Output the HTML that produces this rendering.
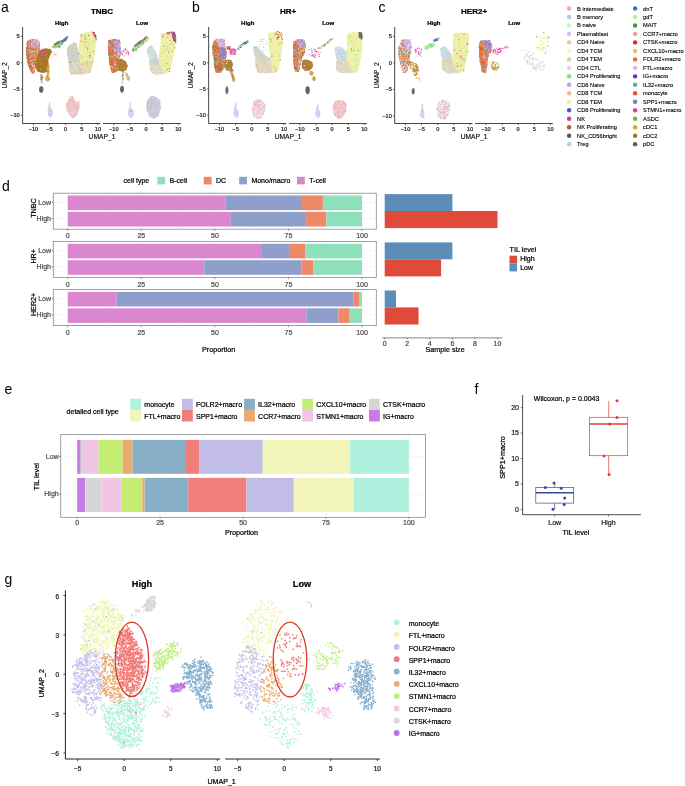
<!DOCTYPE html><html><head><meta charset="utf-8"><style>html,body{margin:0;padding:0;background:#fff;overflow:hidden;}svg{display:block;will-change:transform;}text{font-family:"Liberation Sans", sans-serif;}</style></head><body><svg width="685" height="786" viewBox="0 0 685 786">
<defs><filter id="bl" x="-5%" y="-5%" width="110%" height="110%"><feGaussianBlur stdDeviation="0.45"/></filter></defs><rect width="685" height="786" fill="#fff"/>
<text x="1.10" y="12.20" font-size="14" text-anchor="start" fill="#000">a</text><text x="102.00" y="13.60" font-size="8" text-anchor="middle" font-weight="bold" fill="#000" stroke="#000" stroke-width="0.22">TNBC</text><text x="61.70" y="25.20" font-size="6" text-anchor="middle" font-weight="bold" fill="#000" stroke="#000" stroke-width="0.22">High</text><text x="142.10" y="25.20" font-size="6" text-anchor="middle" font-weight="bold" fill="#000" stroke="#000" stroke-width="0.22">Low</text><line x1="22.60" y1="27.00" x2="22.60" y2="123.50" stroke="#333" stroke-width="0.9"/><line x1="22.60" y1="123.50" x2="100.40" y2="123.50" stroke="#333" stroke-width="0.9"/><line x1="33.40" y1="123.50" x2="33.40" y2="125.20" stroke="#333" stroke-width="0.7"/><text x="33.40" y="131.20" font-size="5.6" text-anchor="middle" fill="#1a1a1a" stroke="#1a1a1a" stroke-width="0.22">−10</text><line x1="49.53" y1="123.50" x2="49.53" y2="125.20" stroke="#333" stroke-width="0.7"/><text x="49.53" y="131.20" font-size="5.6" text-anchor="middle" fill="#1a1a1a" stroke="#1a1a1a" stroke-width="0.22">−5</text><line x1="65.65" y1="123.50" x2="65.65" y2="125.20" stroke="#333" stroke-width="0.7"/><text x="65.65" y="131.20" font-size="5.6" text-anchor="middle" fill="#1a1a1a" stroke="#1a1a1a" stroke-width="0.22">0</text><line x1="81.78" y1="123.50" x2="81.78" y2="125.20" stroke="#333" stroke-width="0.7"/><text x="81.78" y="131.20" font-size="5.6" text-anchor="middle" fill="#1a1a1a" stroke="#1a1a1a" stroke-width="0.22">5</text><line x1="97.90" y1="123.50" x2="97.90" y2="125.20" stroke="#333" stroke-width="0.7"/><text x="97.90" y="131.20" font-size="5.6" text-anchor="middle" fill="#1a1a1a" stroke="#1a1a1a" stroke-width="0.22">10</text><line x1="20.90" y1="36.45" x2="22.60" y2="36.45" stroke="#333" stroke-width="0.7"/><text x="19.70" y="38.45" font-size="5.6" text-anchor="end" fill="#1a1a1a" stroke="#1a1a1a" stroke-width="0.22">5</text><line x1="20.90" y1="62.70" x2="22.60" y2="62.70" stroke="#333" stroke-width="0.7"/><text x="19.70" y="64.70" font-size="5.6" text-anchor="end" fill="#1a1a1a" stroke="#1a1a1a" stroke-width="0.22">0</text><line x1="20.90" y1="88.95" x2="22.60" y2="88.95" stroke="#333" stroke-width="0.7"/><text x="19.70" y="90.95" font-size="5.6" text-anchor="end" fill="#1a1a1a" stroke="#1a1a1a" stroke-width="0.22">−5</text><line x1="20.90" y1="115.20" x2="22.60" y2="115.20" stroke="#333" stroke-width="0.7"/><text x="19.70" y="117.20" font-size="5.6" text-anchor="end" fill="#1a1a1a" stroke="#1a1a1a" stroke-width="0.22">−10</text><line x1="103.00" y1="123.50" x2="180.80" y2="123.50" stroke="#333" stroke-width="0.9"/><line x1="113.80" y1="123.50" x2="113.80" y2="125.20" stroke="#333" stroke-width="0.7"/><text x="113.80" y="131.20" font-size="5.6" text-anchor="middle" fill="#1a1a1a" stroke="#1a1a1a" stroke-width="0.22">−10</text><line x1="129.93" y1="123.50" x2="129.93" y2="125.20" stroke="#333" stroke-width="0.7"/><text x="129.93" y="131.20" font-size="5.6" text-anchor="middle" fill="#1a1a1a" stroke="#1a1a1a" stroke-width="0.22">−5</text><line x1="146.05" y1="123.50" x2="146.05" y2="125.20" stroke="#333" stroke-width="0.7"/><text x="146.05" y="131.20" font-size="5.6" text-anchor="middle" fill="#1a1a1a" stroke="#1a1a1a" stroke-width="0.22">0</text><line x1="162.18" y1="123.50" x2="162.18" y2="125.20" stroke="#333" stroke-width="0.7"/><text x="162.18" y="131.20" font-size="5.6" text-anchor="middle" fill="#1a1a1a" stroke="#1a1a1a" stroke-width="0.22">5</text><line x1="178.30" y1="123.50" x2="178.30" y2="125.20" stroke="#333" stroke-width="0.7"/><text x="178.30" y="131.20" font-size="5.6" text-anchor="middle" fill="#1a1a1a" stroke="#1a1a1a" stroke-width="0.22">10</text><text x="102.00" y="139.00" font-size="6.7" text-anchor="middle" fill="#000" stroke="#000" stroke-width="0.12">UMAP_1</text><text x="6.60" y="75.40" font-size="6.6" text-anchor="middle" fill="#000" stroke="#000" stroke-width="0.1" transform="rotate(-90 6.600000000000001 75.4)">UMAP_2</text><polygon points="26.4,48.4 27.2,41.4 31.7,39.0 37.5,39.6 39.6,41.9 40.1,48.4 41.0,51.3 36.4,60.0 35.2,68.2 34.6,73.1 32.3,73.5 29.3,68.2 27.0,60.0 25.8,54.2" fill="#C88060" fill-opacity="0.55" filter="url(#bl)"/><g><path d="M31.7 38.9h0.9v0.9h-0.9zM28.2 59.5h0.9v0.9h-0.9zM27.1 56.3h0.9v0.9h-0.9zM31.6 56.6h0.9v0.9h-0.9zM38.5 50.7h0.9v0.9h-0.9zM26.0 49.4h0.9v0.9h-0.9zM35.2 63.7h0.9v0.9h-0.9zM31.3 43.3h0.9v0.9h-0.9zM35.1 44.4h0.9v0.9h-0.9zM35.4 57.8h0.9v0.9h-0.9zM30.2 50.3h0.9v0.9h-0.9zM29.4 55.4h0.9v0.9h-0.9zM30.2 59.0h0.9v0.9h-0.9zM29.1 60.8h0.9v0.9h-0.9zM29.3 54.8h0.9v0.9h-0.9zM29.5 43.3h0.9v0.9h-0.9zM34.2 70.7h0.9v0.9h-0.9zM35.3 40.4h0.9v0.9h-0.9zM31.7 71.4h0.9v0.9h-0.9zM31.6 48.1h0.9v0.9h-0.9zM29.4 47.8h0.9v0.9h-0.9zM30.8 68.9h0.9v0.9h-0.9zM30.8 57.9h0.9v0.9h-0.9zM32.9 42.6h0.9v0.9h-0.9zM28.4 55.0h0.9v0.9h-0.9zM39.1 47.8h0.9v0.9h-0.9zM26.5 48.0h0.9v0.9h-0.9zM35.2 52.3h0.9v0.9h-0.9zM29.7 66.5h0.9v0.9h-0.9zM35.4 46.4h0.9v0.9h-0.9zM35.8 49.6h0.9v0.9h-0.9zM31.4 65.0h0.9v0.9h-0.9zM33.4 45.2h0.9v0.9h-0.9z" fill="#7F78CF"/><path d="M29.9 51.3h0.9v0.9h-0.9zM34.0 44.1h0.9v0.9h-0.9zM31.9 57.9h0.9v0.9h-0.9zM31.6 55.9h0.9v0.9h-0.9zM36.3 45.1h0.9v0.9h-0.9zM37.1 44.7h0.9v0.9h-0.9zM38.0 43.7h0.9v0.9h-0.9zM33.5 44.0h0.9v0.9h-0.9zM36.9 55.1h0.9v0.9h-0.9zM31.7 71.4h0.9v0.9h-0.9zM33.8 41.3h0.9v0.9h-0.9zM28.3 60.0h0.9v0.9h-0.9zM29.4 39.6h0.9v0.9h-0.9zM28.2 52.2h0.9v0.9h-0.9zM38.2 41.2h0.9v0.9h-0.9zM37.3 39.9h0.9v0.9h-0.9zM28.9 53.2h0.9v0.9h-0.9zM30.5 49.6h0.9v0.9h-0.9zM26.9 43.7h0.9v0.9h-0.9zM29.7 68.1h0.9v0.9h-0.9zM27.3 58.1h0.9v0.9h-0.9zM30.0 46.0h0.9v0.9h-0.9zM32.9 40.6h0.9v0.9h-0.9zM28.7 64.3h0.9v0.9h-0.9zM33.9 42.8h0.9v0.9h-0.9zM31.8 42.4h0.9v0.9h-0.9zM30.0 58.1h0.9v0.9h-0.9zM33.2 63.4h0.9v0.9h-0.9zM25.8 52.3h0.9v0.9h-0.9zM33.9 47.2h0.9v0.9h-0.9zM30.0 48.4h0.9v0.9h-0.9zM38.0 47.7h0.9v0.9h-0.9zM31.6 52.1h0.9v0.9h-0.9zM30.2 39.9h0.9v0.9h-0.9zM34.5 54.3h0.9v0.9h-0.9zM27.4 54.1h0.9v0.9h-0.9zM38.7 49.6h0.9v0.9h-0.9zM30.1 49.4h0.9v0.9h-0.9zM35.6 55.8h0.9v0.9h-0.9zM37.6 43.4h0.9v0.9h-0.9zM31.1 58.5h0.9v0.9h-0.9zM33.2 55.5h0.9v0.9h-0.9zM30.7 70.7h0.9v0.9h-0.9zM28.6 45.3h0.9v0.9h-0.9zM33.7 57.8h0.9v0.9h-0.9zM31.0 52.4h0.9v0.9h-0.9zM36.3 54.0h0.9v0.9h-0.9zM35.0 53.3h0.9v0.9h-0.9zM32.2 55.3h0.9v0.9h-0.9zM32.6 58.8h0.9v0.9h-0.9zM37.9 42.1h0.9v0.9h-0.9zM29.3 67.2h0.9v0.9h-0.9zM26.9 53.9h0.9v0.9h-0.9zM31.2 43.9h0.9v0.9h-0.9zM39.6 52.0h0.9v0.9h-0.9zM34.6 41.2h0.9v0.9h-0.9zM26.9 52.4h0.9v0.9h-0.9zM33.8 60.9h0.9v0.9h-0.9zM28.2 52.6h0.9v0.9h-0.9zM34.3 53.1h0.9v0.9h-0.9zM39.1 51.2h0.9v0.9h-0.9zM33.2 53.5h0.9v0.9h-0.9zM34.0 39.5h0.9v0.9h-0.9zM33.7 47.7h0.9v0.9h-0.9zM26.7 47.8h0.9v0.9h-0.9zM33.4 62.4h0.9v0.9h-0.9zM29.0 50.7h0.9v0.9h-0.9zM35.5 61.5h0.9v0.9h-0.9zM34.2 60.2h0.9v0.9h-0.9zM28.8 58.7h0.9v0.9h-0.9zM30.2 41.9h0.9v0.9h-0.9zM30.4 61.1h0.9v0.9h-0.9zM36.4 54.0h0.9v0.9h-0.9zM33.2 58.0h0.9v0.9h-0.9zM33.6 60.7h0.9v0.9h-0.9zM30.5 48.0h0.9v0.9h-0.9zM30.1 47.4h0.9v0.9h-0.9zM29.2 68.2h0.9v0.9h-0.9zM27.4 44.9h0.9v0.9h-0.9zM27.8 40.5h0.9v0.9h-0.9zM35.6 41.0h0.9v0.9h-0.9zM32.3 49.1h0.9v0.9h-0.9zM31.0 67.3h0.9v0.9h-0.9zM26.4 58.0h0.9v0.9h-0.9zM31.4 48.3h0.9v0.9h-0.9zM30.6 40.9h0.9v0.9h-0.9zM28.3 57.0h0.9v0.9h-0.9zM34.6 63.8h0.9v0.9h-0.9zM38.5 41.6h0.9v0.9h-0.9zM29.7 40.4h0.9v0.9h-0.9zM35.3 41.1h0.9v0.9h-0.9zM31.8 53.9h0.9v0.9h-0.9zM38.3 47.3h0.9v0.9h-0.9zM35.1 47.6h0.9v0.9h-0.9zM29.3 65.7h0.9v0.9h-0.9zM33.5 49.6h0.9v0.9h-0.9zM30.4 59.0h0.9v0.9h-0.9zM36.8 51.0h0.9v0.9h-0.9zM36.1 56.4h0.9v0.9h-0.9zM32.7 44.1h0.9v0.9h-0.9zM36.5 48.8h0.9v0.9h-0.9zM34.4 49.7h0.9v0.9h-0.9zM29.8 43.1h0.9v0.9h-0.9zM31.5 51.9h0.9v0.9h-0.9zM28.5 56.2h0.9v0.9h-0.9zM29.2 47.6h0.9v0.9h-0.9zM32.9 71.5h0.9v0.9h-0.9zM32.1 39.0h0.9v0.9h-0.9zM35.3 47.6h0.9v0.9h-0.9zM32.9 39.1h0.9v0.9h-0.9zM28.2 63.2h0.9v0.9h-0.9zM27.6 52.1h0.9v0.9h-0.9zM35.0 55.6h0.9v0.9h-0.9zM30.9 41.4h0.9v0.9h-0.9zM38.4 50.7h0.9v0.9h-0.9zM33.9 52.8h0.9v0.9h-0.9zM30.0 45.8h0.9v0.9h-0.9zM31.8 43.7h0.9v0.9h-0.9zM28.9 65.1h0.9v0.9h-0.9zM29.9 50.9h0.9v0.9h-0.9zM39.2 45.2h0.9v0.9h-0.9zM37.6 51.5h0.9v0.9h-0.9zM31.9 56.0h0.9v0.9h-0.9zM33.9 63.8h0.9v0.9h-0.9zM30.1 51.8h0.9v0.9h-0.9zM28.2 48.2h0.9v0.9h-0.9zM31.3 56.3h0.9v0.9h-0.9zM34.2 54.1h0.9v0.9h-0.9zM32.2 45.6h0.9v0.9h-0.9zM38.6 52.8h0.9v0.9h-0.9zM29.5 53.8h0.9v0.9h-0.9zM33.3 45.7h0.9v0.9h-0.9zM29.4 41.6h0.9v0.9h-0.9zM30.4 46.5h0.9v0.9h-0.9zM26.5 50.7h0.9v0.9h-0.9zM35.0 42.8h0.9v0.9h-0.9zM33.2 39.9h0.9v0.9h-0.9zM28.5 42.4h0.9v0.9h-0.9zM37.7 53.2h0.9v0.9h-0.9zM30.1 57.6h0.9v0.9h-0.9zM29.9 67.5h0.9v0.9h-0.9zM29.5 63.2h0.9v0.9h-0.9zM29.0 42.9h0.9v0.9h-0.9zM30.2 39.9h0.9v0.9h-0.9zM34.2 63.1h0.9v0.9h-0.9zM30.4 45.2h0.9v0.9h-0.9zM35.6 57.7h0.9v0.9h-0.9zM32.8 50.4h0.9v0.9h-0.9zM29.7 41.9h0.9v0.9h-0.9zM31.9 71.3h0.9v0.9h-0.9zM33.6 53.7h0.9v0.9h-0.9zM35.9 49.0h0.9v0.9h-0.9zM26.1 54.2h0.9v0.9h-0.9zM36.6 49.4h0.9v0.9h-0.9zM38.2 45.6h0.9v0.9h-0.9zM33.4 52.1h0.9v0.9h-0.9zM27.4 51.4h0.9v0.9h-0.9zM35.9 41.1h0.9v0.9h-0.9zM28.0 58.2h0.9v0.9h-0.9zM26.5 48.4h0.9v0.9h-0.9zM26.9 53.7h0.9v0.9h-0.9zM26.3 55.4h0.9v0.9h-0.9zM26.5 54.6h0.9v0.9h-0.9zM32.2 40.6h0.9v0.9h-0.9zM34.1 70.3h0.9v0.9h-0.9zM32.6 60.2h0.9v0.9h-0.9zM32.9 44.3h0.9v0.9h-0.9zM36.6 48.7h0.9v0.9h-0.9zM30.9 71.4h0.9v0.9h-0.9zM33.0 48.9h0.9v0.9h-0.9zM27.4 43.7h0.9v0.9h-0.9zM28.2 65.3h0.9v0.9h-0.9zM35.6 60.6h0.9v0.9h-0.9zM32.4 47.3h0.9v0.9h-0.9zM30.4 69.9h0.9v0.9h-0.9zM31.4 65.5h0.9v0.9h-0.9z" fill="#DB5A1C"/><path d="M33.8 50.8h0.9v0.9h-0.9zM34.0 50.9h0.9v0.9h-0.9zM34.3 46.9h0.9v0.9h-0.9zM36.8 46.5h0.9v0.9h-0.9zM37.4 46.6h0.9v0.9h-0.9zM37.3 50.5h0.9v0.9h-0.9zM30.3 53.5h0.9v0.9h-0.9zM39.3 52.8h0.9v0.9h-0.9zM26.6 50.9h0.9v0.9h-0.9zM39.3 53.0h0.9v0.9h-0.9zM27.3 53.7h0.9v0.9h-0.9zM38.6 48.7h0.9v0.9h-0.9zM26.1 49.9h0.9v0.9h-0.9zM26.6 48.0h0.9v0.9h-0.9zM38.7 53.8h0.9v0.9h-0.9zM38.2 47.4h0.9v0.9h-0.9zM31.4 52.0h0.9v0.9h-0.9zM36.4 58.5h0.9v0.9h-0.9zM32.2 43.1h0.9v0.9h-0.9zM34.7 51.2h0.9v0.9h-0.9zM32.3 65.4h0.9v0.9h-0.9z" fill="#ffffff"/><path d="M31.7 69.1h0.9v0.9h-0.9zM28.6 66.2h0.9v0.9h-0.9zM34.9 49.8h0.9v0.9h-0.9zM27.8 48.5h0.9v0.9h-0.9zM30.4 48.6h0.9v0.9h-0.9zM30.9 56.4h0.9v0.9h-0.9zM33.4 57.5h0.9v0.9h-0.9zM27.7 56.9h0.9v0.9h-0.9zM35.4 57.9h0.9v0.9h-0.9zM31.2 58.2h0.9v0.9h-0.9zM35.9 45.5h0.9v0.9h-0.9zM37.4 47.2h0.9v0.9h-0.9zM30.3 43.0h0.9v0.9h-0.9zM33.0 57.1h0.9v0.9h-0.9zM31.2 49.3h0.9v0.9h-0.9zM31.0 62.4h0.9v0.9h-0.9zM27.3 40.8h0.9v0.9h-0.9zM34.3 61.1h0.9v0.9h-0.9zM27.2 53.7h0.9v0.9h-0.9zM28.2 61.4h0.9v0.9h-0.9zM28.5 43.1h0.9v0.9h-0.9zM34.6 46.3h0.9v0.9h-0.9zM32.5 61.3h0.9v0.9h-0.9zM37.0 54.5h0.9v0.9h-0.9zM32.8 63.8h0.9v0.9h-0.9zM27.1 60.7h0.9v0.9h-0.9zM29.0 40.7h0.9v0.9h-0.9zM30.3 67.2h0.9v0.9h-0.9zM38.7 42.3h0.9v0.9h-0.9zM31.0 53.6h0.9v0.9h-0.9zM34.6 57.3h0.9v0.9h-0.9zM26.8 60.4h0.9v0.9h-0.9zM27.6 56.2h0.9v0.9h-0.9zM36.8 45.1h0.9v0.9h-0.9zM34.3 59.7h0.9v0.9h-0.9zM32.7 41.4h0.9v0.9h-0.9zM31.0 65.7h0.9v0.9h-0.9zM27.0 53.5h0.9v0.9h-0.9zM29.0 54.1h0.9v0.9h-0.9zM28.1 54.3h0.9v0.9h-0.9zM36.2 43.7h0.9v0.9h-0.9zM29.7 54.3h0.9v0.9h-0.9zM30.9 40.7h0.9v0.9h-0.9zM32.5 52.4h0.9v0.9h-0.9zM35.8 49.2h0.9v0.9h-0.9zM38.9 48.9h0.9v0.9h-0.9zM30.4 49.0h0.9v0.9h-0.9zM29.1 67.8h0.9v0.9h-0.9zM28.9 52.0h0.9v0.9h-0.9zM27.2 48.2h0.9v0.9h-0.9zM36.7 44.2h0.9v0.9h-0.9z" fill="#B95A2A"/><path d="M36.5 46.6h0.9v0.9h-0.9zM28.2 58.9h0.9v0.9h-0.9zM26.8 56.0h0.9v0.9h-0.9zM25.8 50.0h0.9v0.9h-0.9zM28.1 62.0h0.9v0.9h-0.9zM30.3 40.9h0.9v0.9h-0.9zM37.5 47.5h0.9v0.9h-0.9zM34.9 40.9h0.9v0.9h-0.9zM35.8 52.4h0.9v0.9h-0.9zM29.4 64.0h0.9v0.9h-0.9zM37.2 44.2h0.9v0.9h-0.9zM35.4 39.1h0.9v0.9h-0.9zM31.3 62.1h0.9v0.9h-0.9zM39.3 44.0h0.9v0.9h-0.9zM28.8 56.1h0.9v0.9h-0.9zM26.4 44.2h0.9v0.9h-0.9zM29.2 62.8h0.9v0.9h-0.9zM29.3 43.1h0.9v0.9h-0.9zM34.3 47.6h0.9v0.9h-0.9zM33.3 68.0h0.9v0.9h-0.9zM27.5 62.2h0.9v0.9h-0.9zM32.6 66.9h0.9v0.9h-0.9zM31.3 48.0h0.9v0.9h-0.9zM31.6 67.3h0.9v0.9h-0.9zM30.7 62.1h0.9v0.9h-0.9zM32.4 43.2h0.9v0.9h-0.9zM31.2 53.3h0.9v0.9h-0.9zM30.5 65.5h0.9v0.9h-0.9zM34.5 61.1h0.9v0.9h-0.9zM29.5 62.3h0.9v0.9h-0.9zM31.2 69.8h0.9v0.9h-0.9zM32.1 60.4h0.9v0.9h-0.9zM32.4 67.8h0.9v0.9h-0.9zM31.6 53.6h0.9v0.9h-0.9zM28.0 48.0h0.9v0.9h-0.9zM38.0 43.7h0.9v0.9h-0.9zM28.2 62.2h0.9v0.9h-0.9zM33.9 46.1h0.9v0.9h-0.9zM31.7 57.5h0.9v0.9h-0.9zM33.9 70.5h0.9v0.9h-0.9zM28.6 65.1h0.9v0.9h-0.9zM38.1 46.1h0.9v0.9h-0.9zM32.9 40.9h0.9v0.9h-0.9zM35.8 57.6h0.9v0.9h-0.9zM29.4 54.1h0.9v0.9h-0.9zM32.7 39.1h0.9v0.9h-0.9zM33.4 72.5h0.9v0.9h-0.9zM31.4 54.5h0.9v0.9h-0.9zM27.4 49.5h0.9v0.9h-0.9zM34.0 41.5h0.9v0.9h-0.9zM37.8 45.1h0.9v0.9h-0.9zM38.5 48.6h0.9v0.9h-0.9zM33.6 48.1h0.9v0.9h-0.9zM33.7 66.9h0.9v0.9h-0.9zM34.7 48.4h0.9v0.9h-0.9zM27.0 52.3h0.9v0.9h-0.9zM35.7 54.2h0.9v0.9h-0.9zM35.2 50.7h0.9v0.9h-0.9zM36.0 49.9h0.9v0.9h-0.9zM36.3 44.6h0.9v0.9h-0.9zM33.4 63.7h0.9v0.9h-0.9zM36.2 39.8h0.9v0.9h-0.9z" fill="#EB6E25"/><path d="M37.6 46.6h0.9v0.9h-0.9zM31.7 46.9h0.9v0.9h-0.9zM27.8 63.8h0.9v0.9h-0.9zM28.3 47.8h0.9v0.9h-0.9zM30.1 48.6h0.9v0.9h-0.9zM27.2 51.7h0.9v0.9h-0.9zM27.4 53.1h0.9v0.9h-0.9zM32.5 44.2h0.9v0.9h-0.9zM31.7 61.8h0.9v0.9h-0.9zM33.8 70.7h0.9v0.9h-0.9zM33.1 62.5h0.9v0.9h-0.9zM33.3 39.2h0.9v0.9h-0.9zM33.2 50.4h0.9v0.9h-0.9zM35.6 57.4h0.9v0.9h-0.9zM30.1 53.2h0.9v0.9h-0.9zM27.5 57.8h0.9v0.9h-0.9zM33.9 51.8h0.9v0.9h-0.9zM30.4 67.2h0.9v0.9h-0.9zM30.9 56.7h0.9v0.9h-0.9zM35.1 53.2h0.9v0.9h-0.9zM27.6 49.8h0.9v0.9h-0.9zM37.2 48.2h0.9v0.9h-0.9zM34.6 54.6h0.9v0.9h-0.9zM36.8 56.7h0.9v0.9h-0.9zM30.1 43.1h0.9v0.9h-0.9zM33.8 52.4h0.9v0.9h-0.9zM33.2 62.2h0.9v0.9h-0.9zM32.7 42.6h0.9v0.9h-0.9z" fill="#52B589"/><path d="M37.1 51.2h0.9v0.9h-0.9zM29.1 52.8h0.9v0.9h-0.9zM36.1 39.8h0.9v0.9h-0.9zM30.7 69.6h0.9v0.9h-0.9zM28.8 51.3h0.9v0.9h-0.9zM30.9 52.3h0.9v0.9h-0.9zM31.3 60.7h0.9v0.9h-0.9zM28.8 60.0h0.9v0.9h-0.9zM28.9 42.0h0.9v0.9h-0.9zM39.0 43.3h0.9v0.9h-0.9zM32.3 71.6h0.9v0.9h-0.9zM34.1 53.3h0.9v0.9h-0.9zM34.0 64.9h0.9v0.9h-0.9zM25.7 51.2h0.9v0.9h-0.9zM33.8 45.5h0.9v0.9h-0.9zM31.8 63.4h0.9v0.9h-0.9zM31.2 55.9h0.9v0.9h-0.9zM37.5 47.3h0.9v0.9h-0.9zM29.4 45.8h0.9v0.9h-0.9zM29.7 58.0h0.9v0.9h-0.9zM35.6 56.9h0.9v0.9h-0.9zM34.6 63.9h0.9v0.9h-0.9zM33.3 55.3h0.9v0.9h-0.9zM36.5 45.3h0.9v0.9h-0.9zM35.3 49.4h0.9v0.9h-0.9zM36.7 48.6h0.9v0.9h-0.9z" fill="#D2B4F0"/><path d="M26.8 44.6h0.9v0.9h-0.9zM27.8 62.0h0.9v0.9h-0.9zM33.8 59.3h0.9v0.9h-0.9zM37.5 52.8h0.9v0.9h-0.9zM28.2 63.1h0.9v0.9h-0.9zM30.8 46.3h0.9v0.9h-0.9zM33.7 65.9h0.9v0.9h-0.9zM28.5 42.8h0.9v0.9h-0.9zM37.3 55.8h0.9v0.9h-0.9zM30.1 51.1h0.9v0.9h-0.9zM29.6 42.0h0.9v0.9h-0.9zM33.3 47.3h0.9v0.9h-0.9zM30.3 49.3h0.9v0.9h-0.9zM37.0 47.6h0.9v0.9h-0.9zM32.0 65.5h0.9v0.9h-0.9z" fill="#EEB77A"/></g><polygon points="26.4,48.4 27.2,42.0 28.8,42.0 29.2,56.0 31.0,66.0 33.5,73.3 32.3,73.5 29.3,68.2 27.0,60.0 25.8,54.2" fill="#D87038" fill-opacity="0.35" filter="url(#bl)"/><g><path d="M30.2 63.5h0.9v0.9h-0.9zM29.6 62.0h0.9v0.9h-0.9zM27.1 55.1h0.9v0.9h-0.9zM29.2 68.3h0.9v0.9h-0.9zM27.7 56.6h0.9v0.9h-0.9zM28.2 43.4h0.9v0.9h-0.9zM27.8 44.5h0.9v0.9h-0.9zM27.2 57.8h0.9v0.9h-0.9zM27.9 60.7h0.9v0.9h-0.9zM26.5 54.3h0.9v0.9h-0.9zM28.8 63.2h0.9v0.9h-0.9zM27.5 53.7h0.9v0.9h-0.9zM28.4 59.0h0.9v0.9h-0.9zM32.3 72.8h0.9v0.9h-0.9zM27.4 60.4h0.9v0.9h-0.9zM31.8 71.8h0.9v0.9h-0.9z" fill="#EB6E25"/><path d="M28.7 59.6h0.9v0.9h-0.9zM26.9 50.3h0.9v0.9h-0.9zM28.6 59.8h0.9v0.9h-0.9zM29.7 63.7h0.9v0.9h-0.9zM28.0 59.2h0.9v0.9h-0.9zM27.0 43.6h0.9v0.9h-0.9zM27.2 57.5h0.9v0.9h-0.9zM28.9 59.9h0.9v0.9h-0.9zM28.5 50.8h0.9v0.9h-0.9zM30.4 69.4h0.9v0.9h-0.9zM28.0 51.5h0.9v0.9h-0.9zM27.1 55.1h0.9v0.9h-0.9zM28.5 58.1h0.9v0.9h-0.9zM27.6 63.3h0.9v0.9h-0.9zM28.9 64.9h0.9v0.9h-0.9zM30.2 66.4h0.9v0.9h-0.9zM28.8 63.1h0.9v0.9h-0.9zM26.1 47.0h0.9v0.9h-0.9zM27.7 41.7h0.9v0.9h-0.9zM28.1 45.5h0.9v0.9h-0.9zM31.2 68.9h0.9v0.9h-0.9zM29.3 64.8h0.9v0.9h-0.9zM26.0 48.0h0.9v0.9h-0.9zM27.3 62.0h0.9v0.9h-0.9zM26.8 42.9h0.9v0.9h-0.9zM26.7 42.6h0.9v0.9h-0.9zM30.2 65.8h0.9v0.9h-0.9zM27.0 45.8h0.9v0.9h-0.9zM27.0 47.2h0.9v0.9h-0.9zM27.8 41.8h0.9v0.9h-0.9zM26.9 52.0h0.9v0.9h-0.9zM28.5 61.0h0.9v0.9h-0.9zM30.4 69.4h0.9v0.9h-0.9zM27.4 43.7h0.9v0.9h-0.9zM27.8 53.6h0.9v0.9h-0.9z" fill="#DB5A1C"/><path d="M28.6 59.3h0.9v0.9h-0.9zM29.1 67.5h0.9v0.9h-0.9zM26.0 49.3h0.9v0.9h-0.9zM27.5 52.0h0.9v0.9h-0.9zM28.0 64.5h0.9v0.9h-0.9zM30.7 70.1h0.9v0.9h-0.9zM31.8 73.0h0.9v0.9h-0.9z" fill="#52B589"/><path d="M25.9 54.5h0.9v0.9h-0.9zM28.1 42.9h0.9v0.9h-0.9zM28.9 64.2h0.9v0.9h-0.9zM27.9 51.9h0.9v0.9h-0.9zM28.0 43.5h0.9v0.9h-0.9z" fill="#D2B4F0"/></g><polygon points="30.0,39.5 37.5,39.6 39.6,41.9 39.0,46.0 33.0,47.0 30.5,44.0" fill="#CDB0DA" fill-opacity="0.6" filter="url(#bl)"/><g><path d="M36.4 40.9h0.9v0.9h-0.9zM36.3 42.5h0.9v0.9h-0.9zM34.8 45.7h0.9v0.9h-0.9zM33.5 44.0h0.9v0.9h-0.9zM35.8 42.2h0.9v0.9h-0.9zM34.1 39.5h0.9v0.9h-0.9zM30.7 43.1h0.9v0.9h-0.9zM33.6 46.0h0.9v0.9h-0.9zM30.8 42.1h0.9v0.9h-0.9zM36.9 44.4h0.9v0.9h-0.9zM37.6 40.8h0.9v0.9h-0.9zM36.4 40.3h0.9v0.9h-0.9zM31.2 39.3h0.9v0.9h-0.9zM35.8 43.8h0.9v0.9h-0.9zM31.3 43.3h0.9v0.9h-0.9z" fill="#D2B4F0"/><path d="M38.1 41.6h0.9v0.9h-0.9zM33.7 41.6h0.9v0.9h-0.9zM34.4 39.6h0.9v0.9h-0.9zM31.2 43.4h0.9v0.9h-0.9zM37.4 43.8h0.9v0.9h-0.9z" fill="#ffffff"/><path d="M30.1 42.8h0.9v0.9h-0.9zM30.1 41.6h0.9v0.9h-0.9zM35.0 43.7h0.9v0.9h-0.9z" fill="#7F78CF"/></g><polygon points="38.7,51.3 43.4,48.4 50.9,48.9 51.8,52.4 49.8,56.0 48.3,60.0 48.6,65.9 48.0,71.7 43.4,73.1 37.5,71.7 35.0,67.0 36.1,60.0 38.1,55.4" fill="#A97828" fill-opacity="1.0" filter="url(#bl)"/><g><path d="M41.0 66.0h0.9v0.9h-0.9zM45.4 53.7h0.9v0.9h-0.9zM37.0 65.0h0.9v0.9h-0.9zM48.0 53.2h0.9v0.9h-0.9zM41.0 57.7h0.9v0.9h-0.9zM36.9 59.9h0.9v0.9h-0.9zM44.5 54.6h0.9v0.9h-0.9zM37.8 63.6h0.9v0.9h-0.9zM37.8 63.9h0.9v0.9h-0.9zM45.0 57.8h0.9v0.9h-0.9zM43.2 59.9h0.9v0.9h-0.9zM45.3 58.6h0.9v0.9h-0.9zM50.8 50.8h0.9v0.9h-0.9zM38.1 53.0h0.9v0.9h-0.9zM42.4 71.0h0.9v0.9h-0.9zM43.6 68.4h0.9v0.9h-0.9zM36.7 65.3h0.9v0.9h-0.9z" fill="#B95A2A"/><path d="M40.5 69.1h0.9v0.9h-0.9zM42.5 52.4h0.9v0.9h-0.9zM35.6 61.7h0.9v0.9h-0.9zM36.9 62.2h0.9v0.9h-0.9zM46.6 53.8h0.9v0.9h-0.9zM39.2 52.7h0.9v0.9h-0.9zM39.3 52.3h0.9v0.9h-0.9zM40.2 68.8h0.9v0.9h-0.9zM49.9 49.4h0.9v0.9h-0.9zM40.8 63.1h0.9v0.9h-0.9zM46.1 58.0h0.9v0.9h-0.9zM41.2 51.2h0.9v0.9h-0.9zM45.1 54.6h0.9v0.9h-0.9zM35.3 62.1h0.9v0.9h-0.9zM49.9 49.1h0.9v0.9h-0.9zM46.3 69.1h0.9v0.9h-0.9zM47.2 66.8h0.9v0.9h-0.9zM40.5 57.8h0.9v0.9h-0.9zM43.8 65.3h0.9v0.9h-0.9zM39.2 58.5h0.9v0.9h-0.9zM37.4 62.1h0.9v0.9h-0.9zM35.9 68.9h0.9v0.9h-0.9z" fill="#D9A42E"/><path d="M38.2 53.2h0.9v0.9h-0.9zM48.6 56.4h0.9v0.9h-0.9zM39.1 55.7h0.9v0.9h-0.9zM38.6 63.6h0.9v0.9h-0.9zM40.7 70.7h0.9v0.9h-0.9zM41.0 52.6h0.9v0.9h-0.9zM40.5 55.1h0.9v0.9h-0.9zM39.4 55.6h0.9v0.9h-0.9zM37.7 60.9h0.9v0.9h-0.9zM47.2 61.3h0.9v0.9h-0.9zM38.1 54.9h0.9v0.9h-0.9zM43.9 57.3h0.9v0.9h-0.9zM41.4 71.8h0.9v0.9h-0.9zM39.2 67.2h0.9v0.9h-0.9zM45.4 48.7h0.9v0.9h-0.9zM44.3 57.5h0.9v0.9h-0.9zM41.8 58.4h0.9v0.9h-0.9zM46.2 48.2h0.9v0.9h-0.9zM45.5 70.8h0.9v0.9h-0.9zM43.0 70.2h0.9v0.9h-0.9zM38.8 64.9h0.9v0.9h-0.9zM42.9 70.9h0.9v0.9h-0.9zM35.1 63.1h0.9v0.9h-0.9zM38.6 61.2h0.9v0.9h-0.9zM43.8 62.6h0.9v0.9h-0.9zM43.0 61.1h0.9v0.9h-0.9zM38.4 52.7h0.9v0.9h-0.9zM42.0 51.9h0.9v0.9h-0.9zM37.5 55.4h0.9v0.9h-0.9zM45.9 60.4h0.9v0.9h-0.9zM46.4 52.4h0.9v0.9h-0.9zM36.3 62.7h0.9v0.9h-0.9zM43.2 59.4h0.9v0.9h-0.9zM42.5 58.6h0.9v0.9h-0.9zM46.5 49.4h0.9v0.9h-0.9zM40.3 60.9h0.9v0.9h-0.9zM38.9 66.1h0.9v0.9h-0.9zM46.7 70.5h0.9v0.9h-0.9zM42.9 68.8h0.9v0.9h-0.9zM42.7 64.0h0.9v0.9h-0.9zM50.3 52.4h0.9v0.9h-0.9zM43.0 49.8h0.9v0.9h-0.9zM47.1 65.2h0.9v0.9h-0.9zM42.4 69.0h0.9v0.9h-0.9zM46.4 68.2h0.9v0.9h-0.9zM38.2 55.8h0.9v0.9h-0.9zM43.5 50.3h0.9v0.9h-0.9zM40.5 51.7h0.9v0.9h-0.9zM38.1 54.8h0.9v0.9h-0.9zM46.9 65.0h0.9v0.9h-0.9zM47.8 53.9h0.9v0.9h-0.9zM35.2 64.8h0.9v0.9h-0.9zM44.7 50.9h0.9v0.9h-0.9zM39.1 62.1h0.9v0.9h-0.9zM44.7 56.3h0.9v0.9h-0.9zM42.5 53.2h0.9v0.9h-0.9zM37.6 55.8h0.9v0.9h-0.9zM43.9 61.1h0.9v0.9h-0.9zM40.3 58.3h0.9v0.9h-0.9zM44.4 57.5h0.9v0.9h-0.9zM39.7 56.9h0.9v0.9h-0.9zM43.9 64.4h0.9v0.9h-0.9z" fill="#A67628"/></g><polygon points="46.3,68.2 48.5,62.0 49.5,66.0 49.2,75.2 47.0,75.2" fill="#C89A35" fill-opacity="0.8" filter="url(#bl)"/><g><path d="M47.2 67.5h0.9v0.9h-0.9zM48.1 64.8h0.9v0.9h-0.9zM48.5 71.3h0.9v0.9h-0.9zM48.6 70.8h0.9v0.9h-0.9zM47.3 69.6h0.9v0.9h-0.9zM48.6 71.2h0.9v0.9h-0.9zM46.3 67.8h0.9v0.9h-0.9zM48.4 73.0h0.9v0.9h-0.9zM47.2 69.6h0.9v0.9h-0.9zM48.2 71.3h0.9v0.9h-0.9zM48.9 71.4h0.9v0.9h-0.9z" fill="#D9A42E"/></g><polygon points="41.0,49.5 44.0,49.0 46.8,51.0 45.5,56.0 42.5,57.5 41.0,55.0" fill="#D36FA0" fill-opacity="0.55" filter="url(#bl)"/><g><path d="M45.1 51.8h0.9v0.9h-0.9zM45.1 50.9h0.9v0.9h-0.9zM43.1 53.8h0.9v0.9h-0.9zM42.8 56.2h0.9v0.9h-0.9zM41.4 51.8h0.9v0.9h-0.9zM45.7 52.7h0.9v0.9h-0.9zM42.5 56.1h0.9v0.9h-0.9zM41.5 50.4h0.9v0.9h-0.9zM43.3 54.3h0.9v0.9h-0.9zM44.1 53.5h0.9v0.9h-0.9zM43.3 50.3h0.9v0.9h-0.9zM44.5 53.9h0.9v0.9h-0.9zM42.2 50.6h0.9v0.9h-0.9z" fill="#E0338C"/><path d="M41.8 56.6h0.9v0.9h-0.9zM43.1 55.6h0.9v0.9h-0.9zM42.2 49.4h0.9v0.9h-0.9zM42.8 50.4h0.9v0.9h-0.9zM43.0 53.5h0.9v0.9h-0.9z" fill="#DE3FA0"/><path d="M44.5 52.8h0.9v0.9h-0.9zM41.0 51.2h0.9v0.9h-0.9zM41.2 53.9h0.9v0.9h-0.9z" fill="#D0302A"/></g><polygon points="39.9,74.0 42.8,74.0 43.0,79.0 42.5,83.4 40.8,83.4 40.2,79.0" fill="#A09070" fill-opacity="0.5" filter="url(#bl)"/><g><path d="M41.5 76.6h0.9v0.9h-0.9zM40.8 78.8h0.9v0.9h-0.9zM42.4 77.1h0.9v0.9h-0.9zM42.0 76.4h0.9v0.9h-0.9zM41.1 75.4h0.9v0.9h-0.9zM40.7 76.8h0.9v0.9h-0.9zM41.5 77.8h0.9v0.9h-0.9z" fill="#A67628"/><path d="M41.9 82.3h0.9v0.9h-0.9zM42.2 75.1h0.9v0.9h-0.9zM41.6 81.1h0.9v0.9h-0.9z" fill="#D2B4F0"/><path d="M40.6 77.4h0.9v0.9h-0.9zM41.1 78.1h0.9v0.9h-0.9zM42.3 76.9h0.9v0.9h-0.9zM40.0 78.9h0.9v0.9h-0.9z" fill="#6DB535"/></g><polygon points="49.8,78.4 49.6,79.6 49.1,80.7 48.4,81.4 47.5,81.6 46.6,81.4 45.9,80.7 45.4,79.6 45.2,78.4 45.4,77.2 45.9,76.1 46.6,75.4 47.5,75.2 48.4,75.4 49.1,76.1 49.6,77.2" fill="#D5A035" fill-opacity="0.85" filter="url(#bl)"/><g><path d="M46.4 76.5h0.9v0.9h-0.9zM46.1 77.9h0.9v0.9h-0.9zM48.7 78.5h0.9v0.9h-0.9zM47.5 78.2h0.9v0.9h-0.9zM48.1 76.4h0.9v0.9h-0.9zM48.6 79.3h0.9v0.9h-0.9zM46.3 78.1h0.9v0.9h-0.9z" fill="#D9A42E"/><path d="M49.0 79.2h0.9v0.9h-0.9zM46.7 75.3h0.9v0.9h-0.9z" fill="#A67628"/></g><polygon points="51.5,47.8 55.0,48.4 59.7,47.2 63.2,43.7 66.7,39.6 67.9,37.3 66.1,36.7 62.0,40.2 57.4,41.4 53.9,44.3" fill="#8EDB82" fill-opacity="0.9" filter="url(#bl)"/><g><path d="M60.4 42.6h0.9v0.9h-0.9zM58.3 46.7h0.9v0.9h-0.9zM67.3 36.8h0.9v0.9h-0.9zM57.7 41.0h0.9v0.9h-0.9zM63.2 38.7h0.9v0.9h-0.9z" fill="#B4F59A"/><path d="M64.8 39.2h0.9v0.9h-0.9zM58.7 46.6h0.9v0.9h-0.9zM54.2 45.2h0.9v0.9h-0.9zM62.6 42.0h0.9v0.9h-0.9zM56.3 42.4h0.9v0.9h-0.9zM61.8 43.3h0.9v0.9h-0.9zM53.9 47.5h0.9v0.9h-0.9z" fill="#ffffff"/><path d="M58.7 46.4h0.9v0.9h-0.9zM57.3 45.3h0.9v0.9h-0.9zM61.5 40.1h0.9v0.9h-0.9zM66.3 38.0h0.9v0.9h-0.9zM62.9 42.4h0.9v0.9h-0.9zM55.2 46.3h0.9v0.9h-0.9zM59.3 41.7h0.9v0.9h-0.9zM52.3 45.9h0.9v0.9h-0.9zM58.9 43.9h0.9v0.9h-0.9zM56.4 46.0h0.9v0.9h-0.9zM60.9 44.6h0.9v0.9h-0.9zM55.6 45.5h0.9v0.9h-0.9zM57.5 45.7h0.9v0.9h-0.9zM56.2 42.4h0.9v0.9h-0.9zM55.6 45.8h0.9v0.9h-0.9zM62.0 42.9h0.9v0.9h-0.9zM58.3 46.0h0.9v0.9h-0.9zM62.6 40.9h0.9v0.9h-0.9zM57.2 41.6h0.9v0.9h-0.9zM60.7 44.5h0.9v0.9h-0.9z" fill="#73E373"/><path d="M58.3 42.0h0.9v0.9h-0.9zM53.8 44.6h0.9v0.9h-0.9zM59.0 46.8h0.9v0.9h-0.9zM59.4 46.3h0.9v0.9h-0.9zM60.0 42.7h0.9v0.9h-0.9zM63.5 41.0h0.9v0.9h-0.9zM54.0 46.3h0.9v0.9h-0.9z" fill="#B95A2A"/><path d="M58.3 43.2h0.9v0.9h-0.9zM61.7 43.3h0.9v0.9h-0.9zM58.2 46.3h0.9v0.9h-0.9z" fill="#3E64B0"/></g><polygon points="53.9,44.3 57.4,41.4 60.0,40.7 59.0,43.0 55.0,45.5" fill="#9A6040" fill-opacity="0.8" filter="url(#bl)"/><g><path d="M57.2 43.3h0.9v0.9h-0.9zM54.3 43.6h0.9v0.9h-0.9z" fill="#3E64B0"/><path d="M58.6 41.1h0.9v0.9h-0.9zM56.2 43.6h0.9v0.9h-0.9zM54.8 43.0h0.9v0.9h-0.9zM55.1 44.2h0.9v0.9h-0.9z" fill="#B95A2A"/></g><polygon points="60.0,40.7 62.0,40.2 66.1,36.7 67.9,37.3 66.5,40.0 62.0,42.8" fill="#5272B0" fill-opacity="0.85" filter="url(#bl)"/><g><path d="M66.4 37.4h0.9v0.9h-0.9z" fill="#3B72B0"/><path d="M62.6 39.9h0.9v0.9h-0.9zM65.5 39.7h0.9v0.9h-0.9zM64.8 40.2h0.9v0.9h-0.9zM65.1 40.1h0.9v0.9h-0.9zM63.6 38.9h0.9v0.9h-0.9zM66.0 37.1h0.9v0.9h-0.9zM60.3 40.9h0.9v0.9h-0.9zM66.1 38.3h0.9v0.9h-0.9zM61.9 41.9h0.9v0.9h-0.9z" fill="#3E64B0"/><path d="M66.8 36.9h0.9v0.9h-0.9z" fill="#E0338C"/></g><polygon points="68.2,36.6 67.9,37.2 67.3,37.5 66.7,37.2 66.4,36.6 66.7,36.0 67.3,35.7 67.9,36.0" fill="#E05090" fill-opacity="0.8" filter="url(#bl)"/><g></g><g><path d="M53.7 53.9h0.9v0.9h-0.9zM54.2 55.0h0.9v0.9h-0.9zM52.1 56.7h0.9v0.9h-0.9zM52.5 54.3h0.9v0.9h-0.9zM51.3 56.9h0.9v0.9h-0.9zM53.0 52.1h0.9v0.9h-0.9zM56.4 56.5h0.9v0.9h-0.9zM56.2 54.2h0.9v0.9h-0.9zM55.3 52.2h0.9v0.9h-0.9z" fill="#D9CCB2"/><path d="M53.6 52.3h0.9v0.9h-0.9zM52.9 54.7h0.9v0.9h-0.9z" fill="#EEF8C8"/><path d="M55.3 54.1h0.9v0.9h-0.9z" fill="#A67628"/></g><polygon points="66.7,50.1 68.5,46.0 73.7,42.5 76.5,42.5 78.0,50.0 78.4,55.4 81.9,60.0 90.0,63.5 91.2,71.7 83.1,74.6 70.2,74.6 69.0,67.0 67.9,57.7" fill="#DDD3BE" fill-opacity="1.0" filter="url(#bl)"/><g><path d="M67.7 47.5h0.9v0.9h-0.9zM71.7 64.4h0.9v0.9h-0.9zM78.0 59.9h0.9v0.9h-0.9zM70.9 59.1h0.9v0.9h-0.9zM88.6 65.8h0.9v0.9h-0.9zM67.3 52.4h0.9v0.9h-0.9zM72.4 54.3h0.9v0.9h-0.9zM70.9 44.2h0.9v0.9h-0.9zM88.8 66.5h0.9v0.9h-0.9zM75.0 47.0h0.9v0.9h-0.9zM85.3 61.7h0.9v0.9h-0.9zM67.9 57.7h0.9v0.9h-0.9zM78.0 69.3h0.9v0.9h-0.9zM84.8 61.9h0.9v0.9h-0.9zM87.1 68.7h0.9v0.9h-0.9zM80.8 65.0h0.9v0.9h-0.9zM70.2 67.8h0.9v0.9h-0.9zM67.6 54.8h0.9v0.9h-0.9zM77.2 54.6h0.9v0.9h-0.9zM76.7 67.1h0.9v0.9h-0.9zM72.1 51.8h0.9v0.9h-0.9zM87.1 65.9h0.9v0.9h-0.9zM79.1 69.2h0.9v0.9h-0.9zM76.6 67.8h0.9v0.9h-0.9zM71.1 62.0h0.9v0.9h-0.9zM68.9 62.0h0.9v0.9h-0.9zM69.2 55.3h0.9v0.9h-0.9zM87.2 69.3h0.9v0.9h-0.9zM81.3 71.3h0.9v0.9h-0.9zM74.0 60.3h0.9v0.9h-0.9zM80.7 72.5h0.9v0.9h-0.9zM74.5 42.6h0.9v0.9h-0.9zM74.6 42.2h0.9v0.9h-0.9zM73.6 57.8h0.9v0.9h-0.9zM89.0 65.7h0.9v0.9h-0.9zM74.4 66.0h0.9v0.9h-0.9zM69.9 54.6h0.9v0.9h-0.9zM75.9 48.5h0.9v0.9h-0.9zM74.4 72.4h0.9v0.9h-0.9zM84.1 60.8h0.9v0.9h-0.9zM74.7 54.7h0.9v0.9h-0.9zM81.6 59.8h0.9v0.9h-0.9zM73.8 42.4h0.9v0.9h-0.9zM76.4 61.4h0.9v0.9h-0.9zM83.0 68.9h0.9v0.9h-0.9zM76.1 71.7h0.9v0.9h-0.9zM79.4 65.4h0.9v0.9h-0.9zM81.6 72.5h0.9v0.9h-0.9zM83.3 62.6h0.9v0.9h-0.9zM73.8 65.1h0.9v0.9h-0.9zM70.1 51.2h0.9v0.9h-0.9zM85.3 64.6h0.9v0.9h-0.9zM69.2 70.5h0.9v0.9h-0.9zM76.8 65.9h0.9v0.9h-0.9zM75.6 51.9h0.9v0.9h-0.9zM68.2 52.2h0.9v0.9h-0.9zM68.0 52.6h0.9v0.9h-0.9zM84.1 73.2h0.9v0.9h-0.9zM72.0 48.9h0.9v0.9h-0.9zM70.4 55.7h0.9v0.9h-0.9zM78.3 57.4h0.9v0.9h-0.9zM80.4 72.1h0.9v0.9h-0.9zM76.2 68.7h0.9v0.9h-0.9zM79.6 71.1h0.9v0.9h-0.9zM77.1 67.8h0.9v0.9h-0.9zM76.9 55.6h0.9v0.9h-0.9zM74.6 44.2h0.9v0.9h-0.9zM74.9 62.7h0.9v0.9h-0.9zM84.8 70.2h0.9v0.9h-0.9zM78.4 56.4h0.9v0.9h-0.9zM76.7 57.7h0.9v0.9h-0.9zM77.6 71.5h0.9v0.9h-0.9zM69.6 64.4h0.9v0.9h-0.9zM78.0 70.8h0.9v0.9h-0.9zM85.4 64.5h0.9v0.9h-0.9zM87.5 64.1h0.9v0.9h-0.9zM69.0 65.2h0.9v0.9h-0.9zM79.1 68.3h0.9v0.9h-0.9zM87.2 68.4h0.9v0.9h-0.9zM88.1 66.3h0.9v0.9h-0.9zM72.6 50.1h0.9v0.9h-0.9zM72.2 70.3h0.9v0.9h-0.9zM87.0 72.5h0.9v0.9h-0.9zM80.4 66.5h0.9v0.9h-0.9zM69.7 67.6h0.9v0.9h-0.9zM70.5 65.5h0.9v0.9h-0.9zM69.7 64.5h0.9v0.9h-0.9zM68.3 57.1h0.9v0.9h-0.9z" fill="#D9CCB2"/><path d="M70.3 61.8h0.9v0.9h-0.9zM68.0 53.5h0.9v0.9h-0.9zM85.8 62.9h0.9v0.9h-0.9zM74.0 60.8h0.9v0.9h-0.9z" fill="#3E64B0"/><path d="M85.3 68.0h0.9v0.9h-0.9zM71.5 70.6h0.9v0.9h-0.9zM86.9 63.5h0.9v0.9h-0.9zM76.3 68.8h0.9v0.9h-0.9zM76.2 66.8h0.9v0.9h-0.9zM73.8 57.0h0.9v0.9h-0.9zM89.8 70.6h0.9v0.9h-0.9zM78.9 70.0h0.9v0.9h-0.9zM75.0 50.0h0.9v0.9h-0.9zM80.3 60.4h0.9v0.9h-0.9zM75.2 66.0h0.9v0.9h-0.9zM73.8 60.0h0.9v0.9h-0.9zM78.5 62.6h0.9v0.9h-0.9zM82.1 73.9h0.9v0.9h-0.9zM87.1 70.2h0.9v0.9h-0.9zM74.6 45.4h0.9v0.9h-0.9zM79.9 66.7h0.9v0.9h-0.9zM74.3 64.8h0.9v0.9h-0.9zM76.5 49.5h0.9v0.9h-0.9zM73.5 61.3h0.9v0.9h-0.9zM87.2 64.1h0.9v0.9h-0.9zM74.9 52.0h0.9v0.9h-0.9zM80.2 70.7h0.9v0.9h-0.9zM71.9 53.3h0.9v0.9h-0.9zM71.2 44.9h0.9v0.9h-0.9zM83.1 71.0h0.9v0.9h-0.9zM72.6 50.0h0.9v0.9h-0.9zM74.5 65.9h0.9v0.9h-0.9zM89.7 70.1h0.9v0.9h-0.9zM72.9 66.7h0.9v0.9h-0.9zM72.4 50.0h0.9v0.9h-0.9zM71.7 62.7h0.9v0.9h-0.9z" fill="#EEF8C8"/><path d="M78.0 64.9h0.9v0.9h-0.9zM78.8 59.9h0.9v0.9h-0.9zM72.0 65.9h0.9v0.9h-0.9zM76.1 66.2h0.9v0.9h-0.9zM87.3 71.4h0.9v0.9h-0.9zM67.2 49.8h0.9v0.9h-0.9zM69.0 62.5h0.9v0.9h-0.9zM76.6 63.9h0.9v0.9h-0.9zM77.9 68.6h0.9v0.9h-0.9zM75.8 64.2h0.9v0.9h-0.9zM76.9 59.6h0.9v0.9h-0.9zM71.5 47.1h0.9v0.9h-0.9zM80.4 60.6h0.9v0.9h-0.9zM74.5 56.1h0.9v0.9h-0.9zM75.8 56.7h0.9v0.9h-0.9zM76.7 55.6h0.9v0.9h-0.9zM73.8 54.1h0.9v0.9h-0.9zM83.0 71.7h0.9v0.9h-0.9zM86.8 71.6h0.9v0.9h-0.9z" fill="#A8D4E4"/><path d="M79.7 70.0h0.9v0.9h-0.9zM77.5 49.9h0.9v0.9h-0.9zM76.0 49.3h0.9v0.9h-0.9zM83.7 62.6h0.9v0.9h-0.9zM74.1 58.2h0.9v0.9h-0.9zM75.5 48.4h0.9v0.9h-0.9zM70.8 44.2h0.9v0.9h-0.9zM68.2 61.9h0.9v0.9h-0.9zM72.5 47.2h0.9v0.9h-0.9zM88.8 70.1h0.9v0.9h-0.9zM80.3 68.8h0.9v0.9h-0.9zM69.8 69.9h0.9v0.9h-0.9zM71.6 52.8h0.9v0.9h-0.9zM74.0 58.2h0.9v0.9h-0.9zM78.1 66.2h0.9v0.9h-0.9zM70.2 49.6h0.9v0.9h-0.9zM80.6 70.2h0.9v0.9h-0.9zM76.7 53.4h0.9v0.9h-0.9zM75.1 59.3h0.9v0.9h-0.9z" fill="#F4A6A8"/></g><polygon points="66.9,50.0 68.5,46.0 73.0,43.5 76.5,46.0 78.0,54.0 79.0,62.0 72.0,62.0 68.0,57.0" fill="#C8D2CE" fill-opacity="0.6" filter="url(#bl)"/><g><path d="M70.3 55.6h0.9v0.9h-0.9zM70.4 48.9h0.9v0.9h-0.9zM71.5 54.3h0.9v0.9h-0.9zM73.1 44.0h0.9v0.9h-0.9zM70.0 59.2h0.9v0.9h-0.9zM73.5 45.7h0.9v0.9h-0.9zM68.2 55.6h0.9v0.9h-0.9zM72.0 56.8h0.9v0.9h-0.9zM71.3 59.7h0.9v0.9h-0.9zM73.4 50.2h0.9v0.9h-0.9zM66.9 50.9h0.9v0.9h-0.9zM76.8 55.1h0.9v0.9h-0.9zM71.0 57.5h0.9v0.9h-0.9zM77.2 53.8h0.9v0.9h-0.9zM70.6 48.1h0.9v0.9h-0.9zM66.9 50.2h0.9v0.9h-0.9zM77.2 56.3h0.9v0.9h-0.9zM72.8 61.0h0.9v0.9h-0.9zM68.5 45.8h0.9v0.9h-0.9zM70.9 60.6h0.9v0.9h-0.9zM74.0 49.1h0.9v0.9h-0.9zM77.5 54.5h0.9v0.9h-0.9zM68.5 54.2h0.9v0.9h-0.9zM73.4 47.7h0.9v0.9h-0.9zM74.9 51.4h0.9v0.9h-0.9zM73.4 45.6h0.9v0.9h-0.9zM69.0 56.1h0.9v0.9h-0.9zM69.0 47.0h0.9v0.9h-0.9zM73.1 51.9h0.9v0.9h-0.9zM70.9 46.6h0.9v0.9h-0.9zM67.2 53.1h0.9v0.9h-0.9zM71.3 49.1h0.9v0.9h-0.9zM77.2 57.0h0.9v0.9h-0.9zM71.1 50.9h0.9v0.9h-0.9zM67.5 52.1h0.9v0.9h-0.9zM68.6 46.7h0.9v0.9h-0.9zM74.4 48.7h0.9v0.9h-0.9zM70.5 57.3h0.9v0.9h-0.9zM71.8 55.8h0.9v0.9h-0.9zM73.1 55.5h0.9v0.9h-0.9zM75.0 55.6h0.9v0.9h-0.9z" fill="#A8D4E4"/><path d="M67.4 53.0h0.9v0.9h-0.9zM69.1 46.7h0.9v0.9h-0.9zM69.2 49.5h0.9v0.9h-0.9zM71.2 45.8h0.9v0.9h-0.9zM71.3 52.5h0.9v0.9h-0.9zM73.5 52.9h0.9v0.9h-0.9zM67.9 48.4h0.9v0.9h-0.9zM68.8 52.1h0.9v0.9h-0.9zM72.3 54.5h0.9v0.9h-0.9zM67.5 55.1h0.9v0.9h-0.9zM74.4 46.6h0.9v0.9h-0.9zM70.8 52.8h0.9v0.9h-0.9zM74.2 49.0h0.9v0.9h-0.9zM75.5 49.2h0.9v0.9h-0.9zM73.0 57.1h0.9v0.9h-0.9zM76.0 46.5h0.9v0.9h-0.9zM73.7 54.5h0.9v0.9h-0.9zM70.0 50.6h0.9v0.9h-0.9zM75.3 52.8h0.9v0.9h-0.9zM72.7 43.3h0.9v0.9h-0.9zM69.1 47.7h0.9v0.9h-0.9zM71.1 59.0h0.9v0.9h-0.9zM69.5 49.5h0.9v0.9h-0.9zM70.1 46.6h0.9v0.9h-0.9z" fill="#D9CCB2"/></g><polygon points="79.6,37.8 80.7,34.3 90.0,31.4 94.7,32.6 96.5,39.0 94.7,54.2 92.4,65.9 90.0,72.9 83.6,74.6 80.7,63.5 78.4,54.2 79.0,44.9" fill="#EDF0A8" fill-opacity="1.0" filter="url(#bl)"/><g><path d="M82.0 37.7h0.9v0.9h-0.9zM90.5 41.6h0.9v0.9h-0.9zM92.9 58.9h0.9v0.9h-0.9zM81.1 49.3h0.9v0.9h-0.9zM90.0 63.3h0.9v0.9h-0.9zM82.3 69.2h0.9v0.9h-0.9zM82.6 47.2h0.9v0.9h-0.9zM84.7 34.3h0.9v0.9h-0.9zM85.4 57.7h0.9v0.9h-0.9zM88.7 37.1h0.9v0.9h-0.9zM90.5 62.8h0.9v0.9h-0.9zM86.5 56.0h0.9v0.9h-0.9zM87.9 50.5h0.9v0.9h-0.9zM84.2 54.5h0.9v0.9h-0.9zM88.3 32.7h0.9v0.9h-0.9zM78.5 51.8h0.9v0.9h-0.9zM89.6 70.7h0.9v0.9h-0.9zM88.6 36.4h0.9v0.9h-0.9zM92.5 37.3h0.9v0.9h-0.9zM80.3 44.5h0.9v0.9h-0.9zM81.6 33.7h0.9v0.9h-0.9zM86.4 55.6h0.9v0.9h-0.9zM80.4 45.0h0.9v0.9h-0.9zM83.3 59.8h0.9v0.9h-0.9zM79.6 39.8h0.9v0.9h-0.9zM86.4 62.4h0.9v0.9h-0.9zM94.7 40.0h0.9v0.9h-0.9zM84.6 32.8h0.9v0.9h-0.9zM91.0 62.4h0.9v0.9h-0.9zM90.5 57.2h0.9v0.9h-0.9zM88.2 52.8h0.9v0.9h-0.9zM87.8 36.5h0.9v0.9h-0.9zM83.3 72.5h0.9v0.9h-0.9zM91.9 52.7h0.9v0.9h-0.9zM78.2 49.8h0.9v0.9h-0.9zM88.9 45.0h0.9v0.9h-0.9zM94.2 38.3h0.9v0.9h-0.9zM79.6 49.7h0.9v0.9h-0.9zM91.0 61.1h0.9v0.9h-0.9zM91.6 52.4h0.9v0.9h-0.9zM87.1 34.7h0.9v0.9h-0.9zM81.8 42.0h0.9v0.9h-0.9zM93.9 36.3h0.9v0.9h-0.9zM80.4 37.3h0.9v0.9h-0.9zM92.5 42.8h0.9v0.9h-0.9zM90.1 59.4h0.9v0.9h-0.9zM86.9 70.5h0.9v0.9h-0.9zM94.4 49.3h0.9v0.9h-0.9zM85.3 57.6h0.9v0.9h-0.9zM88.7 33.4h0.9v0.9h-0.9zM90.4 47.9h0.9v0.9h-0.9zM80.7 39.4h0.9v0.9h-0.9zM85.4 72.2h0.9v0.9h-0.9zM83.5 45.5h0.9v0.9h-0.9zM91.5 33.8h0.9v0.9h-0.9zM82.5 43.3h0.9v0.9h-0.9zM85.3 33.6h0.9v0.9h-0.9zM79.6 43.8h0.9v0.9h-0.9zM80.6 44.7h0.9v0.9h-0.9zM88.1 71.5h0.9v0.9h-0.9zM84.3 60.8h0.9v0.9h-0.9zM83.7 54.7h0.9v0.9h-0.9zM84.2 73.4h0.9v0.9h-0.9zM81.7 58.0h0.9v0.9h-0.9zM87.1 60.9h0.9v0.9h-0.9zM84.2 52.5h0.9v0.9h-0.9zM93.1 36.7h0.9v0.9h-0.9zM83.6 57.4h0.9v0.9h-0.9zM87.2 50.5h0.9v0.9h-0.9zM87.2 50.2h0.9v0.9h-0.9zM81.0 54.3h0.9v0.9h-0.9zM87.3 62.8h0.9v0.9h-0.9zM82.8 64.9h0.9v0.9h-0.9zM84.4 69.9h0.9v0.9h-0.9zM87.2 55.6h0.9v0.9h-0.9zM79.7 54.9h0.9v0.9h-0.9zM84.5 67.0h0.9v0.9h-0.9zM95.4 38.4h0.9v0.9h-0.9zM86.5 40.8h0.9v0.9h-0.9zM81.3 65.8h0.9v0.9h-0.9zM88.8 68.0h0.9v0.9h-0.9zM80.1 49.7h0.9v0.9h-0.9zM89.5 56.0h0.9v0.9h-0.9zM88.9 46.0h0.9v0.9h-0.9zM87.9 68.6h0.9v0.9h-0.9zM85.0 39.2h0.9v0.9h-0.9zM91.8 60.2h0.9v0.9h-0.9zM92.1 57.9h0.9v0.9h-0.9zM85.5 43.7h0.9v0.9h-0.9zM82.1 39.1h0.9v0.9h-0.9zM89.8 43.7h0.9v0.9h-0.9zM89.5 62.1h0.9v0.9h-0.9zM95.5 37.5h0.9v0.9h-0.9zM92.2 48.8h0.9v0.9h-0.9zM83.9 63.8h0.9v0.9h-0.9zM92.2 44.7h0.9v0.9h-0.9zM91.6 65.3h0.9v0.9h-0.9zM84.6 60.3h0.9v0.9h-0.9zM91.7 45.6h0.9v0.9h-0.9zM84.2 70.3h0.9v0.9h-0.9zM83.7 35.8h0.9v0.9h-0.9zM89.6 65.3h0.9v0.9h-0.9zM87.2 48.5h0.9v0.9h-0.9zM87.0 56.7h0.9v0.9h-0.9zM94.3 32.2h0.9v0.9h-0.9zM89.4 40.8h0.9v0.9h-0.9zM82.3 65.6h0.9v0.9h-0.9zM92.8 38.5h0.9v0.9h-0.9zM94.1 35.9h0.9v0.9h-0.9zM85.6 71.4h0.9v0.9h-0.9zM89.7 38.0h0.9v0.9h-0.9zM79.8 38.3h0.9v0.9h-0.9zM86.4 41.9h0.9v0.9h-0.9zM89.2 54.5h0.9v0.9h-0.9zM89.6 60.1h0.9v0.9h-0.9zM85.9 41.9h0.9v0.9h-0.9zM83.3 68.3h0.9v0.9h-0.9zM87.8 46.3h0.9v0.9h-0.9zM87.7 41.5h0.9v0.9h-0.9zM87.7 34.6h0.9v0.9h-0.9zM79.3 57.7h0.9v0.9h-0.9zM85.4 43.9h0.9v0.9h-0.9zM90.4 59.5h0.9v0.9h-0.9zM81.4 52.5h0.9v0.9h-0.9zM82.1 63.5h0.9v0.9h-0.9zM84.5 64.9h0.9v0.9h-0.9zM95.9 39.0h0.9v0.9h-0.9zM80.0 54.8h0.9v0.9h-0.9zM91.2 64.1h0.9v0.9h-0.9zM84.5 66.0h0.9v0.9h-0.9zM93.8 49.1h0.9v0.9h-0.9zM88.4 66.7h0.9v0.9h-0.9zM78.3 47.9h0.9v0.9h-0.9zM82.6 70.0h0.9v0.9h-0.9zM83.3 66.0h0.9v0.9h-0.9z" fill="#EAF58A"/><path d="M81.5 58.9h0.9v0.9h-0.9zM82.8 56.2h0.9v0.9h-0.9zM93.6 39.5h0.9v0.9h-0.9zM91.1 42.2h0.9v0.9h-0.9zM85.1 54.3h0.9v0.9h-0.9zM89.9 49.4h0.9v0.9h-0.9zM87.3 42.1h0.9v0.9h-0.9zM86.5 38.8h0.9v0.9h-0.9zM83.3 40.9h0.9v0.9h-0.9zM85.4 61.1h0.9v0.9h-0.9zM80.6 36.3h0.9v0.9h-0.9zM84.6 44.0h0.9v0.9h-0.9zM89.8 55.6h0.9v0.9h-0.9zM81.0 40.6h0.9v0.9h-0.9zM89.7 39.1h0.9v0.9h-0.9zM93.7 54.1h0.9v0.9h-0.9zM80.8 38.5h0.9v0.9h-0.9zM89.4 68.5h0.9v0.9h-0.9zM88.9 33.9h0.9v0.9h-0.9zM85.5 53.2h0.9v0.9h-0.9zM86.8 56.4h0.9v0.9h-0.9zM82.6 62.4h0.9v0.9h-0.9zM85.5 38.6h0.9v0.9h-0.9zM88.3 66.5h0.9v0.9h-0.9zM81.5 34.0h0.9v0.9h-0.9zM84.4 38.8h0.9v0.9h-0.9zM85.2 64.5h0.9v0.9h-0.9zM92.7 58.8h0.9v0.9h-0.9zM91.7 49.1h0.9v0.9h-0.9zM93.5 39.6h0.9v0.9h-0.9zM81.3 36.0h0.9v0.9h-0.9zM82.2 42.4h0.9v0.9h-0.9zM90.5 40.6h0.9v0.9h-0.9zM84.5 36.7h0.9v0.9h-0.9zM92.3 61.3h0.9v0.9h-0.9z" fill="#D9CCB2"/><path d="M78.3 51.8h0.9v0.9h-0.9zM84.9 33.4h0.9v0.9h-0.9zM92.9 40.8h0.9v0.9h-0.9zM89.2 69.6h0.9v0.9h-0.9zM89.5 54.5h0.9v0.9h-0.9zM91.1 65.1h0.9v0.9h-0.9zM80.5 40.6h0.9v0.9h-0.9zM92.2 34.3h0.9v0.9h-0.9zM87.7 43.5h0.9v0.9h-0.9zM86.7 51.8h0.9v0.9h-0.9zM79.6 46.8h0.9v0.9h-0.9zM85.9 62.3h0.9v0.9h-0.9zM88.6 65.7h0.9v0.9h-0.9zM79.7 55.6h0.9v0.9h-0.9zM84.7 71.9h0.9v0.9h-0.9z" fill="#F4A6A8"/><path d="M81.1 34.2h0.9v0.9h-0.9zM93.1 50.9h0.9v0.9h-0.9zM84.6 38.5h0.9v0.9h-0.9zM87.3 47.8h0.9v0.9h-0.9z" fill="#E0338C"/><path d="M84.7 41.6h0.9v0.9h-0.9zM91.7 61.6h0.9v0.9h-0.9zM80.9 35.4h0.9v0.9h-0.9zM78.3 53.5h0.9v0.9h-0.9zM89.0 54.8h0.9v0.9h-0.9zM84.2 68.4h0.9v0.9h-0.9zM84.6 35.8h0.9v0.9h-0.9zM88.0 35.1h0.9v0.9h-0.9zM85.4 46.4h0.9v0.9h-0.9zM89.3 56.5h0.9v0.9h-0.9z" fill="#3E64B0"/><path d="M81.4 57.1h0.9v0.9h-0.9zM89.4 52.2h0.9v0.9h-0.9zM87.0 49.3h0.9v0.9h-0.9zM80.9 41.2h0.9v0.9h-0.9z" fill="#6DB535"/></g><polygon points="80.0,64.0 86.0,60.0 92.0,62.0 91.0,72.0 84.0,74.0" fill="#E8D4C0" fill-opacity="0.5" filter="url(#bl)"/><g><path d="M81.7 63.8h0.9v0.9h-0.9zM88.4 71.6h0.9v0.9h-0.9zM84.3 71.9h0.9v0.9h-0.9zM86.4 66.3h0.9v0.9h-0.9zM83.0 63.8h0.9v0.9h-0.9zM86.4 62.3h0.9v0.9h-0.9zM86.0 64.9h0.9v0.9h-0.9zM86.6 66.5h0.9v0.9h-0.9zM87.3 60.7h0.9v0.9h-0.9zM85.5 70.1h0.9v0.9h-0.9zM88.1 72.2h0.9v0.9h-0.9zM87.4 63.9h0.9v0.9h-0.9zM88.7 69.5h0.9v0.9h-0.9zM87.2 65.1h0.9v0.9h-0.9z" fill="#F4A6A8"/><path d="M89.8 71.5h0.9v0.9h-0.9zM86.4 63.1h0.9v0.9h-0.9zM82.5 65.6h0.9v0.9h-0.9zM83.5 62.2h0.9v0.9h-0.9zM82.8 71.2h0.9v0.9h-0.9zM84.7 67.8h0.9v0.9h-0.9zM89.8 63.2h0.9v0.9h-0.9zM85.0 64.1h0.9v0.9h-0.9zM87.2 62.6h0.9v0.9h-0.9zM85.9 65.2h0.9v0.9h-0.9zM89.6 70.4h0.9v0.9h-0.9zM89.6 65.3h0.9v0.9h-0.9zM82.8 64.7h0.9v0.9h-0.9zM90.6 63.1h0.9v0.9h-0.9zM87.7 61.9h0.9v0.9h-0.9zM83.8 62.5h0.9v0.9h-0.9zM89.8 68.9h0.9v0.9h-0.9zM83.8 72.1h0.9v0.9h-0.9zM84.6 60.3h0.9v0.9h-0.9zM86.3 61.8h0.9v0.9h-0.9z" fill="#D9CCB2"/></g><polygon points="92.0,31.5 94.7,32.6 96.7,37.0 96.2,40.0 94.0,36.0" fill="#7A4A70" fill-opacity="0.6" filter="url(#bl)"/><g><path d="M94.5 35.5h0.9v0.9h-0.9zM95.8 39.3h0.9v0.9h-0.9zM95.1 36.7h0.9v0.9h-0.9zM95.4 35.1h0.9v0.9h-0.9zM93.5 34.7h0.9v0.9h-0.9z" fill="#55555A"/><path d="M92.2 31.8h0.9v0.9h-0.9zM94.2 36.1h0.9v0.9h-0.9zM93.7 32.9h0.9v0.9h-0.9zM94.2 36.0h0.9v0.9h-0.9zM93.8 32.0h0.9v0.9h-0.9zM92.8 32.1h0.9v0.9h-0.9z" fill="#E0338C"/></g><polygon points="43.4,89.5 43.2,90.8 42.8,91.9 42.0,92.6 41.2,92.9 40.4,92.6 39.6,91.9 39.2,90.8 39.0,89.5 39.2,88.2 39.6,87.1 40.4,86.4 41.2,86.1 42.0,86.4 42.8,87.1 43.2,88.2" fill="#5E5E60" fill-opacity="0.95" filter="url(#bl)"/><g><path d="M41.5 91.0h0.9v0.9h-0.9zM42.2 87.0h0.9v0.9h-0.9zM41.5 90.7h0.9v0.9h-0.9zM40.9 89.4h0.9v0.9h-0.9zM41.0 91.5h0.9v0.9h-0.9zM39.7 89.2h0.9v0.9h-0.9z" fill="#55555A"/></g><polygon points="49.0,101.9 50.3,102.0 50.3,107.5 52.6,110.0 52.6,115.5 50.5,117.5 48.0,115.5 47.6,110.0 48.6,106.5" fill="#D8C4EE" fill-opacity="0.9" filter="url(#bl)"/><g><path d="M50.2 109.3h0.9v0.9h-0.9zM50.3 112.1h0.9v0.9h-0.9zM51.4 112.8h0.9v0.9h-0.9zM49.0 105.6h0.9v0.9h-0.9zM48.4 105.9h0.9v0.9h-0.9zM50.4 116.5h0.9v0.9h-0.9zM49.4 110.4h0.9v0.9h-0.9zM51.5 109.4h0.9v0.9h-0.9zM50.3 108.8h0.9v0.9h-0.9zM49.5 116.1h0.9v0.9h-0.9zM48.8 113.6h0.9v0.9h-0.9zM49.1 102.4h0.9v0.9h-0.9zM51.5 112.6h0.9v0.9h-0.9zM48.8 106.9h0.9v0.9h-0.9zM49.8 109.5h0.9v0.9h-0.9zM49.7 115.4h0.9v0.9h-0.9zM50.8 115.9h0.9v0.9h-0.9zM50.7 114.5h0.9v0.9h-0.9z" fill="#D6BDF2"/><path d="M48.1 108.1h0.9v0.9h-0.9z" fill="#EAF58A"/></g><polygon points="71.2,95.3 73.0,97.0 75.5,101.5 79.6,101.2 79.5,108.0 77.0,115.0 73.0,118.7 70.0,116.0 66.0,110.0 65.7,104.0 69.0,99.0" fill="#F4C6C6" fill-opacity="0.9" filter="url(#bl)"/><g><path d="M73.8 101.0h0.9v0.9h-0.9zM70.3 96.3h0.9v0.9h-0.9zM70.4 114.6h0.9v0.9h-0.9zM77.1 110.1h0.9v0.9h-0.9zM69.6 108.0h0.9v0.9h-0.9zM70.2 104.2h0.9v0.9h-0.9zM73.3 99.1h0.9v0.9h-0.9zM68.7 108.9h0.9v0.9h-0.9zM75.3 107.1h0.9v0.9h-0.9zM72.8 107.7h0.9v0.9h-0.9zM69.7 100.4h0.9v0.9h-0.9zM74.3 116.1h0.9v0.9h-0.9zM74.1 107.4h0.9v0.9h-0.9zM68.7 108.7h0.9v0.9h-0.9zM72.1 116.7h0.9v0.9h-0.9zM75.8 107.8h0.9v0.9h-0.9zM68.1 105.2h0.9v0.9h-0.9zM69.4 113.7h0.9v0.9h-0.9z" fill="#AFCDE6"/><path d="M76.6 106.0h0.9v0.9h-0.9zM78.6 102.3h0.9v0.9h-0.9zM77.4 106.9h0.9v0.9h-0.9zM74.9 112.6h0.9v0.9h-0.9zM74.7 109.4h0.9v0.9h-0.9zM72.0 96.1h0.9v0.9h-0.9zM72.9 103.1h0.9v0.9h-0.9zM74.8 105.6h0.9v0.9h-0.9zM70.1 112.5h0.9v0.9h-0.9zM68.4 99.3h0.9v0.9h-0.9zM74.0 109.3h0.9v0.9h-0.9zM73.8 106.0h0.9v0.9h-0.9zM69.9 109.3h0.9v0.9h-0.9zM73.0 115.1h0.9v0.9h-0.9zM72.7 104.5h0.9v0.9h-0.9zM71.3 111.2h0.9v0.9h-0.9zM68.8 102.7h0.9v0.9h-0.9zM70.7 113.7h0.9v0.9h-0.9zM70.1 99.4h0.9v0.9h-0.9zM68.3 99.9h0.9v0.9h-0.9zM73.6 103.5h0.9v0.9h-0.9zM71.1 106.3h0.9v0.9h-0.9zM69.5 110.8h0.9v0.9h-0.9zM72.1 100.8h0.9v0.9h-0.9zM71.2 99.9h0.9v0.9h-0.9zM72.4 97.4h0.9v0.9h-0.9zM69.6 107.4h0.9v0.9h-0.9zM71.9 111.4h0.9v0.9h-0.9zM78.1 101.9h0.9v0.9h-0.9zM73.1 101.1h0.9v0.9h-0.9zM77.1 111.8h0.9v0.9h-0.9zM77.5 108.5h0.9v0.9h-0.9zM76.7 109.5h0.9v0.9h-0.9zM77.1 104.3h0.9v0.9h-0.9zM76.7 105.1h0.9v0.9h-0.9zM74.7 114.7h0.9v0.9h-0.9zM77.7 108.8h0.9v0.9h-0.9zM73.5 100.6h0.9v0.9h-0.9zM73.6 108.9h0.9v0.9h-0.9zM67.3 103.0h0.9v0.9h-0.9zM68.3 99.7h0.9v0.9h-0.9zM70.4 100.7h0.9v0.9h-0.9zM77.3 108.9h0.9v0.9h-0.9zM76.8 109.4h0.9v0.9h-0.9zM73.8 104.0h0.9v0.9h-0.9zM67.8 102.7h0.9v0.9h-0.9zM77.6 108.5h0.9v0.9h-0.9zM75.5 115.3h0.9v0.9h-0.9zM77.0 104.7h0.9v0.9h-0.9zM76.6 114.2h0.9v0.9h-0.9zM68.9 108.4h0.9v0.9h-0.9zM67.7 104.3h0.9v0.9h-0.9zM68.5 104.5h0.9v0.9h-0.9zM67.3 105.6h0.9v0.9h-0.9zM73.2 97.9h0.9v0.9h-0.9zM68.6 107.7h0.9v0.9h-0.9zM71.8 115.7h0.9v0.9h-0.9zM68.8 99.6h0.9v0.9h-0.9zM76.9 106.4h0.9v0.9h-0.9zM73.5 116.7h0.9v0.9h-0.9zM68.0 102.7h0.9v0.9h-0.9z" fill="#F4A6A8"/><path d="M68.7 111.8h0.9v0.9h-0.9zM69.3 113.6h0.9v0.9h-0.9zM69.7 97.3h0.9v0.9h-0.9z" fill="#C9F5C2"/></g><polygon points="108.2,48.4 108.2,40.2 114.0,39.0 119.9,40.2 121.0,54.2 118.7,60.0 117.5,71.7 111.7,72.9 109.3,63.5" fill="#C88060" fill-opacity="0.55" filter="url(#bl)"/><g><path d="M109.2 49.9h0.9v0.9h-0.9zM109.0 49.8h0.9v0.9h-0.9zM120.4 53.8h0.9v0.9h-0.9zM108.8 53.4h0.9v0.9h-0.9zM110.1 59.4h0.9v0.9h-0.9zM115.5 66.3h0.9v0.9h-0.9zM113.4 42.8h0.9v0.9h-0.9zM117.4 60.0h0.9v0.9h-0.9zM112.0 52.1h0.9v0.9h-0.9zM119.2 45.0h0.9v0.9h-0.9zM115.8 61.3h0.9v0.9h-0.9zM112.9 59.1h0.9v0.9h-0.9zM112.9 60.2h0.9v0.9h-0.9zM117.2 41.0h0.9v0.9h-0.9zM119.4 41.1h0.9v0.9h-0.9zM112.5 68.8h0.9v0.9h-0.9zM115.3 44.3h0.9v0.9h-0.9zM110.3 49.0h0.9v0.9h-0.9zM113.0 53.3h0.9v0.9h-0.9zM115.5 52.9h0.9v0.9h-0.9zM109.1 41.5h0.9v0.9h-0.9zM113.5 49.3h0.9v0.9h-0.9zM111.7 51.8h0.9v0.9h-0.9zM115.7 62.6h0.9v0.9h-0.9zM115.1 48.6h0.9v0.9h-0.9zM112.8 52.0h0.9v0.9h-0.9zM118.2 51.5h0.9v0.9h-0.9zM117.0 49.2h0.9v0.9h-0.9zM108.9 50.6h0.9v0.9h-0.9zM115.9 59.1h0.9v0.9h-0.9zM119.8 49.7h0.9v0.9h-0.9zM114.4 44.1h0.9v0.9h-0.9zM114.4 58.6h0.9v0.9h-0.9zM115.4 62.2h0.9v0.9h-0.9zM114.1 63.0h0.9v0.9h-0.9zM118.4 44.1h0.9v0.9h-0.9zM116.7 48.9h0.9v0.9h-0.9zM113.0 71.8h0.9v0.9h-0.9zM112.2 39.9h0.9v0.9h-0.9z" fill="#D2B4F0"/><path d="M114.2 56.9h0.9v0.9h-0.9zM114.0 59.2h0.9v0.9h-0.9zM108.6 50.9h0.9v0.9h-0.9zM113.3 49.2h0.9v0.9h-0.9zM113.0 69.6h0.9v0.9h-0.9zM109.9 58.1h0.9v0.9h-0.9zM111.2 58.2h0.9v0.9h-0.9zM116.4 48.0h0.9v0.9h-0.9zM118.1 47.4h0.9v0.9h-0.9zM112.3 50.5h0.9v0.9h-0.9zM109.7 64.1h0.9v0.9h-0.9zM111.5 62.8h0.9v0.9h-0.9zM116.1 53.7h0.9v0.9h-0.9zM113.5 61.4h0.9v0.9h-0.9zM116.6 43.1h0.9v0.9h-0.9zM116.1 70.0h0.9v0.9h-0.9zM109.2 60.8h0.9v0.9h-0.9zM118.9 55.5h0.9v0.9h-0.9zM113.4 63.6h0.9v0.9h-0.9zM116.8 53.6h0.9v0.9h-0.9zM110.7 58.9h0.9v0.9h-0.9zM116.4 52.1h0.9v0.9h-0.9zM109.3 50.3h0.9v0.9h-0.9zM110.4 63.1h0.9v0.9h-0.9zM109.4 61.3h0.9v0.9h-0.9zM115.9 39.1h0.9v0.9h-0.9zM112.3 57.6h0.9v0.9h-0.9zM113.9 56.4h0.9v0.9h-0.9zM111.0 54.7h0.9v0.9h-0.9zM115.0 67.3h0.9v0.9h-0.9zM117.2 40.1h0.9v0.9h-0.9zM116.9 55.6h0.9v0.9h-0.9zM113.5 59.3h0.9v0.9h-0.9zM115.5 58.5h0.9v0.9h-0.9zM109.0 48.1h0.9v0.9h-0.9zM114.3 48.6h0.9v0.9h-0.9zM119.8 55.4h0.9v0.9h-0.9zM118.3 58.8h0.9v0.9h-0.9zM111.5 47.4h0.9v0.9h-0.9zM118.8 39.6h0.9v0.9h-0.9zM110.6 54.2h0.9v0.9h-0.9zM109.5 60.0h0.9v0.9h-0.9zM114.5 43.5h0.9v0.9h-0.9zM111.6 44.4h0.9v0.9h-0.9zM116.7 66.2h0.9v0.9h-0.9zM111.5 43.0h0.9v0.9h-0.9zM113.2 68.2h0.9v0.9h-0.9zM113.3 38.7h0.9v0.9h-0.9zM111.0 66.9h0.9v0.9h-0.9zM116.4 42.8h0.9v0.9h-0.9zM109.9 58.0h0.9v0.9h-0.9zM112.2 40.5h0.9v0.9h-0.9zM110.7 61.0h0.9v0.9h-0.9zM110.5 58.2h0.9v0.9h-0.9zM114.0 56.2h0.9v0.9h-0.9zM108.7 53.5h0.9v0.9h-0.9zM111.6 51.1h0.9v0.9h-0.9zM115.3 53.4h0.9v0.9h-0.9zM108.1 50.3h0.9v0.9h-0.9zM119.3 44.1h0.9v0.9h-0.9zM111.9 41.9h0.9v0.9h-0.9zM109.6 56.4h0.9v0.9h-0.9zM116.2 41.8h0.9v0.9h-0.9zM110.9 59.5h0.9v0.9h-0.9zM107.8 43.5h0.9v0.9h-0.9zM119.6 41.9h0.9v0.9h-0.9zM114.0 53.6h0.9v0.9h-0.9zM117.8 55.8h0.9v0.9h-0.9zM116.2 68.8h0.9v0.9h-0.9z" fill="#EB6E25"/><path d="M115.9 57.6h0.9v0.9h-0.9zM119.1 49.3h0.9v0.9h-0.9zM113.6 57.4h0.9v0.9h-0.9zM112.7 71.3h0.9v0.9h-0.9zM108.2 40.6h0.9v0.9h-0.9zM110.0 54.6h0.9v0.9h-0.9zM119.1 41.1h0.9v0.9h-0.9zM113.9 40.0h0.9v0.9h-0.9zM109.9 64.3h0.9v0.9h-0.9zM111.1 68.3h0.9v0.9h-0.9zM112.6 60.6h0.9v0.9h-0.9zM114.0 53.7h0.9v0.9h-0.9zM108.0 49.9h0.9v0.9h-0.9zM113.3 70.7h0.9v0.9h-0.9zM110.0 63.6h0.9v0.9h-0.9zM115.8 63.8h0.9v0.9h-0.9zM110.8 64.2h0.9v0.9h-0.9zM110.0 60.8h0.9v0.9h-0.9zM115.9 44.8h0.9v0.9h-0.9zM116.8 62.1h0.9v0.9h-0.9zM114.3 71.6h0.9v0.9h-0.9zM115.3 52.9h0.9v0.9h-0.9zM113.9 56.8h0.9v0.9h-0.9zM119.4 50.1h0.9v0.9h-0.9zM113.0 66.0h0.9v0.9h-0.9zM110.9 40.6h0.9v0.9h-0.9zM113.6 49.9h0.9v0.9h-0.9zM111.5 49.4h0.9v0.9h-0.9zM116.0 67.2h0.9v0.9h-0.9zM111.9 43.6h0.9v0.9h-0.9zM111.6 61.1h0.9v0.9h-0.9zM114.4 41.7h0.9v0.9h-0.9zM115.5 67.4h0.9v0.9h-0.9zM115.4 62.5h0.9v0.9h-0.9zM112.0 58.2h0.9v0.9h-0.9zM111.3 40.2h0.9v0.9h-0.9zM110.5 56.6h0.9v0.9h-0.9zM116.6 60.1h0.9v0.9h-0.9zM108.8 61.3h0.9v0.9h-0.9zM108.7 40.7h0.9v0.9h-0.9zM111.9 49.4h0.9v0.9h-0.9zM109.6 59.8h0.9v0.9h-0.9zM110.3 48.2h0.9v0.9h-0.9zM113.4 66.0h0.9v0.9h-0.9zM116.3 39.8h0.9v0.9h-0.9zM112.7 47.9h0.9v0.9h-0.9zM119.3 51.2h0.9v0.9h-0.9zM115.4 61.4h0.9v0.9h-0.9zM111.2 43.7h0.9v0.9h-0.9zM112.5 59.2h0.9v0.9h-0.9zM114.1 50.1h0.9v0.9h-0.9zM113.9 43.6h0.9v0.9h-0.9zM110.8 70.7h0.9v0.9h-0.9zM111.5 39.4h0.9v0.9h-0.9zM113.3 41.0h0.9v0.9h-0.9zM112.4 59.3h0.9v0.9h-0.9zM109.7 48.8h0.9v0.9h-0.9zM109.9 53.3h0.9v0.9h-0.9zM109.9 62.7h0.9v0.9h-0.9zM117.1 50.7h0.9v0.9h-0.9zM112.2 45.6h0.9v0.9h-0.9zM117.2 65.3h0.9v0.9h-0.9zM117.1 42.6h0.9v0.9h-0.9zM114.7 57.8h0.9v0.9h-0.9zM118.3 45.1h0.9v0.9h-0.9zM114.1 53.2h0.9v0.9h-0.9zM108.8 53.1h0.9v0.9h-0.9zM114.9 66.8h0.9v0.9h-0.9zM117.2 69.6h0.9v0.9h-0.9zM111.4 65.5h0.9v0.9h-0.9zM115.8 58.1h0.9v0.9h-0.9zM114.2 60.0h0.9v0.9h-0.9zM111.8 51.7h0.9v0.9h-0.9zM116.5 53.5h0.9v0.9h-0.9zM116.1 49.5h0.9v0.9h-0.9zM108.5 54.3h0.9v0.9h-0.9zM108.5 40.7h0.9v0.9h-0.9zM115.6 42.6h0.9v0.9h-0.9zM111.7 68.7h0.9v0.9h-0.9zM110.9 43.7h0.9v0.9h-0.9zM114.4 43.1h0.9v0.9h-0.9zM112.7 41.1h0.9v0.9h-0.9zM117.3 41.5h0.9v0.9h-0.9zM109.2 53.2h0.9v0.9h-0.9zM115.5 51.8h0.9v0.9h-0.9zM113.1 61.4h0.9v0.9h-0.9zM116.9 63.1h0.9v0.9h-0.9zM117.3 41.0h0.9v0.9h-0.9zM112.6 45.0h0.9v0.9h-0.9zM117.0 41.3h0.9v0.9h-0.9zM109.0 61.4h0.9v0.9h-0.9zM111.8 45.0h0.9v0.9h-0.9zM108.6 57.5h0.9v0.9h-0.9zM113.9 46.3h0.9v0.9h-0.9zM108.8 40.1h0.9v0.9h-0.9zM118.7 40.6h0.9v0.9h-0.9zM109.7 62.0h0.9v0.9h-0.9zM113.8 65.7h0.9v0.9h-0.9zM113.4 70.5h0.9v0.9h-0.9zM109.8 56.6h0.9v0.9h-0.9zM114.1 57.5h0.9v0.9h-0.9zM114.6 56.7h0.9v0.9h-0.9zM111.8 52.8h0.9v0.9h-0.9zM119.1 51.1h0.9v0.9h-0.9zM111.6 43.3h0.9v0.9h-0.9zM111.5 41.9h0.9v0.9h-0.9zM113.2 47.0h0.9v0.9h-0.9zM116.0 60.0h0.9v0.9h-0.9zM110.0 40.7h0.9v0.9h-0.9zM113.8 39.2h0.9v0.9h-0.9zM111.1 60.0h0.9v0.9h-0.9zM115.3 46.5h0.9v0.9h-0.9zM115.5 43.8h0.9v0.9h-0.9zM111.3 66.1h0.9v0.9h-0.9zM116.6 40.8h0.9v0.9h-0.9zM116.2 64.5h0.9v0.9h-0.9zM111.2 44.8h0.9v0.9h-0.9zM114.2 56.1h0.9v0.9h-0.9zM109.3 48.8h0.9v0.9h-0.9zM113.7 43.9h0.9v0.9h-0.9zM112.4 66.5h0.9v0.9h-0.9zM111.7 46.0h0.9v0.9h-0.9zM111.5 44.5h0.9v0.9h-0.9zM112.1 63.4h0.9v0.9h-0.9zM115.6 62.4h0.9v0.9h-0.9zM112.1 64.4h0.9v0.9h-0.9zM116.9 44.8h0.9v0.9h-0.9zM109.6 52.8h0.9v0.9h-0.9zM109.5 41.9h0.9v0.9h-0.9zM111.9 68.8h0.9v0.9h-0.9zM119.4 50.6h0.9v0.9h-0.9zM114.4 52.6h0.9v0.9h-0.9zM118.6 44.6h0.9v0.9h-0.9zM113.2 54.3h0.9v0.9h-0.9zM114.6 56.5h0.9v0.9h-0.9zM117.0 54.8h0.9v0.9h-0.9zM108.9 54.8h0.9v0.9h-0.9zM110.8 60.0h0.9v0.9h-0.9zM117.4 62.7h0.9v0.9h-0.9zM118.5 57.2h0.9v0.9h-0.9zM112.9 69.1h0.9v0.9h-0.9zM111.4 67.2h0.9v0.9h-0.9zM111.5 42.7h0.9v0.9h-0.9zM112.4 51.3h0.9v0.9h-0.9zM114.0 62.1h0.9v0.9h-0.9zM109.9 64.2h0.9v0.9h-0.9zM118.9 40.5h0.9v0.9h-0.9zM117.5 43.3h0.9v0.9h-0.9zM118.7 55.5h0.9v0.9h-0.9zM109.0 57.0h0.9v0.9h-0.9zM119.7 43.6h0.9v0.9h-0.9zM109.9 58.0h0.9v0.9h-0.9zM116.7 59.0h0.9v0.9h-0.9zM114.6 55.8h0.9v0.9h-0.9zM112.9 43.9h0.9v0.9h-0.9zM118.4 40.4h0.9v0.9h-0.9zM112.6 52.2h0.9v0.9h-0.9z" fill="#DB5A1C"/><path d="M118.0 56.3h0.9v0.9h-0.9zM112.9 39.1h0.9v0.9h-0.9zM108.9 55.8h0.9v0.9h-0.9zM108.6 44.0h0.9v0.9h-0.9zM115.7 59.1h0.9v0.9h-0.9zM110.6 57.8h0.9v0.9h-0.9zM113.0 45.3h0.9v0.9h-0.9zM108.5 54.1h0.9v0.9h-0.9zM111.6 58.2h0.9v0.9h-0.9zM119.0 40.9h0.9v0.9h-0.9zM115.0 61.1h0.9v0.9h-0.9zM108.8 51.5h0.9v0.9h-0.9zM116.5 53.7h0.9v0.9h-0.9zM111.4 65.7h0.9v0.9h-0.9zM119.3 46.0h0.9v0.9h-0.9zM112.9 52.2h0.9v0.9h-0.9zM111.3 59.4h0.9v0.9h-0.9zM117.0 42.2h0.9v0.9h-0.9zM118.7 40.4h0.9v0.9h-0.9zM115.8 52.0h0.9v0.9h-0.9zM116.9 65.6h0.9v0.9h-0.9zM116.2 39.9h0.9v0.9h-0.9zM113.7 71.7h0.9v0.9h-0.9zM120.1 51.1h0.9v0.9h-0.9zM115.7 51.8h0.9v0.9h-0.9zM112.0 64.9h0.9v0.9h-0.9zM118.4 57.6h0.9v0.9h-0.9z" fill="#52B589"/><path d="M116.2 66.1h0.9v0.9h-0.9zM115.9 60.2h0.9v0.9h-0.9zM110.9 64.0h0.9v0.9h-0.9zM110.3 43.4h0.9v0.9h-0.9zM108.1 47.7h0.9v0.9h-0.9zM113.9 47.5h0.9v0.9h-0.9zM114.3 45.3h0.9v0.9h-0.9zM111.1 66.4h0.9v0.9h-0.9zM111.5 58.5h0.9v0.9h-0.9zM108.7 54.6h0.9v0.9h-0.9zM117.3 61.6h0.9v0.9h-0.9zM114.5 58.2h0.9v0.9h-0.9zM110.3 53.1h0.9v0.9h-0.9zM114.7 52.5h0.9v0.9h-0.9zM109.3 61.0h0.9v0.9h-0.9zM109.4 57.0h0.9v0.9h-0.9zM118.5 45.8h0.9v0.9h-0.9zM113.1 41.6h0.9v0.9h-0.9zM114.3 44.5h0.9v0.9h-0.9zM114.0 68.8h0.9v0.9h-0.9zM109.4 46.9h0.9v0.9h-0.9zM111.9 49.8h0.9v0.9h-0.9zM108.6 52.4h0.9v0.9h-0.9zM115.0 70.0h0.9v0.9h-0.9zM112.3 54.6h0.9v0.9h-0.9zM120.1 53.0h0.9v0.9h-0.9zM111.4 40.3h0.9v0.9h-0.9zM117.8 50.0h0.9v0.9h-0.9zM114.4 39.3h0.9v0.9h-0.9zM114.4 50.7h0.9v0.9h-0.9zM109.9 44.8h0.9v0.9h-0.9zM113.7 71.5h0.9v0.9h-0.9zM116.5 68.9h0.9v0.9h-0.9zM118.7 40.2h0.9v0.9h-0.9zM108.9 54.7h0.9v0.9h-0.9zM117.3 59.9h0.9v0.9h-0.9zM115.4 51.4h0.9v0.9h-0.9zM117.3 59.3h0.9v0.9h-0.9zM115.5 59.8h0.9v0.9h-0.9zM110.7 40.5h0.9v0.9h-0.9zM112.3 45.1h0.9v0.9h-0.9zM113.2 39.7h0.9v0.9h-0.9zM112.7 70.9h0.9v0.9h-0.9zM115.3 49.0h0.9v0.9h-0.9zM110.9 62.9h0.9v0.9h-0.9zM111.0 50.0h0.9v0.9h-0.9zM110.5 40.3h0.9v0.9h-0.9z" fill="#B95A2A"/><path d="M113.6 41.9h0.9v0.9h-0.9zM113.1 62.5h0.9v0.9h-0.9zM108.2 49.5h0.9v0.9h-0.9zM108.1 43.1h0.9v0.9h-0.9zM113.9 55.0h0.9v0.9h-0.9zM108.8 40.4h0.9v0.9h-0.9zM110.1 42.2h0.9v0.9h-0.9zM111.4 50.5h0.9v0.9h-0.9zM116.2 63.4h0.9v0.9h-0.9zM113.1 48.9h0.9v0.9h-0.9zM117.8 41.2h0.9v0.9h-0.9zM117.4 44.8h0.9v0.9h-0.9zM113.3 46.8h0.9v0.9h-0.9zM112.1 45.1h0.9v0.9h-0.9zM117.6 51.7h0.9v0.9h-0.9zM111.5 60.3h0.9v0.9h-0.9zM117.3 44.1h0.9v0.9h-0.9zM120.3 52.5h0.9v0.9h-0.9zM117.0 58.4h0.9v0.9h-0.9zM112.1 47.7h0.9v0.9h-0.9zM112.9 65.1h0.9v0.9h-0.9zM110.9 40.2h0.9v0.9h-0.9zM108.9 43.0h0.9v0.9h-0.9zM110.5 50.0h0.9v0.9h-0.9zM112.0 43.8h0.9v0.9h-0.9zM115.9 64.9h0.9v0.9h-0.9zM110.3 45.7h0.9v0.9h-0.9zM111.8 39.8h0.9v0.9h-0.9zM113.2 59.8h0.9v0.9h-0.9zM113.1 41.8h0.9v0.9h-0.9zM117.6 56.4h0.9v0.9h-0.9zM112.2 58.1h0.9v0.9h-0.9zM117.5 64.7h0.9v0.9h-0.9z" fill="#7F78CF"/><path d="M111.4 58.0h0.9v0.9h-0.9zM116.3 56.0h0.9v0.9h-0.9zM110.7 55.4h0.9v0.9h-0.9zM112.0 57.2h0.9v0.9h-0.9zM116.7 42.9h0.9v0.9h-0.9zM119.5 44.6h0.9v0.9h-0.9zM119.4 42.1h0.9v0.9h-0.9zM114.7 54.0h0.9v0.9h-0.9zM119.3 52.7h0.9v0.9h-0.9zM114.1 46.4h0.9v0.9h-0.9zM111.2 43.9h0.9v0.9h-0.9zM110.4 49.9h0.9v0.9h-0.9zM115.7 43.2h0.9v0.9h-0.9zM117.8 40.7h0.9v0.9h-0.9zM113.9 61.6h0.9v0.9h-0.9zM117.4 45.9h0.9v0.9h-0.9zM112.1 41.1h0.9v0.9h-0.9zM117.8 56.3h0.9v0.9h-0.9zM113.4 55.3h0.9v0.9h-0.9z" fill="#EEB77A"/><path d="M119.7 50.9h0.9v0.9h-0.9zM108.3 44.4h0.9v0.9h-0.9zM110.1 40.8h0.9v0.9h-0.9zM117.9 54.6h0.9v0.9h-0.9zM111.8 68.3h0.9v0.9h-0.9zM112.8 60.9h0.9v0.9h-0.9zM114.2 54.7h0.9v0.9h-0.9zM114.7 40.5h0.9v0.9h-0.9zM108.2 45.3h0.9v0.9h-0.9zM117.6 43.2h0.9v0.9h-0.9zM109.2 44.2h0.9v0.9h-0.9zM117.2 52.8h0.9v0.9h-0.9zM108.1 42.5h0.9v0.9h-0.9zM114.0 45.0h0.9v0.9h-0.9zM111.0 40.0h0.9v0.9h-0.9zM109.9 55.8h0.9v0.9h-0.9z" fill="#ffffff"/></g><polygon points="108.2,48.4 108.2,41.0 112.0,40.0 113.0,50.0 114.0,62.0 117.0,72.0 111.7,72.9 109.3,63.5" fill="#D87038" fill-opacity="0.35" filter="url(#bl)"/><g><path d="M113.1 64.5h0.9v0.9h-0.9zM110.9 52.7h0.9v0.9h-0.9zM109.0 57.8h0.9v0.9h-0.9zM111.1 44.8h0.9v0.9h-0.9zM110.4 55.1h0.9v0.9h-0.9zM111.4 60.0h0.9v0.9h-0.9zM110.6 68.4h0.9v0.9h-0.9zM114.0 71.0h0.9v0.9h-0.9zM113.5 70.4h0.9v0.9h-0.9zM110.8 52.7h0.9v0.9h-0.9zM110.2 62.5h0.9v0.9h-0.9zM110.6 62.7h0.9v0.9h-0.9zM111.9 62.0h0.9v0.9h-0.9zM110.3 46.8h0.9v0.9h-0.9zM113.9 70.8h0.9v0.9h-0.9zM108.2 52.5h0.9v0.9h-0.9zM111.7 41.7h0.9v0.9h-0.9zM109.4 52.1h0.9v0.9h-0.9zM107.9 41.2h0.9v0.9h-0.9zM111.5 68.7h0.9v0.9h-0.9zM112.0 46.0h0.9v0.9h-0.9zM111.9 51.5h0.9v0.9h-0.9zM108.3 47.2h0.9v0.9h-0.9zM111.8 67.7h0.9v0.9h-0.9zM108.4 51.7h0.9v0.9h-0.9zM109.3 41.1h0.9v0.9h-0.9zM112.6 61.1h0.9v0.9h-0.9zM111.8 52.0h0.9v0.9h-0.9zM112.8 64.4h0.9v0.9h-0.9zM112.0 59.2h0.9v0.9h-0.9zM109.2 50.3h0.9v0.9h-0.9zM110.1 41.2h0.9v0.9h-0.9zM108.1 42.7h0.9v0.9h-0.9zM111.1 67.3h0.9v0.9h-0.9zM112.3 50.4h0.9v0.9h-0.9zM109.9 52.9h0.9v0.9h-0.9zM109.3 43.6h0.9v0.9h-0.9zM110.5 58.1h0.9v0.9h-0.9zM110.8 53.8h0.9v0.9h-0.9z" fill="#DB5A1C"/><path d="M111.5 54.1h0.9v0.9h-0.9zM111.3 54.9h0.9v0.9h-0.9zM115.7 70.3h0.9v0.9h-0.9zM114.6 70.7h0.9v0.9h-0.9zM111.3 44.5h0.9v0.9h-0.9zM113.1 58.4h0.9v0.9h-0.9zM107.8 46.8h0.9v0.9h-0.9zM113.3 70.3h0.9v0.9h-0.9zM109.5 49.5h0.9v0.9h-0.9zM112.1 72.0h0.9v0.9h-0.9zM109.6 48.3h0.9v0.9h-0.9zM110.6 44.4h0.9v0.9h-0.9zM111.4 56.2h0.9v0.9h-0.9zM109.0 56.8h0.9v0.9h-0.9zM111.9 64.0h0.9v0.9h-0.9zM112.4 54.5h0.9v0.9h-0.9zM108.2 41.2h0.9v0.9h-0.9zM108.5 51.8h0.9v0.9h-0.9zM110.9 58.3h0.9v0.9h-0.9zM113.1 70.0h0.9v0.9h-0.9zM110.3 63.9h0.9v0.9h-0.9zM114.2 69.5h0.9v0.9h-0.9zM114.3 67.3h0.9v0.9h-0.9zM110.8 45.4h0.9v0.9h-0.9zM111.4 68.7h0.9v0.9h-0.9zM114.8 66.3h0.9v0.9h-0.9zM113.3 65.2h0.9v0.9h-0.9zM111.9 45.4h0.9v0.9h-0.9zM112.2 64.9h0.9v0.9h-0.9zM109.7 49.1h0.9v0.9h-0.9zM108.4 52.8h0.9v0.9h-0.9zM111.9 65.1h0.9v0.9h-0.9zM108.1 45.0h0.9v0.9h-0.9zM112.8 59.1h0.9v0.9h-0.9zM109.9 44.9h0.9v0.9h-0.9zM114.5 69.6h0.9v0.9h-0.9zM111.4 45.7h0.9v0.9h-0.9zM108.3 51.7h0.9v0.9h-0.9zM110.4 54.6h0.9v0.9h-0.9zM109.6 64.3h0.9v0.9h-0.9zM108.9 58.8h0.9v0.9h-0.9zM107.8 45.3h0.9v0.9h-0.9zM113.6 62.0h0.9v0.9h-0.9zM109.0 51.3h0.9v0.9h-0.9zM115.6 70.5h0.9v0.9h-0.9zM115.5 68.2h0.9v0.9h-0.9zM113.6 66.2h0.9v0.9h-0.9zM111.8 50.5h0.9v0.9h-0.9zM112.3 71.5h0.9v0.9h-0.9zM111.5 62.7h0.9v0.9h-0.9zM108.0 45.5h0.9v0.9h-0.9zM110.4 61.9h0.9v0.9h-0.9zM110.3 40.0h0.9v0.9h-0.9zM111.6 43.5h0.9v0.9h-0.9zM110.3 45.1h0.9v0.9h-0.9zM112.6 65.4h0.9v0.9h-0.9z" fill="#EB6E25"/><path d="M112.5 63.2h0.9v0.9h-0.9zM111.6 67.0h0.9v0.9h-0.9zM110.8 63.4h0.9v0.9h-0.9zM111.5 61.3h0.9v0.9h-0.9zM115.8 70.1h0.9v0.9h-0.9zM111.8 55.2h0.9v0.9h-0.9zM111.8 57.1h0.9v0.9h-0.9zM111.4 67.0h0.9v0.9h-0.9zM110.2 54.6h0.9v0.9h-0.9zM109.9 41.3h0.9v0.9h-0.9zM111.5 60.8h0.9v0.9h-0.9zM113.1 71.6h0.9v0.9h-0.9zM109.7 65.2h0.9v0.9h-0.9zM111.1 50.9h0.9v0.9h-0.9zM110.8 40.5h0.9v0.9h-0.9zM109.0 40.4h0.9v0.9h-0.9zM113.0 54.7h0.9v0.9h-0.9zM112.6 59.3h0.9v0.9h-0.9zM112.7 59.2h0.9v0.9h-0.9z" fill="#52B589"/><path d="M111.9 66.3h0.9v0.9h-0.9zM112.7 67.0h0.9v0.9h-0.9zM113.7 63.9h0.9v0.9h-0.9zM110.8 54.4h0.9v0.9h-0.9zM109.4 45.1h0.9v0.9h-0.9zM110.2 44.1h0.9v0.9h-0.9zM111.1 66.1h0.9v0.9h-0.9zM109.7 56.6h0.9v0.9h-0.9z" fill="#D2B4F0"/></g><polygon points="113.0,40.0 119.9,40.2 121.0,50.0 118.0,55.0 114.0,52.0" fill="#B8A0E0" fill-opacity="0.7" filter="url(#bl)"/><g><path d="M118.6 46.3h0.9v0.9h-0.9zM114.8 44.4h0.9v0.9h-0.9zM119.4 44.7h0.9v0.9h-0.9zM116.9 44.8h0.9v0.9h-0.9zM117.5 49.1h0.9v0.9h-0.9zM113.7 47.6h0.9v0.9h-0.9zM118.2 53.0h0.9v0.9h-0.9zM116.7 49.3h0.9v0.9h-0.9zM117.3 44.5h0.9v0.9h-0.9zM115.2 47.4h0.9v0.9h-0.9zM118.9 51.7h0.9v0.9h-0.9zM118.3 51.3h0.9v0.9h-0.9zM115.8 47.0h0.9v0.9h-0.9zM116.8 45.2h0.9v0.9h-0.9zM114.2 46.3h0.9v0.9h-0.9zM119.3 49.9h0.9v0.9h-0.9zM115.8 40.0h0.9v0.9h-0.9zM117.0 49.0h0.9v0.9h-0.9zM113.6 43.6h0.9v0.9h-0.9zM115.6 49.5h0.9v0.9h-0.9z" fill="#D2B4F0"/><path d="M113.9 44.9h0.9v0.9h-0.9zM116.3 47.9h0.9v0.9h-0.9zM114.9 40.1h0.9v0.9h-0.9zM114.0 46.5h0.9v0.9h-0.9zM119.3 50.7h0.9v0.9h-0.9zM115.6 46.5h0.9v0.9h-0.9zM113.3 45.5h0.9v0.9h-0.9zM116.6 49.2h0.9v0.9h-0.9zM114.8 40.6h0.9v0.9h-0.9zM114.9 47.3h0.9v0.9h-0.9zM115.5 52.9h0.9v0.9h-0.9zM115.3 40.7h0.9v0.9h-0.9zM119.6 50.4h0.9v0.9h-0.9zM114.7 42.7h0.9v0.9h-0.9zM116.9 49.1h0.9v0.9h-0.9zM114.6 43.9h0.9v0.9h-0.9zM116.9 51.5h0.9v0.9h-0.9zM119.6 47.8h0.9v0.9h-0.9zM118.7 40.6h0.9v0.9h-0.9zM115.7 43.9h0.9v0.9h-0.9z" fill="#7F78CF"/><path d="M119.7 44.6h0.9v0.9h-0.9zM115.1 41.8h0.9v0.9h-0.9zM114.0 49.5h0.9v0.9h-0.9zM117.4 49.8h0.9v0.9h-0.9zM117.7 52.9h0.9v0.9h-0.9z" fill="#ffffff"/></g><polygon points="117.5,60.0 121.0,58.5 125.7,61.2 128.0,65.9 126.0,70.0 123.4,71.7 117.5,70.5" fill="#A77A30" fill-opacity="0.95" filter="url(#bl)"/><g><path d="M123.7 65.1h0.9v0.9h-0.9zM122.3 62.1h0.9v0.9h-0.9zM125.7 66.7h0.9v0.9h-0.9zM117.9 68.6h0.9v0.9h-0.9zM120.0 65.0h0.9v0.9h-0.9zM125.2 61.9h0.9v0.9h-0.9zM120.4 68.9h0.9v0.9h-0.9zM118.6 64.7h0.9v0.9h-0.9zM125.6 69.3h0.9v0.9h-0.9zM120.3 59.4h0.9v0.9h-0.9zM121.0 64.1h0.9v0.9h-0.9zM123.6 64.6h0.9v0.9h-0.9zM121.6 63.4h0.9v0.9h-0.9zM119.4 63.6h0.9v0.9h-0.9zM118.2 68.0h0.9v0.9h-0.9zM119.5 69.1h0.9v0.9h-0.9zM119.7 61.9h0.9v0.9h-0.9zM117.1 61.9h0.9v0.9h-0.9zM124.0 63.9h0.9v0.9h-0.9zM120.7 69.2h0.9v0.9h-0.9zM119.6 70.3h0.9v0.9h-0.9zM122.3 70.4h0.9v0.9h-0.9zM119.9 68.7h0.9v0.9h-0.9zM122.5 62.2h0.9v0.9h-0.9zM125.1 62.0h0.9v0.9h-0.9zM122.9 64.3h0.9v0.9h-0.9z" fill="#A67628"/><path d="M124.0 68.6h0.9v0.9h-0.9zM123.4 67.8h0.9v0.9h-0.9zM122.5 61.8h0.9v0.9h-0.9zM117.8 61.9h0.9v0.9h-0.9zM124.1 68.3h0.9v0.9h-0.9z" fill="#D9A42E"/></g><g><path d="M126.3 52.9h0.9v0.9h-0.9zM120.6 51.4h0.9v0.9h-0.9zM121.7 53.7h0.9v0.9h-0.9zM126.3 52.1h0.9v0.9h-0.9zM123.8 55.5h0.9v0.9h-0.9zM125.1 48.5h0.9v0.9h-0.9zM125.2 53.4h0.9v0.9h-0.9zM127.8 54.4h0.9v0.9h-0.9z" fill="#DE3FA0"/><path d="M122.7 53.6h0.9v0.9h-0.9zM123.3 49.6h0.9v0.9h-0.9zM127.6 49.4h0.9v0.9h-0.9zM127.2 50.9h0.9v0.9h-0.9zM127.1 49.0h0.9v0.9h-0.9z" fill="#D9CCB2"/><path d="M122.6 52.2h0.9v0.9h-0.9zM127.9 52.9h0.9v0.9h-0.9zM123.9 50.8h0.9v0.9h-0.9zM122.0 54.0h0.9v0.9h-0.9zM124.5 48.5h0.9v0.9h-0.9zM125.0 48.8h0.9v0.9h-0.9zM128.2 53.7h0.9v0.9h-0.9zM125.4 49.8h0.9v0.9h-0.9zM122.7 50.6h0.9v0.9h-0.9zM129.4 51.4h0.9v0.9h-0.9zM122.1 50.4h0.9v0.9h-0.9zM121.5 52.7h0.9v0.9h-0.9zM127.3 51.0h0.9v0.9h-0.9zM128.0 51.9h0.9v0.9h-0.9z" fill="#E0338C"/></g><polygon points="122.0,71.0 124.0,71.5 123.5,78.0 122.8,84.0 121.5,84.0 122.0,78.0" fill="#B0A080" fill-opacity="0.5" filter="url(#bl)"/><g><path d="M122.8 74.8h0.9v0.9h-0.9zM121.6 75.3h0.9v0.9h-0.9zM122.3 78.5h0.9v0.9h-0.9zM123.1 72.2h0.9v0.9h-0.9zM121.7 76.0h0.9v0.9h-0.9zM122.3 71.1h0.9v0.9h-0.9zM122.4 74.0h0.9v0.9h-0.9z" fill="#A67628"/><path d="M122.9 78.0h0.9v0.9h-0.9z" fill="#6DB535"/></g><polygon points="125.0,72.0 127.0,73.0 129.5,77.0 130.0,80.0 127.5,80.5 126.0,76.0" fill="#C09640" fill-opacity="0.6" filter="url(#bl)"/><g><path d="M126.5 77.7h0.9v0.9h-0.9zM126.9 78.6h0.9v0.9h-0.9zM126.9 74.8h0.9v0.9h-0.9zM126.8 73.3h0.9v0.9h-0.9zM125.5 74.4h0.9v0.9h-0.9zM127.9 79.5h0.9v0.9h-0.9zM128.1 79.4h0.9v0.9h-0.9zM129.0 77.4h0.9v0.9h-0.9z" fill="#D9A42E"/></g><polygon points="132.0,49.0 134.0,45.5 140.0,41.0 146.5,36.3 148.5,37.5 147.5,41.0 141.0,46.0 136.0,50.5 133.0,52.0" fill="#98D088" fill-opacity="0.75" filter="url(#bl)"/><g><path d="M138.2 45.0h0.9v0.9h-0.9zM146.5 38.5h0.9v0.9h-0.9zM144.4 42.4h0.9v0.9h-0.9zM134.6 49.8h0.9v0.9h-0.9zM147.6 37.2h0.9v0.9h-0.9zM133.1 48.8h0.9v0.9h-0.9zM141.0 41.3h0.9v0.9h-0.9zM145.8 36.5h0.9v0.9h-0.9zM143.8 41.6h0.9v0.9h-0.9zM136.9 43.2h0.9v0.9h-0.9zM136.5 47.4h0.9v0.9h-0.9zM141.7 40.0h0.9v0.9h-0.9zM137.2 48.4h0.9v0.9h-0.9z" fill="#ffffff"/><path d="M135.0 48.0h0.9v0.9h-0.9zM134.5 47.9h0.9v0.9h-0.9zM141.2 41.5h0.9v0.9h-0.9zM146.2 36.2h0.9v0.9h-0.9zM136.6 44.3h0.9v0.9h-0.9zM136.9 45.6h0.9v0.9h-0.9zM133.3 48.4h0.9v0.9h-0.9zM140.8 45.0h0.9v0.9h-0.9zM147.2 38.2h0.9v0.9h-0.9zM136.4 43.9h0.9v0.9h-0.9zM144.7 39.3h0.9v0.9h-0.9zM133.0 49.0h0.9v0.9h-0.9zM138.3 43.1h0.9v0.9h-0.9zM135.9 48.5h0.9v0.9h-0.9zM133.6 50.0h0.9v0.9h-0.9zM137.5 42.2h0.9v0.9h-0.9zM138.4 46.4h0.9v0.9h-0.9zM139.7 44.4h0.9v0.9h-0.9zM137.8 42.8h0.9v0.9h-0.9zM144.5 42.4h0.9v0.9h-0.9zM132.6 50.8h0.9v0.9h-0.9z" fill="#73E373"/><path d="M133.3 50.1h0.9v0.9h-0.9zM143.9 37.8h0.9v0.9h-0.9zM133.4 48.4h0.9v0.9h-0.9zM144.5 38.9h0.9v0.9h-0.9zM147.8 37.6h0.9v0.9h-0.9zM134.7 44.5h0.9v0.9h-0.9zM137.4 44.6h0.9v0.9h-0.9zM143.1 42.6h0.9v0.9h-0.9zM138.3 46.8h0.9v0.9h-0.9zM136.2 48.8h0.9v0.9h-0.9zM140.8 40.3h0.9v0.9h-0.9z" fill="#B95A2A"/><path d="M142.5 43.4h0.9v0.9h-0.9zM132.4 50.4h0.9v0.9h-0.9zM142.5 41.2h0.9v0.9h-0.9zM135.5 49.8h0.9v0.9h-0.9zM132.0 49.1h0.9v0.9h-0.9zM138.4 41.7h0.9v0.9h-0.9zM146.2 36.0h0.9v0.9h-0.9zM135.4 45.4h0.9v0.9h-0.9z" fill="#3E64B0"/></g><polygon points="134.0,45.5 140.0,41.0 146.5,36.3 147.0,38.0 141.0,43.0 135.0,47.0" fill="#8A6A50" fill-opacity="0.6" filter="url(#bl)"/><g><path d="M145.3 36.7h0.9v0.9h-0.9zM134.6 45.0h0.9v0.9h-0.9zM142.8 40.5h0.9v0.9h-0.9zM139.4 41.2h0.9v0.9h-0.9zM144.2 37.6h0.9v0.9h-0.9zM138.7 42.2h0.9v0.9h-0.9zM140.3 40.3h0.9v0.9h-0.9zM144.0 38.5h0.9v0.9h-0.9zM135.9 43.4h0.9v0.9h-0.9z" fill="#B95A2A"/><path d="M138.7 43.5h0.9v0.9h-0.9zM140.1 41.9h0.9v0.9h-0.9zM139.5 40.9h0.9v0.9h-0.9zM136.7 44.6h0.9v0.9h-0.9zM137.2 42.7h0.9v0.9h-0.9zM137.6 42.4h0.9v0.9h-0.9zM140.2 42.5h0.9v0.9h-0.9zM137.7 43.2h0.9v0.9h-0.9z" fill="#3E64B0"/></g><polygon points="149.0,60.0 150.2,71.7 155.0,74.5 164.2,74.0 170.0,69.4 168.0,60.0 158.4,60.0" fill="#E0D8C4" fill-opacity="0.9" filter="url(#bl)"/><g><path d="M166.8 67.6h0.9v0.9h-0.9zM158.8 68.5h0.9v0.9h-0.9zM163.4 68.2h0.9v0.9h-0.9zM165.0 59.6h0.9v0.9h-0.9zM159.7 66.2h0.9v0.9h-0.9zM152.3 70.8h0.9v0.9h-0.9zM160.8 66.5h0.9v0.9h-0.9zM153.0 72.8h0.9v0.9h-0.9zM164.4 69.9h0.9v0.9h-0.9zM158.8 63.4h0.9v0.9h-0.9zM164.1 65.2h0.9v0.9h-0.9zM152.2 60.0h0.9v0.9h-0.9zM154.4 63.7h0.9v0.9h-0.9zM154.6 70.7h0.9v0.9h-0.9zM153.7 64.9h0.9v0.9h-0.9zM161.2 69.2h0.9v0.9h-0.9zM151.0 68.4h0.9v0.9h-0.9zM166.6 64.1h0.9v0.9h-0.9zM155.9 64.6h0.9v0.9h-0.9zM156.9 72.3h0.9v0.9h-0.9zM158.1 67.8h0.9v0.9h-0.9zM156.2 69.1h0.9v0.9h-0.9zM165.9 62.8h0.9v0.9h-0.9zM152.2 71.7h0.9v0.9h-0.9zM162.2 72.6h0.9v0.9h-0.9zM150.2 62.8h0.9v0.9h-0.9zM156.0 68.1h0.9v0.9h-0.9zM153.9 63.7h0.9v0.9h-0.9zM163.1 69.4h0.9v0.9h-0.9zM165.6 68.9h0.9v0.9h-0.9zM149.0 60.6h0.9v0.9h-0.9zM150.6 68.9h0.9v0.9h-0.9zM154.3 64.9h0.9v0.9h-0.9zM164.4 61.0h0.9v0.9h-0.9zM153.0 67.6h0.9v0.9h-0.9zM158.1 68.9h0.9v0.9h-0.9zM148.8 60.5h0.9v0.9h-0.9zM149.1 62.3h0.9v0.9h-0.9zM152.0 61.4h0.9v0.9h-0.9zM166.9 66.7h0.9v0.9h-0.9zM152.3 67.7h0.9v0.9h-0.9zM160.2 61.0h0.9v0.9h-0.9zM149.5 64.0h0.9v0.9h-0.9zM149.5 66.8h0.9v0.9h-0.9zM162.1 70.6h0.9v0.9h-0.9z" fill="#D9CCB2"/><path d="M164.8 66.5h0.9v0.9h-0.9zM162.4 66.0h0.9v0.9h-0.9zM149.8 59.8h0.9v0.9h-0.9zM161.8 70.1h0.9v0.9h-0.9zM151.1 62.7h0.9v0.9h-0.9zM165.0 67.5h0.9v0.9h-0.9zM155.0 72.9h0.9v0.9h-0.9zM160.9 67.2h0.9v0.9h-0.9zM157.8 66.8h0.9v0.9h-0.9zM151.5 71.0h0.9v0.9h-0.9zM157.6 68.0h0.9v0.9h-0.9zM167.1 67.3h0.9v0.9h-0.9zM156.0 69.9h0.9v0.9h-0.9zM149.7 60.8h0.9v0.9h-0.9zM149.2 65.2h0.9v0.9h-0.9zM164.5 68.4h0.9v0.9h-0.9zM167.0 68.0h0.9v0.9h-0.9zM160.7 71.7h0.9v0.9h-0.9zM156.7 61.6h0.9v0.9h-0.9zM167.3 60.6h0.9v0.9h-0.9zM161.7 64.6h0.9v0.9h-0.9z" fill="#EEF8C8"/><path d="M161.4 72.4h0.9v0.9h-0.9zM155.1 63.8h0.9v0.9h-0.9zM150.3 68.8h0.9v0.9h-0.9zM151.1 59.8h0.9v0.9h-0.9zM156.0 73.7h0.9v0.9h-0.9zM159.1 66.7h0.9v0.9h-0.9zM151.7 72.3h0.9v0.9h-0.9zM160.6 72.7h0.9v0.9h-0.9zM160.8 64.1h0.9v0.9h-0.9zM163.2 62.8h0.9v0.9h-0.9zM156.5 73.8h0.9v0.9h-0.9z" fill="#F4A6A8"/></g><polygon points="146.7,48.4 151.4,44.9 156.0,51.9 158.4,60.0 160.0,65.0 151.4,64.0 147.9,55.4" fill="#C4D4D4" fill-opacity="0.7" filter="url(#bl)"/><g><path d="M151.6 47.1h0.9v0.9h-0.9zM147.6 52.6h0.9v0.9h-0.9zM155.9 57.4h0.9v0.9h-0.9zM154.6 63.0h0.9v0.9h-0.9zM157.4 61.3h0.9v0.9h-0.9zM153.1 49.6h0.9v0.9h-0.9zM157.5 59.1h0.9v0.9h-0.9zM152.2 55.7h0.9v0.9h-0.9zM158.3 62.2h0.9v0.9h-0.9zM155.5 54.6h0.9v0.9h-0.9zM155.5 61.4h0.9v0.9h-0.9zM155.2 55.8h0.9v0.9h-0.9zM149.2 47.4h0.9v0.9h-0.9zM158.7 63.4h0.9v0.9h-0.9zM150.3 51.3h0.9v0.9h-0.9zM155.7 57.4h0.9v0.9h-0.9zM151.7 58.4h0.9v0.9h-0.9zM154.1 50.6h0.9v0.9h-0.9zM149.1 51.7h0.9v0.9h-0.9zM158.3 63.8h0.9v0.9h-0.9zM155.9 62.6h0.9v0.9h-0.9zM151.6 47.1h0.9v0.9h-0.9zM153.1 58.6h0.9v0.9h-0.9zM151.2 54.3h0.9v0.9h-0.9zM150.3 48.7h0.9v0.9h-0.9zM153.0 61.5h0.9v0.9h-0.9zM155.9 59.6h0.9v0.9h-0.9zM149.2 50.6h0.9v0.9h-0.9zM150.2 59.9h0.9v0.9h-0.9zM150.3 45.9h0.9v0.9h-0.9zM154.8 58.3h0.9v0.9h-0.9zM148.0 52.5h0.9v0.9h-0.9zM154.5 58.2h0.9v0.9h-0.9zM154.6 52.9h0.9v0.9h-0.9zM149.6 47.3h0.9v0.9h-0.9zM157.5 61.0h0.9v0.9h-0.9z" fill="#A8D4E4"/><path d="M151.4 50.1h0.9v0.9h-0.9zM149.3 49.8h0.9v0.9h-0.9zM156.1 57.8h0.9v0.9h-0.9zM153.4 59.2h0.9v0.9h-0.9zM155.1 58.6h0.9v0.9h-0.9zM147.1 51.0h0.9v0.9h-0.9zM154.6 54.0h0.9v0.9h-0.9zM154.7 53.2h0.9v0.9h-0.9zM153.2 62.9h0.9v0.9h-0.9zM155.2 61.0h0.9v0.9h-0.9zM154.5 60.2h0.9v0.9h-0.9zM149.2 45.8h0.9v0.9h-0.9zM152.5 53.9h0.9v0.9h-0.9zM147.8 55.6h0.9v0.9h-0.9zM155.3 59.8h0.9v0.9h-0.9zM155.6 55.0h0.9v0.9h-0.9zM148.4 49.7h0.9v0.9h-0.9zM154.2 55.3h0.9v0.9h-0.9zM150.6 50.9h0.9v0.9h-0.9zM147.2 51.8h0.9v0.9h-0.9zM147.1 50.9h0.9v0.9h-0.9zM155.2 61.6h0.9v0.9h-0.9zM148.1 49.9h0.9v0.9h-0.9z" fill="#D9CCB2"/></g><polygon points="160.7,33.8 167.0,32.0 174.7,31.4 176.5,39.0 174.5,50.0 172.4,60.0 170.0,71.7 163.0,74.0 160.0,66.0 158.4,58.0 160.7,43.7" fill="#EDF0A8" fill-opacity="0.95" filter="url(#bl)"/><g><path d="M163.0 36.0h0.9v0.9h-0.9zM161.2 52.8h0.9v0.9h-0.9zM166.5 46.5h0.9v0.9h-0.9zM161.4 69.6h0.9v0.9h-0.9zM171.5 43.3h0.9v0.9h-0.9zM166.9 55.8h0.9v0.9h-0.9z" fill="#73E373"/><path d="M164.7 46.1h0.9v0.9h-0.9zM172.2 35.6h0.9v0.9h-0.9zM168.5 45.8h0.9v0.9h-0.9zM164.9 59.4h0.9v0.9h-0.9zM163.5 69.2h0.9v0.9h-0.9zM161.7 40.5h0.9v0.9h-0.9zM159.7 62.0h0.9v0.9h-0.9zM167.2 45.9h0.9v0.9h-0.9zM165.7 35.0h0.9v0.9h-0.9zM166.8 62.4h0.9v0.9h-0.9zM169.6 64.6h0.9v0.9h-0.9zM174.9 36.9h0.9v0.9h-0.9zM174.1 49.3h0.9v0.9h-0.9zM161.7 54.4h0.9v0.9h-0.9zM161.8 59.2h0.9v0.9h-0.9zM162.9 47.7h0.9v0.9h-0.9zM163.9 43.0h0.9v0.9h-0.9zM173.8 35.0h0.9v0.9h-0.9zM169.7 48.0h0.9v0.9h-0.9zM161.6 48.0h0.9v0.9h-0.9zM170.1 47.9h0.9v0.9h-0.9zM163.0 50.0h0.9v0.9h-0.9zM162.9 60.5h0.9v0.9h-0.9zM173.3 42.7h0.9v0.9h-0.9zM170.7 34.3h0.9v0.9h-0.9zM163.3 35.6h0.9v0.9h-0.9zM173.6 47.7h0.9v0.9h-0.9zM160.8 65.1h0.9v0.9h-0.9zM163.0 51.3h0.9v0.9h-0.9zM165.3 55.9h0.9v0.9h-0.9zM159.2 61.6h0.9v0.9h-0.9zM174.8 34.9h0.9v0.9h-0.9zM167.9 62.4h0.9v0.9h-0.9zM166.5 70.6h0.9v0.9h-0.9zM160.1 48.9h0.9v0.9h-0.9zM169.8 31.5h0.9v0.9h-0.9zM164.4 38.6h0.9v0.9h-0.9zM170.3 35.3h0.9v0.9h-0.9zM166.7 33.2h0.9v0.9h-0.9zM169.1 64.3h0.9v0.9h-0.9zM163.1 60.3h0.9v0.9h-0.9zM164.3 43.4h0.9v0.9h-0.9zM172.6 33.4h0.9v0.9h-0.9zM166.9 46.2h0.9v0.9h-0.9zM166.6 43.4h0.9v0.9h-0.9zM166.6 47.8h0.9v0.9h-0.9zM166.0 52.2h0.9v0.9h-0.9zM171.5 52.9h0.9v0.9h-0.9zM163.7 64.7h0.9v0.9h-0.9zM166.9 46.3h0.9v0.9h-0.9zM171.0 55.1h0.9v0.9h-0.9zM174.1 40.2h0.9v0.9h-0.9zM162.5 71.1h0.9v0.9h-0.9zM165.7 58.3h0.9v0.9h-0.9zM174.4 47.1h0.9v0.9h-0.9zM162.2 58.7h0.9v0.9h-0.9zM160.3 50.5h0.9v0.9h-0.9zM164.6 68.5h0.9v0.9h-0.9zM164.2 71.7h0.9v0.9h-0.9zM173.0 46.6h0.9v0.9h-0.9zM161.2 39.4h0.9v0.9h-0.9zM171.0 54.8h0.9v0.9h-0.9zM160.3 63.4h0.9v0.9h-0.9zM169.4 67.3h0.9v0.9h-0.9zM171.6 34.8h0.9v0.9h-0.9zM168.8 50.1h0.9v0.9h-0.9zM167.2 66.3h0.9v0.9h-0.9zM169.6 60.5h0.9v0.9h-0.9zM169.6 39.8h0.9v0.9h-0.9zM159.8 48.3h0.9v0.9h-0.9zM162.4 44.2h0.9v0.9h-0.9zM173.1 33.5h0.9v0.9h-0.9zM160.9 49.3h0.9v0.9h-0.9zM167.8 42.7h0.9v0.9h-0.9zM170.4 35.5h0.9v0.9h-0.9zM164.3 58.5h0.9v0.9h-0.9zM163.9 64.9h0.9v0.9h-0.9zM168.5 33.8h0.9v0.9h-0.9zM169.9 66.2h0.9v0.9h-0.9zM164.9 43.4h0.9v0.9h-0.9zM164.0 41.0h0.9v0.9h-0.9zM168.5 52.9h0.9v0.9h-0.9zM159.7 49.0h0.9v0.9h-0.9zM169.3 35.3h0.9v0.9h-0.9zM171.7 39.7h0.9v0.9h-0.9zM166.2 47.5h0.9v0.9h-0.9zM175.1 39.0h0.9v0.9h-0.9zM170.2 37.0h0.9v0.9h-0.9zM166.9 49.8h0.9v0.9h-0.9zM165.0 59.5h0.9v0.9h-0.9zM162.7 37.1h0.9v0.9h-0.9zM162.2 52.1h0.9v0.9h-0.9zM169.4 55.4h0.9v0.9h-0.9zM164.7 49.2h0.9v0.9h-0.9zM167.7 55.9h0.9v0.9h-0.9zM172.6 48.5h0.9v0.9h-0.9zM168.7 52.9h0.9v0.9h-0.9zM161.4 65.4h0.9v0.9h-0.9zM161.3 47.1h0.9v0.9h-0.9zM166.9 44.7h0.9v0.9h-0.9zM161.4 51.8h0.9v0.9h-0.9zM172.8 37.4h0.9v0.9h-0.9zM167.9 62.4h0.9v0.9h-0.9zM165.4 59.0h0.9v0.9h-0.9zM163.5 32.9h0.9v0.9h-0.9zM159.4 51.1h0.9v0.9h-0.9zM160.1 47.1h0.9v0.9h-0.9zM174.2 41.7h0.9v0.9h-0.9zM163.8 67.9h0.9v0.9h-0.9zM168.9 32.5h0.9v0.9h-0.9zM163.9 63.1h0.9v0.9h-0.9zM159.4 64.0h0.9v0.9h-0.9zM159.0 61.7h0.9v0.9h-0.9zM161.5 61.3h0.9v0.9h-0.9zM160.8 39.0h0.9v0.9h-0.9zM161.8 69.4h0.9v0.9h-0.9zM167.3 33.0h0.9v0.9h-0.9zM159.5 59.3h0.9v0.9h-0.9zM164.3 33.8h0.9v0.9h-0.9zM173.1 51.2h0.9v0.9h-0.9zM173.6 51.6h0.9v0.9h-0.9zM173.1 47.6h0.9v0.9h-0.9zM167.3 35.8h0.9v0.9h-0.9zM165.1 44.6h0.9v0.9h-0.9zM174.4 44.0h0.9v0.9h-0.9zM169.5 66.5h0.9v0.9h-0.9zM168.7 62.2h0.9v0.9h-0.9zM163.2 49.7h0.9v0.9h-0.9zM164.3 61.9h0.9v0.9h-0.9zM161.3 61.4h0.9v0.9h-0.9zM161.8 50.9h0.9v0.9h-0.9zM167.1 59.3h0.9v0.9h-0.9zM161.1 35.6h0.9v0.9h-0.9zM168.1 59.1h0.9v0.9h-0.9zM160.9 52.4h0.9v0.9h-0.9zM160.6 58.9h0.9v0.9h-0.9zM166.3 69.6h0.9v0.9h-0.9zM171.7 35.9h0.9v0.9h-0.9zM167.5 71.5h0.9v0.9h-0.9zM169.5 66.6h0.9v0.9h-0.9zM168.8 37.8h0.9v0.9h-0.9zM168.6 52.5h0.9v0.9h-0.9zM169.3 52.2h0.9v0.9h-0.9zM162.4 60.2h0.9v0.9h-0.9zM168.9 65.5h0.9v0.9h-0.9zM168.0 71.5h0.9v0.9h-0.9zM171.1 55.4h0.9v0.9h-0.9z" fill="#EAF58A"/><path d="M167.1 36.7h0.9v0.9h-0.9zM167.2 69.0h0.9v0.9h-0.9zM163.0 34.7h0.9v0.9h-0.9zM171.9 51.2h0.9v0.9h-0.9zM166.4 62.8h0.9v0.9h-0.9zM169.1 71.1h0.9v0.9h-0.9zM166.1 49.1h0.9v0.9h-0.9zM166.3 33.2h0.9v0.9h-0.9zM168.9 68.4h0.9v0.9h-0.9zM174.3 47.6h0.9v0.9h-0.9zM162.0 36.3h0.9v0.9h-0.9zM168.1 51.7h0.9v0.9h-0.9zM163.5 50.7h0.9v0.9h-0.9zM169.6 40.2h0.9v0.9h-0.9zM163.5 45.8h0.9v0.9h-0.9z" fill="#E0338C"/><path d="M164.7 54.6h0.9v0.9h-0.9zM166.4 49.3h0.9v0.9h-0.9zM168.4 48.5h0.9v0.9h-0.9zM171.9 56.5h0.9v0.9h-0.9zM160.8 33.3h0.9v0.9h-0.9zM173.8 36.9h0.9v0.9h-0.9zM167.7 45.7h0.9v0.9h-0.9zM160.2 52.1h0.9v0.9h-0.9zM171.1 41.3h0.9v0.9h-0.9zM164.0 64.6h0.9v0.9h-0.9zM168.4 50.3h0.9v0.9h-0.9zM159.9 56.3h0.9v0.9h-0.9zM163.1 51.1h0.9v0.9h-0.9zM165.7 70.6h0.9v0.9h-0.9zM166.8 32.7h0.9v0.9h-0.9zM170.9 61.7h0.9v0.9h-0.9zM173.8 43.5h0.9v0.9h-0.9zM165.4 56.7h0.9v0.9h-0.9zM170.2 43.6h0.9v0.9h-0.9zM170.8 49.2h0.9v0.9h-0.9zM166.3 32.0h0.9v0.9h-0.9zM168.0 59.6h0.9v0.9h-0.9zM166.4 42.3h0.9v0.9h-0.9zM170.2 42.7h0.9v0.9h-0.9z" fill="#D9CCB2"/></g><polygon points="171.0,31.8 174.7,31.4 176.3,36.0 175.9,42.5 173.0,40.0" fill="#7A5070" fill-opacity="0.7" filter="url(#bl)"/><g><path d="M173.6 35.1h0.9v0.9h-0.9zM174.9 38.5h0.9v0.9h-0.9zM174.6 39.9h0.9v0.9h-0.9zM173.8 40.0h0.9v0.9h-0.9zM172.9 33.7h0.9v0.9h-0.9zM173.2 32.4h0.9v0.9h-0.9zM174.6 35.6h0.9v0.9h-0.9zM173.9 36.0h0.9v0.9h-0.9zM172.0 34.7h0.9v0.9h-0.9zM170.8 32.2h0.9v0.9h-0.9zM174.0 33.5h0.9v0.9h-0.9zM172.3 35.9h0.9v0.9h-0.9z" fill="#E0338C"/><path d="M175.4 41.5h0.9v0.9h-0.9zM173.1 33.3h0.9v0.9h-0.9zM174.0 33.0h0.9v0.9h-0.9zM174.3 36.2h0.9v0.9h-0.9zM173.8 32.9h0.9v0.9h-0.9zM173.4 32.9h0.9v0.9h-0.9zM174.8 41.4h0.9v0.9h-0.9zM172.5 36.7h0.9v0.9h-0.9zM172.8 34.2h0.9v0.9h-0.9zM173.5 32.4h0.9v0.9h-0.9zM173.0 38.1h0.9v0.9h-0.9zM174.3 35.4h0.9v0.9h-0.9zM175.3 40.9h0.9v0.9h-0.9zM173.5 40.1h0.9v0.9h-0.9zM173.9 39.5h0.9v0.9h-0.9zM175.1 39.4h0.9v0.9h-0.9zM173.7 39.9h0.9v0.9h-0.9z" fill="#55555A"/></g><polygon points="167.0,32.0 171.0,31.8 170.0,35.0 167.0,34.5" fill="#D84090" fill-opacity="0.5" filter="url(#bl)"/><g><path d="M166.8 32.6h0.9v0.9h-0.9zM168.3 32.5h0.9v0.9h-0.9zM169.6 31.9h0.9v0.9h-0.9zM168.2 32.2h0.9v0.9h-0.9zM170.0 31.8h0.9v0.9h-0.9z" fill="#E0338C"/></g><polygon points="124.0,89.3 123.8,90.6 123.4,91.8 122.8,92.5 122.0,92.8 121.2,92.5 120.6,91.8 120.2,90.6 120.0,89.3 120.2,88.0 120.6,86.8 121.2,86.1 122.0,85.8 122.8,86.1 123.4,86.8 123.8,88.0" fill="#5A5A5E" fill-opacity="0.95" filter="url(#bl)"/><g></g><polygon points="130.0,102.5 131.0,102.5 131.0,108.0 133.7,111.0 133.2,116.5 130.5,117.8 127.8,115.0 128.2,110.0 129.5,107.0" fill="#D8C4EE" fill-opacity="0.8" filter="url(#bl)"/><g><path d="M130.4 109.5h0.9v0.9h-0.9zM131.2 109.8h0.9v0.9h-0.9zM131.7 115.8h0.9v0.9h-0.9zM128.5 109.0h0.9v0.9h-0.9zM129.7 103.5h0.9v0.9h-0.9zM130.9 116.9h0.9v0.9h-0.9zM129.6 115.9h0.9v0.9h-0.9zM129.8 108.9h0.9v0.9h-0.9zM131.8 116.0h0.9v0.9h-0.9zM130.3 111.4h0.9v0.9h-0.9zM132.9 113.5h0.9v0.9h-0.9zM128.3 109.4h0.9v0.9h-0.9zM131.7 115.0h0.9v0.9h-0.9z" fill="#D6BDF2"/><path d="M130.2 111.0h0.9v0.9h-0.9zM132.5 109.9h0.9v0.9h-0.9z" fill="#6DB535"/></g><polygon points="152.0,95.5 156.0,97.0 160.0,100.0 160.7,108.0 158.5,116.0 153.5,119.3 149.5,116.0 146.4,110.0 146.5,103.0 149.0,98.0" fill="#CBC8D8" fill-opacity="0.9" filter="url(#bl)"/><g><path d="M156.0 108.8h0.9v0.9h-0.9zM153.7 100.2h0.9v0.9h-0.9zM157.4 112.7h0.9v0.9h-0.9zM151.6 101.1h0.9v0.9h-0.9zM150.3 113.9h0.9v0.9h-0.9zM159.8 108.4h0.9v0.9h-0.9zM153.5 99.2h0.9v0.9h-0.9zM153.3 96.2h0.9v0.9h-0.9zM148.5 100.4h0.9v0.9h-0.9zM154.9 105.5h0.9v0.9h-0.9zM159.2 107.2h0.9v0.9h-0.9zM150.8 102.6h0.9v0.9h-0.9zM148.1 98.8h0.9v0.9h-0.9zM151.1 106.7h0.9v0.9h-0.9zM155.2 110.2h0.9v0.9h-0.9zM149.7 106.2h0.9v0.9h-0.9zM147.2 101.8h0.9v0.9h-0.9zM150.9 98.3h0.9v0.9h-0.9zM156.3 102.4h0.9v0.9h-0.9zM157.3 103.7h0.9v0.9h-0.9zM146.5 104.6h0.9v0.9h-0.9zM148.8 110.7h0.9v0.9h-0.9zM152.4 115.1h0.9v0.9h-0.9zM155.8 113.5h0.9v0.9h-0.9zM158.2 111.9h0.9v0.9h-0.9zM152.7 114.4h0.9v0.9h-0.9zM155.4 114.5h0.9v0.9h-0.9zM147.0 103.3h0.9v0.9h-0.9zM152.2 100.2h0.9v0.9h-0.9zM146.7 108.7h0.9v0.9h-0.9zM157.0 113.8h0.9v0.9h-0.9zM150.8 105.6h0.9v0.9h-0.9zM154.8 98.3h0.9v0.9h-0.9zM157.5 115.5h0.9v0.9h-0.9zM151.5 108.4h0.9v0.9h-0.9zM146.9 104.0h0.9v0.9h-0.9zM157.1 106.7h0.9v0.9h-0.9zM159.1 100.3h0.9v0.9h-0.9zM148.6 100.0h0.9v0.9h-0.9zM155.3 96.9h0.9v0.9h-0.9zM159.7 101.6h0.9v0.9h-0.9zM148.8 114.1h0.9v0.9h-0.9zM157.9 115.0h0.9v0.9h-0.9zM157.2 99.7h0.9v0.9h-0.9zM154.9 103.8h0.9v0.9h-0.9zM157.4 112.2h0.9v0.9h-0.9zM153.0 104.2h0.9v0.9h-0.9zM159.1 103.1h0.9v0.9h-0.9zM153.1 104.5h0.9v0.9h-0.9zM147.9 100.3h0.9v0.9h-0.9zM147.9 106.0h0.9v0.9h-0.9zM157.0 110.6h0.9v0.9h-0.9zM150.3 108.2h0.9v0.9h-0.9zM146.2 106.4h0.9v0.9h-0.9zM153.9 112.2h0.9v0.9h-0.9zM146.6 101.4h0.9v0.9h-0.9zM149.9 106.8h0.9v0.9h-0.9zM158.9 104.8h0.9v0.9h-0.9z" fill="#F4A6A8"/><path d="M156.4 109.0h0.9v0.9h-0.9zM154.1 110.3h0.9v0.9h-0.9zM155.3 115.4h0.9v0.9h-0.9zM148.1 102.5h0.9v0.9h-0.9zM149.2 115.6h0.9v0.9h-0.9zM153.9 114.5h0.9v0.9h-0.9zM154.2 102.6h0.9v0.9h-0.9zM152.6 107.3h0.9v0.9h-0.9zM153.8 105.8h0.9v0.9h-0.9zM147.3 101.5h0.9v0.9h-0.9zM155.5 106.5h0.9v0.9h-0.9zM152.4 113.3h0.9v0.9h-0.9zM154.3 112.0h0.9v0.9h-0.9zM154.5 106.6h0.9v0.9h-0.9zM153.0 104.0h0.9v0.9h-0.9zM148.7 99.2h0.9v0.9h-0.9zM153.5 100.8h0.9v0.9h-0.9zM153.7 112.6h0.9v0.9h-0.9zM156.7 112.6h0.9v0.9h-0.9zM147.7 108.2h0.9v0.9h-0.9zM151.1 103.3h0.9v0.9h-0.9zM150.2 102.4h0.9v0.9h-0.9zM148.6 110.1h0.9v0.9h-0.9zM146.7 106.8h0.9v0.9h-0.9zM149.7 110.3h0.9v0.9h-0.9zM155.6 97.8h0.9v0.9h-0.9zM156.6 112.5h0.9v0.9h-0.9zM155.1 103.8h0.9v0.9h-0.9zM151.8 98.5h0.9v0.9h-0.9zM150.5 103.5h0.9v0.9h-0.9zM159.9 107.7h0.9v0.9h-0.9zM154.6 114.5h0.9v0.9h-0.9zM146.1 103.9h0.9v0.9h-0.9zM158.0 103.8h0.9v0.9h-0.9zM159.8 105.5h0.9v0.9h-0.9zM157.7 103.9h0.9v0.9h-0.9zM151.3 99.6h0.9v0.9h-0.9zM152.1 102.9h0.9v0.9h-0.9zM151.9 111.4h0.9v0.9h-0.9zM150.9 98.8h0.9v0.9h-0.9zM153.8 103.5h0.9v0.9h-0.9zM149.3 103.7h0.9v0.9h-0.9zM150.7 98.2h0.9v0.9h-0.9zM153.3 101.5h0.9v0.9h-0.9zM154.5 116.1h0.9v0.9h-0.9zM148.6 110.6h0.9v0.9h-0.9zM156.5 112.6h0.9v0.9h-0.9zM152.5 111.5h0.9v0.9h-0.9zM155.3 103.1h0.9v0.9h-0.9zM149.6 115.7h0.9v0.9h-0.9zM147.9 99.8h0.9v0.9h-0.9zM154.9 108.1h0.9v0.9h-0.9zM153.1 99.9h0.9v0.9h-0.9zM150.4 105.3h0.9v0.9h-0.9zM148.8 112.8h0.9v0.9h-0.9zM149.3 99.6h0.9v0.9h-0.9zM150.7 95.8h0.9v0.9h-0.9zM157.2 100.2h0.9v0.9h-0.9zM150.4 103.7h0.9v0.9h-0.9zM159.7 108.0h0.9v0.9h-0.9zM150.4 96.6h0.9v0.9h-0.9zM149.3 101.7h0.9v0.9h-0.9zM151.4 104.0h0.9v0.9h-0.9zM152.4 113.1h0.9v0.9h-0.9zM156.5 112.7h0.9v0.9h-0.9zM155.8 113.0h0.9v0.9h-0.9zM155.1 97.8h0.9v0.9h-0.9z" fill="#AFCDE6"/></g><text x="191.90" y="12.20" font-size="14" text-anchor="start" fill="#000">b</text><text x="288.05" y="13.60" font-size="8" text-anchor="middle" font-weight="bold" fill="#000" stroke="#000" stroke-width="0.22">HR+</text><text x="247.75" y="25.20" font-size="6" text-anchor="middle" font-weight="bold" fill="#000" stroke="#000" stroke-width="0.22">High</text><text x="328.15" y="25.20" font-size="6" text-anchor="middle" font-weight="bold" fill="#000" stroke="#000" stroke-width="0.22">Low</text><line x1="208.65" y1="27.00" x2="208.65" y2="123.50" stroke="#333" stroke-width="0.9"/><line x1="208.65" y1="123.50" x2="286.45" y2="123.50" stroke="#333" stroke-width="0.9"/><line x1="219.45" y1="123.50" x2="219.45" y2="125.20" stroke="#333" stroke-width="0.7"/><text x="219.45" y="131.20" font-size="5.6" text-anchor="middle" fill="#1a1a1a" stroke="#1a1a1a" stroke-width="0.22">−10</text><line x1="235.57" y1="123.50" x2="235.57" y2="125.20" stroke="#333" stroke-width="0.7"/><text x="235.57" y="131.20" font-size="5.6" text-anchor="middle" fill="#1a1a1a" stroke="#1a1a1a" stroke-width="0.22">−5</text><line x1="251.70" y1="123.50" x2="251.70" y2="125.20" stroke="#333" stroke-width="0.7"/><text x="251.70" y="131.20" font-size="5.6" text-anchor="middle" fill="#1a1a1a" stroke="#1a1a1a" stroke-width="0.22">0</text><line x1="267.82" y1="123.50" x2="267.82" y2="125.20" stroke="#333" stroke-width="0.7"/><text x="267.82" y="131.20" font-size="5.6" text-anchor="middle" fill="#1a1a1a" stroke="#1a1a1a" stroke-width="0.22">5</text><line x1="283.95" y1="123.50" x2="283.95" y2="125.20" stroke="#333" stroke-width="0.7"/><text x="283.95" y="131.20" font-size="5.6" text-anchor="middle" fill="#1a1a1a" stroke="#1a1a1a" stroke-width="0.22">10</text><line x1="206.95" y1="36.45" x2="208.65" y2="36.45" stroke="#333" stroke-width="0.7"/><text x="205.75" y="38.45" font-size="5.6" text-anchor="end" fill="#1a1a1a" stroke="#1a1a1a" stroke-width="0.22">5</text><line x1="206.95" y1="62.70" x2="208.65" y2="62.70" stroke="#333" stroke-width="0.7"/><text x="205.75" y="64.70" font-size="5.6" text-anchor="end" fill="#1a1a1a" stroke="#1a1a1a" stroke-width="0.22">0</text><line x1="206.95" y1="88.95" x2="208.65" y2="88.95" stroke="#333" stroke-width="0.7"/><text x="205.75" y="90.95" font-size="5.6" text-anchor="end" fill="#1a1a1a" stroke="#1a1a1a" stroke-width="0.22">−5</text><line x1="206.95" y1="115.20" x2="208.65" y2="115.20" stroke="#333" stroke-width="0.7"/><text x="205.75" y="117.20" font-size="5.6" text-anchor="end" fill="#1a1a1a" stroke="#1a1a1a" stroke-width="0.22">−10</text><line x1="289.05" y1="123.50" x2="366.85" y2="123.50" stroke="#333" stroke-width="0.9"/><line x1="299.85" y1="123.50" x2="299.85" y2="125.20" stroke="#333" stroke-width="0.7"/><text x="299.85" y="131.20" font-size="5.6" text-anchor="middle" fill="#1a1a1a" stroke="#1a1a1a" stroke-width="0.22">−10</text><line x1="315.98" y1="123.50" x2="315.98" y2="125.20" stroke="#333" stroke-width="0.7"/><text x="315.98" y="131.20" font-size="5.6" text-anchor="middle" fill="#1a1a1a" stroke="#1a1a1a" stroke-width="0.22">−5</text><line x1="332.10" y1="123.50" x2="332.10" y2="125.20" stroke="#333" stroke-width="0.7"/><text x="332.10" y="131.20" font-size="5.6" text-anchor="middle" fill="#1a1a1a" stroke="#1a1a1a" stroke-width="0.22">0</text><line x1="348.23" y1="123.50" x2="348.23" y2="125.20" stroke="#333" stroke-width="0.7"/><text x="348.23" y="131.20" font-size="5.6" text-anchor="middle" fill="#1a1a1a" stroke="#1a1a1a" stroke-width="0.22">5</text><line x1="364.35" y1="123.50" x2="364.35" y2="125.20" stroke="#333" stroke-width="0.7"/><text x="364.35" y="131.20" font-size="5.6" text-anchor="middle" fill="#1a1a1a" stroke="#1a1a1a" stroke-width="0.22">10</text><text x="288.05" y="139.00" font-size="6.7" text-anchor="middle" fill="#000" stroke="#000" stroke-width="0.12">UMAP_1</text><text x="192.65" y="75.40" font-size="6.6" text-anchor="middle" fill="#000" stroke="#000" stroke-width="0.1" transform="rotate(-90 192.65 75.4)">UMAP_2</text><polygon points="212.6,46.0 213.5,41.0 216.0,39.0 222.0,38.8 224.5,40.0 225.5,47.0 226.5,52.0 226.0,58.8 223.2,62.0 223.5,69.0 221.0,72.7 216.0,72.5 214.0,66.0 213.5,58.0 212.5,52.0" fill="#C88060" fill-opacity="0.55" filter="url(#bl)"/><g><path d="M218.9 40.9h0.9v0.9h-0.9zM220.8 56.4h0.9v0.9h-0.9zM222.5 64.2h0.9v0.9h-0.9zM220.7 50.0h0.9v0.9h-0.9zM220.7 49.3h0.9v0.9h-0.9zM222.0 44.4h0.9v0.9h-0.9zM224.7 51.1h0.9v0.9h-0.9zM221.5 59.2h0.9v0.9h-0.9zM214.5 42.3h0.9v0.9h-0.9zM219.9 61.1h0.9v0.9h-0.9zM218.8 47.5h0.9v0.9h-0.9zM214.0 55.2h0.9v0.9h-0.9zM216.9 52.3h0.9v0.9h-0.9zM220.2 62.9h0.9v0.9h-0.9zM220.4 68.0h0.9v0.9h-0.9zM213.8 46.8h0.9v0.9h-0.9zM222.7 55.7h0.9v0.9h-0.9zM216.3 57.5h0.9v0.9h-0.9zM223.6 56.9h0.9v0.9h-0.9zM220.0 46.6h0.9v0.9h-0.9zM213.6 56.8h0.9v0.9h-0.9zM215.3 40.5h0.9v0.9h-0.9zM216.5 70.5h0.9v0.9h-0.9zM213.8 46.2h0.9v0.9h-0.9zM224.2 55.1h0.9v0.9h-0.9zM213.6 54.4h0.9v0.9h-0.9zM219.7 42.5h0.9v0.9h-0.9zM215.4 70.5h0.9v0.9h-0.9zM219.0 54.4h0.9v0.9h-0.9z" fill="#52B589"/><path d="M222.5 68.8h0.9v0.9h-0.9zM217.6 55.8h0.9v0.9h-0.9zM214.5 66.6h0.9v0.9h-0.9zM221.3 41.0h0.9v0.9h-0.9zM216.4 56.8h0.9v0.9h-0.9zM217.3 59.2h0.9v0.9h-0.9zM212.8 51.3h0.9v0.9h-0.9zM214.2 51.6h0.9v0.9h-0.9zM219.6 41.1h0.9v0.9h-0.9zM216.0 61.2h0.9v0.9h-0.9zM222.7 55.8h0.9v0.9h-0.9zM222.1 39.7h0.9v0.9h-0.9zM219.4 71.1h0.9v0.9h-0.9zM214.1 59.2h0.9v0.9h-0.9zM225.7 55.0h0.9v0.9h-0.9zM225.6 53.9h0.9v0.9h-0.9zM221.8 49.0h0.9v0.9h-0.9zM218.2 44.8h0.9v0.9h-0.9zM216.5 64.0h0.9v0.9h-0.9zM214.8 66.8h0.9v0.9h-0.9zM221.0 44.7h0.9v0.9h-0.9zM218.3 60.9h0.9v0.9h-0.9zM220.2 56.6h0.9v0.9h-0.9zM220.5 71.1h0.9v0.9h-0.9zM215.2 58.2h0.9v0.9h-0.9zM219.4 59.8h0.9v0.9h-0.9zM216.1 56.6h0.9v0.9h-0.9zM222.7 62.9h0.9v0.9h-0.9zM221.4 65.7h0.9v0.9h-0.9zM217.6 47.1h0.9v0.9h-0.9z" fill="#EEB77A"/><path d="M213.7 49.0h0.9v0.9h-0.9zM216.0 47.1h0.9v0.9h-0.9zM216.7 42.1h0.9v0.9h-0.9zM220.9 44.9h0.9v0.9h-0.9zM215.4 58.9h0.9v0.9h-0.9zM213.7 63.3h0.9v0.9h-0.9zM213.9 49.1h0.9v0.9h-0.9zM217.3 50.8h0.9v0.9h-0.9zM213.3 48.5h0.9v0.9h-0.9zM220.0 40.8h0.9v0.9h-0.9zM212.4 45.5h0.9v0.9h-0.9zM213.8 44.3h0.9v0.9h-0.9zM212.8 52.3h0.9v0.9h-0.9zM220.8 55.1h0.9v0.9h-0.9zM216.1 39.2h0.9v0.9h-0.9zM217.7 49.5h0.9v0.9h-0.9zM219.5 64.3h0.9v0.9h-0.9zM221.7 51.0h0.9v0.9h-0.9zM222.0 67.7h0.9v0.9h-0.9zM217.1 54.0h0.9v0.9h-0.9zM218.9 51.7h0.9v0.9h-0.9zM218.4 60.2h0.9v0.9h-0.9zM220.6 43.8h0.9v0.9h-0.9zM222.4 55.1h0.9v0.9h-0.9zM219.3 56.1h0.9v0.9h-0.9zM214.7 50.1h0.9v0.9h-0.9zM215.3 60.6h0.9v0.9h-0.9zM218.5 51.0h0.9v0.9h-0.9zM215.2 51.8h0.9v0.9h-0.9zM215.9 58.5h0.9v0.9h-0.9zM215.9 52.1h0.9v0.9h-0.9zM224.4 54.0h0.9v0.9h-0.9zM217.5 52.5h0.9v0.9h-0.9zM214.3 46.4h0.9v0.9h-0.9zM218.4 70.4h0.9v0.9h-0.9zM216.4 42.5h0.9v0.9h-0.9zM217.4 53.9h0.9v0.9h-0.9zM223.3 41.6h0.9v0.9h-0.9zM213.0 44.9h0.9v0.9h-0.9zM218.7 67.0h0.9v0.9h-0.9zM219.3 42.6h0.9v0.9h-0.9zM215.0 62.2h0.9v0.9h-0.9zM220.8 69.1h0.9v0.9h-0.9zM215.3 43.7h0.9v0.9h-0.9zM214.2 41.3h0.9v0.9h-0.9zM223.2 47.0h0.9v0.9h-0.9zM219.0 70.7h0.9v0.9h-0.9zM213.8 53.8h0.9v0.9h-0.9zM225.3 57.1h0.9v0.9h-0.9zM220.4 63.9h0.9v0.9h-0.9zM216.7 47.9h0.9v0.9h-0.9zM212.2 47.1h0.9v0.9h-0.9zM221.8 42.9h0.9v0.9h-0.9zM216.1 52.2h0.9v0.9h-0.9zM215.7 71.9h0.9v0.9h-0.9zM221.1 69.3h0.9v0.9h-0.9zM217.2 43.7h0.9v0.9h-0.9z" fill="#B95A2A"/><path d="M223.5 51.8h0.9v0.9h-0.9zM221.6 63.5h0.9v0.9h-0.9zM215.2 42.2h0.9v0.9h-0.9zM215.2 51.1h0.9v0.9h-0.9zM216.5 45.3h0.9v0.9h-0.9zM223.6 48.4h0.9v0.9h-0.9zM214.7 66.2h0.9v0.9h-0.9zM218.8 62.1h0.9v0.9h-0.9zM222.3 66.4h0.9v0.9h-0.9zM215.6 55.1h0.9v0.9h-0.9zM217.6 50.7h0.9v0.9h-0.9zM214.9 51.3h0.9v0.9h-0.9zM223.5 40.5h0.9v0.9h-0.9zM223.8 54.7h0.9v0.9h-0.9zM221.6 40.9h0.9v0.9h-0.9zM222.1 50.7h0.9v0.9h-0.9zM221.0 65.6h0.9v0.9h-0.9zM215.5 46.9h0.9v0.9h-0.9zM215.4 43.3h0.9v0.9h-0.9zM221.6 55.6h0.9v0.9h-0.9zM222.2 42.6h0.9v0.9h-0.9zM216.8 69.6h0.9v0.9h-0.9zM221.7 41.7h0.9v0.9h-0.9zM213.6 46.8h0.9v0.9h-0.9zM218.5 41.7h0.9v0.9h-0.9zM213.4 44.8h0.9v0.9h-0.9zM215.4 70.3h0.9v0.9h-0.9zM220.4 61.8h0.9v0.9h-0.9zM221.4 69.4h0.9v0.9h-0.9zM219.8 68.9h0.9v0.9h-0.9zM221.1 47.7h0.9v0.9h-0.9zM220.2 53.0h0.9v0.9h-0.9zM216.9 53.7h0.9v0.9h-0.9zM220.5 39.8h0.9v0.9h-0.9zM218.9 56.8h0.9v0.9h-0.9zM212.5 48.2h0.9v0.9h-0.9zM213.1 48.9h0.9v0.9h-0.9zM220.2 71.1h0.9v0.9h-0.9zM219.5 51.6h0.9v0.9h-0.9zM215.9 44.4h0.9v0.9h-0.9zM220.8 65.1h0.9v0.9h-0.9zM220.5 53.1h0.9v0.9h-0.9zM218.4 49.4h0.9v0.9h-0.9zM213.0 47.0h0.9v0.9h-0.9zM215.4 64.9h0.9v0.9h-0.9zM224.3 51.1h0.9v0.9h-0.9zM217.0 56.3h0.9v0.9h-0.9zM223.6 44.4h0.9v0.9h-0.9zM213.9 59.8h0.9v0.9h-0.9zM219.2 54.4h0.9v0.9h-0.9zM222.6 41.2h0.9v0.9h-0.9zM213.6 45.8h0.9v0.9h-0.9zM217.6 47.4h0.9v0.9h-0.9zM218.0 44.2h0.9v0.9h-0.9zM215.4 45.0h0.9v0.9h-0.9zM220.7 53.8h0.9v0.9h-0.9zM222.0 42.5h0.9v0.9h-0.9zM219.1 56.1h0.9v0.9h-0.9zM215.2 51.0h0.9v0.9h-0.9zM222.0 39.9h0.9v0.9h-0.9zM221.1 46.7h0.9v0.9h-0.9zM225.5 50.8h0.9v0.9h-0.9zM213.1 44.5h0.9v0.9h-0.9zM219.1 67.2h0.9v0.9h-0.9zM220.9 54.2h0.9v0.9h-0.9zM223.5 47.9h0.9v0.9h-0.9zM224.5 48.2h0.9v0.9h-0.9zM222.7 65.9h0.9v0.9h-0.9zM220.6 66.0h0.9v0.9h-0.9zM224.6 54.0h0.9v0.9h-0.9zM225.5 51.2h0.9v0.9h-0.9zM214.5 41.0h0.9v0.9h-0.9zM221.8 44.2h0.9v0.9h-0.9zM223.3 50.7h0.9v0.9h-0.9zM218.9 53.6h0.9v0.9h-0.9zM221.5 41.5h0.9v0.9h-0.9zM212.3 50.9h0.9v0.9h-0.9zM214.3 43.7h0.9v0.9h-0.9zM215.1 57.1h0.9v0.9h-0.9zM221.6 43.5h0.9v0.9h-0.9zM215.9 71.9h0.9v0.9h-0.9zM220.7 68.8h0.9v0.9h-0.9zM215.9 43.9h0.9v0.9h-0.9zM221.7 42.0h0.9v0.9h-0.9zM223.7 46.9h0.9v0.9h-0.9zM214.7 42.7h0.9v0.9h-0.9zM224.0 43.5h0.9v0.9h-0.9zM224.5 48.9h0.9v0.9h-0.9zM220.6 44.6h0.9v0.9h-0.9zM217.3 43.6h0.9v0.9h-0.9zM215.1 61.4h0.9v0.9h-0.9zM219.9 59.5h0.9v0.9h-0.9zM218.9 70.7h0.9v0.9h-0.9zM214.8 42.9h0.9v0.9h-0.9zM216.2 56.9h0.9v0.9h-0.9zM224.1 39.7h0.9v0.9h-0.9zM223.9 55.1h0.9v0.9h-0.9zM217.4 71.3h0.9v0.9h-0.9zM217.9 64.7h0.9v0.9h-0.9zM224.8 58.8h0.9v0.9h-0.9zM218.8 55.3h0.9v0.9h-0.9zM214.7 53.1h0.9v0.9h-0.9zM223.1 48.0h0.9v0.9h-0.9zM216.5 67.6h0.9v0.9h-0.9zM212.3 45.3h0.9v0.9h-0.9zM225.0 50.0h0.9v0.9h-0.9zM221.6 62.4h0.9v0.9h-0.9zM213.0 41.9h0.9v0.9h-0.9zM217.8 68.2h0.9v0.9h-0.9zM223.2 56.8h0.9v0.9h-0.9zM214.9 47.3h0.9v0.9h-0.9zM223.2 51.9h0.9v0.9h-0.9zM216.0 47.7h0.9v0.9h-0.9zM215.7 43.5h0.9v0.9h-0.9zM213.0 52.0h0.9v0.9h-0.9zM216.6 65.9h0.9v0.9h-0.9zM224.7 57.4h0.9v0.9h-0.9zM223.0 55.8h0.9v0.9h-0.9zM216.0 67.7h0.9v0.9h-0.9zM220.4 47.3h0.9v0.9h-0.9zM220.5 45.4h0.9v0.9h-0.9zM214.1 50.1h0.9v0.9h-0.9zM214.4 66.8h0.9v0.9h-0.9zM215.2 43.1h0.9v0.9h-0.9zM225.8 52.4h0.9v0.9h-0.9zM225.1 50.0h0.9v0.9h-0.9zM222.5 44.0h0.9v0.9h-0.9zM216.4 61.8h0.9v0.9h-0.9zM216.3 38.6h0.9v0.9h-0.9zM219.5 66.9h0.9v0.9h-0.9zM218.5 47.1h0.9v0.9h-0.9zM222.8 44.8h0.9v0.9h-0.9zM215.6 48.6h0.9v0.9h-0.9zM222.2 42.2h0.9v0.9h-0.9zM215.3 59.7h0.9v0.9h-0.9zM220.4 54.4h0.9v0.9h-0.9zM219.8 42.1h0.9v0.9h-0.9zM214.5 64.4h0.9v0.9h-0.9zM216.4 45.4h0.9v0.9h-0.9zM212.1 48.7h0.9v0.9h-0.9zM223.1 59.6h0.9v0.9h-0.9zM223.4 53.1h0.9v0.9h-0.9zM217.0 65.3h0.9v0.9h-0.9zM215.2 51.3h0.9v0.9h-0.9zM223.5 39.5h0.9v0.9h-0.9zM224.3 49.1h0.9v0.9h-0.9zM219.9 70.3h0.9v0.9h-0.9zM219.7 50.1h0.9v0.9h-0.9zM218.2 64.7h0.9v0.9h-0.9zM219.7 40.2h0.9v0.9h-0.9zM219.8 41.9h0.9v0.9h-0.9zM214.1 40.2h0.9v0.9h-0.9zM215.2 65.3h0.9v0.9h-0.9zM213.0 55.3h0.9v0.9h-0.9zM219.0 66.7h0.9v0.9h-0.9zM219.3 39.0h0.9v0.9h-0.9zM225.5 55.7h0.9v0.9h-0.9zM220.3 41.0h0.9v0.9h-0.9zM219.9 71.6h0.9v0.9h-0.9zM220.6 50.2h0.9v0.9h-0.9zM214.5 41.8h0.9v0.9h-0.9zM217.5 56.2h0.9v0.9h-0.9zM213.8 51.4h0.9v0.9h-0.9z" fill="#DB5A1C"/><path d="M217.0 49.1h0.9v0.9h-0.9zM220.9 43.2h0.9v0.9h-0.9zM225.1 51.4h0.9v0.9h-0.9zM218.9 47.8h0.9v0.9h-0.9zM215.4 66.8h0.9v0.9h-0.9zM221.9 66.6h0.9v0.9h-0.9zM220.1 70.3h0.9v0.9h-0.9zM214.3 56.7h0.9v0.9h-0.9zM219.6 51.2h0.9v0.9h-0.9zM218.7 41.8h0.9v0.9h-0.9zM213.4 47.4h0.9v0.9h-0.9zM217.3 65.2h0.9v0.9h-0.9zM222.5 44.2h0.9v0.9h-0.9zM222.8 65.1h0.9v0.9h-0.9zM218.5 67.2h0.9v0.9h-0.9zM215.7 45.5h0.9v0.9h-0.9zM222.9 48.5h0.9v0.9h-0.9zM215.6 64.4h0.9v0.9h-0.9zM216.4 52.9h0.9v0.9h-0.9zM219.9 60.2h0.9v0.9h-0.9zM220.6 39.1h0.9v0.9h-0.9zM212.6 43.7h0.9v0.9h-0.9zM223.7 48.9h0.9v0.9h-0.9zM215.0 58.2h0.9v0.9h-0.9zM217.5 58.7h0.9v0.9h-0.9zM216.6 54.7h0.9v0.9h-0.9zM219.8 54.5h0.9v0.9h-0.9zM215.2 50.4h0.9v0.9h-0.9zM224.2 46.5h0.9v0.9h-0.9zM214.4 42.0h0.9v0.9h-0.9zM216.1 67.5h0.9v0.9h-0.9z" fill="#7F78CF"/><path d="M214.4 58.3h0.9v0.9h-0.9zM224.2 47.1h0.9v0.9h-0.9zM216.8 52.8h0.9v0.9h-0.9zM221.9 64.8h0.9v0.9h-0.9zM218.2 58.9h0.9v0.9h-0.9zM220.4 71.1h0.9v0.9h-0.9zM224.3 46.7h0.9v0.9h-0.9zM213.6 55.7h0.9v0.9h-0.9zM217.2 38.8h0.9v0.9h-0.9zM216.1 65.1h0.9v0.9h-0.9zM222.0 56.3h0.9v0.9h-0.9zM218.6 55.8h0.9v0.9h-0.9zM224.5 43.3h0.9v0.9h-0.9zM215.5 54.1h0.9v0.9h-0.9zM212.9 50.9h0.9v0.9h-0.9zM218.8 58.8h0.9v0.9h-0.9zM221.0 39.2h0.9v0.9h-0.9zM215.1 53.4h0.9v0.9h-0.9zM218.7 45.3h0.9v0.9h-0.9zM215.2 39.8h0.9v0.9h-0.9zM217.4 70.2h0.9v0.9h-0.9zM217.1 54.7h0.9v0.9h-0.9zM213.9 52.2h0.9v0.9h-0.9zM221.6 61.4h0.9v0.9h-0.9zM217.9 60.0h0.9v0.9h-0.9z" fill="#ffffff"/><path d="M218.7 49.6h0.9v0.9h-0.9zM215.9 55.1h0.9v0.9h-0.9zM217.3 68.0h0.9v0.9h-0.9zM220.9 42.8h0.9v0.9h-0.9zM215.9 54.3h0.9v0.9h-0.9zM217.7 40.9h0.9v0.9h-0.9zM221.4 54.2h0.9v0.9h-0.9zM222.4 45.0h0.9v0.9h-0.9zM213.7 50.7h0.9v0.9h-0.9zM220.7 64.7h0.9v0.9h-0.9zM224.3 43.8h0.9v0.9h-0.9zM214.2 54.8h0.9v0.9h-0.9zM215.3 67.8h0.9v0.9h-0.9zM219.7 43.5h0.9v0.9h-0.9zM216.9 42.5h0.9v0.9h-0.9zM217.8 63.2h0.9v0.9h-0.9zM218.5 45.0h0.9v0.9h-0.9zM221.0 60.1h0.9v0.9h-0.9zM223.1 51.0h0.9v0.9h-0.9zM216.9 47.6h0.9v0.9h-0.9zM222.1 40.6h0.9v0.9h-0.9zM213.2 53.7h0.9v0.9h-0.9zM221.5 43.5h0.9v0.9h-0.9zM214.8 42.3h0.9v0.9h-0.9zM217.5 69.1h0.9v0.9h-0.9zM216.6 70.6h0.9v0.9h-0.9zM218.3 44.4h0.9v0.9h-0.9zM221.1 43.4h0.9v0.9h-0.9zM221.1 64.2h0.9v0.9h-0.9zM223.5 58.1h0.9v0.9h-0.9zM214.3 51.5h0.9v0.9h-0.9zM216.0 41.4h0.9v0.9h-0.9zM222.8 64.6h0.9v0.9h-0.9zM213.0 48.2h0.9v0.9h-0.9zM223.4 50.1h0.9v0.9h-0.9zM217.8 58.4h0.9v0.9h-0.9zM212.8 55.3h0.9v0.9h-0.9zM221.1 50.2h0.9v0.9h-0.9zM214.4 40.1h0.9v0.9h-0.9zM221.9 51.0h0.9v0.9h-0.9zM216.3 67.4h0.9v0.9h-0.9zM213.8 53.1h0.9v0.9h-0.9zM225.8 51.9h0.9v0.9h-0.9zM218.0 44.2h0.9v0.9h-0.9zM218.9 44.5h0.9v0.9h-0.9zM224.6 55.8h0.9v0.9h-0.9zM226.0 52.3h0.9v0.9h-0.9zM214.6 62.4h0.9v0.9h-0.9zM216.6 45.7h0.9v0.9h-0.9zM215.0 61.5h0.9v0.9h-0.9zM215.8 49.1h0.9v0.9h-0.9zM219.7 56.4h0.9v0.9h-0.9zM223.5 54.5h0.9v0.9h-0.9zM217.9 46.3h0.9v0.9h-0.9zM220.0 61.1h0.9v0.9h-0.9zM215.1 68.6h0.9v0.9h-0.9zM220.4 65.5h0.9v0.9h-0.9zM220.9 57.8h0.9v0.9h-0.9zM222.0 59.5h0.9v0.9h-0.9zM222.5 60.9h0.9v0.9h-0.9zM218.4 43.4h0.9v0.9h-0.9zM214.5 45.7h0.9v0.9h-0.9zM220.6 48.6h0.9v0.9h-0.9zM224.0 46.2h0.9v0.9h-0.9zM221.1 38.4h0.9v0.9h-0.9zM217.3 43.8h0.9v0.9h-0.9zM222.1 51.0h0.9v0.9h-0.9zM212.3 46.4h0.9v0.9h-0.9zM214.6 57.7h0.9v0.9h-0.9zM212.6 53.6h0.9v0.9h-0.9zM221.3 42.8h0.9v0.9h-0.9zM223.3 54.3h0.9v0.9h-0.9z" fill="#EB6E25"/><path d="M217.8 47.7h0.9v0.9h-0.9zM218.0 45.0h0.9v0.9h-0.9zM214.9 55.0h0.9v0.9h-0.9zM222.8 52.0h0.9v0.9h-0.9zM221.9 68.5h0.9v0.9h-0.9zM221.7 49.8h0.9v0.9h-0.9zM215.4 45.0h0.9v0.9h-0.9zM213.5 55.1h0.9v0.9h-0.9zM219.6 72.0h0.9v0.9h-0.9zM217.2 59.4h0.9v0.9h-0.9zM216.0 62.9h0.9v0.9h-0.9zM222.3 57.0h0.9v0.9h-0.9zM216.6 41.4h0.9v0.9h-0.9zM220.0 70.8h0.9v0.9h-0.9zM216.6 47.5h0.9v0.9h-0.9zM223.6 40.5h0.9v0.9h-0.9zM221.8 38.6h0.9v0.9h-0.9zM213.5 58.3h0.9v0.9h-0.9zM222.1 49.4h0.9v0.9h-0.9zM217.2 58.6h0.9v0.9h-0.9zM221.6 50.8h0.9v0.9h-0.9zM216.9 45.3h0.9v0.9h-0.9zM215.4 39.0h0.9v0.9h-0.9zM215.9 63.6h0.9v0.9h-0.9zM212.6 52.4h0.9v0.9h-0.9zM218.9 69.9h0.9v0.9h-0.9zM220.6 61.5h0.9v0.9h-0.9zM219.7 66.7h0.9v0.9h-0.9zM216.5 62.7h0.9v0.9h-0.9zM212.6 51.4h0.9v0.9h-0.9zM220.4 42.5h0.9v0.9h-0.9zM222.4 59.1h0.9v0.9h-0.9zM221.5 39.0h0.9v0.9h-0.9zM217.0 66.4h0.9v0.9h-0.9zM213.9 43.3h0.9v0.9h-0.9zM223.7 48.1h0.9v0.9h-0.9zM214.8 58.5h0.9v0.9h-0.9zM221.7 63.0h0.9v0.9h-0.9zM212.1 51.7h0.9v0.9h-0.9zM221.6 65.4h0.9v0.9h-0.9z" fill="#D2B4F0"/></g><polygon points="214.0,40.0 222.0,38.8 224.5,40.0 225.0,47.5 219.0,47.5 214.5,45.0" fill="#CFB4EC" fill-opacity="0.8" filter="url(#bl)"/><g><path d="M216.4 39.9h0.9v0.9h-0.9zM222.9 43.9h0.9v0.9h-0.9zM218.5 43.0h0.9v0.9h-0.9zM218.6 44.7h0.9v0.9h-0.9zM213.9 41.5h0.9v0.9h-0.9zM216.6 45.3h0.9v0.9h-0.9zM219.6 46.2h0.9v0.9h-0.9zM217.7 41.4h0.9v0.9h-0.9zM217.5 44.7h0.9v0.9h-0.9zM218.8 44.9h0.9v0.9h-0.9zM217.4 43.8h0.9v0.9h-0.9zM220.2 42.0h0.9v0.9h-0.9zM223.6 47.0h0.9v0.9h-0.9zM220.5 39.7h0.9v0.9h-0.9zM221.7 46.5h0.9v0.9h-0.9zM214.2 43.0h0.9v0.9h-0.9zM223.5 45.3h0.9v0.9h-0.9zM217.4 40.0h0.9v0.9h-0.9zM221.1 46.1h0.9v0.9h-0.9zM218.4 46.1h0.9v0.9h-0.9zM219.1 41.7h0.9v0.9h-0.9zM220.9 39.1h0.9v0.9h-0.9zM216.1 42.2h0.9v0.9h-0.9zM217.9 39.3h0.9v0.9h-0.9zM219.9 42.6h0.9v0.9h-0.9zM214.2 43.1h0.9v0.9h-0.9zM220.6 41.9h0.9v0.9h-0.9z" fill="#D2B4F0"/><path d="M219.8 45.8h0.9v0.9h-0.9zM218.3 42.7h0.9v0.9h-0.9zM218.5 47.0h0.9v0.9h-0.9zM220.5 43.3h0.9v0.9h-0.9z" fill="#ffffff"/></g><polygon points="212.6,46.0 213.5,41.0 216.0,41.0 219.9,47.0 219.9,58.1 214.0,58.1 212.5,52.0" fill="#D87840" fill-opacity="0.35" filter="url(#bl)"/><g><path d="M215.0 45.0h0.9v0.9h-0.9zM214.7 41.1h0.9v0.9h-0.9zM217.4 50.1h0.9v0.9h-0.9zM217.7 47.2h0.9v0.9h-0.9zM216.2 44.3h0.9v0.9h-0.9zM213.5 46.3h0.9v0.9h-0.9zM218.1 48.7h0.9v0.9h-0.9zM215.4 46.4h0.9v0.9h-0.9zM213.3 53.2h0.9v0.9h-0.9zM216.8 47.3h0.9v0.9h-0.9zM215.2 55.6h0.9v0.9h-0.9zM215.4 45.6h0.9v0.9h-0.9zM213.9 55.0h0.9v0.9h-0.9zM216.8 43.0h0.9v0.9h-0.9zM215.5 46.0h0.9v0.9h-0.9zM215.0 49.0h0.9v0.9h-0.9zM213.7 49.0h0.9v0.9h-0.9zM218.0 56.9h0.9v0.9h-0.9zM215.6 53.7h0.9v0.9h-0.9zM219.1 47.5h0.9v0.9h-0.9zM215.7 50.9h0.9v0.9h-0.9zM216.6 48.2h0.9v0.9h-0.9zM214.3 50.4h0.9v0.9h-0.9zM213.5 57.3h0.9v0.9h-0.9zM215.5 55.0h0.9v0.9h-0.9zM214.4 42.7h0.9v0.9h-0.9zM215.5 45.6h0.9v0.9h-0.9zM214.9 56.9h0.9v0.9h-0.9zM213.0 47.1h0.9v0.9h-0.9zM214.3 57.2h0.9v0.9h-0.9zM218.7 56.1h0.9v0.9h-0.9zM213.4 49.9h0.9v0.9h-0.9zM217.5 46.1h0.9v0.9h-0.9zM214.9 40.7h0.9v0.9h-0.9zM214.7 55.5h0.9v0.9h-0.9zM212.6 52.3h0.9v0.9h-0.9z" fill="#DB5A1C"/><path d="M213.9 54.2h0.9v0.9h-0.9zM216.9 49.1h0.9v0.9h-0.9zM212.7 48.8h0.9v0.9h-0.9zM216.7 55.4h0.9v0.9h-0.9zM214.5 56.7h0.9v0.9h-0.9zM216.9 54.8h0.9v0.9h-0.9zM215.5 54.5h0.9v0.9h-0.9zM216.0 49.0h0.9v0.9h-0.9zM213.4 54.3h0.9v0.9h-0.9zM218.6 50.7h0.9v0.9h-0.9zM213.3 52.9h0.9v0.9h-0.9zM214.6 45.8h0.9v0.9h-0.9zM214.4 56.8h0.9v0.9h-0.9zM219.4 48.4h0.9v0.9h-0.9zM218.0 56.0h0.9v0.9h-0.9zM218.9 55.1h0.9v0.9h-0.9zM213.8 42.8h0.9v0.9h-0.9zM216.2 48.5h0.9v0.9h-0.9zM214.4 54.6h0.9v0.9h-0.9zM215.9 42.5h0.9v0.9h-0.9zM213.6 57.2h0.9v0.9h-0.9zM215.6 52.2h0.9v0.9h-0.9zM215.8 44.6h0.9v0.9h-0.9zM215.3 41.2h0.9v0.9h-0.9zM212.6 49.1h0.9v0.9h-0.9zM215.6 44.0h0.9v0.9h-0.9zM218.4 48.3h0.9v0.9h-0.9zM217.3 51.9h0.9v0.9h-0.9zM216.2 49.0h0.9v0.9h-0.9zM214.2 47.2h0.9v0.9h-0.9zM213.8 54.5h0.9v0.9h-0.9zM218.5 48.0h0.9v0.9h-0.9zM214.5 42.2h0.9v0.9h-0.9zM219.1 55.3h0.9v0.9h-0.9zM219.4 55.2h0.9v0.9h-0.9zM216.5 42.9h0.9v0.9h-0.9zM214.0 47.7h0.9v0.9h-0.9zM217.7 49.3h0.9v0.9h-0.9zM214.6 45.7h0.9v0.9h-0.9z" fill="#EB6E25"/><path d="M216.8 54.7h0.9v0.9h-0.9zM218.1 51.6h0.9v0.9h-0.9zM218.4 52.5h0.9v0.9h-0.9zM214.7 53.7h0.9v0.9h-0.9zM214.0 43.7h0.9v0.9h-0.9zM214.1 57.5h0.9v0.9h-0.9zM217.1 45.8h0.9v0.9h-0.9zM212.5 47.9h0.9v0.9h-0.9zM219.4 51.5h0.9v0.9h-0.9zM215.2 47.3h0.9v0.9h-0.9z" fill="#52B589"/></g><polygon points="219.9,47.5 225.0,47.5 226.5,52.0 225.9,58.8 220.0,58.8" fill="#8E80D0" fill-opacity="0.75" filter="url(#bl)"/><g><path d="M223.8 49.0h0.9v0.9h-0.9zM224.5 50.9h0.9v0.9h-0.9zM225.4 54.1h0.9v0.9h-0.9zM223.7 49.7h0.9v0.9h-0.9zM220.3 51.4h0.9v0.9h-0.9zM220.7 52.9h0.9v0.9h-0.9zM224.1 50.5h0.9v0.9h-0.9zM225.7 52.7h0.9v0.9h-0.9zM220.9 51.0h0.9v0.9h-0.9zM223.1 58.3h0.9v0.9h-0.9zM220.8 54.4h0.9v0.9h-0.9zM225.9 51.6h0.9v0.9h-0.9zM223.7 55.2h0.9v0.9h-0.9zM220.1 50.4h0.9v0.9h-0.9zM223.5 56.8h0.9v0.9h-0.9zM221.8 49.1h0.9v0.9h-0.9zM221.8 55.8h0.9v0.9h-0.9zM221.9 52.9h0.9v0.9h-0.9zM219.7 53.0h0.9v0.9h-0.9zM222.2 48.1h0.9v0.9h-0.9zM221.8 53.3h0.9v0.9h-0.9z" fill="#7F78CF"/><path d="M220.5 50.2h0.9v0.9h-0.9zM225.7 53.2h0.9v0.9h-0.9zM224.9 50.3h0.9v0.9h-0.9zM224.6 53.0h0.9v0.9h-0.9zM223.9 55.9h0.9v0.9h-0.9zM219.8 52.5h0.9v0.9h-0.9zM224.9 55.7h0.9v0.9h-0.9zM220.9 50.5h0.9v0.9h-0.9z" fill="#D2B4F0"/><path d="M223.8 50.1h0.9v0.9h-0.9zM224.0 53.0h0.9v0.9h-0.9zM220.2 50.8h0.9v0.9h-0.9zM222.8 57.3h0.9v0.9h-0.9zM221.7 47.2h0.9v0.9h-0.9z" fill="#DB5A1C"/></g><polygon points="214.0,58.1 221.0,58.1 223.2,62.0 223.5,69.0 221.0,72.7 216.0,72.5 214.0,66.0" fill="#D06A38" fill-opacity="0.35" filter="url(#bl)"/><g><path d="M221.7 67.0h0.9v0.9h-0.9zM217.8 65.3h0.9v0.9h-0.9zM216.6 65.1h0.9v0.9h-0.9zM218.7 70.6h0.9v0.9h-0.9zM216.1 66.6h0.9v0.9h-0.9zM214.5 59.3h0.9v0.9h-0.9zM215.9 62.1h0.9v0.9h-0.9zM220.9 60.4h0.9v0.9h-0.9zM219.3 67.0h0.9v0.9h-0.9zM216.8 67.2h0.9v0.9h-0.9zM214.0 58.5h0.9v0.9h-0.9zM221.9 66.6h0.9v0.9h-0.9zM214.8 58.3h0.9v0.9h-0.9zM215.3 69.3h0.9v0.9h-0.9zM222.6 68.4h0.9v0.9h-0.9zM220.8 70.0h0.9v0.9h-0.9zM219.3 63.3h0.9v0.9h-0.9zM215.2 66.8h0.9v0.9h-0.9zM220.8 67.7h0.9v0.9h-0.9zM217.8 69.3h0.9v0.9h-0.9zM214.0 65.2h0.9v0.9h-0.9zM220.4 66.4h0.9v0.9h-0.9zM219.0 70.0h0.9v0.9h-0.9zM215.3 59.8h0.9v0.9h-0.9zM220.7 68.7h0.9v0.9h-0.9zM214.6 60.8h0.9v0.9h-0.9zM218.9 67.5h0.9v0.9h-0.9zM219.8 63.3h0.9v0.9h-0.9zM220.6 58.8h0.9v0.9h-0.9zM217.1 58.7h0.9v0.9h-0.9zM219.9 69.2h0.9v0.9h-0.9zM214.4 66.9h0.9v0.9h-0.9zM220.6 64.3h0.9v0.9h-0.9zM217.8 70.8h0.9v0.9h-0.9zM214.0 66.7h0.9v0.9h-0.9zM217.8 62.4h0.9v0.9h-0.9zM219.5 61.7h0.9v0.9h-0.9zM219.7 59.6h0.9v0.9h-0.9zM217.2 65.1h0.9v0.9h-0.9zM214.6 63.8h0.9v0.9h-0.9zM214.3 62.9h0.9v0.9h-0.9zM217.5 66.8h0.9v0.9h-0.9zM217.6 68.2h0.9v0.9h-0.9zM215.6 65.4h0.9v0.9h-0.9zM220.9 70.1h0.9v0.9h-0.9zM220.1 68.6h0.9v0.9h-0.9zM218.5 69.2h0.9v0.9h-0.9zM220.6 60.8h0.9v0.9h-0.9zM219.5 60.0h0.9v0.9h-0.9zM219.4 66.0h0.9v0.9h-0.9zM214.0 64.1h0.9v0.9h-0.9zM217.3 65.7h0.9v0.9h-0.9zM217.4 66.0h0.9v0.9h-0.9zM215.0 67.5h0.9v0.9h-0.9zM222.9 68.7h0.9v0.9h-0.9zM221.0 63.9h0.9v0.9h-0.9z" fill="#DB5A1C"/><path d="M218.9 68.3h0.9v0.9h-0.9zM218.8 63.5h0.9v0.9h-0.9zM217.0 65.5h0.9v0.9h-0.9zM222.5 66.5h0.9v0.9h-0.9zM218.5 67.5h0.9v0.9h-0.9zM214.4 66.4h0.9v0.9h-0.9zM218.4 65.8h0.9v0.9h-0.9zM221.7 65.5h0.9v0.9h-0.9zM218.7 67.7h0.9v0.9h-0.9zM217.8 65.7h0.9v0.9h-0.9zM215.8 69.8h0.9v0.9h-0.9zM218.2 71.6h0.9v0.9h-0.9zM217.9 58.7h0.9v0.9h-0.9zM217.1 59.8h0.9v0.9h-0.9zM222.5 61.5h0.9v0.9h-0.9zM216.9 65.7h0.9v0.9h-0.9zM218.5 69.0h0.9v0.9h-0.9zM214.8 58.4h0.9v0.9h-0.9zM220.4 63.7h0.9v0.9h-0.9zM217.6 60.0h0.9v0.9h-0.9zM221.4 65.7h0.9v0.9h-0.9zM222.3 67.0h0.9v0.9h-0.9z" fill="#B95A2A"/><path d="M220.3 61.0h0.9v0.9h-0.9zM218.3 58.4h0.9v0.9h-0.9zM213.9 59.8h0.9v0.9h-0.9zM214.4 65.6h0.9v0.9h-0.9zM217.3 67.5h0.9v0.9h-0.9zM214.4 60.1h0.9v0.9h-0.9zM221.5 60.3h0.9v0.9h-0.9zM218.9 57.8h0.9v0.9h-0.9zM220.4 71.8h0.9v0.9h-0.9zM215.7 62.0h0.9v0.9h-0.9zM214.8 62.2h0.9v0.9h-0.9zM219.4 70.5h0.9v0.9h-0.9zM217.4 67.7h0.9v0.9h-0.9zM213.8 64.5h0.9v0.9h-0.9zM219.1 64.6h0.9v0.9h-0.9zM216.6 68.0h0.9v0.9h-0.9zM214.6 66.7h0.9v0.9h-0.9zM219.8 65.6h0.9v0.9h-0.9z" fill="#52B589"/></g><polygon points="223.2,61.0 227.0,59.4 231.0,60.0 233.1,64.0 232.0,68.0 233.5,71.3 230.0,71.5 226.0,70.0 223.5,66.0" fill="#A87A35" fill-opacity="0.9" filter="url(#bl)"/><g><path d="M230.5 66.4h0.9v0.9h-0.9zM230.3 61.4h0.9v0.9h-0.9zM230.6 63.1h0.9v0.9h-0.9zM225.2 61.3h0.9v0.9h-0.9zM228.1 68.5h0.9v0.9h-0.9zM230.7 60.1h0.9v0.9h-0.9zM231.0 69.3h0.9v0.9h-0.9z" fill="#D9A42E"/><path d="M223.9 62.3h0.9v0.9h-0.9zM229.4 62.7h0.9v0.9h-0.9zM230.8 64.4h0.9v0.9h-0.9zM229.2 65.9h0.9v0.9h-0.9zM228.9 64.8h0.9v0.9h-0.9zM230.3 69.1h0.9v0.9h-0.9zM229.0 66.5h0.9v0.9h-0.9zM228.7 62.5h0.9v0.9h-0.9zM229.2 64.7h0.9v0.9h-0.9zM227.5 65.8h0.9v0.9h-0.9zM231.1 69.1h0.9v0.9h-0.9zM229.1 61.6h0.9v0.9h-0.9zM231.8 69.1h0.9v0.9h-0.9zM232.9 70.6h0.9v0.9h-0.9zM231.6 66.3h0.9v0.9h-0.9zM227.3 67.6h0.9v0.9h-0.9zM228.3 68.5h0.9v0.9h-0.9zM229.6 66.9h0.9v0.9h-0.9zM226.5 68.4h0.9v0.9h-0.9zM227.4 70.1h0.9v0.9h-0.9zM231.5 62.9h0.9v0.9h-0.9zM227.0 60.5h0.9v0.9h-0.9zM230.1 62.3h0.9v0.9h-0.9zM231.0 63.6h0.9v0.9h-0.9zM230.3 61.7h0.9v0.9h-0.9z" fill="#A67628"/><path d="M226.9 61.1h0.9v0.9h-0.9zM228.9 68.8h0.9v0.9h-0.9zM225.3 68.7h0.9v0.9h-0.9zM226.1 63.0h0.9v0.9h-0.9z" fill="#ffffff"/></g><polygon points="229.8,71.3 232.0,71.0 235.1,78.0 234.5,81.9 232.5,81.5 231.0,75.0" fill="#B88A35" fill-opacity="0.8" filter="url(#bl)"/><g><path d="M230.9 70.7h0.9v0.9h-0.9zM232.4 75.2h0.9v0.9h-0.9zM231.8 74.9h0.9v0.9h-0.9zM231.6 75.2h0.9v0.9h-0.9zM232.5 76.5h0.9v0.9h-0.9z" fill="#A67628"/><path d="M234.1 77.8h0.9v0.9h-0.9zM233.4 79.5h0.9v0.9h-0.9zM231.7 72.7h0.9v0.9h-0.9zM232.9 79.3h0.9v0.9h-0.9zM232.9 75.1h0.9v0.9h-0.9zM231.1 74.3h0.9v0.9h-0.9z" fill="#D9A42E"/></g><polygon points="226.5,46.5 230.5,46.2 230.5,49.5 226.5,49.5" fill="#D8302A" fill-opacity="0.7" filter="url(#bl)"/><g><path d="M227.2 48.3h0.9v0.9h-0.9zM229.3 46.1h0.9v0.9h-0.9zM229.9 48.5h0.9v0.9h-0.9zM228.7 48.3h0.9v0.9h-0.9zM229.4 48.4h0.9v0.9h-0.9zM227.4 46.4h0.9v0.9h-0.9z" fill="#D0302A"/></g><polygon points="229.2,48.5 234.0,48.2 236.4,50.0 235.5,54.8 230.0,54.5 229.2,51.0" fill="#D850A0" fill-opacity="0.6" filter="url(#bl)"/><g><path d="M235.6 49.9h0.9v0.9h-0.9zM229.8 52.2h0.9v0.9h-0.9zM233.8 48.9h0.9v0.9h-0.9zM230.4 53.2h0.9v0.9h-0.9zM230.6 51.3h0.9v0.9h-0.9zM230.4 52.2h0.9v0.9h-0.9zM234.6 50.5h0.9v0.9h-0.9zM230.9 54.1h0.9v0.9h-0.9zM234.5 50.2h0.9v0.9h-0.9zM234.9 54.0h0.9v0.9h-0.9zM231.5 50.1h0.9v0.9h-0.9zM233.3 53.7h0.9v0.9h-0.9zM232.6 48.8h0.9v0.9h-0.9z" fill="#E0338C"/><path d="M233.6 49.2h0.9v0.9h-0.9zM230.4 49.8h0.9v0.9h-0.9zM233.8 52.9h0.9v0.9h-0.9zM235.4 49.3h0.9v0.9h-0.9zM232.0 49.5h0.9v0.9h-0.9zM230.8 49.7h0.9v0.9h-0.9zM234.0 51.8h0.9v0.9h-0.9z" fill="#DE3FA0"/></g><polygon points="237.0,48.0 241.0,44.0 248.0,40.3 248.5,42.5 243.0,46.0 238.5,50.2" fill="#9AC8A0" fill-opacity="0.6" filter="url(#bl)"/><g><path d="M237.5 47.2h0.9v0.9h-0.9zM239.4 47.3h0.9v0.9h-0.9zM240.3 45.4h0.9v0.9h-0.9zM241.2 46.4h0.9v0.9h-0.9zM244.6 42.5h0.9v0.9h-0.9zM241.0 44.6h0.9v0.9h-0.9zM242.7 44.9h0.9v0.9h-0.9z" fill="#73E373"/><path d="M239.0 48.2h0.9v0.9h-0.9zM246.6 40.7h0.9v0.9h-0.9zM241.3 44.8h0.9v0.9h-0.9zM241.9 46.1h0.9v0.9h-0.9zM243.6 43.2h0.9v0.9h-0.9z" fill="#ffffff"/><path d="M237.4 48.3h0.9v0.9h-0.9zM240.7 46.8h0.9v0.9h-0.9zM241.0 44.1h0.9v0.9h-0.9zM246.3 43.1h0.9v0.9h-0.9zM238.5 48.8h0.9v0.9h-0.9zM239.6 45.3h0.9v0.9h-0.9z" fill="#3E64B0"/><path d="M242.1 43.3h0.9v0.9h-0.9zM240.1 47.1h0.9v0.9h-0.9z" fill="#B95A2A"/></g><polygon points="243.0,42.8 248.0,40.1 248.8,42.0 244.0,44.5" fill="#5070B8" fill-opacity="0.7" filter="url(#bl)"/><g><path d="M244.3 43.6h0.9v0.9h-0.9zM244.3 42.0h0.9v0.9h-0.9zM245.2 42.9h0.9v0.9h-0.9zM243.2 43.1h0.9v0.9h-0.9zM243.9 42.1h0.9v0.9h-0.9z" fill="#3E64B0"/></g><polygon points="253.6,45.9 257.0,46.5 262.0,52.0 266.0,56.0 270.8,58.0 277.0,60.0 278.0,66.0 277.5,72.0 270.0,73.3 258.0,73.0 255.6,68.0 255.0,58.0 253.2,50.0" fill="#DFD6C0" fill-opacity="0.95" filter="url(#bl)"/><g><path d="M272.4 69.9h0.9v0.9h-0.9zM270.0 57.8h0.9v0.9h-0.9zM259.9 62.4h0.9v0.9h-0.9zM268.0 58.9h0.9v0.9h-0.9zM261.1 57.0h0.9v0.9h-0.9zM264.7 64.8h0.9v0.9h-0.9zM267.6 58.3h0.9v0.9h-0.9zM272.9 69.6h0.9v0.9h-0.9z" fill="#A8D4E4"/><path d="M264.5 62.1h0.9v0.9h-0.9zM255.8 60.2h0.9v0.9h-0.9zM275.6 70.4h0.9v0.9h-0.9zM274.3 64.5h0.9v0.9h-0.9zM260.4 52.4h0.9v0.9h-0.9zM265.0 70.2h0.9v0.9h-0.9zM270.3 66.0h0.9v0.9h-0.9zM257.6 62.2h0.9v0.9h-0.9zM260.2 69.8h0.9v0.9h-0.9zM256.0 49.7h0.9v0.9h-0.9zM267.6 64.9h0.9v0.9h-0.9zM264.1 59.1h0.9v0.9h-0.9zM253.6 53.0h0.9v0.9h-0.9zM254.7 48.5h0.9v0.9h-0.9zM269.6 71.6h0.9v0.9h-0.9zM256.1 64.3h0.9v0.9h-0.9zM258.0 68.4h0.9v0.9h-0.9zM261.5 60.8h0.9v0.9h-0.9zM260.0 61.5h0.9v0.9h-0.9zM265.8 65.7h0.9v0.9h-0.9zM261.9 57.5h0.9v0.9h-0.9zM264.1 60.7h0.9v0.9h-0.9zM256.2 47.6h0.9v0.9h-0.9zM258.3 55.1h0.9v0.9h-0.9zM269.0 70.3h0.9v0.9h-0.9zM260.6 52.6h0.9v0.9h-0.9zM276.7 64.3h0.9v0.9h-0.9zM256.9 68.1h0.9v0.9h-0.9zM261.0 67.9h0.9v0.9h-0.9zM256.8 64.3h0.9v0.9h-0.9zM266.8 59.7h0.9v0.9h-0.9zM257.6 57.6h0.9v0.9h-0.9zM256.6 61.2h0.9v0.9h-0.9zM269.0 69.0h0.9v0.9h-0.9zM265.8 68.6h0.9v0.9h-0.9zM274.6 70.4h0.9v0.9h-0.9zM260.6 69.6h0.9v0.9h-0.9zM259.5 54.6h0.9v0.9h-0.9zM257.2 66.4h0.9v0.9h-0.9zM271.1 69.3h0.9v0.9h-0.9zM256.5 49.4h0.9v0.9h-0.9zM271.4 61.4h0.9v0.9h-0.9zM269.1 57.6h0.9v0.9h-0.9zM259.4 68.9h0.9v0.9h-0.9zM259.6 55.0h0.9v0.9h-0.9zM265.2 55.9h0.9v0.9h-0.9zM263.6 60.6h0.9v0.9h-0.9zM263.0 63.7h0.9v0.9h-0.9zM276.3 62.7h0.9v0.9h-0.9zM260.9 56.5h0.9v0.9h-0.9zM260.2 51.5h0.9v0.9h-0.9zM260.8 56.5h0.9v0.9h-0.9zM274.3 61.5h0.9v0.9h-0.9zM255.1 66.3h0.9v0.9h-0.9zM255.2 48.3h0.9v0.9h-0.9zM272.0 72.1h0.9v0.9h-0.9zM257.6 53.4h0.9v0.9h-0.9zM265.6 58.7h0.9v0.9h-0.9zM263.8 61.6h0.9v0.9h-0.9zM255.7 46.7h0.9v0.9h-0.9zM263.8 65.2h0.9v0.9h-0.9zM256.7 50.3h0.9v0.9h-0.9zM272.9 66.1h0.9v0.9h-0.9zM266.2 56.4h0.9v0.9h-0.9zM258.8 65.3h0.9v0.9h-0.9zM260.5 70.0h0.9v0.9h-0.9zM266.9 71.4h0.9v0.9h-0.9zM264.3 71.3h0.9v0.9h-0.9zM268.6 59.9h0.9v0.9h-0.9zM262.1 70.3h0.9v0.9h-0.9zM262.9 61.0h0.9v0.9h-0.9zM258.2 68.4h0.9v0.9h-0.9zM274.4 62.3h0.9v0.9h-0.9zM266.7 63.3h0.9v0.9h-0.9zM256.2 51.8h0.9v0.9h-0.9zM271.7 67.8h0.9v0.9h-0.9zM265.5 57.7h0.9v0.9h-0.9zM264.9 63.9h0.9v0.9h-0.9zM275.7 60.6h0.9v0.9h-0.9z" fill="#D9CCB2"/><path d="M273.7 64.3h0.9v0.9h-0.9zM257.2 52.3h0.9v0.9h-0.9zM259.4 69.2h0.9v0.9h-0.9zM269.5 60.9h0.9v0.9h-0.9zM260.8 65.6h0.9v0.9h-0.9zM257.1 50.5h0.9v0.9h-0.9zM264.7 65.7h0.9v0.9h-0.9zM255.5 67.6h0.9v0.9h-0.9zM262.1 60.3h0.9v0.9h-0.9zM262.2 64.7h0.9v0.9h-0.9zM259.1 49.6h0.9v0.9h-0.9zM272.2 67.5h0.9v0.9h-0.9zM262.1 53.7h0.9v0.9h-0.9zM256.0 48.2h0.9v0.9h-0.9zM255.1 57.0h0.9v0.9h-0.9zM259.4 63.6h0.9v0.9h-0.9zM258.2 50.6h0.9v0.9h-0.9zM258.2 61.4h0.9v0.9h-0.9zM263.9 68.9h0.9v0.9h-0.9zM268.8 71.8h0.9v0.9h-0.9zM258.1 67.2h0.9v0.9h-0.9zM257.8 55.6h0.9v0.9h-0.9zM259.6 71.3h0.9v0.9h-0.9zM258.1 53.0h0.9v0.9h-0.9zM259.3 65.6h0.9v0.9h-0.9zM263.1 72.3h0.9v0.9h-0.9z" fill="#EEF8C8"/><path d="M263.7 63.5h0.9v0.9h-0.9zM268.5 70.2h0.9v0.9h-0.9zM256.2 65.0h0.9v0.9h-0.9zM272.8 69.3h0.9v0.9h-0.9zM271.7 70.7h0.9v0.9h-0.9zM258.8 59.7h0.9v0.9h-0.9zM263.2 59.6h0.9v0.9h-0.9zM264.8 63.2h0.9v0.9h-0.9zM258.0 66.3h0.9v0.9h-0.9zM258.3 70.5h0.9v0.9h-0.9zM264.9 72.3h0.9v0.9h-0.9zM266.0 67.6h0.9v0.9h-0.9zM275.0 64.8h0.9v0.9h-0.9z" fill="#F4A6A8"/></g><polygon points="253.6,45.9 257.0,46.0 264.8,55.0 264.8,58.0 258.0,58.0 254.0,52.0" fill="#C8D6D8" fill-opacity="0.6" filter="url(#bl)"/><g><path d="M254.9 48.8h0.9v0.9h-0.9zM258.6 50.1h0.9v0.9h-0.9zM262.2 52.7h0.9v0.9h-0.9zM255.6 50.4h0.9v0.9h-0.9zM262.2 55.0h0.9v0.9h-0.9zM253.6 47.6h0.9v0.9h-0.9zM255.2 48.4h0.9v0.9h-0.9zM263.7 55.5h0.9v0.9h-0.9zM254.6 46.5h0.9v0.9h-0.9zM259.9 52.7h0.9v0.9h-0.9zM262.0 54.6h0.9v0.9h-0.9zM256.5 49.1h0.9v0.9h-0.9zM256.4 50.7h0.9v0.9h-0.9zM260.0 50.3h0.9v0.9h-0.9zM264.2 57.3h0.9v0.9h-0.9zM262.1 56.5h0.9v0.9h-0.9zM260.9 54.4h0.9v0.9h-0.9zM256.8 53.0h0.9v0.9h-0.9zM259.6 50.0h0.9v0.9h-0.9zM258.1 51.1h0.9v0.9h-0.9zM256.1 50.5h0.9v0.9h-0.9zM254.8 48.2h0.9v0.9h-0.9zM254.8 46.9h0.9v0.9h-0.9zM259.5 54.2h0.9v0.9h-0.9z" fill="#A8D4E4"/><path d="M257.9 49.2h0.9v0.9h-0.9zM259.8 53.7h0.9v0.9h-0.9zM256.3 49.7h0.9v0.9h-0.9zM255.3 48.8h0.9v0.9h-0.9zM259.4 55.7h0.9v0.9h-0.9zM262.0 52.4h0.9v0.9h-0.9zM253.7 46.7h0.9v0.9h-0.9zM261.9 53.8h0.9v0.9h-0.9zM256.8 46.4h0.9v0.9h-0.9z" fill="#D9CCB2"/></g><g><path d="M266.1 41.4h0.9v0.9h-0.9zM263.1 43.5h0.9v0.9h-0.9zM262.6 38.4h0.9v0.9h-0.9zM259.3 46.6h0.9v0.9h-0.9zM260.1 44.2h0.9v0.9h-0.9zM262.8 46.2h0.9v0.9h-0.9zM262.6 41.2h0.9v0.9h-0.9zM264.5 49.7h0.9v0.9h-0.9zM259.5 39.8h0.9v0.9h-0.9zM263.1 39.1h0.9v0.9h-0.9zM260.2 38.9h0.9v0.9h-0.9zM265.5 43.6h0.9v0.9h-0.9zM261.5 41.0h0.9v0.9h-0.9zM260.7 40.9h0.9v0.9h-0.9zM260.6 41.6h0.9v0.9h-0.9zM263.2 50.7h0.9v0.9h-0.9zM261.1 39.1h0.9v0.9h-0.9zM259.1 44.6h0.9v0.9h-0.9z" fill="#D9CCB2"/><path d="M263.0 46.8h0.9v0.9h-0.9zM263.5 50.7h0.9v0.9h-0.9zM257.7 40.7h0.9v0.9h-0.9zM266.0 42.8h0.9v0.9h-0.9zM263.6 38.8h0.9v0.9h-0.9zM265.9 49.4h0.9v0.9h-0.9z" fill="#A8D4E4"/></g><polygon points="268.1,33.0 274.0,32.0 280.0,31.5 282.7,33.0 283.0,40.0 281.5,55.0 279.5,65.0 278.0,71.0 272.0,72.0 271.0,60.0 268.8,48.0" fill="#EDF0A8" fill-opacity="0.95" filter="url(#bl)"/><g><path d="M277.9 68.4h0.9v0.9h-0.9zM271.3 53.3h0.9v0.9h-0.9zM280.0 34.9h0.9v0.9h-0.9zM269.0 44.5h0.9v0.9h-0.9zM274.0 56.0h0.9v0.9h-0.9zM277.5 61.6h0.9v0.9h-0.9zM274.5 60.6h0.9v0.9h-0.9zM272.1 47.6h0.9v0.9h-0.9zM278.6 62.5h0.9v0.9h-0.9zM276.5 52.6h0.9v0.9h-0.9zM277.2 38.3h0.9v0.9h-0.9zM274.5 56.2h0.9v0.9h-0.9zM274.6 40.8h0.9v0.9h-0.9zM275.4 48.0h0.9v0.9h-0.9zM271.9 35.4h0.9v0.9h-0.9zM270.3 57.4h0.9v0.9h-0.9zM281.8 33.1h0.9v0.9h-0.9zM272.8 44.0h0.9v0.9h-0.9zM275.4 69.5h0.9v0.9h-0.9zM273.2 62.1h0.9v0.9h-0.9zM281.2 52.1h0.9v0.9h-0.9zM279.1 61.5h0.9v0.9h-0.9zM271.1 60.7h0.9v0.9h-0.9zM275.7 61.0h0.9v0.9h-0.9zM276.6 44.8h0.9v0.9h-0.9zM276.7 43.2h0.9v0.9h-0.9zM276.0 57.8h0.9v0.9h-0.9zM276.2 51.3h0.9v0.9h-0.9zM277.0 49.3h0.9v0.9h-0.9zM273.8 44.9h0.9v0.9h-0.9zM273.3 48.0h0.9v0.9h-0.9zM270.5 35.9h0.9v0.9h-0.9zM274.5 46.2h0.9v0.9h-0.9zM281.2 51.6h0.9v0.9h-0.9zM280.3 46.1h0.9v0.9h-0.9zM279.1 37.4h0.9v0.9h-0.9zM275.9 67.6h0.9v0.9h-0.9zM278.6 40.5h0.9v0.9h-0.9zM270.7 46.1h0.9v0.9h-0.9zM271.5 63.5h0.9v0.9h-0.9zM278.5 42.5h0.9v0.9h-0.9zM280.0 39.4h0.9v0.9h-0.9zM276.5 64.7h0.9v0.9h-0.9zM273.6 55.5h0.9v0.9h-0.9zM273.5 44.5h0.9v0.9h-0.9zM278.3 53.5h0.9v0.9h-0.9zM268.5 44.3h0.9v0.9h-0.9zM275.6 54.0h0.9v0.9h-0.9zM273.1 39.8h0.9v0.9h-0.9zM268.6 37.3h0.9v0.9h-0.9zM276.4 42.9h0.9v0.9h-0.9zM278.7 57.5h0.9v0.9h-0.9zM275.5 52.3h0.9v0.9h-0.9zM277.1 41.0h0.9v0.9h-0.9zM280.1 51.7h0.9v0.9h-0.9zM269.4 51.3h0.9v0.9h-0.9zM271.1 48.7h0.9v0.9h-0.9zM274.9 35.7h0.9v0.9h-0.9zM277.0 53.2h0.9v0.9h-0.9zM268.2 38.2h0.9v0.9h-0.9zM276.2 64.8h0.9v0.9h-0.9zM275.4 32.5h0.9v0.9h-0.9zM270.5 38.6h0.9v0.9h-0.9zM280.9 46.1h0.9v0.9h-0.9zM278.7 44.7h0.9v0.9h-0.9zM269.3 35.4h0.9v0.9h-0.9zM274.9 48.5h0.9v0.9h-0.9zM274.3 46.1h0.9v0.9h-0.9zM277.8 63.1h0.9v0.9h-0.9zM271.3 66.5h0.9v0.9h-0.9zM278.3 53.3h0.9v0.9h-0.9zM277.0 35.0h0.9v0.9h-0.9zM270.7 32.3h0.9v0.9h-0.9zM270.7 41.7h0.9v0.9h-0.9zM275.6 32.2h0.9v0.9h-0.9zM271.9 62.4h0.9v0.9h-0.9zM276.3 59.8h0.9v0.9h-0.9zM277.6 67.1h0.9v0.9h-0.9zM277.9 60.8h0.9v0.9h-0.9zM273.2 42.3h0.9v0.9h-0.9zM273.9 44.4h0.9v0.9h-0.9zM281.4 40.1h0.9v0.9h-0.9zM272.4 43.0h0.9v0.9h-0.9zM270.8 45.3h0.9v0.9h-0.9zM281.0 34.7h0.9v0.9h-0.9zM274.2 38.9h0.9v0.9h-0.9zM272.5 64.3h0.9v0.9h-0.9zM275.3 50.6h0.9v0.9h-0.9zM282.1 36.8h0.9v0.9h-0.9zM270.2 47.3h0.9v0.9h-0.9zM278.2 55.3h0.9v0.9h-0.9zM272.4 65.6h0.9v0.9h-0.9zM279.5 32.6h0.9v0.9h-0.9zM271.6 33.6h0.9v0.9h-0.9zM279.0 49.6h0.9v0.9h-0.9zM278.6 62.8h0.9v0.9h-0.9zM274.9 41.8h0.9v0.9h-0.9zM278.7 45.1h0.9v0.9h-0.9zM269.2 49.1h0.9v0.9h-0.9zM268.8 44.1h0.9v0.9h-0.9zM279.4 33.6h0.9v0.9h-0.9zM278.7 33.4h0.9v0.9h-0.9zM279.9 51.9h0.9v0.9h-0.9zM280.4 43.3h0.9v0.9h-0.9zM276.5 53.0h0.9v0.9h-0.9zM275.1 54.7h0.9v0.9h-0.9zM280.5 31.7h0.9v0.9h-0.9zM270.8 53.8h0.9v0.9h-0.9zM276.4 41.9h0.9v0.9h-0.9z" fill="#EAF58A"/><path d="M273.6 35.9h0.9v0.9h-0.9zM272.8 65.1h0.9v0.9h-0.9zM273.4 37.7h0.9v0.9h-0.9zM279.7 48.9h0.9v0.9h-0.9zM267.9 33.5h0.9v0.9h-0.9zM278.3 55.7h0.9v0.9h-0.9zM268.9 37.8h0.9v0.9h-0.9zM279.2 55.5h0.9v0.9h-0.9zM269.3 45.5h0.9v0.9h-0.9zM276.7 37.3h0.9v0.9h-0.9zM270.8 38.6h0.9v0.9h-0.9zM272.2 55.2h0.9v0.9h-0.9zM276.3 68.8h0.9v0.9h-0.9zM271.3 67.1h0.9v0.9h-0.9zM277.6 40.9h0.9v0.9h-0.9zM276.9 51.7h0.9v0.9h-0.9zM280.1 35.0h0.9v0.9h-0.9zM276.8 42.9h0.9v0.9h-0.9z" fill="#D9CCB2"/><path d="M270.1 39.2h0.9v0.9h-0.9zM279.4 43.6h0.9v0.9h-0.9zM273.7 66.7h0.9v0.9h-0.9zM270.7 41.2h0.9v0.9h-0.9zM275.9 33.4h0.9v0.9h-0.9zM274.8 69.4h0.9v0.9h-0.9zM271.5 53.7h0.9v0.9h-0.9zM279.8 59.3h0.9v0.9h-0.9zM271.5 56.1h0.9v0.9h-0.9z" fill="#E0338C"/></g><g><path d="M278.6 35.8h0.9v0.9h-0.9zM277.1 30.9h0.9v0.9h-0.9zM277.6 34.4h0.9v0.9h-0.9zM275.3 33.9h0.9v0.9h-0.9zM275.8 31.8h0.9v0.9h-0.9zM281.5 37.2h0.9v0.9h-0.9zM278.4 37.1h0.9v0.9h-0.9zM277.3 34.0h0.9v0.9h-0.9zM280.9 32.3h0.9v0.9h-0.9zM277.9 31.6h0.9v0.9h-0.9zM277.8 37.1h0.9v0.9h-0.9zM277.0 37.0h0.9v0.9h-0.9zM281.6 42.4h0.9v0.9h-0.9zM281.9 39.0h0.9v0.9h-0.9zM277.8 35.1h0.9v0.9h-0.9zM281.1 36.6h0.9v0.9h-0.9zM276.0 37.6h0.9v0.9h-0.9zM276.9 30.9h0.9v0.9h-0.9zM275.8 34.1h0.9v0.9h-0.9zM277.0 38.9h0.9v0.9h-0.9zM278.9 32.0h0.9v0.9h-0.9zM278.7 33.4h0.9v0.9h-0.9zM281.0 35.8h0.9v0.9h-0.9zM277.5 37.8h0.9v0.9h-0.9zM280.0 34.0h0.9v0.9h-0.9zM274.6 33.3h0.9v0.9h-0.9zM278.2 36.9h0.9v0.9h-0.9z" fill="#E0338C"/><path d="M276.0 31.5h0.9v0.9h-0.9zM281.9 36.5h0.9v0.9h-0.9zM278.1 33.6h0.9v0.9h-0.9zM278.0 32.0h0.9v0.9h-0.9zM275.8 33.5h0.9v0.9h-0.9zM280.4 32.1h0.9v0.9h-0.9zM281.1 40.5h0.9v0.9h-0.9zM280.6 36.3h0.9v0.9h-0.9zM281.7 35.3h0.9v0.9h-0.9z" fill="#EAF58A"/></g><polygon points="228.5,90.2 228.4,91.7 228.0,93.0 227.5,93.9 226.9,94.2 226.3,93.9 225.8,93.0 225.4,91.7 225.3,90.2 225.4,88.7 225.8,87.4 226.3,86.5 226.9,86.2 227.5,86.5 228.0,87.4 228.4,88.7" fill="#606064" fill-opacity="0.9" filter="url(#bl)"/><g></g><polygon points="235.5,102.6 236.5,102.6 236.5,108.0 238.7,111.0 238.3,117.0 236.0,117.9 233.6,115.0 234.0,109.0" fill="#D8C4EE" fill-opacity="0.85" filter="url(#bl)"/><g><path d="M235.3 106.0h0.9v0.9h-0.9zM237.0 112.2h0.9v0.9h-0.9zM233.6 112.9h0.9v0.9h-0.9zM237.2 113.4h0.9v0.9h-0.9zM237.5 112.2h0.9v0.9h-0.9zM237.5 116.2h0.9v0.9h-0.9zM236.3 116.5h0.9v0.9h-0.9zM234.2 106.4h0.9v0.9h-0.9zM234.1 114.2h0.9v0.9h-0.9zM234.8 109.2h0.9v0.9h-0.9zM235.2 104.0h0.9v0.9h-0.9zM235.3 104.1h0.9v0.9h-0.9zM235.0 108.9h0.9v0.9h-0.9zM237.5 114.4h0.9v0.9h-0.9z" fill="#D6BDF2"/></g><polygon points="257.0,98.8 261.0,100.0 265.4,104.0 265.0,112.0 261.0,118.0 257.5,119.1 253.0,116.0 252.1,108.0 253.5,101.0" fill="#F2CCCE" fill-opacity="0.6" filter="url(#bl)"/><g><path d="M253.6 108.4h0.9v0.9h-0.9zM259.2 112.0h0.9v0.9h-0.9zM252.7 109.4h0.9v0.9h-0.9zM260.2 104.2h0.9v0.9h-0.9zM252.6 113.2h0.9v0.9h-0.9zM262.5 107.4h0.9v0.9h-0.9zM261.4 104.2h0.9v0.9h-0.9zM260.6 101.5h0.9v0.9h-0.9zM257.8 106.9h0.9v0.9h-0.9zM254.8 105.2h0.9v0.9h-0.9zM257.3 104.2h0.9v0.9h-0.9zM253.2 103.1h0.9v0.9h-0.9zM253.6 115.8h0.9v0.9h-0.9zM259.0 99.5h0.9v0.9h-0.9zM262.4 105.2h0.9v0.9h-0.9zM259.0 110.4h0.9v0.9h-0.9zM252.3 109.0h0.9v0.9h-0.9zM253.6 109.9h0.9v0.9h-0.9zM252.2 110.6h0.9v0.9h-0.9zM263.4 107.0h0.9v0.9h-0.9zM254.7 107.5h0.9v0.9h-0.9zM263.7 107.1h0.9v0.9h-0.9zM256.9 98.7h0.9v0.9h-0.9zM258.6 107.6h0.9v0.9h-0.9zM254.3 102.2h0.9v0.9h-0.9zM252.5 109.8h0.9v0.9h-0.9zM253.8 103.8h0.9v0.9h-0.9zM257.2 105.9h0.9v0.9h-0.9zM260.4 101.2h0.9v0.9h-0.9zM259.6 101.0h0.9v0.9h-0.9zM256.6 104.6h0.9v0.9h-0.9zM256.8 100.4h0.9v0.9h-0.9zM256.9 117.0h0.9v0.9h-0.9zM259.4 105.0h0.9v0.9h-0.9zM264.7 104.5h0.9v0.9h-0.9zM255.4 106.2h0.9v0.9h-0.9zM255.8 102.5h0.9v0.9h-0.9zM258.1 105.5h0.9v0.9h-0.9zM254.1 104.2h0.9v0.9h-0.9zM260.1 117.2h0.9v0.9h-0.9zM259.8 117.4h0.9v0.9h-0.9zM262.9 113.4h0.9v0.9h-0.9zM262.1 113.1h0.9v0.9h-0.9zM256.2 113.1h0.9v0.9h-0.9zM253.7 111.8h0.9v0.9h-0.9zM264.3 109.6h0.9v0.9h-0.9zM258.7 103.7h0.9v0.9h-0.9zM255.2 101.2h0.9v0.9h-0.9zM257.3 117.5h0.9v0.9h-0.9zM262.3 107.2h0.9v0.9h-0.9zM260.1 108.3h0.9v0.9h-0.9zM260.3 109.2h0.9v0.9h-0.9zM258.8 100.4h0.9v0.9h-0.9zM264.3 106.0h0.9v0.9h-0.9zM252.5 113.3h0.9v0.9h-0.9zM257.5 107.4h0.9v0.9h-0.9zM261.5 113.0h0.9v0.9h-0.9zM257.5 118.4h0.9v0.9h-0.9zM253.8 101.6h0.9v0.9h-0.9zM252.0 107.9h0.9v0.9h-0.9zM260.6 117.0h0.9v0.9h-0.9zM263.5 102.9h0.9v0.9h-0.9zM263.0 102.0h0.9v0.9h-0.9zM258.3 110.3h0.9v0.9h-0.9zM257.9 102.0h0.9v0.9h-0.9zM256.0 101.5h0.9v0.9h-0.9zM258.8 107.7h0.9v0.9h-0.9zM256.8 117.1h0.9v0.9h-0.9zM262.4 106.9h0.9v0.9h-0.9zM263.2 111.6h0.9v0.9h-0.9zM260.8 109.0h0.9v0.9h-0.9zM255.2 104.0h0.9v0.9h-0.9zM257.9 100.8h0.9v0.9h-0.9zM257.4 112.6h0.9v0.9h-0.9zM256.1 111.4h0.9v0.9h-0.9zM259.8 106.4h0.9v0.9h-0.9zM253.3 109.9h0.9v0.9h-0.9zM262.4 114.3h0.9v0.9h-0.9zM259.4 101.2h0.9v0.9h-0.9zM257.5 110.6h0.9v0.9h-0.9z" fill="#F4A6A8"/><path d="M264.8 104.0h0.9v0.9h-0.9zM259.9 109.6h0.9v0.9h-0.9zM259.8 115.4h0.9v0.9h-0.9zM264.1 110.6h0.9v0.9h-0.9zM254.5 102.3h0.9v0.9h-0.9zM254.5 112.9h0.9v0.9h-0.9zM257.0 105.6h0.9v0.9h-0.9zM253.3 113.5h0.9v0.9h-0.9zM255.9 103.2h0.9v0.9h-0.9zM256.1 106.7h0.9v0.9h-0.9zM254.1 105.3h0.9v0.9h-0.9zM258.4 101.7h0.9v0.9h-0.9zM263.2 110.5h0.9v0.9h-0.9zM255.5 116.9h0.9v0.9h-0.9zM252.5 106.8h0.9v0.9h-0.9zM256.1 104.3h0.9v0.9h-0.9zM257.8 112.2h0.9v0.9h-0.9zM263.1 105.7h0.9v0.9h-0.9zM257.8 114.3h0.9v0.9h-0.9zM259.8 108.2h0.9v0.9h-0.9zM260.2 100.9h0.9v0.9h-0.9zM262.8 102.1h0.9v0.9h-0.9z" fill="#AFCDE6"/></g><polygon points="293.3,46.0 294.0,41.0 297.0,39.6 304.0,39.8 306.0,46.0 305.0,52.0 302.0,58.0 300.0,66.0 299.0,72.1 295.0,71.0 293.5,62.0 293.2,54.0" fill="#C88060" fill-opacity="0.55" filter="url(#bl)"/><g><path d="M301.1 56.9h0.9v0.9h-0.9zM296.0 40.1h0.9v0.9h-0.9zM298.0 65.5h0.9v0.9h-0.9zM299.3 60.8h0.9v0.9h-0.9zM293.6 49.5h0.9v0.9h-0.9zM297.1 61.2h0.9v0.9h-0.9zM296.3 69.7h0.9v0.9h-0.9zM300.8 39.4h0.9v0.9h-0.9zM299.1 39.8h0.9v0.9h-0.9zM298.0 40.9h0.9v0.9h-0.9zM295.0 51.9h0.9v0.9h-0.9zM295.4 65.7h0.9v0.9h-0.9zM296.9 65.9h0.9v0.9h-0.9zM297.6 69.9h0.9v0.9h-0.9zM297.7 56.6h0.9v0.9h-0.9zM303.6 51.1h0.9v0.9h-0.9zM304.5 50.9h0.9v0.9h-0.9zM299.3 53.5h0.9v0.9h-0.9zM301.6 45.5h0.9v0.9h-0.9zM301.5 57.0h0.9v0.9h-0.9zM301.7 43.1h0.9v0.9h-0.9zM303.1 45.2h0.9v0.9h-0.9z" fill="#ffffff"/><path d="M298.6 41.6h0.9v0.9h-0.9zM301.0 45.9h0.9v0.9h-0.9zM295.5 42.8h0.9v0.9h-0.9zM300.7 41.1h0.9v0.9h-0.9zM295.8 58.6h0.9v0.9h-0.9zM298.3 43.5h0.9v0.9h-0.9zM301.8 39.4h0.9v0.9h-0.9zM296.9 46.0h0.9v0.9h-0.9zM304.8 43.3h0.9v0.9h-0.9zM300.5 54.7h0.9v0.9h-0.9zM298.4 41.6h0.9v0.9h-0.9zM297.1 64.5h0.9v0.9h-0.9zM301.2 40.3h0.9v0.9h-0.9zM294.3 45.3h0.9v0.9h-0.9zM302.6 54.3h0.9v0.9h-0.9zM296.1 52.9h0.9v0.9h-0.9zM299.6 54.0h0.9v0.9h-0.9zM297.2 70.4h0.9v0.9h-0.9zM297.1 70.7h0.9v0.9h-0.9zM304.0 49.1h0.9v0.9h-0.9zM296.1 50.7h0.9v0.9h-0.9zM298.0 50.5h0.9v0.9h-0.9zM295.5 66.5h0.9v0.9h-0.9zM304.0 51.8h0.9v0.9h-0.9zM302.4 42.8h0.9v0.9h-0.9zM296.4 39.8h0.9v0.9h-0.9zM294.6 67.0h0.9v0.9h-0.9zM296.9 44.1h0.9v0.9h-0.9zM294.8 44.6h0.9v0.9h-0.9zM296.5 45.4h0.9v0.9h-0.9zM300.8 42.4h0.9v0.9h-0.9zM296.7 53.6h0.9v0.9h-0.9zM297.1 49.6h0.9v0.9h-0.9zM294.9 47.8h0.9v0.9h-0.9zM298.7 67.9h0.9v0.9h-0.9zM298.0 46.3h0.9v0.9h-0.9zM299.6 43.2h0.9v0.9h-0.9zM304.7 44.4h0.9v0.9h-0.9zM297.2 45.9h0.9v0.9h-0.9zM294.6 56.7h0.9v0.9h-0.9zM297.2 61.9h0.9v0.9h-0.9zM296.5 62.2h0.9v0.9h-0.9zM299.4 50.3h0.9v0.9h-0.9zM298.2 46.0h0.9v0.9h-0.9zM297.7 51.3h0.9v0.9h-0.9zM294.2 48.2h0.9v0.9h-0.9zM298.3 44.5h0.9v0.9h-0.9zM293.1 54.0h0.9v0.9h-0.9zM301.6 55.9h0.9v0.9h-0.9zM297.0 51.2h0.9v0.9h-0.9zM295.4 64.9h0.9v0.9h-0.9zM299.5 39.5h0.9v0.9h-0.9zM298.5 53.2h0.9v0.9h-0.9zM301.5 41.0h0.9v0.9h-0.9zM299.3 47.7h0.9v0.9h-0.9zM300.4 40.0h0.9v0.9h-0.9zM297.8 71.0h0.9v0.9h-0.9zM294.8 46.9h0.9v0.9h-0.9zM293.3 48.5h0.9v0.9h-0.9zM300.8 47.9h0.9v0.9h-0.9zM298.6 54.5h0.9v0.9h-0.9zM297.1 52.8h0.9v0.9h-0.9zM295.3 64.9h0.9v0.9h-0.9zM296.3 42.6h0.9v0.9h-0.9z" fill="#EB6E25"/><path d="M302.0 55.1h0.9v0.9h-0.9zM305.3 46.2h0.9v0.9h-0.9zM301.2 43.0h0.9v0.9h-0.9zM305.1 45.3h0.9v0.9h-0.9zM293.1 44.8h0.9v0.9h-0.9zM301.7 44.0h0.9v0.9h-0.9zM297.2 51.3h0.9v0.9h-0.9zM298.0 44.2h0.9v0.9h-0.9zM296.3 54.0h0.9v0.9h-0.9zM301.8 43.1h0.9v0.9h-0.9zM294.7 52.6h0.9v0.9h-0.9zM301.3 57.5h0.9v0.9h-0.9zM298.0 64.8h0.9v0.9h-0.9zM293.5 57.4h0.9v0.9h-0.9zM294.0 59.7h0.9v0.9h-0.9zM294.1 67.3h0.9v0.9h-0.9zM296.7 61.4h0.9v0.9h-0.9zM300.7 60.1h0.9v0.9h-0.9zM294.5 60.0h0.9v0.9h-0.9zM296.3 48.6h0.9v0.9h-0.9zM297.7 71.0h0.9v0.9h-0.9zM297.8 55.6h0.9v0.9h-0.9zM304.0 52.4h0.9v0.9h-0.9zM295.0 63.9h0.9v0.9h-0.9zM302.2 47.5h0.9v0.9h-0.9zM296.6 45.7h0.9v0.9h-0.9zM302.7 51.9h0.9v0.9h-0.9zM300.3 41.8h0.9v0.9h-0.9zM303.6 52.3h0.9v0.9h-0.9zM300.8 58.0h0.9v0.9h-0.9zM295.6 70.0h0.9v0.9h-0.9zM294.7 51.2h0.9v0.9h-0.9zM300.7 42.1h0.9v0.9h-0.9zM302.6 42.2h0.9v0.9h-0.9zM296.0 49.3h0.9v0.9h-0.9zM295.5 41.4h0.9v0.9h-0.9zM302.7 51.7h0.9v0.9h-0.9zM296.2 63.0h0.9v0.9h-0.9zM297.1 60.5h0.9v0.9h-0.9zM299.5 64.3h0.9v0.9h-0.9zM295.6 55.5h0.9v0.9h-0.9zM299.4 57.6h0.9v0.9h-0.9zM296.7 59.4h0.9v0.9h-0.9zM297.3 56.8h0.9v0.9h-0.9zM297.2 60.9h0.9v0.9h-0.9zM295.2 63.5h0.9v0.9h-0.9z" fill="#B95A2A"/><path d="M297.1 43.8h0.9v0.9h-0.9zM297.1 44.6h0.9v0.9h-0.9zM295.7 59.2h0.9v0.9h-0.9zM302.3 53.5h0.9v0.9h-0.9zM302.4 52.6h0.9v0.9h-0.9zM299.3 67.0h0.9v0.9h-0.9zM294.4 68.5h0.9v0.9h-0.9zM302.6 54.7h0.9v0.9h-0.9zM296.8 63.7h0.9v0.9h-0.9zM298.6 53.8h0.9v0.9h-0.9zM298.1 65.2h0.9v0.9h-0.9zM298.9 39.6h0.9v0.9h-0.9zM295.0 46.4h0.9v0.9h-0.9zM302.4 52.8h0.9v0.9h-0.9zM294.1 64.4h0.9v0.9h-0.9zM298.1 55.9h0.9v0.9h-0.9zM293.8 59.4h0.9v0.9h-0.9zM299.8 50.1h0.9v0.9h-0.9zM295.1 41.8h0.9v0.9h-0.9zM298.0 57.9h0.9v0.9h-0.9zM293.2 46.2h0.9v0.9h-0.9zM294.9 47.8h0.9v0.9h-0.9zM293.4 63.5h0.9v0.9h-0.9zM296.1 46.3h0.9v0.9h-0.9zM295.6 62.2h0.9v0.9h-0.9zM295.1 63.4h0.9v0.9h-0.9zM300.4 56.9h0.9v0.9h-0.9zM294.4 56.1h0.9v0.9h-0.9zM301.2 48.7h0.9v0.9h-0.9zM297.4 54.9h0.9v0.9h-0.9zM294.1 49.5h0.9v0.9h-0.9zM301.3 56.0h0.9v0.9h-0.9zM300.3 57.4h0.9v0.9h-0.9zM296.8 57.0h0.9v0.9h-0.9zM293.5 47.9h0.9v0.9h-0.9zM300.7 53.0h0.9v0.9h-0.9zM301.9 51.8h0.9v0.9h-0.9zM299.4 57.2h0.9v0.9h-0.9zM298.7 41.3h0.9v0.9h-0.9zM297.5 58.8h0.9v0.9h-0.9zM294.7 67.5h0.9v0.9h-0.9zM298.9 68.6h0.9v0.9h-0.9zM299.8 54.1h0.9v0.9h-0.9zM294.0 48.6h0.9v0.9h-0.9zM301.2 40.5h0.9v0.9h-0.9zM295.2 59.6h0.9v0.9h-0.9zM298.6 41.5h0.9v0.9h-0.9zM302.4 54.6h0.9v0.9h-0.9zM297.5 47.6h0.9v0.9h-0.9zM304.8 44.6h0.9v0.9h-0.9zM304.0 51.0h0.9v0.9h-0.9zM297.8 47.3h0.9v0.9h-0.9zM296.8 69.4h0.9v0.9h-0.9zM293.8 56.9h0.9v0.9h-0.9zM296.8 40.6h0.9v0.9h-0.9zM304.2 44.3h0.9v0.9h-0.9zM300.9 55.4h0.9v0.9h-0.9zM294.2 46.6h0.9v0.9h-0.9zM297.2 54.5h0.9v0.9h-0.9zM303.3 42.8h0.9v0.9h-0.9zM303.0 45.5h0.9v0.9h-0.9zM298.9 41.9h0.9v0.9h-0.9zM296.1 56.9h0.9v0.9h-0.9zM300.0 41.6h0.9v0.9h-0.9zM294.9 45.1h0.9v0.9h-0.9zM293.4 43.6h0.9v0.9h-0.9zM297.6 47.7h0.9v0.9h-0.9zM293.8 55.3h0.9v0.9h-0.9zM297.0 48.8h0.9v0.9h-0.9zM294.3 58.3h0.9v0.9h-0.9zM301.8 45.0h0.9v0.9h-0.9zM297.3 70.6h0.9v0.9h-0.9zM297.3 62.9h0.9v0.9h-0.9zM300.0 48.2h0.9v0.9h-0.9zM297.3 63.5h0.9v0.9h-0.9zM301.7 53.0h0.9v0.9h-0.9zM300.7 46.2h0.9v0.9h-0.9zM303.9 43.7h0.9v0.9h-0.9zM300.0 63.6h0.9v0.9h-0.9zM296.9 50.0h0.9v0.9h-0.9zM294.7 56.4h0.9v0.9h-0.9zM296.8 46.3h0.9v0.9h-0.9zM300.8 40.2h0.9v0.9h-0.9zM300.7 39.5h0.9v0.9h-0.9zM295.5 52.2h0.9v0.9h-0.9zM297.4 60.4h0.9v0.9h-0.9zM303.9 42.0h0.9v0.9h-0.9zM301.9 52.1h0.9v0.9h-0.9zM295.1 41.2h0.9v0.9h-0.9zM303.6 47.4h0.9v0.9h-0.9zM293.8 41.2h0.9v0.9h-0.9zM299.9 41.6h0.9v0.9h-0.9zM299.2 49.2h0.9v0.9h-0.9zM301.5 45.2h0.9v0.9h-0.9zM302.1 48.3h0.9v0.9h-0.9zM297.4 45.4h0.9v0.9h-0.9zM302.4 43.0h0.9v0.9h-0.9zM297.2 52.1h0.9v0.9h-0.9zM296.0 47.1h0.9v0.9h-0.9zM300.7 60.3h0.9v0.9h-0.9zM297.4 43.9h0.9v0.9h-0.9zM295.9 61.0h0.9v0.9h-0.9zM293.4 46.5h0.9v0.9h-0.9zM302.0 48.5h0.9v0.9h-0.9zM294.9 46.8h0.9v0.9h-0.9zM297.1 67.5h0.9v0.9h-0.9zM303.6 50.0h0.9v0.9h-0.9zM301.2 48.4h0.9v0.9h-0.9zM295.7 41.2h0.9v0.9h-0.9zM303.1 47.3h0.9v0.9h-0.9zM303.6 41.6h0.9v0.9h-0.9zM296.5 43.1h0.9v0.9h-0.9zM295.7 66.9h0.9v0.9h-0.9zM295.7 47.2h0.9v0.9h-0.9zM299.1 56.7h0.9v0.9h-0.9zM293.5 43.5h0.9v0.9h-0.9zM294.0 52.4h0.9v0.9h-0.9zM297.9 45.5h0.9v0.9h-0.9zM294.2 66.7h0.9v0.9h-0.9zM300.5 56.4h0.9v0.9h-0.9zM293.0 47.0h0.9v0.9h-0.9zM301.3 49.1h0.9v0.9h-0.9zM297.0 63.2h0.9v0.9h-0.9zM298.2 55.2h0.9v0.9h-0.9z" fill="#DB5A1C"/><path d="M294.9 54.9h0.9v0.9h-0.9zM296.7 66.1h0.9v0.9h-0.9zM302.6 42.3h0.9v0.9h-0.9zM300.7 40.0h0.9v0.9h-0.9zM300.5 60.8h0.9v0.9h-0.9zM295.6 63.9h0.9v0.9h-0.9zM299.8 46.6h0.9v0.9h-0.9zM299.3 54.3h0.9v0.9h-0.9zM295.9 64.5h0.9v0.9h-0.9zM302.1 47.2h0.9v0.9h-0.9zM298.1 64.4h0.9v0.9h-0.9zM294.5 52.9h0.9v0.9h-0.9zM300.7 42.5h0.9v0.9h-0.9zM293.5 53.1h0.9v0.9h-0.9zM293.9 65.0h0.9v0.9h-0.9zM295.4 46.3h0.9v0.9h-0.9zM294.4 57.3h0.9v0.9h-0.9zM298.5 63.3h0.9v0.9h-0.9zM295.5 41.7h0.9v0.9h-0.9zM301.1 40.4h0.9v0.9h-0.9zM296.1 57.9h0.9v0.9h-0.9zM302.9 40.2h0.9v0.9h-0.9zM296.5 67.6h0.9v0.9h-0.9zM303.6 44.9h0.9v0.9h-0.9zM295.9 46.4h0.9v0.9h-0.9zM302.6 47.0h0.9v0.9h-0.9zM294.5 54.9h0.9v0.9h-0.9zM299.3 62.0h0.9v0.9h-0.9zM297.0 52.7h0.9v0.9h-0.9z" fill="#D2B4F0"/><path d="M296.9 50.7h0.9v0.9h-0.9zM298.7 44.8h0.9v0.9h-0.9zM296.8 62.4h0.9v0.9h-0.9zM293.8 57.0h0.9v0.9h-0.9zM302.2 43.5h0.9v0.9h-0.9zM294.4 49.2h0.9v0.9h-0.9zM302.9 44.6h0.9v0.9h-0.9zM299.6 57.8h0.9v0.9h-0.9zM293.0 48.4h0.9v0.9h-0.9zM299.1 43.2h0.9v0.9h-0.9zM298.7 50.1h0.9v0.9h-0.9zM299.7 63.3h0.9v0.9h-0.9zM294.4 68.1h0.9v0.9h-0.9zM298.8 41.8h0.9v0.9h-0.9zM293.6 45.8h0.9v0.9h-0.9zM299.1 59.8h0.9v0.9h-0.9zM300.0 40.8h0.9v0.9h-0.9zM293.7 64.3h0.9v0.9h-0.9zM294.9 68.7h0.9v0.9h-0.9z" fill="#7F78CF"/><path d="M302.1 46.8h0.9v0.9h-0.9zM295.6 66.5h0.9v0.9h-0.9zM297.2 44.4h0.9v0.9h-0.9zM295.8 53.2h0.9v0.9h-0.9zM299.7 53.8h0.9v0.9h-0.9zM298.1 46.8h0.9v0.9h-0.9zM302.9 53.3h0.9v0.9h-0.9zM302.0 48.7h0.9v0.9h-0.9zM299.3 64.4h0.9v0.9h-0.9zM300.7 52.2h0.9v0.9h-0.9zM296.0 62.4h0.9v0.9h-0.9zM298.8 46.6h0.9v0.9h-0.9zM295.9 64.8h0.9v0.9h-0.9zM297.6 55.7h0.9v0.9h-0.9zM294.9 67.9h0.9v0.9h-0.9zM295.2 59.0h0.9v0.9h-0.9zM301.8 41.4h0.9v0.9h-0.9zM295.7 49.9h0.9v0.9h-0.9zM303.6 40.6h0.9v0.9h-0.9zM293.2 56.2h0.9v0.9h-0.9zM303.6 50.9h0.9v0.9h-0.9zM294.9 43.7h0.9v0.9h-0.9zM296.0 52.3h0.9v0.9h-0.9zM299.6 45.2h0.9v0.9h-0.9zM300.5 56.6h0.9v0.9h-0.9zM303.4 44.9h0.9v0.9h-0.9zM297.7 63.1h0.9v0.9h-0.9zM297.2 56.1h0.9v0.9h-0.9z" fill="#52B589"/><path d="M294.9 63.7h0.9v0.9h-0.9zM296.5 59.4h0.9v0.9h-0.9zM295.9 53.3h0.9v0.9h-0.9zM295.9 55.0h0.9v0.9h-0.9zM297.6 63.7h0.9v0.9h-0.9zM294.5 65.6h0.9v0.9h-0.9zM303.9 50.6h0.9v0.9h-0.9zM297.6 67.8h0.9v0.9h-0.9zM303.8 48.9h0.9v0.9h-0.9zM296.3 44.1h0.9v0.9h-0.9zM295.1 53.6h0.9v0.9h-0.9zM302.3 49.1h0.9v0.9h-0.9zM294.5 49.7h0.9v0.9h-0.9zM298.2 42.3h0.9v0.9h-0.9zM302.8 50.0h0.9v0.9h-0.9zM292.9 48.6h0.9v0.9h-0.9z" fill="#EEB77A"/></g><polygon points="297.0,39.6 304.0,39.8 306.0,46.0 302.0,48.0 298.0,45.0" fill="#C8A8E0" fill-opacity="0.7" filter="url(#bl)"/><g><path d="M302.1 41.2h0.9v0.9h-0.9zM300.4 46.0h0.9v0.9h-0.9zM297.9 44.3h0.9v0.9h-0.9zM298.7 40.1h0.9v0.9h-0.9zM303.8 40.4h0.9v0.9h-0.9zM303.5 40.4h0.9v0.9h-0.9zM299.7 45.8h0.9v0.9h-0.9zM301.3 43.0h0.9v0.9h-0.9zM299.1 41.2h0.9v0.9h-0.9zM304.8 44.0h0.9v0.9h-0.9z" fill="#D2B4F0"/><path d="M300.8 41.0h0.9v0.9h-0.9zM301.3 39.6h0.9v0.9h-0.9zM301.3 46.5h0.9v0.9h-0.9zM302.1 39.6h0.9v0.9h-0.9zM298.4 40.9h0.9v0.9h-0.9zM303.7 42.8h0.9v0.9h-0.9zM299.7 42.2h0.9v0.9h-0.9zM303.1 46.1h0.9v0.9h-0.9zM303.6 43.7h0.9v0.9h-0.9zM297.6 39.5h0.9v0.9h-0.9zM297.8 39.9h0.9v0.9h-0.9z" fill="#7F78CF"/></g><polygon points="293.3,46.0 294.0,41.0 296.0,41.0 297.0,55.0 299.0,72.1 295.0,71.0 293.5,62.0" fill="#D87038" fill-opacity="0.35" filter="url(#bl)"/><g><path d="M294.8 44.2h0.9v0.9h-0.9zM294.1 44.5h0.9v0.9h-0.9zM295.8 53.7h0.9v0.9h-0.9zM295.9 58.7h0.9v0.9h-0.9zM295.1 44.0h0.9v0.9h-0.9zM295.5 69.5h0.9v0.9h-0.9zM293.5 56.5h0.9v0.9h-0.9zM296.3 64.9h0.9v0.9h-0.9zM296.2 68.2h0.9v0.9h-0.9zM295.3 55.1h0.9v0.9h-0.9zM293.8 55.7h0.9v0.9h-0.9zM294.2 55.0h0.9v0.9h-0.9zM298.0 69.2h0.9v0.9h-0.9zM293.3 50.8h0.9v0.9h-0.9zM295.1 66.1h0.9v0.9h-0.9zM294.5 66.1h0.9v0.9h-0.9zM295.5 53.8h0.9v0.9h-0.9zM295.6 56.4h0.9v0.9h-0.9zM293.5 42.5h0.9v0.9h-0.9zM296.8 61.5h0.9v0.9h-0.9zM293.5 57.2h0.9v0.9h-0.9zM295.6 68.0h0.9v0.9h-0.9zM295.8 67.0h0.9v0.9h-0.9zM294.3 65.6h0.9v0.9h-0.9zM294.5 45.4h0.9v0.9h-0.9zM294.2 52.1h0.9v0.9h-0.9zM293.7 44.2h0.9v0.9h-0.9z" fill="#DB5A1C"/><path d="M296.5 63.1h0.9v0.9h-0.9zM294.2 51.4h0.9v0.9h-0.9zM293.6 61.0h0.9v0.9h-0.9zM294.4 65.3h0.9v0.9h-0.9zM296.2 67.8h0.9v0.9h-0.9zM297.0 66.9h0.9v0.9h-0.9zM296.8 57.2h0.9v0.9h-0.9zM295.9 48.2h0.9v0.9h-0.9zM293.5 54.4h0.9v0.9h-0.9zM295.4 70.8h0.9v0.9h-0.9zM295.7 52.2h0.9v0.9h-0.9z" fill="#52B589"/><path d="M296.3 56.6h0.9v0.9h-0.9zM295.3 44.5h0.9v0.9h-0.9zM297.0 64.5h0.9v0.9h-0.9zM296.1 64.4h0.9v0.9h-0.9zM293.2 56.3h0.9v0.9h-0.9zM295.7 63.0h0.9v0.9h-0.9zM297.3 67.2h0.9v0.9h-0.9zM294.5 45.2h0.9v0.9h-0.9zM297.0 59.2h0.9v0.9h-0.9zM294.9 51.0h0.9v0.9h-0.9zM297.0 69.0h0.9v0.9h-0.9zM294.8 48.6h0.9v0.9h-0.9zM295.4 43.5h0.9v0.9h-0.9zM293.2 62.4h0.9v0.9h-0.9zM294.2 53.2h0.9v0.9h-0.9zM296.3 55.8h0.9v0.9h-0.9zM294.5 42.5h0.9v0.9h-0.9zM294.8 59.7h0.9v0.9h-0.9zM293.4 53.1h0.9v0.9h-0.9zM293.5 59.5h0.9v0.9h-0.9zM293.6 42.0h0.9v0.9h-0.9zM295.0 59.7h0.9v0.9h-0.9zM294.7 42.5h0.9v0.9h-0.9zM294.7 52.0h0.9v0.9h-0.9zM294.1 65.8h0.9v0.9h-0.9zM294.2 62.3h0.9v0.9h-0.9zM293.4 60.6h0.9v0.9h-0.9zM292.9 48.7h0.9v0.9h-0.9zM295.1 70.6h0.9v0.9h-0.9zM293.7 43.2h0.9v0.9h-0.9zM294.1 63.3h0.9v0.9h-0.9zM298.1 69.7h0.9v0.9h-0.9zM293.3 52.5h0.9v0.9h-0.9zM298.2 68.9h0.9v0.9h-0.9zM294.8 42.6h0.9v0.9h-0.9zM293.1 61.4h0.9v0.9h-0.9zM294.0 64.8h0.9v0.9h-0.9zM295.6 69.0h0.9v0.9h-0.9zM293.7 51.3h0.9v0.9h-0.9z" fill="#EB6E25"/><path d="M295.1 70.2h0.9v0.9h-0.9zM295.8 52.0h0.9v0.9h-0.9zM297.5 68.4h0.9v0.9h-0.9zM295.3 64.9h0.9v0.9h-0.9zM296.8 61.6h0.9v0.9h-0.9zM294.0 51.5h0.9v0.9h-0.9zM294.4 49.2h0.9v0.9h-0.9zM296.7 63.3h0.9v0.9h-0.9zM295.7 49.5h0.9v0.9h-0.9zM293.8 41.5h0.9v0.9h-0.9z" fill="#D2B4F0"/></g><polygon points="302.8,60.0 306.0,59.3 309.0,60.5 312.5,62.0 313.0,66.0 311.5,69.0 309.0,70.8 305.0,70.8 302.0,68.0 301.5,64.0" fill="#A8782C" fill-opacity="0.9" filter="url(#bl)"/><g><path d="M306.7 68.5h0.9v0.9h-0.9zM303.8 69.1h0.9v0.9h-0.9zM304.6 67.1h0.9v0.9h-0.9zM306.5 65.1h0.9v0.9h-0.9zM302.0 67.6h0.9v0.9h-0.9zM305.0 68.7h0.9v0.9h-0.9zM308.6 63.1h0.9v0.9h-0.9zM308.5 60.6h0.9v0.9h-0.9z" fill="#D9A42E"/><path d="M307.7 61.0h0.9v0.9h-0.9zM302.6 66.4h0.9v0.9h-0.9zM304.5 63.9h0.9v0.9h-0.9zM302.2 61.5h0.9v0.9h-0.9zM305.2 69.5h0.9v0.9h-0.9zM309.7 61.0h0.9v0.9h-0.9zM304.3 65.5h0.9v0.9h-0.9zM302.5 61.4h0.9v0.9h-0.9zM309.2 65.8h0.9v0.9h-0.9zM306.7 69.1h0.9v0.9h-0.9zM302.8 61.5h0.9v0.9h-0.9zM310.2 63.0h0.9v0.9h-0.9zM312.4 65.1h0.9v0.9h-0.9zM304.6 66.8h0.9v0.9h-0.9zM304.8 70.3h0.9v0.9h-0.9zM306.1 66.6h0.9v0.9h-0.9zM307.1 69.6h0.9v0.9h-0.9zM311.4 67.0h0.9v0.9h-0.9zM307.7 66.7h0.9v0.9h-0.9zM302.8 67.9h0.9v0.9h-0.9zM308.1 59.9h0.9v0.9h-0.9zM308.6 61.7h0.9v0.9h-0.9zM305.4 66.5h0.9v0.9h-0.9zM307.0 60.9h0.9v0.9h-0.9zM307.6 65.9h0.9v0.9h-0.9zM306.5 65.1h0.9v0.9h-0.9zM302.9 65.9h0.9v0.9h-0.9zM305.6 65.9h0.9v0.9h-0.9zM307.3 66.6h0.9v0.9h-0.9zM303.4 61.5h0.9v0.9h-0.9zM307.2 62.6h0.9v0.9h-0.9zM308.9 66.5h0.9v0.9h-0.9z" fill="#A67628"/><path d="M304.2 65.3h0.9v0.9h-0.9z" fill="#ffffff"/></g><polygon points="313.5,73.3 313.3,74.2 312.9,74.9 312.3,75.4 311.5,75.6 310.7,75.4 310.1,74.9 309.7,74.2 309.5,73.3 309.7,72.4 310.1,71.7 310.7,71.2 311.5,71.0 312.3,71.2 312.9,71.7 313.3,72.4" fill="#B08A45" fill-opacity="0.75" filter="url(#bl)"/><g><path d="M310.4 70.9h0.9v0.9h-0.9zM309.6 73.0h0.9v0.9h-0.9zM312.2 72.2h0.9v0.9h-0.9zM310.8 74.7h0.9v0.9h-0.9z" fill="#D9A42E"/><path d="M309.6 71.3h0.9v0.9h-0.9z" fill="#A67628"/></g><polygon points="315.8,78.8 315.7,79.7 315.3,80.4 314.7,80.9 314.0,81.1 313.3,80.9 312.7,80.4 312.3,79.7 312.2,78.8 312.3,77.9 312.7,77.2 313.3,76.7 314.0,76.5 314.7,76.7 315.3,77.2 315.7,77.9" fill="#C09040" fill-opacity="0.8" filter="url(#bl)"/><g><path d="M313.0 76.3h0.9v0.9h-0.9zM312.4 78.8h0.9v0.9h-0.9zM313.7 78.1h0.9v0.9h-0.9zM313.7 77.1h0.9v0.9h-0.9zM313.7 76.1h0.9v0.9h-0.9z" fill="#D9A42E"/></g><g><path d="M316.0 50.9h0.9v0.9h-0.9zM309.7 49.2h0.9v0.9h-0.9zM309.2 53.9h0.9v0.9h-0.9zM317.8 51.7h0.9v0.9h-0.9zM311.7 51.7h0.9v0.9h-0.9zM314.4 49.9h0.9v0.9h-0.9zM311.4 50.2h0.9v0.9h-0.9zM314.7 56.8h0.9v0.9h-0.9zM318.9 54.3h0.9v0.9h-0.9zM310.9 48.2h0.9v0.9h-0.9zM316.4 51.0h0.9v0.9h-0.9zM320.4 52.2h0.9v0.9h-0.9zM313.8 48.8h0.9v0.9h-0.9zM312.4 54.1h0.9v0.9h-0.9zM311.4 50.7h0.9v0.9h-0.9zM315.2 49.2h0.9v0.9h-0.9zM314.8 51.1h0.9v0.9h-0.9zM314.4 53.5h0.9v0.9h-0.9zM311.5 55.4h0.9v0.9h-0.9z" fill="#E0338C"/><path d="M313.6 54.5h0.9v0.9h-0.9zM312.5 51.8h0.9v0.9h-0.9zM310.5 54.6h0.9v0.9h-0.9zM310.9 48.2h0.9v0.9h-0.9zM314.7 54.8h0.9v0.9h-0.9zM311.4 53.0h0.9v0.9h-0.9zM312.7 47.7h0.9v0.9h-0.9zM314.5 55.1h0.9v0.9h-0.9zM312.0 51.2h0.9v0.9h-0.9zM316.7 54.5h0.9v0.9h-0.9z" fill="#D9CCB2"/><path d="M314.9 54.7h0.9v0.9h-0.9zM313.1 55.6h0.9v0.9h-0.9zM312.4 55.1h0.9v0.9h-0.9zM311.2 55.4h0.9v0.9h-0.9zM317.6 53.4h0.9v0.9h-0.9zM318.7 56.0h0.9v0.9h-0.9zM313.9 56.6h0.9v0.9h-0.9zM316.2 51.9h0.9v0.9h-0.9zM313.2 56.2h0.9v0.9h-0.9zM308.1 48.9h0.9v0.9h-0.9z" fill="#DE3FA0"/></g><polygon points="318.0,48.0 325.0,43.0 333.3,37.1 334.0,39.0 326.0,45.0 319.0,50.0" fill="#B8B898" fill-opacity="0.5" filter="url(#bl)"/><g><path d="M318.8 49.0h0.9v0.9h-0.9zM324.3 43.3h0.9v0.9h-0.9zM331.6 37.8h0.9v0.9h-0.9zM318.9 48.8h0.9v0.9h-0.9zM332.9 37.1h0.9v0.9h-0.9z" fill="#ffffff"/><path d="M324.7 44.5h0.9v0.9h-0.9zM330.8 39.1h0.9v0.9h-0.9zM327.6 41.4h0.9v0.9h-0.9zM327.3 42.3h0.9v0.9h-0.9zM322.7 44.9h0.9v0.9h-0.9zM324.9 44.0h0.9v0.9h-0.9zM324.2 43.7h0.9v0.9h-0.9zM318.4 47.3h0.9v0.9h-0.9zM323.8 45.6h0.9v0.9h-0.9zM329.1 39.6h0.9v0.9h-0.9zM327.4 42.6h0.9v0.9h-0.9zM318.4 48.2h0.9v0.9h-0.9z" fill="#B95A2A"/><path d="M327.4 41.5h0.9v0.9h-0.9zM319.9 47.9h0.9v0.9h-0.9zM331.7 38.9h0.9v0.9h-0.9zM322.3 46.2h0.9v0.9h-0.9zM330.4 39.0h0.9v0.9h-0.9zM330.2 38.6h0.9v0.9h-0.9z" fill="#73E373"/></g><polygon points="334.6,49.0 337.0,46.0 341.0,47.0 347.3,52.0 347.3,63.2 340.0,63.2 336.0,58.0" fill="#C0D6DC" fill-opacity="0.75" filter="url(#bl)"/><g><path d="M339.8 49.8h0.9v0.9h-0.9zM341.5 58.2h0.9v0.9h-0.9zM345.9 61.6h0.9v0.9h-0.9zM346.6 62.2h0.9v0.9h-0.9zM346.3 53.4h0.9v0.9h-0.9zM339.2 54.2h0.9v0.9h-0.9zM343.1 52.2h0.9v0.9h-0.9zM343.4 62.3h0.9v0.9h-0.9zM337.2 53.2h0.9v0.9h-0.9zM344.5 58.2h0.9v0.9h-0.9zM335.3 47.6h0.9v0.9h-0.9zM340.0 53.1h0.9v0.9h-0.9zM336.9 52.6h0.9v0.9h-0.9zM344.4 50.8h0.9v0.9h-0.9zM343.1 52.9h0.9v0.9h-0.9zM340.2 62.4h0.9v0.9h-0.9zM335.8 57.0h0.9v0.9h-0.9zM338.4 53.0h0.9v0.9h-0.9zM339.6 53.5h0.9v0.9h-0.9zM344.6 54.1h0.9v0.9h-0.9zM341.0 49.6h0.9v0.9h-0.9zM341.2 54.4h0.9v0.9h-0.9zM338.5 49.5h0.9v0.9h-0.9zM339.2 54.2h0.9v0.9h-0.9z" fill="#D9CCB2"/><path d="M337.7 51.2h0.9v0.9h-0.9zM335.6 54.8h0.9v0.9h-0.9zM342.7 49.3h0.9v0.9h-0.9zM340.7 61.8h0.9v0.9h-0.9zM336.4 53.4h0.9v0.9h-0.9zM337.9 58.5h0.9v0.9h-0.9zM344.1 60.2h0.9v0.9h-0.9zM336.9 59.2h0.9v0.9h-0.9zM338.4 54.5h0.9v0.9h-0.9zM343.1 49.8h0.9v0.9h-0.9zM343.1 52.1h0.9v0.9h-0.9zM337.6 49.5h0.9v0.9h-0.9zM338.3 52.4h0.9v0.9h-0.9zM340.3 52.8h0.9v0.9h-0.9zM341.4 47.4h0.9v0.9h-0.9zM342.4 60.1h0.9v0.9h-0.9zM341.7 56.6h0.9v0.9h-0.9zM337.0 54.7h0.9v0.9h-0.9zM337.3 59.4h0.9v0.9h-0.9zM344.1 58.7h0.9v0.9h-0.9zM340.1 52.6h0.9v0.9h-0.9zM341.2 60.6h0.9v0.9h-0.9zM339.7 56.5h0.9v0.9h-0.9zM342.6 55.8h0.9v0.9h-0.9zM340.7 54.5h0.9v0.9h-0.9zM343.9 58.5h0.9v0.9h-0.9zM342.6 52.0h0.9v0.9h-0.9zM344.5 51.5h0.9v0.9h-0.9zM338.2 50.3h0.9v0.9h-0.9zM341.3 58.5h0.9v0.9h-0.9zM334.4 49.3h0.9v0.9h-0.9zM344.5 52.9h0.9v0.9h-0.9zM340.8 55.3h0.9v0.9h-0.9zM343.2 57.5h0.9v0.9h-0.9z" fill="#A8D4E4"/></g><polygon points="335.9,60.6 347.0,60.6 357.5,60.6 357.5,71.0 352.0,73.3 340.0,73.0 336.0,70.0" fill="#DFD6C0" fill-opacity="0.95" filter="url(#bl)"/><g><path d="M350.6 63.9h0.9v0.9h-0.9zM341.1 60.2h0.9v0.9h-0.9zM354.8 69.7h0.9v0.9h-0.9zM340.7 61.0h0.9v0.9h-0.9zM355.8 67.5h0.9v0.9h-0.9zM341.6 71.9h0.9v0.9h-0.9zM345.9 67.6h0.9v0.9h-0.9zM336.7 65.5h0.9v0.9h-0.9zM346.6 64.6h0.9v0.9h-0.9zM336.1 67.6h0.9v0.9h-0.9zM341.0 63.1h0.9v0.9h-0.9zM353.7 61.3h0.9v0.9h-0.9zM345.5 63.0h0.9v0.9h-0.9zM346.0 62.4h0.9v0.9h-0.9zM349.9 70.7h0.9v0.9h-0.9zM355.5 66.3h0.9v0.9h-0.9zM348.7 68.6h0.9v0.9h-0.9zM339.7 70.0h0.9v0.9h-0.9zM343.6 71.9h0.9v0.9h-0.9zM341.6 62.3h0.9v0.9h-0.9zM345.0 63.6h0.9v0.9h-0.9zM354.0 69.9h0.9v0.9h-0.9zM350.8 64.1h0.9v0.9h-0.9zM344.6 60.8h0.9v0.9h-0.9zM342.9 67.3h0.9v0.9h-0.9zM336.8 68.5h0.9v0.9h-0.9zM355.3 69.4h0.9v0.9h-0.9zM352.7 67.6h0.9v0.9h-0.9zM345.4 64.7h0.9v0.9h-0.9zM349.6 68.0h0.9v0.9h-0.9zM351.9 71.0h0.9v0.9h-0.9zM337.6 63.4h0.9v0.9h-0.9zM338.3 68.9h0.9v0.9h-0.9zM353.0 64.7h0.9v0.9h-0.9zM348.2 62.4h0.9v0.9h-0.9zM346.1 60.3h0.9v0.9h-0.9zM356.3 64.6h0.9v0.9h-0.9zM339.5 63.0h0.9v0.9h-0.9zM348.9 62.5h0.9v0.9h-0.9zM343.5 64.3h0.9v0.9h-0.9zM350.5 64.8h0.9v0.9h-0.9zM353.6 64.7h0.9v0.9h-0.9zM355.0 65.0h0.9v0.9h-0.9zM346.6 68.7h0.9v0.9h-0.9zM339.8 62.4h0.9v0.9h-0.9zM336.5 62.2h0.9v0.9h-0.9zM348.1 66.4h0.9v0.9h-0.9zM344.2 65.1h0.9v0.9h-0.9zM353.4 66.7h0.9v0.9h-0.9zM351.7 66.7h0.9v0.9h-0.9zM348.2 67.1h0.9v0.9h-0.9zM344.3 60.9h0.9v0.9h-0.9zM352.1 63.4h0.9v0.9h-0.9zM354.7 69.8h0.9v0.9h-0.9zM348.5 62.7h0.9v0.9h-0.9zM347.9 71.2h0.9v0.9h-0.9zM344.1 62.0h0.9v0.9h-0.9zM337.5 61.6h0.9v0.9h-0.9zM340.3 68.4h0.9v0.9h-0.9zM351.2 67.5h0.9v0.9h-0.9z" fill="#D9CCB2"/><path d="M355.3 70.1h0.9v0.9h-0.9zM350.6 64.9h0.9v0.9h-0.9zM342.8 62.0h0.9v0.9h-0.9zM347.9 64.5h0.9v0.9h-0.9zM357.0 64.6h0.9v0.9h-0.9zM349.8 65.0h0.9v0.9h-0.9zM342.8 66.5h0.9v0.9h-0.9zM343.6 62.3h0.9v0.9h-0.9zM351.8 68.2h0.9v0.9h-0.9zM355.5 63.8h0.9v0.9h-0.9zM343.7 71.3h0.9v0.9h-0.9zM354.8 68.7h0.9v0.9h-0.9zM344.4 63.8h0.9v0.9h-0.9zM354.5 68.9h0.9v0.9h-0.9zM351.4 72.1h0.9v0.9h-0.9zM352.7 68.3h0.9v0.9h-0.9zM338.9 67.1h0.9v0.9h-0.9z" fill="#EEF8C8"/></g><polygon points="347.3,34.0 352.0,32.5 360.0,32.0 362.6,36.0 362.0,50.0 360.0,62.0 357.5,73.0 350.0,70.0 347.3,60.0 347.0,45.0" fill="#EDF0A8" fill-opacity="0.95" filter="url(#bl)"/><g><path d="M355.4 62.9h0.9v0.9h-0.9zM353.5 57.5h0.9v0.9h-0.9zM347.5 35.5h0.9v0.9h-0.9zM355.1 57.9h0.9v0.9h-0.9zM352.7 61.5h0.9v0.9h-0.9zM357.9 57.2h0.9v0.9h-0.9zM347.9 37.5h0.9v0.9h-0.9zM348.3 38.0h0.9v0.9h-0.9zM352.4 32.3h0.9v0.9h-0.9zM355.2 57.2h0.9v0.9h-0.9zM350.2 61.9h0.9v0.9h-0.9zM361.6 45.1h0.9v0.9h-0.9zM357.4 44.1h0.9v0.9h-0.9zM358.1 61.5h0.9v0.9h-0.9zM360.9 46.0h0.9v0.9h-0.9zM356.4 71.1h0.9v0.9h-0.9zM347.3 49.3h0.9v0.9h-0.9zM357.9 61.9h0.9v0.9h-0.9zM351.5 37.7h0.9v0.9h-0.9zM347.3 59.7h0.9v0.9h-0.9zM357.0 41.8h0.9v0.9h-0.9zM348.8 41.8h0.9v0.9h-0.9zM354.6 51.4h0.9v0.9h-0.9zM349.2 48.8h0.9v0.9h-0.9zM349.7 34.6h0.9v0.9h-0.9zM357.1 35.7h0.9v0.9h-0.9zM354.0 52.8h0.9v0.9h-0.9zM356.9 64.1h0.9v0.9h-0.9zM347.2 59.2h0.9v0.9h-0.9zM351.3 43.5h0.9v0.9h-0.9zM347.9 54.5h0.9v0.9h-0.9zM354.5 63.9h0.9v0.9h-0.9zM349.6 38.6h0.9v0.9h-0.9zM349.8 68.0h0.9v0.9h-0.9zM358.3 45.9h0.9v0.9h-0.9zM350.6 45.3h0.9v0.9h-0.9zM358.6 53.8h0.9v0.9h-0.9zM354.6 64.1h0.9v0.9h-0.9zM356.8 36.0h0.9v0.9h-0.9zM358.7 62.0h0.9v0.9h-0.9zM354.4 63.5h0.9v0.9h-0.9zM350.7 59.4h0.9v0.9h-0.9zM350.4 55.2h0.9v0.9h-0.9zM357.7 37.6h0.9v0.9h-0.9zM349.6 65.0h0.9v0.9h-0.9zM348.3 53.1h0.9v0.9h-0.9zM352.9 45.9h0.9v0.9h-0.9zM348.0 54.3h0.9v0.9h-0.9zM352.8 51.4h0.9v0.9h-0.9zM352.5 70.2h0.9v0.9h-0.9zM352.0 43.3h0.9v0.9h-0.9zM351.3 49.4h0.9v0.9h-0.9zM357.4 60.2h0.9v0.9h-0.9zM350.3 47.1h0.9v0.9h-0.9zM356.4 67.5h0.9v0.9h-0.9zM347.3 37.3h0.9v0.9h-0.9zM353.6 42.5h0.9v0.9h-0.9zM346.9 55.8h0.9v0.9h-0.9zM347.1 54.0h0.9v0.9h-0.9zM353.4 50.6h0.9v0.9h-0.9zM348.7 64.3h0.9v0.9h-0.9zM354.2 40.6h0.9v0.9h-0.9zM349.9 36.6h0.9v0.9h-0.9zM354.7 32.3h0.9v0.9h-0.9zM353.4 58.3h0.9v0.9h-0.9zM350.1 68.9h0.9v0.9h-0.9zM354.9 57.3h0.9v0.9h-0.9zM360.9 39.7h0.9v0.9h-0.9zM358.6 58.3h0.9v0.9h-0.9zM359.0 57.2h0.9v0.9h-0.9zM359.2 55.1h0.9v0.9h-0.9zM354.9 50.6h0.9v0.9h-0.9zM351.7 64.0h0.9v0.9h-0.9zM357.1 45.0h0.9v0.9h-0.9zM356.2 47.6h0.9v0.9h-0.9zM348.6 35.7h0.9v0.9h-0.9zM349.8 53.8h0.9v0.9h-0.9zM361.5 36.8h0.9v0.9h-0.9zM358.4 34.3h0.9v0.9h-0.9zM354.9 33.3h0.9v0.9h-0.9zM358.2 37.8h0.9v0.9h-0.9zM360.8 53.0h0.9v0.9h-0.9zM351.8 41.1h0.9v0.9h-0.9zM356.7 69.5h0.9v0.9h-0.9zM352.0 45.6h0.9v0.9h-0.9zM358.5 53.7h0.9v0.9h-0.9zM355.9 55.6h0.9v0.9h-0.9zM359.2 33.3h0.9v0.9h-0.9zM354.3 57.7h0.9v0.9h-0.9zM349.8 50.6h0.9v0.9h-0.9zM353.5 35.0h0.9v0.9h-0.9zM360.0 35.7h0.9v0.9h-0.9zM351.7 51.6h0.9v0.9h-0.9zM353.0 48.3h0.9v0.9h-0.9zM348.1 48.0h0.9v0.9h-0.9zM350.4 58.0h0.9v0.9h-0.9zM355.3 54.1h0.9v0.9h-0.9zM349.7 39.9h0.9v0.9h-0.9zM351.5 62.5h0.9v0.9h-0.9zM355.5 33.5h0.9v0.9h-0.9zM359.4 43.9h0.9v0.9h-0.9zM360.0 42.7h0.9v0.9h-0.9zM351.3 50.7h0.9v0.9h-0.9zM354.7 53.8h0.9v0.9h-0.9zM353.1 48.4h0.9v0.9h-0.9zM350.8 47.1h0.9v0.9h-0.9zM360.0 57.1h0.9v0.9h-0.9zM360.2 40.7h0.9v0.9h-0.9zM354.8 39.1h0.9v0.9h-0.9zM357.4 55.9h0.9v0.9h-0.9zM358.0 33.9h0.9v0.9h-0.9zM355.3 41.5h0.9v0.9h-0.9zM346.9 43.6h0.9v0.9h-0.9zM352.4 36.1h0.9v0.9h-0.9zM360.3 48.7h0.9v0.9h-0.9zM353.9 48.1h0.9v0.9h-0.9zM351.9 70.4h0.9v0.9h-0.9z" fill="#EAF58A"/><path d="M357.3 65.8h0.9v0.9h-0.9zM361.1 49.6h0.9v0.9h-0.9zM357.3 61.7h0.9v0.9h-0.9zM348.6 61.2h0.9v0.9h-0.9zM347.6 42.2h0.9v0.9h-0.9zM352.4 42.2h0.9v0.9h-0.9zM358.5 64.0h0.9v0.9h-0.9zM354.5 69.7h0.9v0.9h-0.9zM352.0 38.0h0.9v0.9h-0.9zM353.7 43.0h0.9v0.9h-0.9zM350.9 51.5h0.9v0.9h-0.9zM349.6 43.9h0.9v0.9h-0.9zM352.8 32.2h0.9v0.9h-0.9zM354.9 41.4h0.9v0.9h-0.9zM351.7 50.1h0.9v0.9h-0.9zM356.1 55.3h0.9v0.9h-0.9zM357.0 48.2h0.9v0.9h-0.9zM349.5 68.5h0.9v0.9h-0.9zM356.2 37.9h0.9v0.9h-0.9zM355.8 60.2h0.9v0.9h-0.9zM356.8 64.4h0.9v0.9h-0.9zM357.8 38.2h0.9v0.9h-0.9zM347.2 38.3h0.9v0.9h-0.9zM348.5 35.9h0.9v0.9h-0.9zM346.8 50.7h0.9v0.9h-0.9z" fill="#D9CCB2"/><path d="M353.7 50.1h0.9v0.9h-0.9zM349.7 36.7h0.9v0.9h-0.9zM358.1 50.3h0.9v0.9h-0.9zM351.0 48.6h0.9v0.9h-0.9zM361.7 37.6h0.9v0.9h-0.9z" fill="#3DA034"/><path d="M351.5 67.0h0.9v0.9h-0.9zM354.5 59.5h0.9v0.9h-0.9zM350.8 40.5h0.9v0.9h-0.9zM360.9 34.1h0.9v0.9h-0.9zM351.2 50.0h0.9v0.9h-0.9zM355.1 65.8h0.9v0.9h-0.9zM350.6 50.3h0.9v0.9h-0.9zM356.8 54.2h0.9v0.9h-0.9z" fill="#73E373"/></g><polygon points="358.5,32.0 362.0,32.5 362.8,37.0 361.5,40.0 359.0,37.0" fill="#555560" fill-opacity="0.75" filter="url(#bl)"/><g><path d="M360.8 37.6h0.9v0.9h-0.9zM360.7 33.9h0.9v0.9h-0.9zM361.1 32.9h0.9v0.9h-0.9zM360.7 35.8h0.9v0.9h-0.9zM358.5 33.2h0.9v0.9h-0.9zM358.5 35.5h0.9v0.9h-0.9zM359.4 32.0h0.9v0.9h-0.9zM359.9 35.2h0.9v0.9h-0.9zM358.9 35.0h0.9v0.9h-0.9zM361.0 32.4h0.9v0.9h-0.9zM361.4 34.7h0.9v0.9h-0.9zM359.3 37.0h0.9v0.9h-0.9zM360.9 37.3h0.9v0.9h-0.9z" fill="#55555A"/></g><polygon points="309.8,90.2 309.6,91.8 309.2,93.1 308.4,94.0 307.6,94.3 306.8,94.0 306.0,93.1 305.6,91.8 305.4,90.2 305.6,88.6 306.0,87.3 306.8,86.4 307.6,86.1 308.4,86.4 309.2,87.3 309.6,88.6" fill="#58585C" fill-opacity="0.95" filter="url(#bl)"/><g></g><polygon points="317.5,104.5 318.5,104.5 318.5,109.0 320.3,112.0 320.0,117.5 317.5,117.9 315.2,115.0 315.8,110.0" fill="#D8C4EE" fill-opacity="0.85" filter="url(#bl)"/><g><path d="M315.3 112.4h0.9v0.9h-0.9zM317.3 106.1h0.9v0.9h-0.9zM316.8 108.0h0.9v0.9h-0.9zM316.3 109.9h0.9v0.9h-0.9zM319.4 112.9h0.9v0.9h-0.9zM318.3 109.7h0.9v0.9h-0.9zM318.7 114.7h0.9v0.9h-0.9zM319.3 111.8h0.9v0.9h-0.9zM317.5 104.8h0.9v0.9h-0.9zM319.2 112.6h0.9v0.9h-0.9zM317.1 114.3h0.9v0.9h-0.9z" fill="#D6BDF2"/><path d="M318.3 115.2h0.9v0.9h-0.9z" fill="#EAF58A"/></g><polygon points="337.0,100.0 343.0,100.5 346.7,104.0 346.0,112.0 342.0,118.0 338.0,119.1 334.0,115.0 332.7,108.0 334.0,102.0" fill="#F2C2C4" fill-opacity="0.85" filter="url(#bl)"/><g><path d="M338.8 101.5h0.9v0.9h-0.9zM334.1 103.1h0.9v0.9h-0.9zM340.8 103.9h0.9v0.9h-0.9zM338.8 115.2h0.9v0.9h-0.9zM344.2 104.0h0.9v0.9h-0.9zM340.3 105.0h0.9v0.9h-0.9zM343.0 102.6h0.9v0.9h-0.9zM338.1 109.4h0.9v0.9h-0.9zM344.9 111.2h0.9v0.9h-0.9zM338.2 112.2h0.9v0.9h-0.9zM339.1 115.4h0.9v0.9h-0.9zM342.0 111.5h0.9v0.9h-0.9zM340.8 109.3h0.9v0.9h-0.9zM340.6 105.2h0.9v0.9h-0.9zM339.6 112.9h0.9v0.9h-0.9zM344.1 109.1h0.9v0.9h-0.9zM339.2 114.6h0.9v0.9h-0.9zM335.9 104.6h0.9v0.9h-0.9zM339.8 104.6h0.9v0.9h-0.9zM343.0 100.9h0.9v0.9h-0.9z" fill="#AFCDE6"/><path d="M341.0 108.4h0.9v0.9h-0.9zM341.5 113.0h0.9v0.9h-0.9zM341.1 104.5h0.9v0.9h-0.9zM337.7 114.9h0.9v0.9h-0.9zM344.0 102.0h0.9v0.9h-0.9zM338.1 101.4h0.9v0.9h-0.9zM334.3 106.5h0.9v0.9h-0.9zM337.3 109.9h0.9v0.9h-0.9zM336.7 104.3h0.9v0.9h-0.9zM341.8 103.9h0.9v0.9h-0.9zM334.4 105.9h0.9v0.9h-0.9zM334.2 115.2h0.9v0.9h-0.9zM338.7 107.5h0.9v0.9h-0.9zM345.3 105.9h0.9v0.9h-0.9zM337.3 101.4h0.9v0.9h-0.9zM342.4 100.4h0.9v0.9h-0.9zM338.4 115.3h0.9v0.9h-0.9zM345.1 110.6h0.9v0.9h-0.9zM341.4 115.7h0.9v0.9h-0.9zM343.3 110.4h0.9v0.9h-0.9zM338.3 110.8h0.9v0.9h-0.9zM334.8 106.3h0.9v0.9h-0.9zM336.5 115.9h0.9v0.9h-0.9zM343.2 101.4h0.9v0.9h-0.9zM333.1 104.1h0.9v0.9h-0.9zM342.6 115.2h0.9v0.9h-0.9zM343.1 102.8h0.9v0.9h-0.9zM334.4 106.2h0.9v0.9h-0.9zM339.2 107.9h0.9v0.9h-0.9zM334.4 101.8h0.9v0.9h-0.9zM342.7 107.4h0.9v0.9h-0.9zM342.3 106.7h0.9v0.9h-0.9zM345.0 104.8h0.9v0.9h-0.9zM339.0 116.1h0.9v0.9h-0.9zM338.7 113.6h0.9v0.9h-0.9zM338.0 112.6h0.9v0.9h-0.9zM342.8 103.1h0.9v0.9h-0.9zM338.6 100.6h0.9v0.9h-0.9zM337.6 117.1h0.9v0.9h-0.9zM343.2 112.7h0.9v0.9h-0.9zM333.6 104.3h0.9v0.9h-0.9zM334.8 113.7h0.9v0.9h-0.9zM336.3 105.1h0.9v0.9h-0.9zM334.2 108.5h0.9v0.9h-0.9zM341.3 107.4h0.9v0.9h-0.9zM342.2 104.3h0.9v0.9h-0.9zM335.2 114.6h0.9v0.9h-0.9zM337.2 111.8h0.9v0.9h-0.9zM335.5 107.0h0.9v0.9h-0.9zM333.6 111.9h0.9v0.9h-0.9zM333.9 105.9h0.9v0.9h-0.9zM338.7 118.3h0.9v0.9h-0.9zM338.0 110.4h0.9v0.9h-0.9zM335.3 101.0h0.9v0.9h-0.9zM338.3 117.5h0.9v0.9h-0.9zM332.7 105.9h0.9v0.9h-0.9zM344.0 111.0h0.9v0.9h-0.9zM343.6 112.7h0.9v0.9h-0.9zM344.8 103.1h0.9v0.9h-0.9zM341.9 111.3h0.9v0.9h-0.9zM339.6 117.2h0.9v0.9h-0.9z" fill="#F4A6A8"/></g><text x="378.40" y="12.20" font-size="14" text-anchor="start" fill="#000">c</text><text x="474.10" y="13.60" font-size="8" text-anchor="middle" font-weight="bold" fill="#000" stroke="#000" stroke-width="0.22">HER2+</text><text x="433.80" y="25.20" font-size="6" text-anchor="middle" font-weight="bold" fill="#000" stroke="#000" stroke-width="0.22">High</text><text x="514.20" y="25.20" font-size="6" text-anchor="middle" font-weight="bold" fill="#000" stroke="#000" stroke-width="0.22">Low</text><line x1="394.70" y1="27.00" x2="394.70" y2="123.50" stroke="#333" stroke-width="0.9"/><line x1="394.70" y1="123.50" x2="472.50" y2="123.50" stroke="#333" stroke-width="0.9"/><line x1="405.50" y1="123.50" x2="405.50" y2="125.20" stroke="#333" stroke-width="0.7"/><text x="405.50" y="131.20" font-size="5.6" text-anchor="middle" fill="#1a1a1a" stroke="#1a1a1a" stroke-width="0.22">−10</text><line x1="421.63" y1="123.50" x2="421.63" y2="125.20" stroke="#333" stroke-width="0.7"/><text x="421.63" y="131.20" font-size="5.6" text-anchor="middle" fill="#1a1a1a" stroke="#1a1a1a" stroke-width="0.22">−5</text><line x1="437.75" y1="123.50" x2="437.75" y2="125.20" stroke="#333" stroke-width="0.7"/><text x="437.75" y="131.20" font-size="5.6" text-anchor="middle" fill="#1a1a1a" stroke="#1a1a1a" stroke-width="0.22">0</text><line x1="453.88" y1="123.50" x2="453.88" y2="125.20" stroke="#333" stroke-width="0.7"/><text x="453.88" y="131.20" font-size="5.6" text-anchor="middle" fill="#1a1a1a" stroke="#1a1a1a" stroke-width="0.22">5</text><line x1="470.00" y1="123.50" x2="470.00" y2="125.20" stroke="#333" stroke-width="0.7"/><text x="470.00" y="131.20" font-size="5.6" text-anchor="middle" fill="#1a1a1a" stroke="#1a1a1a" stroke-width="0.22">10</text><line x1="393.00" y1="36.40" x2="394.70" y2="36.40" stroke="#333" stroke-width="0.7"/><text x="391.80" y="38.40" font-size="5.6" text-anchor="end" fill="#1a1a1a" stroke="#1a1a1a" stroke-width="0.22">5</text><line x1="393.00" y1="62.90" x2="394.70" y2="62.90" stroke="#333" stroke-width="0.7"/><text x="391.80" y="64.90" font-size="5.6" text-anchor="end" fill="#1a1a1a" stroke="#1a1a1a" stroke-width="0.22">0</text><line x1="393.00" y1="89.40" x2="394.70" y2="89.40" stroke="#333" stroke-width="0.7"/><text x="391.80" y="91.40" font-size="5.6" text-anchor="end" fill="#1a1a1a" stroke="#1a1a1a" stroke-width="0.22">−5</text><line x1="393.00" y1="115.90" x2="394.70" y2="115.90" stroke="#333" stroke-width="0.7"/><text x="391.80" y="117.90" font-size="5.6" text-anchor="end" fill="#1a1a1a" stroke="#1a1a1a" stroke-width="0.22">−10</text><line x1="475.10" y1="123.50" x2="552.90" y2="123.50" stroke="#333" stroke-width="0.9"/><line x1="485.90" y1="123.50" x2="485.90" y2="125.20" stroke="#333" stroke-width="0.7"/><text x="485.90" y="131.20" font-size="5.6" text-anchor="middle" fill="#1a1a1a" stroke="#1a1a1a" stroke-width="0.22">−10</text><line x1="502.02" y1="123.50" x2="502.02" y2="125.20" stroke="#333" stroke-width="0.7"/><text x="502.02" y="131.20" font-size="5.6" text-anchor="middle" fill="#1a1a1a" stroke="#1a1a1a" stroke-width="0.22">−5</text><line x1="518.15" y1="123.50" x2="518.15" y2="125.20" stroke="#333" stroke-width="0.7"/><text x="518.15" y="131.20" font-size="5.6" text-anchor="middle" fill="#1a1a1a" stroke="#1a1a1a" stroke-width="0.22">0</text><line x1="534.27" y1="123.50" x2="534.27" y2="125.20" stroke="#333" stroke-width="0.7"/><text x="534.27" y="131.20" font-size="5.6" text-anchor="middle" fill="#1a1a1a" stroke="#1a1a1a" stroke-width="0.22">5</text><line x1="550.40" y1="123.50" x2="550.40" y2="125.20" stroke="#333" stroke-width="0.7"/><text x="550.40" y="131.20" font-size="5.6" text-anchor="middle" fill="#1a1a1a" stroke="#1a1a1a" stroke-width="0.22">10</text><text x="474.10" y="139.00" font-size="6.7" text-anchor="middle" fill="#000" stroke="#000" stroke-width="0.12">UMAP_1</text><text x="378.70" y="75.40" font-size="6.6" text-anchor="middle" fill="#000" stroke="#000" stroke-width="0.1" transform="rotate(-90 378.70000000000005 75.4)">UMAP_2</text><polygon points="398.4,47.6 401.3,40.3 405.0,39.2 410.0,39.9 411.5,46.1 410.8,52.0 409.3,57.1 410.0,60.7 408.6,65.8 406.4,72.4 403.5,72.8 401.3,67.3 399.1,58.5 398.0,52.0" fill="#D8A088" fill-opacity="0.5" filter="url(#bl)"/><g><path d="M401.1 64.8h0.9v0.9h-0.9zM399.5 52.4h0.9v0.9h-0.9zM402.5 44.0h0.9v0.9h-0.9zM406.2 42.8h0.9v0.9h-0.9zM404.0 56.3h0.9v0.9h-0.9zM401.9 60.9h0.9v0.9h-0.9zM405.2 68.4h0.9v0.9h-0.9zM398.6 47.6h0.9v0.9h-0.9zM407.6 44.8h0.9v0.9h-0.9zM408.7 41.8h0.9v0.9h-0.9zM408.3 47.7h0.9v0.9h-0.9zM406.1 61.5h0.9v0.9h-0.9zM404.5 46.4h0.9v0.9h-0.9zM409.1 43.2h0.9v0.9h-0.9zM406.5 47.6h0.9v0.9h-0.9zM399.8 57.9h0.9v0.9h-0.9zM406.3 56.3h0.9v0.9h-0.9zM407.9 51.2h0.9v0.9h-0.9zM406.0 55.0h0.9v0.9h-0.9zM408.4 54.2h0.9v0.9h-0.9zM401.0 53.8h0.9v0.9h-0.9zM403.7 57.6h0.9v0.9h-0.9zM401.6 54.9h0.9v0.9h-0.9zM407.7 54.8h0.9v0.9h-0.9zM401.4 63.7h0.9v0.9h-0.9zM402.5 53.6h0.9v0.9h-0.9zM403.0 72.0h0.9v0.9h-0.9zM401.9 51.4h0.9v0.9h-0.9zM402.3 65.9h0.9v0.9h-0.9zM399.7 57.0h0.9v0.9h-0.9zM405.4 39.8h0.9v0.9h-0.9zM408.5 51.5h0.9v0.9h-0.9zM406.6 67.6h0.9v0.9h-0.9zM402.1 57.4h0.9v0.9h-0.9zM401.3 47.8h0.9v0.9h-0.9zM410.3 51.3h0.9v0.9h-0.9zM406.6 43.4h0.9v0.9h-0.9zM404.8 46.0h0.9v0.9h-0.9zM403.9 53.5h0.9v0.9h-0.9zM401.1 54.5h0.9v0.9h-0.9zM404.5 51.0h0.9v0.9h-0.9zM409.1 48.6h0.9v0.9h-0.9zM405.6 70.4h0.9v0.9h-0.9zM398.1 53.7h0.9v0.9h-0.9zM398.6 50.7h0.9v0.9h-0.9zM408.7 50.5h0.9v0.9h-0.9zM398.1 48.2h0.9v0.9h-0.9zM404.5 64.8h0.9v0.9h-0.9zM407.0 52.6h0.9v0.9h-0.9zM407.6 57.8h0.9v0.9h-0.9zM406.5 52.8h0.9v0.9h-0.9zM398.7 51.4h0.9v0.9h-0.9zM399.4 48.4h0.9v0.9h-0.9zM402.1 68.5h0.9v0.9h-0.9zM407.0 46.2h0.9v0.9h-0.9zM400.1 44.5h0.9v0.9h-0.9zM401.7 51.5h0.9v0.9h-0.9zM402.1 50.9h0.9v0.9h-0.9zM407.5 48.8h0.9v0.9h-0.9zM404.3 71.1h0.9v0.9h-0.9zM405.6 59.1h0.9v0.9h-0.9zM408.9 62.1h0.9v0.9h-0.9zM407.6 50.9h0.9v0.9h-0.9zM401.0 60.4h0.9v0.9h-0.9zM402.4 42.8h0.9v0.9h-0.9zM408.8 60.7h0.9v0.9h-0.9zM409.5 41.8h0.9v0.9h-0.9zM401.3 59.5h0.9v0.9h-0.9zM406.5 42.4h0.9v0.9h-0.9zM405.2 65.2h0.9v0.9h-0.9zM410.0 47.6h0.9v0.9h-0.9zM404.0 43.7h0.9v0.9h-0.9zM409.2 40.8h0.9v0.9h-0.9zM401.8 66.5h0.9v0.9h-0.9zM405.7 56.1h0.9v0.9h-0.9zM408.0 50.6h0.9v0.9h-0.9zM402.0 64.0h0.9v0.9h-0.9zM403.9 71.7h0.9v0.9h-0.9zM403.4 49.7h0.9v0.9h-0.9zM406.3 69.1h0.9v0.9h-0.9zM408.7 46.0h0.9v0.9h-0.9zM402.0 45.0h0.9v0.9h-0.9zM404.0 60.5h0.9v0.9h-0.9zM404.7 54.6h0.9v0.9h-0.9zM406.2 45.4h0.9v0.9h-0.9zM408.2 56.1h0.9v0.9h-0.9zM409.4 52.9h0.9v0.9h-0.9zM405.4 43.8h0.9v0.9h-0.9zM404.5 56.7h0.9v0.9h-0.9zM405.1 47.2h0.9v0.9h-0.9zM402.7 42.1h0.9v0.9h-0.9zM410.4 46.9h0.9v0.9h-0.9zM408.9 39.8h0.9v0.9h-0.9zM407.0 57.7h0.9v0.9h-0.9zM403.2 47.0h0.9v0.9h-0.9zM403.1 45.9h0.9v0.9h-0.9zM408.3 59.2h0.9v0.9h-0.9zM403.8 59.8h0.9v0.9h-0.9zM408.6 54.8h0.9v0.9h-0.9zM403.5 49.2h0.9v0.9h-0.9zM404.6 59.0h0.9v0.9h-0.9zM399.2 54.8h0.9v0.9h-0.9zM409.0 40.3h0.9v0.9h-0.9zM404.2 67.0h0.9v0.9h-0.9zM403.8 60.1h0.9v0.9h-0.9zM403.7 41.2h0.9v0.9h-0.9zM407.0 54.4h0.9v0.9h-0.9zM398.7 56.1h0.9v0.9h-0.9zM406.8 49.6h0.9v0.9h-0.9zM409.0 55.8h0.9v0.9h-0.9zM405.8 41.6h0.9v0.9h-0.9zM402.5 40.0h0.9v0.9h-0.9zM403.1 40.9h0.9v0.9h-0.9z" fill="#DB5A1C"/><path d="M401.1 41.3h0.9v0.9h-0.9zM401.6 49.2h0.9v0.9h-0.9zM406.9 52.1h0.9v0.9h-0.9zM407.2 51.7h0.9v0.9h-0.9zM404.2 71.5h0.9v0.9h-0.9zM399.1 51.3h0.9v0.9h-0.9zM403.8 69.3h0.9v0.9h-0.9zM399.6 52.1h0.9v0.9h-0.9zM408.1 48.2h0.9v0.9h-0.9zM400.0 44.8h0.9v0.9h-0.9zM406.8 68.4h0.9v0.9h-0.9zM400.2 62.6h0.9v0.9h-0.9zM401.3 65.7h0.9v0.9h-0.9zM405.3 39.6h0.9v0.9h-0.9zM399.6 56.6h0.9v0.9h-0.9zM399.5 48.8h0.9v0.9h-0.9zM403.6 41.3h0.9v0.9h-0.9zM404.1 62.7h0.9v0.9h-0.9zM401.8 60.0h0.9v0.9h-0.9zM402.4 46.6h0.9v0.9h-0.9zM408.6 53.9h0.9v0.9h-0.9zM404.0 62.9h0.9v0.9h-0.9zM401.8 63.8h0.9v0.9h-0.9zM400.0 42.7h0.9v0.9h-0.9zM402.0 51.3h0.9v0.9h-0.9zM405.9 57.5h0.9v0.9h-0.9zM402.7 46.7h0.9v0.9h-0.9zM399.0 48.6h0.9v0.9h-0.9zM404.4 59.4h0.9v0.9h-0.9zM405.6 68.4h0.9v0.9h-0.9zM403.2 66.1h0.9v0.9h-0.9zM401.7 55.9h0.9v0.9h-0.9zM406.1 65.9h0.9v0.9h-0.9zM403.9 41.1h0.9v0.9h-0.9zM404.8 56.2h0.9v0.9h-0.9zM402.1 49.2h0.9v0.9h-0.9zM405.7 48.1h0.9v0.9h-0.9zM408.8 53.1h0.9v0.9h-0.9zM406.2 52.9h0.9v0.9h-0.9zM401.1 63.8h0.9v0.9h-0.9zM400.5 56.9h0.9v0.9h-0.9zM407.7 59.7h0.9v0.9h-0.9zM402.4 67.5h0.9v0.9h-0.9zM404.1 55.0h0.9v0.9h-0.9zM402.3 39.7h0.9v0.9h-0.9zM403.5 47.0h0.9v0.9h-0.9zM406.6 68.1h0.9v0.9h-0.9zM407.6 46.3h0.9v0.9h-0.9zM402.0 64.9h0.9v0.9h-0.9zM407.1 53.5h0.9v0.9h-0.9zM404.5 42.7h0.9v0.9h-0.9zM398.5 52.1h0.9v0.9h-0.9zM407.2 47.7h0.9v0.9h-0.9zM406.3 48.1h0.9v0.9h-0.9zM403.0 66.9h0.9v0.9h-0.9zM407.4 49.2h0.9v0.9h-0.9zM404.9 58.7h0.9v0.9h-0.9zM402.3 67.1h0.9v0.9h-0.9zM401.6 64.2h0.9v0.9h-0.9zM404.8 46.5h0.9v0.9h-0.9zM408.3 50.8h0.9v0.9h-0.9zM399.5 58.0h0.9v0.9h-0.9z" fill="#ffffff"/><path d="M401.8 64.4h0.9v0.9h-0.9zM405.0 39.3h0.9v0.9h-0.9zM397.8 52.9h0.9v0.9h-0.9zM400.4 47.0h0.9v0.9h-0.9zM400.5 50.1h0.9v0.9h-0.9zM402.3 59.5h0.9v0.9h-0.9zM400.7 64.4h0.9v0.9h-0.9zM406.8 69.5h0.9v0.9h-0.9zM400.4 43.5h0.9v0.9h-0.9zM406.5 51.4h0.9v0.9h-0.9zM401.2 54.5h0.9v0.9h-0.9zM402.6 40.4h0.9v0.9h-0.9zM402.4 58.8h0.9v0.9h-0.9zM403.7 39.5h0.9v0.9h-0.9zM399.4 53.4h0.9v0.9h-0.9zM400.8 66.6h0.9v0.9h-0.9zM400.6 42.2h0.9v0.9h-0.9zM407.7 51.1h0.9v0.9h-0.9zM402.8 55.0h0.9v0.9h-0.9zM408.9 58.5h0.9v0.9h-0.9zM406.3 59.9h0.9v0.9h-0.9zM405.4 41.1h0.9v0.9h-0.9zM406.0 51.5h0.9v0.9h-0.9zM404.3 71.5h0.9v0.9h-0.9zM402.7 68.8h0.9v0.9h-0.9zM399.4 49.2h0.9v0.9h-0.9zM398.3 47.9h0.9v0.9h-0.9zM400.9 57.7h0.9v0.9h-0.9zM400.1 58.0h0.9v0.9h-0.9zM405.7 63.7h0.9v0.9h-0.9zM398.6 49.7h0.9v0.9h-0.9zM405.5 46.9h0.9v0.9h-0.9zM399.1 45.8h0.9v0.9h-0.9zM406.9 50.0h0.9v0.9h-0.9zM402.2 67.4h0.9v0.9h-0.9zM405.1 64.0h0.9v0.9h-0.9zM406.5 49.3h0.9v0.9h-0.9zM408.9 53.4h0.9v0.9h-0.9zM406.0 58.9h0.9v0.9h-0.9zM400.0 46.7h0.9v0.9h-0.9zM398.5 50.9h0.9v0.9h-0.9zM400.3 46.7h0.9v0.9h-0.9zM406.9 46.8h0.9v0.9h-0.9zM398.9 57.3h0.9v0.9h-0.9zM399.1 54.0h0.9v0.9h-0.9zM405.1 48.3h0.9v0.9h-0.9zM403.5 47.3h0.9v0.9h-0.9zM409.4 50.6h0.9v0.9h-0.9z" fill="#D2B4F0"/><path d="M409.6 39.7h0.9v0.9h-0.9zM403.8 62.8h0.9v0.9h-0.9zM402.6 51.2h0.9v0.9h-0.9zM402.4 51.8h0.9v0.9h-0.9zM400.2 49.1h0.9v0.9h-0.9zM399.4 58.3h0.9v0.9h-0.9zM404.0 53.5h0.9v0.9h-0.9zM404.5 46.7h0.9v0.9h-0.9zM409.9 52.5h0.9v0.9h-0.9zM401.8 44.0h0.9v0.9h-0.9zM403.0 61.4h0.9v0.9h-0.9zM400.0 62.3h0.9v0.9h-0.9zM400.0 43.2h0.9v0.9h-0.9zM398.6 50.4h0.9v0.9h-0.9zM406.2 70.6h0.9v0.9h-0.9zM409.7 53.7h0.9v0.9h-0.9zM406.5 47.1h0.9v0.9h-0.9zM406.1 46.0h0.9v0.9h-0.9zM406.7 60.6h0.9v0.9h-0.9zM403.1 65.1h0.9v0.9h-0.9zM402.2 60.8h0.9v0.9h-0.9zM401.6 53.2h0.9v0.9h-0.9zM407.0 68.5h0.9v0.9h-0.9zM407.2 63.0h0.9v0.9h-0.9zM409.8 49.2h0.9v0.9h-0.9zM408.0 42.6h0.9v0.9h-0.9zM401.0 50.5h0.9v0.9h-0.9zM407.5 48.1h0.9v0.9h-0.9zM399.6 51.4h0.9v0.9h-0.9zM409.5 46.5h0.9v0.9h-0.9zM402.6 61.0h0.9v0.9h-0.9zM405.7 66.6h0.9v0.9h-0.9zM401.8 48.2h0.9v0.9h-0.9zM403.0 44.9h0.9v0.9h-0.9zM400.5 48.8h0.9v0.9h-0.9zM399.6 49.1h0.9v0.9h-0.9zM407.5 41.7h0.9v0.9h-0.9zM401.8 66.2h0.9v0.9h-0.9zM401.2 47.4h0.9v0.9h-0.9zM403.2 58.0h0.9v0.9h-0.9zM404.3 61.4h0.9v0.9h-0.9zM403.2 56.3h0.9v0.9h-0.9zM401.3 52.2h0.9v0.9h-0.9zM402.5 61.9h0.9v0.9h-0.9zM405.5 64.8h0.9v0.9h-0.9zM405.3 56.6h0.9v0.9h-0.9zM404.5 45.7h0.9v0.9h-0.9z" fill="#7F78CF"/><path d="M406.3 51.2h0.9v0.9h-0.9zM409.0 57.5h0.9v0.9h-0.9zM409.7 48.8h0.9v0.9h-0.9zM401.5 57.5h0.9v0.9h-0.9zM409.4 41.7h0.9v0.9h-0.9zM399.1 52.1h0.9v0.9h-0.9zM408.6 43.4h0.9v0.9h-0.9zM403.3 63.6h0.9v0.9h-0.9zM399.4 59.3h0.9v0.9h-0.9zM403.2 46.2h0.9v0.9h-0.9zM402.1 56.1h0.9v0.9h-0.9zM406.7 62.0h0.9v0.9h-0.9zM400.6 43.1h0.9v0.9h-0.9zM407.6 53.4h0.9v0.9h-0.9zM401.5 45.1h0.9v0.9h-0.9zM402.7 48.0h0.9v0.9h-0.9zM403.0 55.7h0.9v0.9h-0.9zM405.6 50.8h0.9v0.9h-0.9zM404.4 50.5h0.9v0.9h-0.9zM404.8 48.3h0.9v0.9h-0.9zM400.8 47.6h0.9v0.9h-0.9zM403.7 55.6h0.9v0.9h-0.9zM407.6 44.7h0.9v0.9h-0.9zM406.6 42.6h0.9v0.9h-0.9zM404.5 48.2h0.9v0.9h-0.9zM407.9 64.2h0.9v0.9h-0.9zM398.8 57.1h0.9v0.9h-0.9zM410.2 45.4h0.9v0.9h-0.9zM402.8 63.7h0.9v0.9h-0.9zM404.2 45.0h0.9v0.9h-0.9zM405.1 42.4h0.9v0.9h-0.9zM402.0 50.1h0.9v0.9h-0.9zM399.1 53.4h0.9v0.9h-0.9zM408.7 42.8h0.9v0.9h-0.9zM406.7 43.9h0.9v0.9h-0.9zM406.8 49.9h0.9v0.9h-0.9zM404.4 67.5h0.9v0.9h-0.9zM398.0 51.2h0.9v0.9h-0.9zM408.4 52.5h0.9v0.9h-0.9zM401.4 48.3h0.9v0.9h-0.9zM403.2 53.1h0.9v0.9h-0.9zM402.3 39.7h0.9v0.9h-0.9zM409.0 53.3h0.9v0.9h-0.9zM399.9 62.5h0.9v0.9h-0.9zM406.0 48.5h0.9v0.9h-0.9zM401.3 54.4h0.9v0.9h-0.9zM399.9 56.6h0.9v0.9h-0.9zM403.3 68.2h0.9v0.9h-0.9zM407.8 44.9h0.9v0.9h-0.9zM407.8 51.2h0.9v0.9h-0.9zM407.1 62.0h0.9v0.9h-0.9zM409.5 39.7h0.9v0.9h-0.9zM406.6 70.0h0.9v0.9h-0.9zM404.3 59.5h0.9v0.9h-0.9zM400.1 63.6h0.9v0.9h-0.9zM405.0 67.2h0.9v0.9h-0.9zM402.5 58.5h0.9v0.9h-0.9zM408.0 56.9h0.9v0.9h-0.9zM400.9 57.9h0.9v0.9h-0.9zM408.9 42.1h0.9v0.9h-0.9zM407.1 42.0h0.9v0.9h-0.9zM406.1 59.2h0.9v0.9h-0.9zM409.4 45.3h0.9v0.9h-0.9zM398.6 50.1h0.9v0.9h-0.9zM401.6 61.2h0.9v0.9h-0.9zM405.6 44.8h0.9v0.9h-0.9zM402.4 46.4h0.9v0.9h-0.9zM405.3 46.4h0.9v0.9h-0.9zM398.7 52.9h0.9v0.9h-0.9zM407.7 57.3h0.9v0.9h-0.9zM407.6 60.1h0.9v0.9h-0.9zM403.6 61.5h0.9v0.9h-0.9zM404.0 55.8h0.9v0.9h-0.9zM406.2 50.4h0.9v0.9h-0.9zM405.4 42.1h0.9v0.9h-0.9zM402.4 69.8h0.9v0.9h-0.9zM408.5 53.0h0.9v0.9h-0.9zM410.4 46.9h0.9v0.9h-0.9zM409.1 39.9h0.9v0.9h-0.9zM404.1 49.2h0.9v0.9h-0.9zM404.9 71.3h0.9v0.9h-0.9zM409.3 51.0h0.9v0.9h-0.9zM408.2 64.6h0.9v0.9h-0.9zM403.6 40.3h0.9v0.9h-0.9zM410.4 50.8h0.9v0.9h-0.9zM408.5 63.9h0.9v0.9h-0.9zM401.6 50.8h0.9v0.9h-0.9zM406.4 45.1h0.9v0.9h-0.9zM402.5 54.3h0.9v0.9h-0.9zM400.4 61.7h0.9v0.9h-0.9zM402.1 39.6h0.9v0.9h-0.9zM402.5 40.0h0.9v0.9h-0.9zM404.6 48.8h0.9v0.9h-0.9zM402.0 66.5h0.9v0.9h-0.9zM404.8 72.0h0.9v0.9h-0.9zM405.7 56.5h0.9v0.9h-0.9zM405.7 52.9h0.9v0.9h-0.9zM400.4 48.1h0.9v0.9h-0.9zM401.8 65.3h0.9v0.9h-0.9zM398.8 47.0h0.9v0.9h-0.9zM400.4 56.0h0.9v0.9h-0.9zM402.5 69.5h0.9v0.9h-0.9zM403.5 55.1h0.9v0.9h-0.9zM402.8 42.8h0.9v0.9h-0.9zM405.9 42.6h0.9v0.9h-0.9zM403.5 68.9h0.9v0.9h-0.9zM410.7 47.2h0.9v0.9h-0.9zM401.6 62.9h0.9v0.9h-0.9zM404.4 58.0h0.9v0.9h-0.9z" fill="#EB6E25"/><path d="M401.8 42.2h0.9v0.9h-0.9zM404.8 61.3h0.9v0.9h-0.9zM400.5 53.0h0.9v0.9h-0.9zM400.9 48.1h0.9v0.9h-0.9zM406.4 67.3h0.9v0.9h-0.9zM408.0 52.6h0.9v0.9h-0.9zM398.7 48.1h0.9v0.9h-0.9zM405.0 44.2h0.9v0.9h-0.9zM400.6 52.8h0.9v0.9h-0.9zM408.8 40.0h0.9v0.9h-0.9zM407.1 68.1h0.9v0.9h-0.9zM405.3 66.5h0.9v0.9h-0.9zM410.7 47.2h0.9v0.9h-0.9zM399.8 61.5h0.9v0.9h-0.9zM398.4 46.4h0.9v0.9h-0.9zM401.5 61.4h0.9v0.9h-0.9zM406.0 51.8h0.9v0.9h-0.9zM406.6 63.1h0.9v0.9h-0.9zM402.9 64.0h0.9v0.9h-0.9zM398.5 53.8h0.9v0.9h-0.9zM402.2 42.4h0.9v0.9h-0.9zM406.2 50.1h0.9v0.9h-0.9zM404.2 53.9h0.9v0.9h-0.9zM400.2 50.0h0.9v0.9h-0.9zM408.3 53.1h0.9v0.9h-0.9zM403.2 61.4h0.9v0.9h-0.9zM409.0 61.5h0.9v0.9h-0.9zM401.2 47.2h0.9v0.9h-0.9zM400.8 40.3h0.9v0.9h-0.9zM409.4 47.5h0.9v0.9h-0.9zM402.8 52.9h0.9v0.9h-0.9zM403.9 61.0h0.9v0.9h-0.9zM406.8 49.1h0.9v0.9h-0.9zM407.3 58.9h0.9v0.9h-0.9zM409.8 43.2h0.9v0.9h-0.9zM404.0 40.8h0.9v0.9h-0.9zM406.3 50.9h0.9v0.9h-0.9zM404.2 63.4h0.9v0.9h-0.9zM406.6 48.9h0.9v0.9h-0.9zM406.4 43.9h0.9v0.9h-0.9zM406.1 54.6h0.9v0.9h-0.9zM404.5 49.2h0.9v0.9h-0.9zM407.8 65.5h0.9v0.9h-0.9zM406.1 45.5h0.9v0.9h-0.9zM409.1 45.5h0.9v0.9h-0.9zM407.0 58.4h0.9v0.9h-0.9zM405.7 57.8h0.9v0.9h-0.9zM405.9 45.0h0.9v0.9h-0.9zM402.5 40.9h0.9v0.9h-0.9zM408.8 45.6h0.9v0.9h-0.9zM409.8 52.0h0.9v0.9h-0.9zM407.8 62.8h0.9v0.9h-0.9z" fill="#52B589"/><path d="M401.8 49.6h0.9v0.9h-0.9zM406.1 53.6h0.9v0.9h-0.9zM402.0 57.1h0.9v0.9h-0.9zM406.2 44.7h0.9v0.9h-0.9zM402.8 59.1h0.9v0.9h-0.9zM406.6 51.1h0.9v0.9h-0.9zM406.2 64.2h0.9v0.9h-0.9zM403.2 59.2h0.9v0.9h-0.9zM399.0 57.5h0.9v0.9h-0.9zM399.6 57.8h0.9v0.9h-0.9zM401.6 47.3h0.9v0.9h-0.9zM398.6 51.1h0.9v0.9h-0.9zM405.2 70.9h0.9v0.9h-0.9zM408.6 61.5h0.9v0.9h-0.9zM403.9 56.6h0.9v0.9h-0.9zM402.6 50.9h0.9v0.9h-0.9zM406.6 46.5h0.9v0.9h-0.9zM403.9 51.1h0.9v0.9h-0.9zM407.4 45.8h0.9v0.9h-0.9zM408.2 50.7h0.9v0.9h-0.9z" fill="#EEB77A"/></g><polygon points="404.0,39.2 410.0,39.9 411.5,46.1 410.8,52.0 407.0,50.0 404.5,44.0" fill="#D0B8F0" fill-opacity="0.6" filter="url(#bl)"/><g><path d="M408.6 44.6h0.9v0.9h-0.9zM408.3 42.5h0.9v0.9h-0.9zM408.8 49.9h0.9v0.9h-0.9zM409.7 51.2h0.9v0.9h-0.9zM407.0 46.3h0.9v0.9h-0.9zM407.8 44.5h0.9v0.9h-0.9zM410.1 48.1h0.9v0.9h-0.9zM404.2 41.5h0.9v0.9h-0.9zM404.9 42.2h0.9v0.9h-0.9zM410.0 43.8h0.9v0.9h-0.9zM406.9 48.1h0.9v0.9h-0.9zM403.9 41.8h0.9v0.9h-0.9zM409.4 40.1h0.9v0.9h-0.9zM408.7 49.6h0.9v0.9h-0.9zM408.3 47.5h0.9v0.9h-0.9zM405.3 44.0h0.9v0.9h-0.9zM407.4 46.8h0.9v0.9h-0.9zM410.8 45.2h0.9v0.9h-0.9zM407.8 45.1h0.9v0.9h-0.9zM406.4 45.3h0.9v0.9h-0.9zM408.5 40.8h0.9v0.9h-0.9zM408.7 45.2h0.9v0.9h-0.9zM407.5 49.1h0.9v0.9h-0.9zM405.6 44.1h0.9v0.9h-0.9z" fill="#ffffff"/><path d="M405.7 39.8h0.9v0.9h-0.9zM409.1 49.4h0.9v0.9h-0.9zM408.4 47.1h0.9v0.9h-0.9zM405.8 44.6h0.9v0.9h-0.9zM408.1 40.8h0.9v0.9h-0.9zM407.7 47.4h0.9v0.9h-0.9zM410.4 46.5h0.9v0.9h-0.9zM405.8 45.6h0.9v0.9h-0.9zM409.8 46.3h0.9v0.9h-0.9zM404.1 40.3h0.9v0.9h-0.9z" fill="#7F78CF"/><path d="M404.8 40.3h0.9v0.9h-0.9zM406.0 45.0h0.9v0.9h-0.9zM408.5 39.6h0.9v0.9h-0.9zM410.7 44.5h0.9v0.9h-0.9zM408.6 49.1h0.9v0.9h-0.9zM408.7 46.1h0.9v0.9h-0.9zM406.5 39.6h0.9v0.9h-0.9zM407.2 48.1h0.9v0.9h-0.9zM407.0 39.8h0.9v0.9h-0.9zM410.1 48.0h0.9v0.9h-0.9zM409.7 49.5h0.9v0.9h-0.9zM407.8 47.5h0.9v0.9h-0.9zM407.9 47.9h0.9v0.9h-0.9zM407.0 42.3h0.9v0.9h-0.9zM409.3 49.8h0.9v0.9h-0.9zM405.3 43.5h0.9v0.9h-0.9zM408.5 50.3h0.9v0.9h-0.9zM406.2 47.2h0.9v0.9h-0.9zM408.2 49.2h0.9v0.9h-0.9zM406.3 45.1h0.9v0.9h-0.9zM405.2 45.5h0.9v0.9h-0.9zM409.3 44.8h0.9v0.9h-0.9zM409.6 39.8h0.9v0.9h-0.9zM405.8 44.6h0.9v0.9h-0.9zM409.7 44.4h0.9v0.9h-0.9zM405.4 41.7h0.9v0.9h-0.9zM407.3 41.8h0.9v0.9h-0.9zM406.0 46.3h0.9v0.9h-0.9zM408.5 43.0h0.9v0.9h-0.9zM404.4 39.7h0.9v0.9h-0.9zM405.0 41.6h0.9v0.9h-0.9zM407.9 41.7h0.9v0.9h-0.9zM406.5 48.9h0.9v0.9h-0.9zM407.7 40.0h0.9v0.9h-0.9zM409.2 46.8h0.9v0.9h-0.9zM409.6 47.4h0.9v0.9h-0.9zM407.0 45.5h0.9v0.9h-0.9zM406.9 45.4h0.9v0.9h-0.9zM410.1 42.6h0.9v0.9h-0.9zM407.7 46.4h0.9v0.9h-0.9zM406.9 45.8h0.9v0.9h-0.9zM408.0 46.5h0.9v0.9h-0.9zM410.3 50.9h0.9v0.9h-0.9zM410.2 46.0h0.9v0.9h-0.9zM404.1 39.4h0.9v0.9h-0.9zM409.5 45.2h0.9v0.9h-0.9zM404.9 39.1h0.9v0.9h-0.9zM406.3 40.2h0.9v0.9h-0.9zM406.6 45.2h0.9v0.9h-0.9zM409.3 42.8h0.9v0.9h-0.9zM407.3 42.7h0.9v0.9h-0.9zM409.7 43.3h0.9v0.9h-0.9zM406.6 39.9h0.9v0.9h-0.9zM409.2 43.2h0.9v0.9h-0.9zM407.3 48.2h0.9v0.9h-0.9zM409.9 47.1h0.9v0.9h-0.9zM409.5 46.5h0.9v0.9h-0.9zM407.5 40.9h0.9v0.9h-0.9zM403.8 40.3h0.9v0.9h-0.9zM405.6 43.1h0.9v0.9h-0.9zM404.0 42.6h0.9v0.9h-0.9zM406.3 48.6h0.9v0.9h-0.9zM406.5 49.3h0.9v0.9h-0.9zM407.4 40.8h0.9v0.9h-0.9zM408.0 47.4h0.9v0.9h-0.9zM408.1 48.0h0.9v0.9h-0.9zM406.7 41.8h0.9v0.9h-0.9zM408.5 43.6h0.9v0.9h-0.9zM404.0 41.1h0.9v0.9h-0.9z" fill="#D2B4F0"/></g><polygon points="408.6,60.7 413.0,62.2 418.1,65.1 418.8,71.0 417.4,73.9 413.7,72.4 410.0,68.0" fill="#B89058" fill-opacity="0.5" filter="url(#bl)"/><g><path d="M409.7 67.4h0.9v0.9h-0.9zM415.4 69.6h0.9v0.9h-0.9zM411.5 64.6h0.9v0.9h-0.9zM415.5 69.6h0.9v0.9h-0.9zM413.7 64.3h0.9v0.9h-0.9zM411.5 66.4h0.9v0.9h-0.9zM410.1 65.5h0.9v0.9h-0.9zM413.2 64.7h0.9v0.9h-0.9zM415.9 67.3h0.9v0.9h-0.9zM416.0 72.9h0.9v0.9h-0.9zM412.0 65.3h0.9v0.9h-0.9zM409.7 66.6h0.9v0.9h-0.9zM417.9 70.3h0.9v0.9h-0.9zM412.7 64.6h0.9v0.9h-0.9zM414.3 70.4h0.9v0.9h-0.9zM413.5 66.1h0.9v0.9h-0.9zM411.4 62.7h0.9v0.9h-0.9zM411.4 66.0h0.9v0.9h-0.9zM408.5 61.8h0.9v0.9h-0.9z" fill="#D9A42E"/><path d="M410.8 64.5h0.9v0.9h-0.9zM416.0 72.6h0.9v0.9h-0.9zM412.9 64.7h0.9v0.9h-0.9zM417.8 69.6h0.9v0.9h-0.9zM416.5 68.4h0.9v0.9h-0.9zM410.8 67.0h0.9v0.9h-0.9zM409.1 63.5h0.9v0.9h-0.9zM411.1 66.5h0.9v0.9h-0.9zM415.9 64.5h0.9v0.9h-0.9zM415.8 63.7h0.9v0.9h-0.9zM409.1 62.4h0.9v0.9h-0.9zM411.6 64.5h0.9v0.9h-0.9zM416.9 72.5h0.9v0.9h-0.9zM412.5 70.8h0.9v0.9h-0.9zM413.9 70.8h0.9v0.9h-0.9zM413.0 68.5h0.9v0.9h-0.9zM417.4 67.3h0.9v0.9h-0.9zM417.8 70.3h0.9v0.9h-0.9zM414.3 65.8h0.9v0.9h-0.9zM417.7 66.5h0.9v0.9h-0.9zM413.9 68.0h0.9v0.9h-0.9zM412.5 67.6h0.9v0.9h-0.9zM415.4 66.9h0.9v0.9h-0.9zM417.2 69.6h0.9v0.9h-0.9zM410.0 67.6h0.9v0.9h-0.9zM408.5 61.2h0.9v0.9h-0.9zM414.0 71.3h0.9v0.9h-0.9zM416.8 72.4h0.9v0.9h-0.9zM410.2 61.6h0.9v0.9h-0.9zM416.0 69.5h0.9v0.9h-0.9zM409.9 67.7h0.9v0.9h-0.9zM415.5 70.9h0.9v0.9h-0.9zM413.1 69.8h0.9v0.9h-0.9zM416.2 67.6h0.9v0.9h-0.9zM413.6 67.7h0.9v0.9h-0.9zM415.0 69.6h0.9v0.9h-0.9zM410.0 61.8h0.9v0.9h-0.9zM415.8 66.2h0.9v0.9h-0.9zM412.2 68.1h0.9v0.9h-0.9zM412.6 62.7h0.9v0.9h-0.9zM414.9 63.2h0.9v0.9h-0.9zM410.8 61.5h0.9v0.9h-0.9zM415.6 64.8h0.9v0.9h-0.9zM412.0 69.9h0.9v0.9h-0.9zM414.6 65.7h0.9v0.9h-0.9zM413.7 69.6h0.9v0.9h-0.9zM413.2 62.5h0.9v0.9h-0.9zM413.0 68.8h0.9v0.9h-0.9zM409.8 61.6h0.9v0.9h-0.9zM408.9 61.7h0.9v0.9h-0.9zM409.3 63.4h0.9v0.9h-0.9zM411.4 62.6h0.9v0.9h-0.9zM411.8 65.0h0.9v0.9h-0.9zM410.0 64.9h0.9v0.9h-0.9zM415.3 65.3h0.9v0.9h-0.9zM411.1 66.7h0.9v0.9h-0.9zM411.2 66.4h0.9v0.9h-0.9zM410.7 63.0h0.9v0.9h-0.9zM415.4 63.9h0.9v0.9h-0.9zM414.1 69.2h0.9v0.9h-0.9zM411.8 66.8h0.9v0.9h-0.9zM415.6 70.0h0.9v0.9h-0.9zM413.3 70.3h0.9v0.9h-0.9z" fill="#A67628"/><path d="M417.2 72.5h0.9v0.9h-0.9zM410.9 66.3h0.9v0.9h-0.9zM413.0 66.9h0.9v0.9h-0.9zM414.4 66.6h0.9v0.9h-0.9zM413.7 67.7h0.9v0.9h-0.9zM412.0 67.3h0.9v0.9h-0.9zM413.4 62.8h0.9v0.9h-0.9zM411.7 68.7h0.9v0.9h-0.9zM410.8 63.0h0.9v0.9h-0.9zM412.2 65.3h0.9v0.9h-0.9zM415.0 68.2h0.9v0.9h-0.9zM411.5 66.3h0.9v0.9h-0.9zM411.8 69.7h0.9v0.9h-0.9zM413.7 64.6h0.9v0.9h-0.9zM414.1 64.5h0.9v0.9h-0.9zM411.1 65.1h0.9v0.9h-0.9zM417.2 71.6h0.9v0.9h-0.9zM413.2 70.2h0.9v0.9h-0.9zM410.5 67.1h0.9v0.9h-0.9zM411.1 66.6h0.9v0.9h-0.9zM414.8 64.2h0.9v0.9h-0.9z" fill="#ffffff"/></g><g><path d="M416.0 76.7h0.9v0.9h-0.9zM416.0 76.4h0.9v0.9h-0.9zM417.6 80.5h0.9v0.9h-0.9zM420.0 80.3h0.9v0.9h-0.9zM418.0 76.4h0.9v0.9h-0.9zM414.8 75.1h0.9v0.9h-0.9zM413.6 73.8h0.9v0.9h-0.9zM419.4 79.0h0.9v0.9h-0.9zM418.1 78.4h0.9v0.9h-0.9zM417.2 73.9h0.9v0.9h-0.9z" fill="#D9A42E"/><path d="M416.1 73.9h0.9v0.9h-0.9zM413.7 73.9h0.9v0.9h-0.9zM418.5 78.0h0.9v0.9h-0.9zM414.9 75.3h0.9v0.9h-0.9zM414.7 75.1h0.9v0.9h-0.9zM414.9 74.1h0.9v0.9h-0.9zM415.8 78.4h0.9v0.9h-0.9zM415.9 77.5h0.9v0.9h-0.9zM417.3 74.4h0.9v0.9h-0.9z" fill="#A67628"/><path d="M417.9 80.0h0.9v0.9h-0.9zM418.0 79.7h0.9v0.9h-0.9zM415.7 77.6h0.9v0.9h-0.9zM416.4 80.0h0.9v0.9h-0.9zM417.4 76.0h0.9v0.9h-0.9zM418.6 81.5h0.9v0.9h-0.9zM416.7 76.5h0.9v0.9h-0.9zM418.8 79.1h0.9v0.9h-0.9zM416.0 79.1h0.9v0.9h-0.9zM414.3 76.6h0.9v0.9h-0.9zM417.8 79.7h0.9v0.9h-0.9zM419.2 81.6h0.9v0.9h-0.9zM419.3 80.8h0.9v0.9h-0.9zM419.9 79.7h0.9v0.9h-0.9zM418.3 80.2h0.9v0.9h-0.9z" fill="#ffffff"/></g><g><path d="M421.1 48.8h0.9v0.9h-0.9zM417.1 47.9h0.9v0.9h-0.9zM418.1 53.3h0.9v0.9h-0.9zM419.7 51.2h0.9v0.9h-0.9zM418.9 54.1h0.9v0.9h-0.9zM418.2 51.5h0.9v0.9h-0.9zM417.8 52.0h0.9v0.9h-0.9zM415.2 49.3h0.9v0.9h-0.9zM417.3 47.9h0.9v0.9h-0.9zM414.9 48.9h0.9v0.9h-0.9zM420.4 52.5h0.9v0.9h-0.9zM419.5 47.9h0.9v0.9h-0.9zM417.3 48.4h0.9v0.9h-0.9zM418.0 47.4h0.9v0.9h-0.9zM418.3 53.1h0.9v0.9h-0.9zM416.0 50.3h0.9v0.9h-0.9zM420.6 56.4h0.9v0.9h-0.9z" fill="#E0338C"/><path d="M415.6 51.0h0.9v0.9h-0.9zM417.2 55.7h0.9v0.9h-0.9zM420.5 52.4h0.9v0.9h-0.9zM415.4 48.8h0.9v0.9h-0.9z" fill="#A67628"/><path d="M414.7 50.6h0.9v0.9h-0.9zM418.2 51.8h0.9v0.9h-0.9zM420.9 49.6h0.9v0.9h-0.9zM419.8 54.9h0.9v0.9h-0.9zM414.6 50.1h0.9v0.9h-0.9zM415.3 52.0h0.9v0.9h-0.9z" fill="#DE3FA0"/></g><polygon points="424.0,47.0 428.0,44.5 433.0,43.2 434.9,43.5 434.5,46.0 430.0,48.5 425.5,49.8" fill="#90E084" fill-opacity="0.6" filter="url(#bl)"/><g><path d="M428.7 47.3h0.9v0.9h-0.9z" fill="#ffffff"/><path d="M434.1 45.0h0.9v0.9h-0.9zM424.9 46.8h0.9v0.9h-0.9zM425.5 47.9h0.9v0.9h-0.9zM429.7 44.5h0.9v0.9h-0.9zM431.3 43.7h0.9v0.9h-0.9zM429.1 43.7h0.9v0.9h-0.9zM430.2 43.5h0.9v0.9h-0.9zM425.7 48.9h0.9v0.9h-0.9zM430.8 46.3h0.9v0.9h-0.9zM426.3 46.7h0.9v0.9h-0.9zM429.0 44.1h0.9v0.9h-0.9zM432.9 43.4h0.9v0.9h-0.9zM428.5 43.9h0.9v0.9h-0.9zM427.1 48.7h0.9v0.9h-0.9zM427.8 45.1h0.9v0.9h-0.9zM429.3 43.6h0.9v0.9h-0.9zM424.7 48.2h0.9v0.9h-0.9zM430.4 44.1h0.9v0.9h-0.9zM429.3 46.6h0.9v0.9h-0.9zM431.7 43.6h0.9v0.9h-0.9zM430.8 45.4h0.9v0.9h-0.9zM429.9 44.4h0.9v0.9h-0.9zM430.4 46.6h0.9v0.9h-0.9zM431.1 44.4h0.9v0.9h-0.9zM432.0 46.5h0.9v0.9h-0.9zM427.8 45.5h0.9v0.9h-0.9zM427.0 46.8h0.9v0.9h-0.9zM431.7 45.5h0.9v0.9h-0.9zM430.6 46.7h0.9v0.9h-0.9zM429.0 44.6h0.9v0.9h-0.9zM430.2 44.1h0.9v0.9h-0.9zM430.4 43.9h0.9v0.9h-0.9zM425.3 45.7h0.9v0.9h-0.9zM432.6 45.3h0.9v0.9h-0.9z" fill="#73E373"/><path d="M425.1 46.9h0.9v0.9h-0.9zM426.6 47.5h0.9v0.9h-0.9zM426.0 45.3h0.9v0.9h-0.9zM431.5 43.4h0.9v0.9h-0.9z" fill="#B4F59A"/></g><polygon points="432.7,40.5 436.0,38.5 439.3,37.4 439.5,39.0 436.0,41.8 433.5,42.0" fill="#5A6FA8" fill-opacity="0.55" filter="url(#bl)"/><g><path d="M436.4 39.4h0.9v0.9h-0.9zM434.6 38.7h0.9v0.9h-0.9zM433.8 39.2h0.9v0.9h-0.9zM437.2 39.8h0.9v0.9h-0.9zM435.3 39.9h0.9v0.9h-0.9zM436.7 40.1h0.9v0.9h-0.9z" fill="#B95A2A"/><path d="M434.4 39.8h0.9v0.9h-0.9zM434.7 39.5h0.9v0.9h-0.9zM437.5 37.8h0.9v0.9h-0.9zM435.3 39.3h0.9v0.9h-0.9z" fill="#3E64B0"/><path d="M435.9 38.8h0.9v0.9h-0.9zM434.0 40.8h0.9v0.9h-0.9zM435.8 38.3h0.9v0.9h-0.9zM434.5 40.1h0.9v0.9h-0.9zM434.5 40.3h0.9v0.9h-0.9z" fill="#3B72B0"/></g><polygon points="440.3,48.0 444.0,46.0 448.0,49.0 451.7,55.0 451.7,62.0 445.0,62.0 441.0,56.0" fill="#C0D6DC" fill-opacity="0.75" filter="url(#bl)"/><g><path d="M444.4 57.6h0.9v0.9h-0.9zM446.0 51.1h0.9v0.9h-0.9zM441.6 54.3h0.9v0.9h-0.9zM448.5 57.7h0.9v0.9h-0.9zM449.6 53.6h0.9v0.9h-0.9zM451.1 58.9h0.9v0.9h-0.9zM443.2 51.1h0.9v0.9h-0.9zM442.4 57.3h0.9v0.9h-0.9zM440.1 48.8h0.9v0.9h-0.9zM440.3 49.3h0.9v0.9h-0.9zM449.1 60.1h0.9v0.9h-0.9zM442.1 56.5h0.9v0.9h-0.9zM449.7 57.0h0.9v0.9h-0.9zM451.2 61.2h0.9v0.9h-0.9zM445.6 52.9h0.9v0.9h-0.9zM443.7 46.2h0.9v0.9h-0.9zM444.8 60.4h0.9v0.9h-0.9zM445.6 56.3h0.9v0.9h-0.9zM447.3 52.7h0.9v0.9h-0.9zM448.3 56.3h0.9v0.9h-0.9zM443.8 55.4h0.9v0.9h-0.9zM447.5 54.6h0.9v0.9h-0.9zM449.0 59.3h0.9v0.9h-0.9zM447.4 60.3h0.9v0.9h-0.9zM444.9 53.1h0.9v0.9h-0.9zM443.6 48.3h0.9v0.9h-0.9zM448.6 56.8h0.9v0.9h-0.9z" fill="#A8D4E4"/><path d="M444.2 48.3h0.9v0.9h-0.9zM444.6 47.5h0.9v0.9h-0.9zM445.3 51.7h0.9v0.9h-0.9zM447.3 51.5h0.9v0.9h-0.9zM442.2 54.9h0.9v0.9h-0.9zM447.6 50.6h0.9v0.9h-0.9zM449.3 56.6h0.9v0.9h-0.9zM450.3 56.9h0.9v0.9h-0.9zM448.0 58.0h0.9v0.9h-0.9zM446.7 52.5h0.9v0.9h-0.9zM446.0 57.1h0.9v0.9h-0.9zM445.2 47.7h0.9v0.9h-0.9zM446.6 55.0h0.9v0.9h-0.9zM444.6 60.3h0.9v0.9h-0.9zM444.5 54.8h0.9v0.9h-0.9zM444.9 46.8h0.9v0.9h-0.9zM449.5 53.3h0.9v0.9h-0.9zM448.9 56.5h0.9v0.9h-0.9zM448.7 54.3h0.9v0.9h-0.9z" fill="#D9CCB2"/></g><polygon points="441.6,59.3 452.0,59.3 463.3,59.0 463.3,70.0 458.0,73.3 448.0,73.3 442.0,70.0" fill="#DED4BE" fill-opacity="0.95" filter="url(#bl)"/><g><path d="M454.7 69.4h0.9v0.9h-0.9zM445.7 68.4h0.9v0.9h-0.9zM458.6 67.2h0.9v0.9h-0.9zM453.3 71.3h0.9v0.9h-0.9zM447.0 72.3h0.9v0.9h-0.9zM446.1 65.9h0.9v0.9h-0.9zM456.8 59.7h0.9v0.9h-0.9zM461.4 59.6h0.9v0.9h-0.9zM445.5 63.1h0.9v0.9h-0.9zM452.3 59.1h0.9v0.9h-0.9zM461.3 68.5h0.9v0.9h-0.9zM457.2 66.6h0.9v0.9h-0.9zM452.0 68.4h0.9v0.9h-0.9zM461.5 63.1h0.9v0.9h-0.9zM453.3 60.4h0.9v0.9h-0.9zM457.4 64.4h0.9v0.9h-0.9zM454.8 71.7h0.9v0.9h-0.9zM458.7 66.2h0.9v0.9h-0.9zM455.8 70.5h0.9v0.9h-0.9zM447.5 69.1h0.9v0.9h-0.9zM458.0 65.3h0.9v0.9h-0.9zM458.0 65.2h0.9v0.9h-0.9zM456.2 64.9h0.9v0.9h-0.9z" fill="#EEF8C8"/><path d="M461.3 63.8h0.9v0.9h-0.9zM443.5 69.4h0.9v0.9h-0.9zM446.0 62.9h0.9v0.9h-0.9zM449.7 71.2h0.9v0.9h-0.9zM452.3 69.1h0.9v0.9h-0.9zM448.8 66.7h0.9v0.9h-0.9zM455.9 65.6h0.9v0.9h-0.9zM453.7 67.7h0.9v0.9h-0.9zM461.3 68.4h0.9v0.9h-0.9zM458.9 66.1h0.9v0.9h-0.9zM460.1 65.3h0.9v0.9h-0.9zM445.9 63.9h0.9v0.9h-0.9zM447.0 71.8h0.9v0.9h-0.9zM452.1 59.2h0.9v0.9h-0.9zM453.5 71.0h0.9v0.9h-0.9zM447.3 60.1h0.9v0.9h-0.9zM447.9 72.1h0.9v0.9h-0.9zM461.0 59.9h0.9v0.9h-0.9zM445.9 61.0h0.9v0.9h-0.9zM459.0 64.7h0.9v0.9h-0.9zM447.0 61.3h0.9v0.9h-0.9zM450.7 59.1h0.9v0.9h-0.9zM449.4 59.5h0.9v0.9h-0.9zM450.7 60.2h0.9v0.9h-0.9zM452.4 64.0h0.9v0.9h-0.9zM448.6 72.8h0.9v0.9h-0.9zM452.6 63.7h0.9v0.9h-0.9zM456.0 71.6h0.9v0.9h-0.9zM460.5 67.8h0.9v0.9h-0.9zM456.5 65.5h0.9v0.9h-0.9zM450.3 69.7h0.9v0.9h-0.9zM452.9 68.2h0.9v0.9h-0.9zM458.2 60.9h0.9v0.9h-0.9zM461.3 63.7h0.9v0.9h-0.9zM451.2 69.5h0.9v0.9h-0.9zM447.4 63.2h0.9v0.9h-0.9zM453.6 64.5h0.9v0.9h-0.9zM448.7 61.0h0.9v0.9h-0.9zM447.9 65.4h0.9v0.9h-0.9zM452.0 71.1h0.9v0.9h-0.9zM456.8 59.4h0.9v0.9h-0.9zM447.6 66.7h0.9v0.9h-0.9zM457.1 68.3h0.9v0.9h-0.9zM455.9 70.2h0.9v0.9h-0.9zM448.2 65.5h0.9v0.9h-0.9zM461.5 60.5h0.9v0.9h-0.9zM447.7 60.9h0.9v0.9h-0.9zM449.8 69.2h0.9v0.9h-0.9zM462.5 67.8h0.9v0.9h-0.9zM457.7 64.7h0.9v0.9h-0.9zM462.4 62.0h0.9v0.9h-0.9zM452.8 67.0h0.9v0.9h-0.9zM462.6 59.2h0.9v0.9h-0.9zM456.0 71.5h0.9v0.9h-0.9zM445.7 59.7h0.9v0.9h-0.9zM447.7 69.9h0.9v0.9h-0.9zM451.8 71.3h0.9v0.9h-0.9zM458.8 71.9h0.9v0.9h-0.9zM451.2 63.9h0.9v0.9h-0.9zM448.1 65.4h0.9v0.9h-0.9zM455.4 69.4h0.9v0.9h-0.9zM444.5 70.2h0.9v0.9h-0.9z" fill="#D9CCB2"/></g><polygon points="453.1,34.0 459.0,32.8 467.0,32.6 469.0,35.0 468.5,50.0 466.0,62.0 463.3,73.0 456.0,70.0 452.0,60.0 453.0,45.0" fill="#EDF0A8" fill-opacity="0.95" filter="url(#bl)"/><g><path d="M467.5 34.3h0.9v0.9h-0.9zM459.9 53.7h0.9v0.9h-0.9zM455.9 45.4h0.9v0.9h-0.9zM457.3 37.4h0.9v0.9h-0.9zM459.0 57.4h0.9v0.9h-0.9zM462.8 71.2h0.9v0.9h-0.9zM462.3 34.1h0.9v0.9h-0.9zM463.5 68.5h0.9v0.9h-0.9zM465.7 58.9h0.9v0.9h-0.9zM462.9 56.9h0.9v0.9h-0.9zM453.0 45.8h0.9v0.9h-0.9zM463.8 36.3h0.9v0.9h-0.9zM460.2 56.7h0.9v0.9h-0.9zM455.4 33.1h0.9v0.9h-0.9zM461.4 53.4h0.9v0.9h-0.9zM462.9 67.0h0.9v0.9h-0.9zM458.3 55.7h0.9v0.9h-0.9zM463.7 60.6h0.9v0.9h-0.9zM454.7 41.3h0.9v0.9h-0.9zM463.1 50.2h0.9v0.9h-0.9zM464.9 38.0h0.9v0.9h-0.9zM457.2 49.7h0.9v0.9h-0.9zM456.8 57.4h0.9v0.9h-0.9zM466.5 51.3h0.9v0.9h-0.9zM454.5 55.1h0.9v0.9h-0.9zM459.5 52.5h0.9v0.9h-0.9zM463.9 61.5h0.9v0.9h-0.9zM453.2 62.9h0.9v0.9h-0.9zM465.3 51.4h0.9v0.9h-0.9zM454.7 66.9h0.9v0.9h-0.9zM460.3 54.7h0.9v0.9h-0.9zM462.1 61.1h0.9v0.9h-0.9zM460.8 45.4h0.9v0.9h-0.9zM458.6 58.4h0.9v0.9h-0.9zM458.5 47.7h0.9v0.9h-0.9zM454.3 56.5h0.9v0.9h-0.9zM465.7 55.2h0.9v0.9h-0.9zM461.6 51.7h0.9v0.9h-0.9zM463.7 53.0h0.9v0.9h-0.9zM457.6 45.5h0.9v0.9h-0.9zM454.5 48.8h0.9v0.9h-0.9zM453.8 50.9h0.9v0.9h-0.9zM453.3 55.4h0.9v0.9h-0.9zM455.1 54.7h0.9v0.9h-0.9zM453.6 34.8h0.9v0.9h-0.9zM457.6 58.8h0.9v0.9h-0.9zM468.1 44.3h0.9v0.9h-0.9zM463.3 37.1h0.9v0.9h-0.9zM454.4 44.9h0.9v0.9h-0.9zM457.4 34.0h0.9v0.9h-0.9zM458.7 70.7h0.9v0.9h-0.9zM456.0 57.3h0.9v0.9h-0.9zM461.6 58.3h0.9v0.9h-0.9zM467.9 49.7h0.9v0.9h-0.9zM461.2 70.9h0.9v0.9h-0.9zM460.5 39.4h0.9v0.9h-0.9zM453.8 47.6h0.9v0.9h-0.9zM457.8 52.4h0.9v0.9h-0.9zM460.6 43.6h0.9v0.9h-0.9zM455.5 58.3h0.9v0.9h-0.9zM463.4 43.3h0.9v0.9h-0.9zM465.3 38.0h0.9v0.9h-0.9zM461.5 69.4h0.9v0.9h-0.9zM455.1 39.2h0.9v0.9h-0.9zM463.7 62.7h0.9v0.9h-0.9zM461.7 34.4h0.9v0.9h-0.9zM462.3 44.7h0.9v0.9h-0.9zM462.6 60.1h0.9v0.9h-0.9zM461.2 64.0h0.9v0.9h-0.9zM455.8 50.1h0.9v0.9h-0.9zM462.5 65.4h0.9v0.9h-0.9zM459.6 61.1h0.9v0.9h-0.9zM464.2 51.5h0.9v0.9h-0.9zM458.8 66.2h0.9v0.9h-0.9zM454.5 54.5h0.9v0.9h-0.9zM458.4 58.4h0.9v0.9h-0.9zM452.4 60.9h0.9v0.9h-0.9zM456.2 53.2h0.9v0.9h-0.9zM464.4 48.0h0.9v0.9h-0.9zM460.5 66.5h0.9v0.9h-0.9zM461.8 46.8h0.9v0.9h-0.9zM456.6 41.0h0.9v0.9h-0.9zM456.0 65.3h0.9v0.9h-0.9zM454.4 38.1h0.9v0.9h-0.9zM468.2 36.2h0.9v0.9h-0.9zM454.6 41.2h0.9v0.9h-0.9zM461.4 54.0h0.9v0.9h-0.9zM465.0 55.2h0.9v0.9h-0.9zM457.2 40.0h0.9v0.9h-0.9zM458.0 35.1h0.9v0.9h-0.9zM463.0 66.9h0.9v0.9h-0.9zM457.2 58.9h0.9v0.9h-0.9zM459.7 42.8h0.9v0.9h-0.9zM462.6 38.8h0.9v0.9h-0.9zM458.8 60.7h0.9v0.9h-0.9zM459.9 41.7h0.9v0.9h-0.9zM458.8 56.1h0.9v0.9h-0.9zM455.3 68.0h0.9v0.9h-0.9zM453.3 42.2h0.9v0.9h-0.9zM454.3 40.7h0.9v0.9h-0.9zM452.2 57.4h0.9v0.9h-0.9zM466.1 48.4h0.9v0.9h-0.9zM458.3 68.5h0.9v0.9h-0.9zM463.4 44.2h0.9v0.9h-0.9zM463.4 60.9h0.9v0.9h-0.9zM458.8 62.7h0.9v0.9h-0.9zM457.9 48.5h0.9v0.9h-0.9zM460.5 42.0h0.9v0.9h-0.9z" fill="#EAF58A"/><path d="M456.4 55.9h0.9v0.9h-0.9zM455.6 33.0h0.9v0.9h-0.9zM452.3 61.1h0.9v0.9h-0.9zM458.1 54.4h0.9v0.9h-0.9zM467.0 40.4h0.9v0.9h-0.9zM455.3 67.7h0.9v0.9h-0.9zM458.0 57.3h0.9v0.9h-0.9zM459.0 42.2h0.9v0.9h-0.9zM467.4 52.2h0.9v0.9h-0.9zM453.1 48.3h0.9v0.9h-0.9zM458.2 52.6h0.9v0.9h-0.9zM464.6 33.0h0.9v0.9h-0.9zM460.5 65.9h0.9v0.9h-0.9zM457.7 35.5h0.9v0.9h-0.9zM454.5 44.9h0.9v0.9h-0.9zM464.6 60.4h0.9v0.9h-0.9zM465.4 54.4h0.9v0.9h-0.9zM463.1 47.9h0.9v0.9h-0.9zM455.8 65.3h0.9v0.9h-0.9zM461.0 52.3h0.9v0.9h-0.9zM455.6 65.8h0.9v0.9h-0.9zM456.2 36.1h0.9v0.9h-0.9zM463.4 62.7h0.9v0.9h-0.9zM461.9 57.9h0.9v0.9h-0.9zM455.7 35.8h0.9v0.9h-0.9zM464.7 61.0h0.9v0.9h-0.9zM458.3 63.4h0.9v0.9h-0.9zM463.7 46.4h0.9v0.9h-0.9zM455.6 65.2h0.9v0.9h-0.9zM462.7 60.1h0.9v0.9h-0.9zM454.3 33.4h0.9v0.9h-0.9zM461.1 47.6h0.9v0.9h-0.9zM463.9 46.3h0.9v0.9h-0.9zM458.4 37.2h0.9v0.9h-0.9zM466.3 55.2h0.9v0.9h-0.9z" fill="#D9CCB2"/><path d="M467.0 43.8h0.9v0.9h-0.9zM460.3 56.6h0.9v0.9h-0.9zM456.3 53.1h0.9v0.9h-0.9zM460.6 65.0h0.9v0.9h-0.9zM461.3 58.0h0.9v0.9h-0.9zM460.0 50.3h0.9v0.9h-0.9zM466.7 42.9h0.9v0.9h-0.9zM463.6 59.1h0.9v0.9h-0.9zM454.4 49.6h0.9v0.9h-0.9zM463.3 69.8h0.9v0.9h-0.9zM463.4 33.9h0.9v0.9h-0.9zM458.4 39.3h0.9v0.9h-0.9zM466.3 50.9h0.9v0.9h-0.9zM460.7 55.6h0.9v0.9h-0.9zM457.2 66.0h0.9v0.9h-0.9z" fill="#E0338C"/><path d="M456.2 62.9h0.9v0.9h-0.9zM467.1 42.4h0.9v0.9h-0.9zM458.3 57.4h0.9v0.9h-0.9zM458.6 45.0h0.9v0.9h-0.9z" fill="#73E373"/></g><polygon points="414.7,91.2 414.6,92.4 414.3,93.5 413.8,94.2 413.2,94.4 412.6,94.2 412.1,93.5 411.8,92.4 411.7,91.2 411.8,90.0 412.1,88.9 412.6,88.2 413.2,88.0 413.8,88.2 414.3,88.9 414.6,90.0" fill="#58585C" fill-opacity="0.9" filter="url(#bl)"/><g></g><polygon points="422.2,103.9 423.2,103.9 423.0,109.0 424.5,112.0 424.2,118.0 422.0,118.5 420.0,115.5 420.8,110.0" fill="#D8C8F0" fill-opacity="0.85" filter="url(#bl)"/><g><path d="M419.6 114.5h0.9v0.9h-0.9zM420.0 115.2h0.9v0.9h-0.9zM422.7 109.1h0.9v0.9h-0.9zM421.0 114.3h0.9v0.9h-0.9zM422.4 109.9h0.9v0.9h-0.9zM423.6 116.4h0.9v0.9h-0.9zM420.8 110.2h0.9v0.9h-0.9zM421.2 111.6h0.9v0.9h-0.9zM421.5 106.1h0.9v0.9h-0.9zM422.1 103.9h0.9v0.9h-0.9zM422.6 114.7h0.9v0.9h-0.9zM421.9 105.1h0.9v0.9h-0.9z" fill="#D6BDF2"/></g><polygon points="442.0,100.0 447.0,101.0 450.0,104.0 449.8,112.0 446.0,119.0 441.5,119.8 438.0,116.0 436.4,108.0 438.0,103.0" fill="#F2D4D6" fill-opacity="0.45" filter="url(#bl)"/><g><path d="M439.2 111.5h0.9v0.9h-0.9zM442.1 107.7h0.9v0.9h-0.9zM437.1 113.3h0.9v0.9h-0.9zM438.4 114.8h0.9v0.9h-0.9zM445.7 100.6h0.9v0.9h-0.9zM443.0 113.6h0.9v0.9h-0.9zM443.3 99.9h0.9v0.9h-0.9zM442.7 113.0h0.9v0.9h-0.9zM448.4 102.8h0.9v0.9h-0.9zM443.2 108.2h0.9v0.9h-0.9zM445.0 106.9h0.9v0.9h-0.9zM442.4 101.6h0.9v0.9h-0.9zM436.3 109.1h0.9v0.9h-0.9zM443.7 113.3h0.9v0.9h-0.9zM443.4 101.8h0.9v0.9h-0.9zM443.4 112.3h0.9v0.9h-0.9zM446.7 107.1h0.9v0.9h-0.9zM443.5 111.6h0.9v0.9h-0.9zM446.8 106.6h0.9v0.9h-0.9zM441.2 111.2h0.9v0.9h-0.9zM446.8 114.5h0.9v0.9h-0.9zM440.3 112.1h0.9v0.9h-0.9zM443.8 113.7h0.9v0.9h-0.9zM436.9 108.1h0.9v0.9h-0.9zM449.0 110.2h0.9v0.9h-0.9zM446.1 103.1h0.9v0.9h-0.9zM444.0 117.8h0.9v0.9h-0.9zM439.1 101.6h0.9v0.9h-0.9zM443.2 116.6h0.9v0.9h-0.9zM442.9 112.2h0.9v0.9h-0.9zM447.9 109.2h0.9v0.9h-0.9zM442.1 107.7h0.9v0.9h-0.9zM446.3 106.8h0.9v0.9h-0.9zM448.7 106.5h0.9v0.9h-0.9zM448.4 107.2h0.9v0.9h-0.9zM444.5 107.5h0.9v0.9h-0.9zM444.6 110.6h0.9v0.9h-0.9zM438.7 107.0h0.9v0.9h-0.9zM447.9 104.7h0.9v0.9h-0.9zM440.1 112.8h0.9v0.9h-0.9zM445.1 101.5h0.9v0.9h-0.9zM444.7 112.5h0.9v0.9h-0.9zM439.3 116.8h0.9v0.9h-0.9zM446.4 116.0h0.9v0.9h-0.9zM447.2 108.8h0.9v0.9h-0.9zM437.9 110.3h0.9v0.9h-0.9zM444.0 105.9h0.9v0.9h-0.9zM444.9 107.8h0.9v0.9h-0.9zM444.3 116.0h0.9v0.9h-0.9zM439.9 112.7h0.9v0.9h-0.9zM438.6 114.6h0.9v0.9h-0.9zM445.3 118.1h0.9v0.9h-0.9zM445.6 113.9h0.9v0.9h-0.9zM441.8 99.7h0.9v0.9h-0.9zM446.6 108.6h0.9v0.9h-0.9zM444.3 111.2h0.9v0.9h-0.9zM442.8 112.7h0.9v0.9h-0.9zM445.4 113.8h0.9v0.9h-0.9zM436.7 108.0h0.9v0.9h-0.9zM439.5 103.7h0.9v0.9h-0.9zM448.1 105.0h0.9v0.9h-0.9zM449.3 110.0h0.9v0.9h-0.9zM441.4 111.0h0.9v0.9h-0.9zM443.8 116.8h0.9v0.9h-0.9zM439.5 103.3h0.9v0.9h-0.9zM438.0 115.0h0.9v0.9h-0.9zM438.0 102.4h0.9v0.9h-0.9zM444.4 117.3h0.9v0.9h-0.9zM444.8 112.6h0.9v0.9h-0.9zM438.3 110.9h0.9v0.9h-0.9zM442.4 108.9h0.9v0.9h-0.9zM446.3 115.4h0.9v0.9h-0.9zM440.5 108.7h0.9v0.9h-0.9zM440.6 117.9h0.9v0.9h-0.9zM446.2 108.8h0.9v0.9h-0.9zM438.0 106.8h0.9v0.9h-0.9zM439.9 106.4h0.9v0.9h-0.9zM440.4 104.0h0.9v0.9h-0.9zM442.6 108.8h0.9v0.9h-0.9zM438.7 104.4h0.9v0.9h-0.9zM445.0 105.6h0.9v0.9h-0.9zM448.9 104.8h0.9v0.9h-0.9zM445.3 104.5h0.9v0.9h-0.9zM441.8 100.3h0.9v0.9h-0.9zM447.4 105.6h0.9v0.9h-0.9zM443.6 109.8h0.9v0.9h-0.9zM443.7 103.5h0.9v0.9h-0.9zM443.2 116.3h0.9v0.9h-0.9zM447.3 110.8h0.9v0.9h-0.9zM444.1 108.8h0.9v0.9h-0.9zM440.0 117.7h0.9v0.9h-0.9zM445.2 103.9h0.9v0.9h-0.9zM448.6 105.4h0.9v0.9h-0.9zM441.7 114.6h0.9v0.9h-0.9zM446.9 107.2h0.9v0.9h-0.9z" fill="#F4A6A8"/><path d="M447.7 113.6h0.9v0.9h-0.9zM439.4 103.7h0.9v0.9h-0.9zM443.9 104.1h0.9v0.9h-0.9zM440.7 117.0h0.9v0.9h-0.9zM440.2 117.0h0.9v0.9h-0.9zM442.9 118.1h0.9v0.9h-0.9zM447.4 114.7h0.9v0.9h-0.9zM443.1 105.6h0.9v0.9h-0.9zM438.3 115.9h0.9v0.9h-0.9zM438.1 113.6h0.9v0.9h-0.9zM442.7 117.7h0.9v0.9h-0.9zM444.7 109.3h0.9v0.9h-0.9zM443.1 106.2h0.9v0.9h-0.9zM440.6 108.7h0.9v0.9h-0.9zM444.4 115.2h0.9v0.9h-0.9zM437.5 109.3h0.9v0.9h-0.9zM441.6 100.0h0.9v0.9h-0.9zM440.0 104.4h0.9v0.9h-0.9zM446.4 111.0h0.9v0.9h-0.9zM441.2 101.0h0.9v0.9h-0.9zM437.4 105.1h0.9v0.9h-0.9zM442.1 112.1h0.9v0.9h-0.9zM440.2 112.5h0.9v0.9h-0.9zM444.5 115.9h0.9v0.9h-0.9zM443.5 118.6h0.9v0.9h-0.9zM437.4 103.6h0.9v0.9h-0.9zM438.7 109.3h0.9v0.9h-0.9zM444.9 113.9h0.9v0.9h-0.9zM443.8 111.0h0.9v0.9h-0.9zM440.5 115.3h0.9v0.9h-0.9zM446.7 108.4h0.9v0.9h-0.9zM440.6 110.1h0.9v0.9h-0.9zM440.3 114.9h0.9v0.9h-0.9zM442.4 100.5h0.9v0.9h-0.9zM440.5 114.7h0.9v0.9h-0.9zM443.1 111.7h0.9v0.9h-0.9zM439.8 113.2h0.9v0.9h-0.9zM445.6 114.1h0.9v0.9h-0.9zM438.0 109.1h0.9v0.9h-0.9zM437.7 114.8h0.9v0.9h-0.9zM446.4 102.4h0.9v0.9h-0.9zM445.6 100.4h0.9v0.9h-0.9zM439.9 106.7h0.9v0.9h-0.9zM445.2 106.1h0.9v0.9h-0.9zM441.6 101.9h0.9v0.9h-0.9zM446.3 114.1h0.9v0.9h-0.9zM441.6 111.7h0.9v0.9h-0.9zM448.2 112.8h0.9v0.9h-0.9z" fill="#AFCDE6"/></g><polygon points="479.0,47.0 480.0,41.0 484.0,40.3 490.0,40.5 492.4,46.0 491.0,52.0 488.0,58.0 487.0,66.0 486.0,73.3 482.0,72.0 480.0,62.0 479.0,55.0" fill="#C88060" fill-opacity="0.55" filter="url(#bl)"/><g><path d="M482.5 50.2h0.9v0.9h-0.9zM482.5 59.4h0.9v0.9h-0.9zM480.2 40.6h0.9v0.9h-0.9zM483.2 40.4h0.9v0.9h-0.9zM489.5 43.0h0.9v0.9h-0.9zM481.2 53.3h0.9v0.9h-0.9zM482.7 40.7h0.9v0.9h-0.9zM483.9 58.1h0.9v0.9h-0.9zM486.6 42.3h0.9v0.9h-0.9zM479.7 45.3h0.9v0.9h-0.9zM488.1 52.5h0.9v0.9h-0.9zM484.6 66.9h0.9v0.9h-0.9zM482.6 52.8h0.9v0.9h-0.9zM479.7 47.1h0.9v0.9h-0.9zM480.4 55.4h0.9v0.9h-0.9zM480.2 63.5h0.9v0.9h-0.9zM480.8 61.3h0.9v0.9h-0.9zM485.0 53.1h0.9v0.9h-0.9zM484.1 63.1h0.9v0.9h-0.9zM480.9 67.9h0.9v0.9h-0.9zM488.2 53.1h0.9v0.9h-0.9zM485.6 68.7h0.9v0.9h-0.9zM480.2 47.4h0.9v0.9h-0.9zM481.9 66.6h0.9v0.9h-0.9zM487.3 54.7h0.9v0.9h-0.9zM481.0 55.7h0.9v0.9h-0.9zM481.8 48.5h0.9v0.9h-0.9zM486.4 55.6h0.9v0.9h-0.9zM485.9 58.2h0.9v0.9h-0.9z" fill="#D2B4F0"/><path d="M483.4 70.2h0.9v0.9h-0.9zM486.7 63.3h0.9v0.9h-0.9zM484.1 42.5h0.9v0.9h-0.9zM482.3 69.2h0.9v0.9h-0.9zM487.1 47.9h0.9v0.9h-0.9zM488.1 45.3h0.9v0.9h-0.9zM484.3 58.5h0.9v0.9h-0.9zM480.3 64.1h0.9v0.9h-0.9zM485.9 60.6h0.9v0.9h-0.9zM486.7 55.8h0.9v0.9h-0.9zM479.3 44.3h0.9v0.9h-0.9zM478.9 54.9h0.9v0.9h-0.9zM483.5 58.4h0.9v0.9h-0.9zM482.5 43.7h0.9v0.9h-0.9zM484.0 66.6h0.9v0.9h-0.9zM487.8 48.5h0.9v0.9h-0.9zM490.9 49.3h0.9v0.9h-0.9zM489.7 45.5h0.9v0.9h-0.9zM484.7 51.1h0.9v0.9h-0.9zM490.0 51.7h0.9v0.9h-0.9zM480.4 45.9h0.9v0.9h-0.9zM486.7 45.1h0.9v0.9h-0.9zM482.4 69.0h0.9v0.9h-0.9zM487.3 46.6h0.9v0.9h-0.9zM489.4 48.8h0.9v0.9h-0.9zM484.9 60.5h0.9v0.9h-0.9z" fill="#EEB77A"/><path d="M478.8 47.1h0.9v0.9h-0.9zM480.1 49.4h0.9v0.9h-0.9zM480.9 57.7h0.9v0.9h-0.9zM482.6 46.9h0.9v0.9h-0.9zM489.9 44.1h0.9v0.9h-0.9zM487.9 47.8h0.9v0.9h-0.9zM485.9 53.2h0.9v0.9h-0.9zM484.3 64.6h0.9v0.9h-0.9zM479.9 59.0h0.9v0.9h-0.9zM485.6 45.9h0.9v0.9h-0.9zM489.6 44.0h0.9v0.9h-0.9zM483.2 44.9h0.9v0.9h-0.9zM485.1 55.4h0.9v0.9h-0.9zM485.0 57.9h0.9v0.9h-0.9zM485.2 51.0h0.9v0.9h-0.9zM479.4 43.8h0.9v0.9h-0.9zM483.4 45.2h0.9v0.9h-0.9zM486.7 62.4h0.9v0.9h-0.9zM483.5 49.6h0.9v0.9h-0.9zM487.1 40.4h0.9v0.9h-0.9zM488.3 42.8h0.9v0.9h-0.9zM486.1 45.9h0.9v0.9h-0.9zM480.1 58.5h0.9v0.9h-0.9zM485.0 42.6h0.9v0.9h-0.9zM490.8 44.1h0.9v0.9h-0.9zM483.1 70.8h0.9v0.9h-0.9zM483.6 68.2h0.9v0.9h-0.9zM480.8 64.2h0.9v0.9h-0.9zM488.8 46.3h0.9v0.9h-0.9zM483.9 61.0h0.9v0.9h-0.9zM482.6 61.2h0.9v0.9h-0.9zM483.8 71.5h0.9v0.9h-0.9zM480.1 50.6h0.9v0.9h-0.9zM485.6 63.8h0.9v0.9h-0.9zM490.7 50.4h0.9v0.9h-0.9zM485.7 65.3h0.9v0.9h-0.9zM484.8 53.6h0.9v0.9h-0.9zM486.5 42.5h0.9v0.9h-0.9zM481.8 52.0h0.9v0.9h-0.9zM490.1 45.6h0.9v0.9h-0.9zM484.3 67.0h0.9v0.9h-0.9zM483.5 64.7h0.9v0.9h-0.9zM479.7 44.8h0.9v0.9h-0.9zM486.4 65.5h0.9v0.9h-0.9zM481.4 70.2h0.9v0.9h-0.9zM485.7 70.6h0.9v0.9h-0.9zM481.4 51.2h0.9v0.9h-0.9z" fill="#B95A2A"/><path d="M481.3 47.5h0.9v0.9h-0.9zM483.3 68.2h0.9v0.9h-0.9zM482.3 47.0h0.9v0.9h-0.9zM479.4 56.3h0.9v0.9h-0.9zM480.8 51.5h0.9v0.9h-0.9zM481.2 48.3h0.9v0.9h-0.9zM487.7 44.1h0.9v0.9h-0.9zM485.5 59.6h0.9v0.9h-0.9zM483.7 40.2h0.9v0.9h-0.9zM484.0 60.5h0.9v0.9h-0.9zM488.8 45.4h0.9v0.9h-0.9zM485.0 48.5h0.9v0.9h-0.9zM480.5 58.0h0.9v0.9h-0.9zM483.8 43.7h0.9v0.9h-0.9zM490.8 45.6h0.9v0.9h-0.9zM482.2 62.3h0.9v0.9h-0.9zM487.3 45.6h0.9v0.9h-0.9zM482.2 54.4h0.9v0.9h-0.9zM482.4 40.6h0.9v0.9h-0.9zM486.2 54.2h0.9v0.9h-0.9zM489.8 47.7h0.9v0.9h-0.9zM483.8 44.0h0.9v0.9h-0.9zM483.8 49.0h0.9v0.9h-0.9zM485.1 51.2h0.9v0.9h-0.9zM480.6 46.7h0.9v0.9h-0.9zM482.5 62.1h0.9v0.9h-0.9zM485.3 41.3h0.9v0.9h-0.9zM479.8 56.9h0.9v0.9h-0.9zM480.2 42.2h0.9v0.9h-0.9zM484.7 69.8h0.9v0.9h-0.9zM483.4 42.8h0.9v0.9h-0.9zM488.3 44.3h0.9v0.9h-0.9zM480.4 60.0h0.9v0.9h-0.9zM481.8 62.3h0.9v0.9h-0.9zM480.5 46.8h0.9v0.9h-0.9zM484.9 63.6h0.9v0.9h-0.9zM479.7 55.2h0.9v0.9h-0.9zM480.2 46.8h0.9v0.9h-0.9zM479.9 49.7h0.9v0.9h-0.9zM481.6 58.8h0.9v0.9h-0.9zM485.9 62.7h0.9v0.9h-0.9zM488.1 44.1h0.9v0.9h-0.9zM481.3 62.5h0.9v0.9h-0.9zM482.3 41.2h0.9v0.9h-0.9zM481.8 71.2h0.9v0.9h-0.9zM479.8 42.0h0.9v0.9h-0.9zM484.4 57.4h0.9v0.9h-0.9zM487.6 41.3h0.9v0.9h-0.9zM482.9 66.3h0.9v0.9h-0.9zM490.8 49.5h0.9v0.9h-0.9zM486.0 42.5h0.9v0.9h-0.9zM482.0 67.2h0.9v0.9h-0.9zM478.8 45.4h0.9v0.9h-0.9zM484.6 58.6h0.9v0.9h-0.9zM482.9 48.2h0.9v0.9h-0.9zM488.0 44.6h0.9v0.9h-0.9zM486.4 58.0h0.9v0.9h-0.9zM484.5 70.4h0.9v0.9h-0.9zM483.8 70.0h0.9v0.9h-0.9zM480.8 50.4h0.9v0.9h-0.9zM486.2 58.7h0.9v0.9h-0.9z" fill="#EB6E25"/><path d="M482.2 49.0h0.9v0.9h-0.9zM485.0 62.2h0.9v0.9h-0.9zM480.3 60.6h0.9v0.9h-0.9zM490.5 44.7h0.9v0.9h-0.9zM487.8 52.7h0.9v0.9h-0.9zM486.8 59.4h0.9v0.9h-0.9zM482.2 40.4h0.9v0.9h-0.9zM485.9 48.8h0.9v0.9h-0.9zM481.6 70.0h0.9v0.9h-0.9zM485.5 57.5h0.9v0.9h-0.9zM482.6 58.6h0.9v0.9h-0.9zM485.8 47.7h0.9v0.9h-0.9zM487.0 46.4h0.9v0.9h-0.9zM486.9 60.0h0.9v0.9h-0.9zM485.3 68.5h0.9v0.9h-0.9zM486.0 55.5h0.9v0.9h-0.9zM480.9 53.0h0.9v0.9h-0.9zM487.6 42.1h0.9v0.9h-0.9zM482.3 62.9h0.9v0.9h-0.9zM480.4 56.6h0.9v0.9h-0.9z" fill="#7F78CF"/><path d="M479.5 59.6h0.9v0.9h-0.9zM489.5 47.9h0.9v0.9h-0.9zM481.5 65.3h0.9v0.9h-0.9zM479.1 57.6h0.9v0.9h-0.9zM487.0 58.6h0.9v0.9h-0.9zM485.2 40.3h0.9v0.9h-0.9zM485.4 70.3h0.9v0.9h-0.9zM481.7 60.3h0.9v0.9h-0.9zM480.5 65.2h0.9v0.9h-0.9zM479.9 60.0h0.9v0.9h-0.9zM485.1 53.8h0.9v0.9h-0.9zM489.6 51.0h0.9v0.9h-0.9zM483.0 44.0h0.9v0.9h-0.9zM484.1 66.0h0.9v0.9h-0.9zM481.9 57.0h0.9v0.9h-0.9zM479.3 43.4h0.9v0.9h-0.9zM485.6 43.3h0.9v0.9h-0.9zM481.7 63.3h0.9v0.9h-0.9zM480.6 60.4h0.9v0.9h-0.9zM489.5 44.5h0.9v0.9h-0.9zM483.6 50.9h0.9v0.9h-0.9zM480.3 60.6h0.9v0.9h-0.9zM488.5 43.6h0.9v0.9h-0.9zM486.3 44.1h0.9v0.9h-0.9zM483.6 63.4h0.9v0.9h-0.9zM481.2 45.7h0.9v0.9h-0.9zM484.9 46.8h0.9v0.9h-0.9zM479.1 57.7h0.9v0.9h-0.9zM479.1 50.3h0.9v0.9h-0.9zM486.6 57.9h0.9v0.9h-0.9zM480.0 60.5h0.9v0.9h-0.9zM486.6 50.4h0.9v0.9h-0.9zM483.2 49.6h0.9v0.9h-0.9zM482.4 70.1h0.9v0.9h-0.9zM483.9 52.6h0.9v0.9h-0.9zM479.7 59.9h0.9v0.9h-0.9zM479.8 61.0h0.9v0.9h-0.9zM483.2 56.5h0.9v0.9h-0.9z" fill="#52B589"/><path d="M486.3 56.2h0.9v0.9h-0.9zM485.3 52.2h0.9v0.9h-0.9zM482.0 46.3h0.9v0.9h-0.9zM482.6 50.8h0.9v0.9h-0.9zM486.6 64.1h0.9v0.9h-0.9zM485.3 49.3h0.9v0.9h-0.9zM488.2 44.5h0.9v0.9h-0.9zM480.0 40.9h0.9v0.9h-0.9zM482.8 61.4h0.9v0.9h-0.9zM478.9 49.5h0.9v0.9h-0.9zM484.5 45.4h0.9v0.9h-0.9zM479.3 56.5h0.9v0.9h-0.9zM484.9 59.9h0.9v0.9h-0.9zM481.5 48.4h0.9v0.9h-0.9zM481.5 68.5h0.9v0.9h-0.9zM483.2 69.2h0.9v0.9h-0.9zM486.3 45.9h0.9v0.9h-0.9zM489.6 47.3h0.9v0.9h-0.9zM487.6 56.1h0.9v0.9h-0.9zM486.8 46.1h0.9v0.9h-0.9zM480.8 56.1h0.9v0.9h-0.9zM483.6 53.3h0.9v0.9h-0.9zM480.0 41.0h0.9v0.9h-0.9zM489.4 40.1h0.9v0.9h-0.9zM480.9 40.6h0.9v0.9h-0.9zM481.0 59.4h0.9v0.9h-0.9zM482.1 70.0h0.9v0.9h-0.9zM489.4 51.8h0.9v0.9h-0.9zM487.2 42.9h0.9v0.9h-0.9zM482.8 47.4h0.9v0.9h-0.9zM483.8 59.7h0.9v0.9h-0.9zM484.8 67.9h0.9v0.9h-0.9zM486.2 52.3h0.9v0.9h-0.9zM481.8 49.3h0.9v0.9h-0.9zM484.6 49.4h0.9v0.9h-0.9zM488.7 41.9h0.9v0.9h-0.9zM480.6 59.6h0.9v0.9h-0.9zM483.7 61.6h0.9v0.9h-0.9zM483.6 66.6h0.9v0.9h-0.9zM485.2 66.5h0.9v0.9h-0.9zM479.0 54.1h0.9v0.9h-0.9zM481.8 47.2h0.9v0.9h-0.9zM482.1 49.1h0.9v0.9h-0.9zM483.6 56.6h0.9v0.9h-0.9zM487.2 55.9h0.9v0.9h-0.9zM487.3 53.4h0.9v0.9h-0.9zM482.7 63.6h0.9v0.9h-0.9zM483.3 62.2h0.9v0.9h-0.9zM489.4 49.8h0.9v0.9h-0.9zM480.7 49.1h0.9v0.9h-0.9zM482.8 53.7h0.9v0.9h-0.9zM490.4 47.0h0.9v0.9h-0.9zM478.8 48.2h0.9v0.9h-0.9zM486.7 54.3h0.9v0.9h-0.9zM481.9 55.1h0.9v0.9h-0.9zM489.3 43.3h0.9v0.9h-0.9zM487.2 47.3h0.9v0.9h-0.9zM480.2 54.0h0.9v0.9h-0.9zM484.8 41.5h0.9v0.9h-0.9zM483.4 63.0h0.9v0.9h-0.9zM482.7 63.9h0.9v0.9h-0.9zM485.6 66.9h0.9v0.9h-0.9zM485.7 42.6h0.9v0.9h-0.9zM489.8 46.4h0.9v0.9h-0.9zM486.5 56.1h0.9v0.9h-0.9zM481.5 62.4h0.9v0.9h-0.9zM484.2 68.8h0.9v0.9h-0.9zM486.4 49.4h0.9v0.9h-0.9zM484.8 44.2h0.9v0.9h-0.9zM487.9 46.0h0.9v0.9h-0.9zM482.2 58.4h0.9v0.9h-0.9zM482.2 48.7h0.9v0.9h-0.9zM485.6 62.2h0.9v0.9h-0.9zM489.5 45.3h0.9v0.9h-0.9zM484.1 49.7h0.9v0.9h-0.9zM480.6 50.1h0.9v0.9h-0.9zM481.0 48.4h0.9v0.9h-0.9zM487.6 55.1h0.9v0.9h-0.9zM490.8 50.3h0.9v0.9h-0.9zM486.3 44.8h0.9v0.9h-0.9zM488.6 50.6h0.9v0.9h-0.9zM484.2 62.5h0.9v0.9h-0.9zM479.6 54.9h0.9v0.9h-0.9zM481.2 46.4h0.9v0.9h-0.9zM483.9 44.5h0.9v0.9h-0.9zM490.1 48.3h0.9v0.9h-0.9zM482.1 59.5h0.9v0.9h-0.9zM481.1 42.3h0.9v0.9h-0.9zM482.5 48.0h0.9v0.9h-0.9zM486.3 51.6h0.9v0.9h-0.9zM489.7 52.2h0.9v0.9h-0.9zM480.6 51.1h0.9v0.9h-0.9zM485.1 50.0h0.9v0.9h-0.9zM486.3 65.9h0.9v0.9h-0.9zM486.6 47.8h0.9v0.9h-0.9zM481.2 60.2h0.9v0.9h-0.9zM485.6 60.1h0.9v0.9h-0.9zM480.8 49.5h0.9v0.9h-0.9zM479.6 61.6h0.9v0.9h-0.9zM490.2 49.5h0.9v0.9h-0.9zM487.8 49.0h0.9v0.9h-0.9zM480.6 43.4h0.9v0.9h-0.9zM485.6 41.3h0.9v0.9h-0.9zM482.3 64.3h0.9v0.9h-0.9zM482.2 43.1h0.9v0.9h-0.9zM488.0 46.0h0.9v0.9h-0.9zM483.1 41.4h0.9v0.9h-0.9zM485.6 56.9h0.9v0.9h-0.9zM490.5 45.1h0.9v0.9h-0.9zM480.9 46.9h0.9v0.9h-0.9zM480.7 61.7h0.9v0.9h-0.9zM481.4 56.8h0.9v0.9h-0.9zM487.1 55.7h0.9v0.9h-0.9zM486.8 61.4h0.9v0.9h-0.9zM484.4 55.4h0.9v0.9h-0.9zM484.1 46.9h0.9v0.9h-0.9zM484.2 53.5h0.9v0.9h-0.9zM481.1 55.0h0.9v0.9h-0.9zM482.5 41.7h0.9v0.9h-0.9zM483.0 62.4h0.9v0.9h-0.9z" fill="#DB5A1C"/><path d="M482.8 44.6h0.9v0.9h-0.9zM480.5 50.8h0.9v0.9h-0.9zM481.2 61.8h0.9v0.9h-0.9zM480.5 65.3h0.9v0.9h-0.9zM484.3 42.7h0.9v0.9h-0.9zM479.3 57.8h0.9v0.9h-0.9zM485.5 70.5h0.9v0.9h-0.9zM485.9 45.0h0.9v0.9h-0.9zM484.1 56.8h0.9v0.9h-0.9zM483.4 68.4h0.9v0.9h-0.9zM487.1 45.5h0.9v0.9h-0.9zM481.0 52.8h0.9v0.9h-0.9zM485.2 48.7h0.9v0.9h-0.9z" fill="#ffffff"/></g><polygon points="484.0,40.3 490.0,40.5 492.4,47.0 488.0,53.0 485.0,47.0" fill="#9C88D8" fill-opacity="0.75" filter="url(#bl)"/><g><path d="M484.3 42.5h0.9v0.9h-0.9zM489.5 45.0h0.9v0.9h-0.9zM489.3 47.2h0.9v0.9h-0.9zM490.7 43.4h0.9v0.9h-0.9zM486.1 41.6h0.9v0.9h-0.9zM485.4 42.4h0.9v0.9h-0.9zM484.6 45.6h0.9v0.9h-0.9zM488.8 40.2h0.9v0.9h-0.9zM488.6 42.7h0.9v0.9h-0.9zM485.1 46.9h0.9v0.9h-0.9zM487.7 51.5h0.9v0.9h-0.9zM486.4 48.1h0.9v0.9h-0.9zM487.1 49.2h0.9v0.9h-0.9zM485.3 44.5h0.9v0.9h-0.9zM487.6 49.4h0.9v0.9h-0.9zM487.7 51.3h0.9v0.9h-0.9zM485.1 42.5h0.9v0.9h-0.9zM489.2 43.4h0.9v0.9h-0.9zM488.0 40.1h0.9v0.9h-0.9z" fill="#7F78CF"/><path d="M488.9 49.9h0.9v0.9h-0.9zM486.5 47.6h0.9v0.9h-0.9zM487.3 40.3h0.9v0.9h-0.9zM488.3 49.6h0.9v0.9h-0.9zM486.2 48.1h0.9v0.9h-0.9zM485.2 47.2h0.9v0.9h-0.9zM488.4 50.2h0.9v0.9h-0.9zM490.1 42.2h0.9v0.9h-0.9zM488.5 40.7h0.9v0.9h-0.9zM490.9 46.1h0.9v0.9h-0.9zM490.3 47.2h0.9v0.9h-0.9zM488.5 41.4h0.9v0.9h-0.9zM490.2 45.6h0.9v0.9h-0.9zM486.5 40.0h0.9v0.9h-0.9z" fill="#D2B4F0"/></g><polygon points="479.0,47.0 480.0,41.5 482.5,41.5 483.0,56.0 486.0,73.0 482.0,72.0 480.0,62.0" fill="#D87038" fill-opacity="0.35" filter="url(#bl)"/><g><path d="M480.2 48.3h0.9v0.9h-0.9zM481.8 53.2h0.9v0.9h-0.9zM480.2 62.2h0.9v0.9h-0.9zM481.7 58.5h0.9v0.9h-0.9zM481.0 53.6h0.9v0.9h-0.9zM479.6 47.6h0.9v0.9h-0.9zM480.1 62.1h0.9v0.9h-0.9zM479.4 57.1h0.9v0.9h-0.9zM480.3 45.9h0.9v0.9h-0.9zM479.5 52.9h0.9v0.9h-0.9zM481.3 51.7h0.9v0.9h-0.9zM484.8 71.5h0.9v0.9h-0.9zM481.7 62.5h0.9v0.9h-0.9zM481.0 61.5h0.9v0.9h-0.9zM481.5 59.5h0.9v0.9h-0.9zM480.1 49.6h0.9v0.9h-0.9zM481.6 44.3h0.9v0.9h-0.9zM479.0 46.7h0.9v0.9h-0.9zM480.8 62.9h0.9v0.9h-0.9zM479.8 47.8h0.9v0.9h-0.9zM481.0 53.3h0.9v0.9h-0.9zM481.0 57.5h0.9v0.9h-0.9zM479.5 46.5h0.9v0.9h-0.9zM481.8 48.3h0.9v0.9h-0.9zM483.2 63.1h0.9v0.9h-0.9zM483.5 70.4h0.9v0.9h-0.9zM480.9 66.3h0.9v0.9h-0.9zM480.3 59.1h0.9v0.9h-0.9zM481.8 60.2h0.9v0.9h-0.9zM481.7 53.2h0.9v0.9h-0.9zM482.5 69.1h0.9v0.9h-0.9zM484.6 71.5h0.9v0.9h-0.9zM481.6 42.9h0.9v0.9h-0.9zM479.9 56.6h0.9v0.9h-0.9zM479.4 46.8h0.9v0.9h-0.9zM479.0 51.6h0.9v0.9h-0.9zM481.8 66.6h0.9v0.9h-0.9zM482.7 59.4h0.9v0.9h-0.9zM481.9 44.4h0.9v0.9h-0.9z" fill="#DB5A1C"/><path d="M480.4 55.5h0.9v0.9h-0.9zM479.2 46.3h0.9v0.9h-0.9zM483.3 60.4h0.9v0.9h-0.9zM480.1 55.3h0.9v0.9h-0.9zM480.7 56.2h0.9v0.9h-0.9zM482.1 46.6h0.9v0.9h-0.9zM479.1 52.9h0.9v0.9h-0.9zM481.4 54.2h0.9v0.9h-0.9zM481.1 63.4h0.9v0.9h-0.9zM482.0 57.3h0.9v0.9h-0.9zM480.1 52.2h0.9v0.9h-0.9zM483.8 71.1h0.9v0.9h-0.9zM481.3 47.1h0.9v0.9h-0.9zM479.0 48.0h0.9v0.9h-0.9zM481.6 65.1h0.9v0.9h-0.9zM479.6 41.9h0.9v0.9h-0.9zM479.8 50.8h0.9v0.9h-0.9zM481.4 51.9h0.9v0.9h-0.9zM480.6 41.5h0.9v0.9h-0.9zM482.1 44.8h0.9v0.9h-0.9zM482.3 71.6h0.9v0.9h-0.9zM482.6 57.9h0.9v0.9h-0.9zM484.5 69.4h0.9v0.9h-0.9zM483.8 66.4h0.9v0.9h-0.9zM482.6 69.7h0.9v0.9h-0.9zM484.6 67.6h0.9v0.9h-0.9zM483.9 65.2h0.9v0.9h-0.9zM483.2 65.8h0.9v0.9h-0.9zM481.8 51.3h0.9v0.9h-0.9zM481.2 55.6h0.9v0.9h-0.9zM481.1 42.9h0.9v0.9h-0.9z" fill="#EB6E25"/><path d="M483.8 63.6h0.9v0.9h-0.9zM482.2 65.5h0.9v0.9h-0.9zM479.2 51.4h0.9v0.9h-0.9zM478.7 47.1h0.9v0.9h-0.9zM482.1 63.3h0.9v0.9h-0.9zM478.6 46.7h0.9v0.9h-0.9zM481.9 41.5h0.9v0.9h-0.9zM479.6 59.3h0.9v0.9h-0.9zM482.0 46.9h0.9v0.9h-0.9zM481.2 53.1h0.9v0.9h-0.9z" fill="#52B589"/><path d="M480.0 60.3h0.9v0.9h-0.9zM481.4 70.6h0.9v0.9h-0.9zM481.1 41.4h0.9v0.9h-0.9zM481.8 58.6h0.9v0.9h-0.9zM484.4 69.6h0.9v0.9h-0.9zM481.2 42.9h0.9v0.9h-0.9zM480.2 44.4h0.9v0.9h-0.9zM481.2 56.5h0.9v0.9h-0.9zM481.2 56.2h0.9v0.9h-0.9zM481.1 56.7h0.9v0.9h-0.9z" fill="#D2B4F0"/></g><g><path d="M493.6 69.1h0.9v0.9h-0.9zM498.4 67.1h0.9v0.9h-0.9zM490.9 64.6h0.9v0.9h-0.9zM497.7 67.4h0.9v0.9h-0.9zM494.6 64.8h0.9v0.9h-0.9zM496.9 62.6h0.9v0.9h-0.9zM493.4 62.6h0.9v0.9h-0.9zM494.4 66.6h0.9v0.9h-0.9zM495.5 63.7h0.9v0.9h-0.9zM493.2 68.5h0.9v0.9h-0.9zM497.0 67.1h0.9v0.9h-0.9zM498.4 65.6h0.9v0.9h-0.9zM491.4 67.2h0.9v0.9h-0.9zM493.9 68.4h0.9v0.9h-0.9zM493.9 66.4h0.9v0.9h-0.9zM492.1 66.7h0.9v0.9h-0.9zM495.0 64.0h0.9v0.9h-0.9zM492.7 66.9h0.9v0.9h-0.9zM495.1 68.3h0.9v0.9h-0.9zM497.0 67.9h0.9v0.9h-0.9zM492.1 61.5h0.9v0.9h-0.9zM494.3 69.5h0.9v0.9h-0.9zM496.0 67.3h0.9v0.9h-0.9zM497.9 64.4h0.9v0.9h-0.9zM491.2 66.6h0.9v0.9h-0.9zM492.2 63.3h0.9v0.9h-0.9zM495.0 67.2h0.9v0.9h-0.9zM491.6 64.6h0.9v0.9h-0.9zM492.8 68.2h0.9v0.9h-0.9zM492.5 69.1h0.9v0.9h-0.9zM492.0 67.8h0.9v0.9h-0.9zM495.9 69.4h0.9v0.9h-0.9z" fill="#A67628"/><path d="M495.8 62.6h0.9v0.9h-0.9zM497.0 68.5h0.9v0.9h-0.9zM493.1 63.1h0.9v0.9h-0.9zM493.8 66.9h0.9v0.9h-0.9zM494.1 68.0h0.9v0.9h-0.9zM493.3 69.2h0.9v0.9h-0.9zM492.8 62.1h0.9v0.9h-0.9zM493.7 61.2h0.9v0.9h-0.9zM493.9 66.1h0.9v0.9h-0.9zM492.2 62.7h0.9v0.9h-0.9zM495.2 69.4h0.9v0.9h-0.9zM490.2 61.9h0.9v0.9h-0.9zM495.4 65.8h0.9v0.9h-0.9zM495.9 69.8h0.9v0.9h-0.9zM494.6 67.6h0.9v0.9h-0.9zM491.7 66.2h0.9v0.9h-0.9zM494.1 61.3h0.9v0.9h-0.9zM492.9 64.6h0.9v0.9h-0.9zM494.4 66.1h0.9v0.9h-0.9z" fill="#D9A42E"/></g><g><path d="M503.4 47.8h0.9v0.9h-0.9zM499.5 50.7h0.9v0.9h-0.9zM503.5 47.6h0.9v0.9h-0.9zM499.9 49.4h0.9v0.9h-0.9zM498.5 49.1h0.9v0.9h-0.9zM497.3 54.0h0.9v0.9h-0.9zM501.8 48.2h0.9v0.9h-0.9zM500.3 50.1h0.9v0.9h-0.9zM492.5 52.4h0.9v0.9h-0.9zM498.1 47.7h0.9v0.9h-0.9zM492.9 49.8h0.9v0.9h-0.9zM493.3 50.3h0.9v0.9h-0.9zM494.2 49.0h0.9v0.9h-0.9zM499.0 52.0h0.9v0.9h-0.9zM505.0 46.7h0.9v0.9h-0.9zM505.7 47.5h0.9v0.9h-0.9zM497.7 52.2h0.9v0.9h-0.9zM493.5 49.3h0.9v0.9h-0.9zM494.2 53.4h0.9v0.9h-0.9zM497.4 53.4h0.9v0.9h-0.9zM504.3 46.6h0.9v0.9h-0.9zM498.0 49.0h0.9v0.9h-0.9zM497.8 51.6h0.9v0.9h-0.9zM505.8 46.2h0.9v0.9h-0.9zM495.4 52.5h0.9v0.9h-0.9zM500.8 49.9h0.9v0.9h-0.9zM493.4 50.8h0.9v0.9h-0.9zM499.4 48.0h0.9v0.9h-0.9zM495.2 49.5h0.9v0.9h-0.9z" fill="#E0338C"/><path d="M495.8 48.3h0.9v0.9h-0.9zM497.1 51.1h0.9v0.9h-0.9zM495.6 51.5h0.9v0.9h-0.9zM499.2 48.3h0.9v0.9h-0.9zM497.2 49.1h0.9v0.9h-0.9zM499.7 51.6h0.9v0.9h-0.9zM495.7 51.4h0.9v0.9h-0.9zM493.2 51.2h0.9v0.9h-0.9zM498.5 48.9h0.9v0.9h-0.9zM500.4 47.7h0.9v0.9h-0.9zM493.2 51.5h0.9v0.9h-0.9zM499.7 52.0h0.9v0.9h-0.9zM507.6 46.9h0.9v0.9h-0.9zM492.4 51.5h0.9v0.9h-0.9zM501.4 48.2h0.9v0.9h-0.9zM506.9 46.6h0.9v0.9h-0.9zM494.8 51.0h0.9v0.9h-0.9zM498.1 52.1h0.9v0.9h-0.9zM498.1 49.4h0.9v0.9h-0.9zM500.1 50.9h0.9v0.9h-0.9zM496.5 53.5h0.9v0.9h-0.9z" fill="#DE3FA0"/></g><g><path d="M532.5 58.0h0.9v0.9h-0.9zM533.3 58.8h0.9v0.9h-0.9zM527.4 63.8h0.9v0.9h-0.9zM532.2 51.8h0.9v0.9h-0.9zM543.5 64.9h0.9v0.9h-0.9zM532.4 57.8h0.9v0.9h-0.9zM539.3 62.5h0.9v0.9h-0.9zM544.3 66.1h0.9v0.9h-0.9zM535.9 68.6h0.9v0.9h-0.9zM530.8 61.6h0.9v0.9h-0.9zM529.5 58.8h0.9v0.9h-0.9zM533.9 66.9h0.9v0.9h-0.9zM527.2 59.8h0.9v0.9h-0.9zM543.8 63.8h0.9v0.9h-0.9zM533.1 68.0h0.9v0.9h-0.9zM532.4 53.7h0.9v0.9h-0.9zM536.2 59.8h0.9v0.9h-0.9zM528.3 51.8h0.9v0.9h-0.9zM532.3 64.7h0.9v0.9h-0.9zM527.9 56.4h0.9v0.9h-0.9zM537.4 65.9h0.9v0.9h-0.9zM536.2 66.2h0.9v0.9h-0.9zM540.3 69.8h0.9v0.9h-0.9zM531.4 55.0h0.9v0.9h-0.9zM531.8 57.6h0.9v0.9h-0.9zM535.5 64.6h0.9v0.9h-0.9zM527.5 60.8h0.9v0.9h-0.9zM525.3 60.9h0.9v0.9h-0.9zM534.7 68.6h0.9v0.9h-0.9zM535.2 58.8h0.9v0.9h-0.9zM539.4 62.0h0.9v0.9h-0.9zM525.9 54.6h0.9v0.9h-0.9zM526.4 62.9h0.9v0.9h-0.9zM531.6 64.8h0.9v0.9h-0.9zM527.4 59.3h0.9v0.9h-0.9zM539.6 67.7h0.9v0.9h-0.9zM526.9 61.5h0.9v0.9h-0.9zM529.9 54.9h0.9v0.9h-0.9zM529.8 70.3h0.9v0.9h-0.9zM535.6 63.7h0.9v0.9h-0.9zM531.8 63.0h0.9v0.9h-0.9zM535.7 69.5h0.9v0.9h-0.9zM542.0 69.2h0.9v0.9h-0.9z" fill="#A8D4E4"/><path d="M521.5 50.5h0.9v0.9h-0.9zM529.3 63.6h0.9v0.9h-0.9zM530.6 55.1h0.9v0.9h-0.9zM540.6 65.8h0.9v0.9h-0.9zM543.4 68.6h0.9v0.9h-0.9zM541.8 61.7h0.9v0.9h-0.9zM525.6 52.8h0.9v0.9h-0.9zM523.2 49.5h0.9v0.9h-0.9zM524.6 55.8h0.9v0.9h-0.9zM542.6 66.0h0.9v0.9h-0.9zM538.6 60.5h0.9v0.9h-0.9zM537.0 58.0h0.9v0.9h-0.9zM529.1 58.2h0.9v0.9h-0.9zM533.1 60.3h0.9v0.9h-0.9zM535.0 59.2h0.9v0.9h-0.9zM538.1 64.1h0.9v0.9h-0.9zM539.0 68.2h0.9v0.9h-0.9zM538.4 64.7h0.9v0.9h-0.9zM541.0 62.0h0.9v0.9h-0.9zM541.1 61.4h0.9v0.9h-0.9zM542.9 65.7h0.9v0.9h-0.9zM527.1 62.0h0.9v0.9h-0.9zM532.7 57.2h0.9v0.9h-0.9zM523.8 57.0h0.9v0.9h-0.9zM526.0 50.1h0.9v0.9h-0.9zM532.3 66.9h0.9v0.9h-0.9zM533.0 66.5h0.9v0.9h-0.9zM526.4 54.4h0.9v0.9h-0.9zM526.6 54.7h0.9v0.9h-0.9zM530.0 56.6h0.9v0.9h-0.9zM526.5 55.8h0.9v0.9h-0.9zM540.6 66.4h0.9v0.9h-0.9zM543.0 62.4h0.9v0.9h-0.9zM524.7 57.4h0.9v0.9h-0.9zM523.8 58.3h0.9v0.9h-0.9zM530.9 59.1h0.9v0.9h-0.9zM528.8 57.6h0.9v0.9h-0.9zM529.1 50.7h0.9v0.9h-0.9zM533.5 53.6h0.9v0.9h-0.9zM526.2 61.7h0.9v0.9h-0.9zM532.2 52.2h0.9v0.9h-0.9zM529.3 64.4h0.9v0.9h-0.9zM526.8 52.9h0.9v0.9h-0.9zM531.8 63.7h0.9v0.9h-0.9zM532.4 62.7h0.9v0.9h-0.9zM521.9 46.9h0.9v0.9h-0.9zM535.8 67.4h0.9v0.9h-0.9zM538.3 67.9h0.9v0.9h-0.9zM534.9 66.9h0.9v0.9h-0.9zM534.7 67.6h0.9v0.9h-0.9zM536.2 63.7h0.9v0.9h-0.9zM535.3 55.7h0.9v0.9h-0.9zM533.5 64.9h0.9v0.9h-0.9zM528.7 56.1h0.9v0.9h-0.9zM537.5 66.5h0.9v0.9h-0.9zM526.7 63.6h0.9v0.9h-0.9zM528.7 62.3h0.9v0.9h-0.9zM539.6 63.3h0.9v0.9h-0.9z" fill="#D9CCB2"/></g><g><path d="M543.2 44.1h0.9v0.9h-0.9zM547.9 35.5h0.9v0.9h-0.9zM542.4 51.1h0.9v0.9h-0.9zM543.8 36.4h0.9v0.9h-0.9zM542.9 38.9h0.9v0.9h-0.9zM540.0 42.4h0.9v0.9h-0.9zM546.1 51.3h0.9v0.9h-0.9zM544.9 51.3h0.9v0.9h-0.9zM544.5 32.5h0.9v0.9h-0.9zM541.3 50.2h0.9v0.9h-0.9zM537.0 37.3h0.9v0.9h-0.9zM536.3 42.7h0.9v0.9h-0.9zM537.9 41.9h0.9v0.9h-0.9zM543.3 41.7h0.9v0.9h-0.9zM538.6 35.2h0.9v0.9h-0.9zM539.6 38.1h0.9v0.9h-0.9zM539.2 44.0h0.9v0.9h-0.9zM536.0 37.3h0.9v0.9h-0.9zM547.9 40.7h0.9v0.9h-0.9zM541.8 47.5h0.9v0.9h-0.9zM536.3 32.8h0.9v0.9h-0.9zM545.5 42.2h0.9v0.9h-0.9zM543.0 38.0h0.9v0.9h-0.9zM539.6 49.0h0.9v0.9h-0.9zM545.5 38.0h0.9v0.9h-0.9zM545.7 46.0h0.9v0.9h-0.9zM540.0 46.3h0.9v0.9h-0.9zM538.9 35.8h0.9v0.9h-0.9zM541.4 45.3h0.9v0.9h-0.9zM546.5 50.0h0.9v0.9h-0.9zM537.0 36.1h0.9v0.9h-0.9zM540.8 37.2h0.9v0.9h-0.9zM544.2 45.5h0.9v0.9h-0.9zM537.9 48.5h0.9v0.9h-0.9zM540.7 37.1h0.9v0.9h-0.9zM542.4 51.7h0.9v0.9h-0.9zM542.3 42.3h0.9v0.9h-0.9zM541.9 41.9h0.9v0.9h-0.9zM536.0 34.8h0.9v0.9h-0.9zM547.5 37.0h0.9v0.9h-0.9zM546.9 39.3h0.9v0.9h-0.9zM547.8 37.3h0.9v0.9h-0.9zM542.1 41.6h0.9v0.9h-0.9zM546.1 46.6h0.9v0.9h-0.9zM548.3 36.2h0.9v0.9h-0.9zM541.7 49.2h0.9v0.9h-0.9zM539.6 40.6h0.9v0.9h-0.9zM538.8 51.0h0.9v0.9h-0.9zM544.8 42.3h0.9v0.9h-0.9zM546.8 40.5h0.9v0.9h-0.9zM540.4 48.1h0.9v0.9h-0.9zM542.5 37.7h0.9v0.9h-0.9zM542.0 45.7h0.9v0.9h-0.9zM543.8 40.2h0.9v0.9h-0.9zM538.3 44.7h0.9v0.9h-0.9zM544.1 37.3h0.9v0.9h-0.9zM541.1 43.8h0.9v0.9h-0.9zM538.5 47.3h0.9v0.9h-0.9zM535.4 39.7h0.9v0.9h-0.9zM537.1 49.5h0.9v0.9h-0.9zM540.8 40.3h0.9v0.9h-0.9zM544.9 38.2h0.9v0.9h-0.9zM548.1 41.3h0.9v0.9h-0.9zM543.8 48.6h0.9v0.9h-0.9zM546.3 35.1h0.9v0.9h-0.9zM546.2 49.0h0.9v0.9h-0.9zM536.3 45.2h0.9v0.9h-0.9zM541.4 53.4h0.9v0.9h-0.9zM542.7 50.3h0.9v0.9h-0.9zM542.5 34.4h0.9v0.9h-0.9zM540.4 49.3h0.9v0.9h-0.9z" fill="#EAF58A"/><path d="M547.6 45.5h0.9v0.9h-0.9zM544.9 52.5h0.9v0.9h-0.9zM543.3 32.3h0.9v0.9h-0.9zM543.4 47.6h0.9v0.9h-0.9zM537.2 47.3h0.9v0.9h-0.9zM536.6 36.2h0.9v0.9h-0.9zM546.8 37.4h0.9v0.9h-0.9zM548.5 36.8h0.9v0.9h-0.9z" fill="#E0338C"/></g><circle cx="569.1" cy="8.50" r="2.2" fill="#F4A6A8"/><text x="577.10" y="10.50" font-size="5.7" text-anchor="start" fill="#000" stroke="#000" stroke-width="0.12">B intermediate</text><circle cx="569.1" cy="16.98" r="2.2" fill="#AFCDE6"/><text x="577.10" y="18.98" font-size="5.7" text-anchor="start" fill="#000" stroke="#000" stroke-width="0.12">B memory</text><circle cx="569.1" cy="25.46" r="2.2" fill="#C9F5C2"/><text x="577.10" y="27.46" font-size="5.7" text-anchor="start" fill="#000" stroke="#000" stroke-width="0.12">B naive</text><circle cx="569.1" cy="33.94" r="2.2" fill="#D6BDF2"/><text x="577.10" y="35.94" font-size="5.7" text-anchor="start" fill="#000" stroke="#000" stroke-width="0.12">Plasmablast</text><circle cx="569.1" cy="42.42" r="2.2" fill="#EEC69A"/><text x="577.10" y="44.42" font-size="5.7" text-anchor="start" fill="#000" stroke="#000" stroke-width="0.12">CD4 Naive</text><circle cx="569.1" cy="50.90" r="2.2" fill="#EEF8C8"/><text x="577.10" y="52.90" font-size="5.7" text-anchor="start" fill="#000" stroke="#000" stroke-width="0.12">CD4 TCM</text><circle cx="569.1" cy="59.38" r="2.2" fill="#D9CCB2"/><text x="577.10" y="61.38" font-size="5.7" text-anchor="start" fill="#000" stroke="#000" stroke-width="0.12">CD4 TEM</text><circle cx="569.1" cy="67.86" r="2.2" fill="#F1C9EB"/><text x="577.10" y="69.86" font-size="5.7" text-anchor="start" fill="#000" stroke="#000" stroke-width="0.12">CD4 CTL</text><circle cx="569.1" cy="76.34" r="2.2" fill="#73E373"/><text x="577.10" y="78.34" font-size="5.7" text-anchor="start" fill="#000" stroke="#000" stroke-width="0.12">CD4 Proliferating</text><circle cx="569.1" cy="84.82" r="2.2" fill="#BBA6E8"/><text x="577.10" y="86.82" font-size="5.7" text-anchor="start" fill="#000" stroke="#000" stroke-width="0.12">CD8 Naive</text><circle cx="569.1" cy="93.30" r="2.2" fill="#F2B88A"/><text x="577.10" y="95.30" font-size="5.7" text-anchor="start" fill="#000" stroke="#000" stroke-width="0.12">CD8 TCM</text><circle cx="569.1" cy="101.78" r="2.2" fill="#EAF58A"/><text x="577.10" y="103.78" font-size="5.7" text-anchor="start" fill="#000" stroke="#000" stroke-width="0.12">CD8 TEM</text><circle cx="569.1" cy="110.26" r="2.2" fill="#3E64B0"/><text x="577.10" y="112.26" font-size="5.7" text-anchor="start" fill="#000" stroke="#000" stroke-width="0.12">CD8 Proliferating</text><circle cx="569.1" cy="118.74" r="2.2" fill="#E0338C"/><text x="577.10" y="120.74" font-size="5.7" text-anchor="start" fill="#000" stroke="#000" stroke-width="0.12">NK</text><circle cx="569.1" cy="127.22" r="2.2" fill="#B95A2A"/><text x="577.10" y="129.22" font-size="5.7" text-anchor="start" fill="#000" stroke="#000" stroke-width="0.12">NK Proliferating</text><circle cx="569.1" cy="135.70" r="2.2" fill="#55555A"/><text x="577.10" y="137.70" font-size="5.7" text-anchor="start" fill="#000" stroke="#000" stroke-width="0.12">NK_CD56bright</text><circle cx="569.1" cy="144.18" r="2.2" fill="#A8D4E4"/><text x="577.10" y="146.18" font-size="5.7" text-anchor="start" fill="#000" stroke="#000" stroke-width="0.12">Treg</text><circle cx="635.1" cy="8.50" r="2.2" fill="#3B72B0"/><text x="643.10" y="10.50" font-size="5.7" text-anchor="start" fill="#000" stroke="#000" stroke-width="0.12">dnT</text><circle cx="635.1" cy="16.98" r="2.2" fill="#B4F59A"/><text x="643.10" y="18.98" font-size="5.7" text-anchor="start" fill="#000" stroke="#000" stroke-width="0.12">gdT</text><circle cx="635.1" cy="25.46" r="2.2" fill="#3DA034"/><text x="643.10" y="27.46" font-size="5.7" text-anchor="start" fill="#000" stroke="#000" stroke-width="0.12">MAIT</text><circle cx="635.1" cy="33.94" r="2.2" fill="#F2A0A8"/><text x="643.10" y="35.94" font-size="5.7" text-anchor="start" fill="#000" stroke="#000" stroke-width="0.12">CCR7+macro</text><circle cx="635.1" cy="42.42" r="2.2" fill="#D0302A"/><text x="643.10" y="44.42" font-size="5.7" text-anchor="start" fill="#000" stroke="#000" stroke-width="0.12">CTSK+macro</text><circle cx="635.1" cy="50.90" r="2.2" fill="#EEB77A"/><text x="643.10" y="52.90" font-size="5.7" text-anchor="start" fill="#000" stroke="#000" stroke-width="0.12">CXCL10+macro</text><circle cx="635.1" cy="59.38" r="2.2" fill="#EB6E25"/><text x="643.10" y="61.38" font-size="5.7" text-anchor="start" fill="#000" stroke="#000" stroke-width="0.12">FOLR2+macro</text><circle cx="635.1" cy="67.86" r="2.2" fill="#D2B4F0"/><text x="643.10" y="69.86" font-size="5.7" text-anchor="start" fill="#000" stroke="#000" stroke-width="0.12">FTL+macro</text><circle cx="635.1" cy="76.34" r="2.2" fill="#6A2FB0"/><text x="643.10" y="78.34" font-size="5.7" text-anchor="start" fill="#000" stroke="#000" stroke-width="0.12">IG+macro</text><circle cx="635.1" cy="84.82" r="2.2" fill="#52B589"/><text x="643.10" y="86.82" font-size="5.7" text-anchor="start" fill="#000" stroke="#000" stroke-width="0.12">IL32+macro</text><circle cx="635.1" cy="93.30" r="2.2" fill="#DB5A1C"/><text x="643.10" y="95.30" font-size="5.7" text-anchor="start" fill="#000" stroke="#000" stroke-width="0.12">monocyte</text><circle cx="635.1" cy="101.78" r="2.2" fill="#7F78CF"/><text x="643.10" y="103.78" font-size="5.7" text-anchor="start" fill="#000" stroke="#000" stroke-width="0.12">SPP1+macro</text><circle cx="635.1" cy="110.26" r="2.2" fill="#DE3FA0"/><text x="643.10" y="112.26" font-size="5.7" text-anchor="start" fill="#000" stroke="#000" stroke-width="0.12">STMN1+macro</text><circle cx="635.1" cy="118.74" r="2.2" fill="#6DB535"/><text x="643.10" y="120.74" font-size="5.7" text-anchor="start" fill="#000" stroke="#000" stroke-width="0.12">ASDC</text><circle cx="635.1" cy="127.22" r="2.2" fill="#D9A42E"/><text x="643.10" y="129.22" font-size="5.7" text-anchor="start" fill="#000" stroke="#000" stroke-width="0.12">cDC1</text><circle cx="635.1" cy="135.70" r="2.2" fill="#A67628"/><text x="643.10" y="137.70" font-size="5.7" text-anchor="start" fill="#000" stroke="#000" stroke-width="0.12">cDC2</text><circle cx="635.1" cy="144.18" r="2.2" fill="#5A5A60"/><text x="643.10" y="146.18" font-size="5.7" text-anchor="start" fill="#000" stroke="#000" stroke-width="0.12">pDC</text><text x="2.00" y="191.00" font-size="14" text-anchor="start" fill="#000">d</text><text x="123.50" y="182.80" font-size="7.0" text-anchor="start" fill="#000" stroke="#000" stroke-width="0.22">cell type</text><rect x="157.40" y="176.80" width="7.80" height="7.60" fill="#8EE0BB"/><text x="169.60" y="182.80" font-size="7.0" text-anchor="start" fill="#000" stroke="#000" stroke-width="0.22">B-cell</text><rect x="203.80" y="176.80" width="7.80" height="7.60" fill="#EE8866"/><text x="216.00" y="182.80" font-size="7.0" text-anchor="start" fill="#000" stroke="#000" stroke-width="0.22">DC</text><rect x="239.20" y="176.80" width="7.80" height="7.60" fill="#8E9FCB"/><text x="251.40" y="182.80" font-size="7.0" text-anchor="start" fill="#000" stroke="#000" stroke-width="0.22">Mono/macro</text><rect x="297.00" y="176.80" width="7.80" height="7.60" fill="#DB87D0"/><text x="309.20" y="182.80" font-size="7.0" text-anchor="start" fill="#000" stroke="#000" stroke-width="0.22">T-cell</text><rect x="53.30" y="193.20" width="323.00" height="36.00" fill="#fff"/><line x1="67.80" y1="193.20" x2="67.80" y2="229.20" stroke="#EBEBEB" stroke-width="0.5"/><line x1="104.57" y1="193.20" x2="104.57" y2="229.20" stroke="#F4F4F4" stroke-width="0.5"/><line x1="141.35" y1="193.20" x2="141.35" y2="229.20" stroke="#EBEBEB" stroke-width="0.5"/><line x1="178.12" y1="193.20" x2="178.12" y2="229.20" stroke="#F4F4F4" stroke-width="0.5"/><line x1="214.90" y1="193.20" x2="214.90" y2="229.20" stroke="#EBEBEB" stroke-width="0.5"/><line x1="251.68" y1="193.20" x2="251.68" y2="229.20" stroke="#F4F4F4" stroke-width="0.5"/><line x1="288.45" y1="193.20" x2="288.45" y2="229.20" stroke="#EBEBEB" stroke-width="0.5"/><line x1="325.23" y1="193.20" x2="325.23" y2="229.20" stroke="#F4F4F4" stroke-width="0.5"/><line x1="362.00" y1="193.20" x2="362.00" y2="229.20" stroke="#EBEBEB" stroke-width="0.5"/><line x1="53.30" y1="202.50" x2="376.30" y2="202.50" stroke="#EBEBEB" stroke-width="0.5"/><line x1="53.30" y1="218.50" x2="376.30" y2="218.50" stroke="#EBEBEB" stroke-width="0.5"/><rect x="67.80" y="195.50" width="157.99" height="14.60" fill="#DB87D0"/><rect x="225.79" y="195.50" width="76.20" height="14.60" fill="#8E9FCB"/><rect x="301.98" y="195.50" width="20.89" height="14.60" fill="#EE8866"/><rect x="322.87" y="195.50" width="39.13" height="14.60" fill="#8EE0BB"/><rect x="67.80" y="211.90" width="162.99" height="14.60" fill="#DB87D0"/><rect x="230.79" y="211.90" width="75.32" height="14.60" fill="#8E9FCB"/><rect x="306.10" y="211.90" width="20.30" height="14.60" fill="#EE8866"/><rect x="326.40" y="211.90" width="35.60" height="14.60" fill="#8EE0BB"/><rect x="53.30" y="193.20" width="323.00" height="36.00" fill="none" stroke="#8a8a8a" stroke-width="0.8"/><line x1="51.70" y1="202.50" x2="53.30" y2="202.50" stroke="#333" stroke-width="0.5"/><line x1="51.70" y1="218.50" x2="53.30" y2="218.50" stroke="#333" stroke-width="0.5"/><text x="51.00" y="204.60" font-size="7.0" text-anchor="end" fill="#4D4D4D" stroke="#4D4D4D" stroke-width="0.22">Low</text><text x="51.00" y="220.70" font-size="7.0" text-anchor="end" fill="#4D4D4D" stroke="#4D4D4D" stroke-width="0.22">High</text><text x="35.90" y="208.00" font-size="7.2" text-anchor="middle" fill="#000" stroke="#000" stroke-width="0.22" transform="rotate(-90 35.9 208.0)">TNBC</text><line x1="67.80" y1="229.20" x2="67.80" y2="230.80" stroke="#333" stroke-width="0.5"/><text x="67.80" y="238.40" font-size="7.0" text-anchor="middle" fill="#4D4D4D" stroke="#4D4D4D" stroke-width="0.22">0</text><line x1="141.35" y1="229.20" x2="141.35" y2="230.80" stroke="#333" stroke-width="0.5"/><text x="141.35" y="238.40" font-size="7.0" text-anchor="middle" fill="#4D4D4D" stroke="#4D4D4D" stroke-width="0.22">25</text><line x1="214.90" y1="229.20" x2="214.90" y2="230.80" stroke="#333" stroke-width="0.5"/><text x="214.90" y="238.40" font-size="7.0" text-anchor="middle" fill="#4D4D4D" stroke="#4D4D4D" stroke-width="0.22">50</text><line x1="288.45" y1="229.20" x2="288.45" y2="230.80" stroke="#333" stroke-width="0.5"/><text x="288.45" y="238.40" font-size="7.0" text-anchor="middle" fill="#4D4D4D" stroke="#4D4D4D" stroke-width="0.22">75</text><line x1="362.00" y1="229.20" x2="362.00" y2="230.80" stroke="#333" stroke-width="0.5"/><text x="362.00" y="238.40" font-size="7.0" text-anchor="middle" fill="#4D4D4D" stroke="#4D4D4D" stroke-width="0.22">100</text><rect x="384.70" y="194.10" width="67.68" height="16.90" fill="#5B8DB8"/><rect x="384.70" y="211.00" width="112.80" height="17.10" fill="#DF4A3A"/><rect x="53.30" y="241.50" width="323.00" height="36.00" fill="#fff"/><line x1="67.80" y1="241.50" x2="67.80" y2="277.50" stroke="#EBEBEB" stroke-width="0.5"/><line x1="104.57" y1="241.50" x2="104.57" y2="277.50" stroke="#F4F4F4" stroke-width="0.5"/><line x1="141.35" y1="241.50" x2="141.35" y2="277.50" stroke="#EBEBEB" stroke-width="0.5"/><line x1="178.12" y1="241.50" x2="178.12" y2="277.50" stroke="#F4F4F4" stroke-width="0.5"/><line x1="214.90" y1="241.50" x2="214.90" y2="277.50" stroke="#EBEBEB" stroke-width="0.5"/><line x1="251.68" y1="241.50" x2="251.68" y2="277.50" stroke="#F4F4F4" stroke-width="0.5"/><line x1="288.45" y1="241.50" x2="288.45" y2="277.50" stroke="#EBEBEB" stroke-width="0.5"/><line x1="325.23" y1="241.50" x2="325.23" y2="277.50" stroke="#F4F4F4" stroke-width="0.5"/><line x1="362.00" y1="241.50" x2="362.00" y2="277.50" stroke="#EBEBEB" stroke-width="0.5"/><line x1="53.30" y1="250.80" x2="376.30" y2="250.80" stroke="#EBEBEB" stroke-width="0.5"/><line x1="53.30" y1="266.80" x2="376.30" y2="266.80" stroke="#EBEBEB" stroke-width="0.5"/><rect x="67.80" y="243.80" width="194.17" height="14.60" fill="#DB87D0"/><rect x="261.97" y="243.80" width="27.07" height="14.60" fill="#8E9FCB"/><rect x="289.04" y="243.80" width="16.48" height="14.60" fill="#EE8866"/><rect x="305.51" y="243.80" width="56.49" height="14.60" fill="#8EE0BB"/><rect x="67.80" y="260.20" width="136.51" height="14.60" fill="#DB87D0"/><rect x="204.31" y="260.20" width="97.09" height="14.60" fill="#8E9FCB"/><rect x="301.39" y="260.20" width="11.77" height="14.60" fill="#EE8866"/><rect x="313.16" y="260.20" width="48.84" height="14.60" fill="#8EE0BB"/><rect x="53.30" y="241.50" width="323.00" height="36.00" fill="none" stroke="#8a8a8a" stroke-width="0.8"/><line x1="51.70" y1="250.80" x2="53.30" y2="250.80" stroke="#333" stroke-width="0.5"/><line x1="51.70" y1="266.80" x2="53.30" y2="266.80" stroke="#333" stroke-width="0.5"/><text x="51.00" y="252.90" font-size="7.0" text-anchor="end" fill="#4D4D4D" stroke="#4D4D4D" stroke-width="0.22">Low</text><text x="51.00" y="269.00" font-size="7.0" text-anchor="end" fill="#4D4D4D" stroke="#4D4D4D" stroke-width="0.22">High</text><text x="35.90" y="256.30" font-size="7.2" text-anchor="middle" fill="#000" stroke="#000" stroke-width="0.22" transform="rotate(-90 35.9 256.3)">HR+</text><line x1="67.80" y1="277.50" x2="67.80" y2="279.10" stroke="#333" stroke-width="0.5"/><text x="67.80" y="286.70" font-size="7.0" text-anchor="middle" fill="#4D4D4D" stroke="#4D4D4D" stroke-width="0.22">0</text><line x1="141.35" y1="277.50" x2="141.35" y2="279.10" stroke="#333" stroke-width="0.5"/><text x="141.35" y="286.70" font-size="7.0" text-anchor="middle" fill="#4D4D4D" stroke="#4D4D4D" stroke-width="0.22">25</text><line x1="214.90" y1="277.50" x2="214.90" y2="279.10" stroke="#333" stroke-width="0.5"/><text x="214.90" y="286.70" font-size="7.0" text-anchor="middle" fill="#4D4D4D" stroke="#4D4D4D" stroke-width="0.22">50</text><line x1="288.45" y1="277.50" x2="288.45" y2="279.10" stroke="#333" stroke-width="0.5"/><text x="288.45" y="286.70" font-size="7.0" text-anchor="middle" fill="#4D4D4D" stroke="#4D4D4D" stroke-width="0.22">75</text><line x1="362.00" y1="277.50" x2="362.00" y2="279.10" stroke="#333" stroke-width="0.5"/><text x="362.00" y="286.70" font-size="7.0" text-anchor="middle" fill="#4D4D4D" stroke="#4D4D4D" stroke-width="0.22">100</text><rect x="384.70" y="242.40" width="67.68" height="16.90" fill="#5B8DB8"/><rect x="384.70" y="259.30" width="56.40" height="17.10" fill="#DF4A3A"/><rect x="53.30" y="289.60" width="323.00" height="36.00" fill="#fff"/><line x1="67.80" y1="289.60" x2="67.80" y2="325.60" stroke="#EBEBEB" stroke-width="0.5"/><line x1="104.57" y1="289.60" x2="104.57" y2="325.60" stroke="#F4F4F4" stroke-width="0.5"/><line x1="141.35" y1="289.60" x2="141.35" y2="325.60" stroke="#EBEBEB" stroke-width="0.5"/><line x1="178.12" y1="289.60" x2="178.12" y2="325.60" stroke="#F4F4F4" stroke-width="0.5"/><line x1="214.90" y1="289.60" x2="214.90" y2="325.60" stroke="#EBEBEB" stroke-width="0.5"/><line x1="251.68" y1="289.60" x2="251.68" y2="325.60" stroke="#F4F4F4" stroke-width="0.5"/><line x1="288.45" y1="289.60" x2="288.45" y2="325.60" stroke="#EBEBEB" stroke-width="0.5"/><line x1="325.23" y1="289.60" x2="325.23" y2="325.60" stroke="#F4F4F4" stroke-width="0.5"/><line x1="362.00" y1="289.60" x2="362.00" y2="325.60" stroke="#EBEBEB" stroke-width="0.5"/><line x1="53.30" y1="298.90" x2="376.30" y2="298.90" stroke="#EBEBEB" stroke-width="0.5"/><line x1="53.30" y1="314.90" x2="376.30" y2="314.90" stroke="#EBEBEB" stroke-width="0.5"/><rect x="67.80" y="291.90" width="48.84" height="14.60" fill="#DB87D0"/><rect x="116.64" y="291.90" width="236.83" height="14.60" fill="#8E9FCB"/><rect x="353.47" y="291.90" width="6.18" height="14.60" fill="#EE8866"/><rect x="359.65" y="291.90" width="2.35" height="14.60" fill="#8EE0BB"/><rect x="67.80" y="308.30" width="238.60" height="14.60" fill="#DB87D0"/><rect x="306.40" y="308.30" width="32.07" height="14.60" fill="#8E9FCB"/><rect x="338.46" y="308.30" width="11.18" height="14.60" fill="#EE8866"/><rect x="349.64" y="308.30" width="12.36" height="14.60" fill="#8EE0BB"/><rect x="53.30" y="289.60" width="323.00" height="36.00" fill="none" stroke="#8a8a8a" stroke-width="0.8"/><line x1="51.70" y1="298.90" x2="53.30" y2="298.90" stroke="#333" stroke-width="0.5"/><line x1="51.70" y1="314.90" x2="53.30" y2="314.90" stroke="#333" stroke-width="0.5"/><text x="51.00" y="301.00" font-size="7.0" text-anchor="end" fill="#4D4D4D" stroke="#4D4D4D" stroke-width="0.22">Low</text><text x="51.00" y="317.10" font-size="7.0" text-anchor="end" fill="#4D4D4D" stroke="#4D4D4D" stroke-width="0.22">High</text><text x="35.90" y="304.40" font-size="7.2" text-anchor="middle" fill="#000" stroke="#000" stroke-width="0.22" transform="rotate(-90 35.9 304.40000000000003)">HER2+</text><line x1="67.80" y1="325.60" x2="67.80" y2="327.20" stroke="#333" stroke-width="0.5"/><text x="67.80" y="334.80" font-size="7.0" text-anchor="middle" fill="#4D4D4D" stroke="#4D4D4D" stroke-width="0.22">0</text><line x1="141.35" y1="325.60" x2="141.35" y2="327.20" stroke="#333" stroke-width="0.5"/><text x="141.35" y="334.80" font-size="7.0" text-anchor="middle" fill="#4D4D4D" stroke="#4D4D4D" stroke-width="0.22">25</text><line x1="214.90" y1="325.60" x2="214.90" y2="327.20" stroke="#333" stroke-width="0.5"/><text x="214.90" y="334.80" font-size="7.0" text-anchor="middle" fill="#4D4D4D" stroke="#4D4D4D" stroke-width="0.22">50</text><line x1="288.45" y1="325.60" x2="288.45" y2="327.20" stroke="#333" stroke-width="0.5"/><text x="288.45" y="334.80" font-size="7.0" text-anchor="middle" fill="#4D4D4D" stroke="#4D4D4D" stroke-width="0.22">75</text><line x1="362.00" y1="325.60" x2="362.00" y2="327.20" stroke="#333" stroke-width="0.5"/><text x="362.00" y="334.80" font-size="7.0" text-anchor="middle" fill="#4D4D4D" stroke="#4D4D4D" stroke-width="0.22">100</text><rect x="384.70" y="290.50" width="11.28" height="16.90" fill="#5B8DB8"/><rect x="384.70" y="307.40" width="33.84" height="17.10" fill="#DF4A3A"/><text x="218.60" y="352.00" font-size="7.2" text-anchor="middle" fill="#000" stroke="#000" stroke-width="0.22">Proportion</text><line x1="382.30" y1="337.90" x2="502.40" y2="337.90" stroke="#333" stroke-width="0.6"/><line x1="384.70" y1="337.90" x2="384.70" y2="339.50" stroke="#333" stroke-width="0.5"/><text x="384.70" y="345.60" font-size="7.0" text-anchor="middle" fill="#4D4D4D" stroke="#4D4D4D" stroke-width="0.22">0</text><line x1="407.26" y1="337.90" x2="407.26" y2="339.50" stroke="#333" stroke-width="0.5"/><text x="407.26" y="345.60" font-size="7.0" text-anchor="middle" fill="#4D4D4D" stroke="#4D4D4D" stroke-width="0.22">2</text><line x1="429.82" y1="337.90" x2="429.82" y2="339.50" stroke="#333" stroke-width="0.5"/><text x="429.82" y="345.60" font-size="7.0" text-anchor="middle" fill="#4D4D4D" stroke="#4D4D4D" stroke-width="0.22">4</text><line x1="452.38" y1="337.90" x2="452.38" y2="339.50" stroke="#333" stroke-width="0.5"/><text x="452.38" y="345.60" font-size="7.0" text-anchor="middle" fill="#4D4D4D" stroke="#4D4D4D" stroke-width="0.22">6</text><line x1="474.94" y1="337.90" x2="474.94" y2="339.50" stroke="#333" stroke-width="0.5"/><text x="474.94" y="345.60" font-size="7.0" text-anchor="middle" fill="#4D4D4D" stroke="#4D4D4D" stroke-width="0.22">8</text><line x1="497.50" y1="337.90" x2="497.50" y2="339.50" stroke="#333" stroke-width="0.5"/><text x="497.50" y="345.60" font-size="7.0" text-anchor="middle" fill="#4D4D4D" stroke="#4D4D4D" stroke-width="0.22">10</text><text x="445.10" y="351.80" font-size="7.2" text-anchor="middle" fill="#000" stroke="#000" stroke-width="0.22">Sample size</text><text x="509.50" y="251.90" font-size="7.2" text-anchor="start" fill="#000" stroke="#000" stroke-width="0.22">TIL level</text><rect x="509.50" y="255.70" width="7.60" height="7.70" fill="#DF4A3A"/><rect x="509.50" y="263.40" width="7.60" height="8.00" fill="#5B8DB8"/><text x="520.20" y="261.30" font-size="7.0" text-anchor="start" fill="#000" stroke="#000" stroke-width="0.22">High</text><text x="520.20" y="270.20" font-size="7.0" text-anchor="start" fill="#000" stroke="#000" stroke-width="0.22">Low</text><text x="4.60" y="393.80" font-size="14" text-anchor="start" fill="#000">e</text><text x="66.60" y="413.50" font-size="7.0" text-anchor="start" fill="#000" stroke="#000" stroke-width="0.22">detailed cell type</text><rect x="130.30" y="398.80" width="10.80" height="11.10" fill="#AFF1DE"/><rect x="130.30" y="409.90" width="10.80" height="11.60" fill="#F1F5B9"/><text x="144.30" y="406.80" font-size="7.0" text-anchor="start" fill="#000" stroke="#000" stroke-width="0.22">monocyte</text><text x="144.30" y="418.50" font-size="7.0" text-anchor="start" fill="#000" stroke="#000" stroke-width="0.22">FTL+macro</text><rect x="182.00" y="398.80" width="10.80" height="11.10" fill="#C2BDE6"/><rect x="182.00" y="409.90" width="10.80" height="11.60" fill="#F07F7A"/><text x="196.00" y="406.80" font-size="7.0" text-anchor="start" fill="#000" stroke="#000" stroke-width="0.22">FOLR2+macro</text><text x="196.00" y="418.50" font-size="7.0" text-anchor="start" fill="#000" stroke="#000" stroke-width="0.22">SPP1+macro</text><rect x="244.10" y="398.80" width="10.80" height="11.10" fill="#88AFC8"/><rect x="244.10" y="409.90" width="10.80" height="11.60" fill="#EBAA6C"/><text x="258.10" y="406.80" font-size="7.0" text-anchor="start" fill="#000" stroke="#000" stroke-width="0.22">IL32+macro</text><text x="258.10" y="418.50" font-size="7.0" text-anchor="start" fill="#000" stroke="#000" stroke-width="0.22">CCR7+macro</text><rect x="302.20" y="398.80" width="10.80" height="11.10" fill="#C4ED73"/><rect x="302.20" y="409.90" width="10.80" height="11.60" fill="#F1C6E4"/><text x="316.20" y="406.80" font-size="7.0" text-anchor="start" fill="#000" stroke="#000" stroke-width="0.22">CXCL10+macro</text><text x="316.20" y="418.50" font-size="7.0" text-anchor="start" fill="#000" stroke="#000" stroke-width="0.22">STMN1+macro</text><rect x="369.00" y="398.80" width="10.80" height="11.10" fill="#D6D6D6"/><rect x="369.00" y="409.90" width="10.80" height="11.60" fill="#C67CE3"/><text x="383.00" y="406.80" font-size="7.0" text-anchor="start" fill="#000" stroke="#000" stroke-width="0.22">CTSK+macro</text><text x="383.00" y="418.50" font-size="7.0" text-anchor="start" fill="#000" stroke="#000" stroke-width="0.22">IG+macro</text><line x1="77.20" y1="434.40" x2="77.20" y2="517.30" stroke="#EBEBEB" stroke-width="0.5"/><line x1="118.66" y1="434.40" x2="118.66" y2="517.30" stroke="#F4F4F4" stroke-width="0.5"/><line x1="160.12" y1="434.40" x2="160.12" y2="517.30" stroke="#EBEBEB" stroke-width="0.5"/><line x1="201.59" y1="434.40" x2="201.59" y2="517.30" stroke="#F4F4F4" stroke-width="0.5"/><line x1="243.05" y1="434.40" x2="243.05" y2="517.30" stroke="#EBEBEB" stroke-width="0.5"/><line x1="284.51" y1="434.40" x2="284.51" y2="517.30" stroke="#F4F4F4" stroke-width="0.5"/><line x1="325.97" y1="434.40" x2="325.97" y2="517.30" stroke="#EBEBEB" stroke-width="0.5"/><line x1="367.44" y1="434.40" x2="367.44" y2="517.30" stroke="#F4F4F4" stroke-width="0.5"/><line x1="408.90" y1="434.40" x2="408.90" y2="517.30" stroke="#EBEBEB" stroke-width="0.5"/><line x1="60.70" y1="456.70" x2="425.40" y2="456.70" stroke="#EBEBEB" stroke-width="0.5"/><line x1="60.70" y1="494.20" x2="425.40" y2="494.20" stroke="#EBEBEB" stroke-width="0.5"/><rect x="77.20" y="439.90" width="3.50" height="33.90" fill="#C67CE3"/><rect x="80.70" y="439.90" width="2.30" height="33.90" fill="#D6D6D6"/><rect x="83.00" y="439.90" width="15.60" height="33.90" fill="#F1C6E4"/><rect x="98.60" y="439.90" width="24.10" height="33.90" fill="#C4ED73"/><rect x="122.70" y="439.90" width="9.80" height="33.90" fill="#EBAA6C"/><rect x="132.50" y="439.90" width="53.50" height="33.90" fill="#88AFC8"/><rect x="186.00" y="439.90" width="13.10" height="33.90" fill="#F07F7A"/><rect x="199.10" y="439.90" width="63.60" height="33.90" fill="#C2BDE6"/><rect x="262.70" y="439.90" width="87.50" height="33.90" fill="#F1F5B9"/><rect x="350.20" y="439.90" width="58.70" height="33.90" fill="#AFF1DE"/><rect x="77.20" y="477.90" width="8.00" height="34.10" fill="#C67CE3"/><rect x="85.20" y="477.90" width="16.30" height="34.10" fill="#D6D6D6"/><rect x="101.50" y="477.90" width="20.20" height="34.10" fill="#F1C6E4"/><rect x="121.70" y="477.90" width="20.60" height="34.10" fill="#C4ED73"/><rect x="142.30" y="477.90" width="2.40" height="34.10" fill="#EBAA6C"/><rect x="144.70" y="477.90" width="43.60" height="34.10" fill="#88AFC8"/><rect x="188.30" y="477.90" width="58.00" height="34.10" fill="#F07F7A"/><rect x="246.30" y="477.90" width="47.50" height="34.10" fill="#C2BDE6"/><rect x="293.80" y="477.90" width="60.10" height="34.10" fill="#F1F5B9"/><rect x="353.90" y="477.90" width="55.00" height="34.10" fill="#AFF1DE"/><rect x="60.7" y="434.4" width="364.7" height="82.9" fill="none" stroke="#8a8a8a" stroke-width="0.8"/><line x1="59.10" y1="456.70" x2="60.70" y2="456.70" stroke="#333" stroke-width="0.5"/><line x1="59.10" y1="494.20" x2="60.70" y2="494.20" stroke="#333" stroke-width="0.5"/><text x="58.70" y="458.90" font-size="7.0" text-anchor="end" fill="#4D4D4D" stroke="#4D4D4D" stroke-width="0.22">Low</text><text x="58.70" y="496.40" font-size="7.0" text-anchor="end" fill="#4D4D4D" stroke="#4D4D4D" stroke-width="0.22">High</text><text x="39.20" y="476.70" font-size="7.2" text-anchor="middle" fill="#000" stroke="#000" stroke-width="0.22" transform="rotate(-90 39.2 476.7)">TIL level</text><line x1="77.20" y1="517.30" x2="77.20" y2="518.90" stroke="#333" stroke-width="0.5"/><text x="77.20" y="525.20" font-size="7.0" text-anchor="middle" fill="#4D4D4D" stroke="#4D4D4D" stroke-width="0.22">0</text><line x1="160.12" y1="517.30" x2="160.12" y2="518.90" stroke="#333" stroke-width="0.5"/><text x="160.12" y="525.20" font-size="7.0" text-anchor="middle" fill="#4D4D4D" stroke="#4D4D4D" stroke-width="0.22">25</text><line x1="243.05" y1="517.30" x2="243.05" y2="518.90" stroke="#333" stroke-width="0.5"/><text x="243.05" y="525.20" font-size="7.0" text-anchor="middle" fill="#4D4D4D" stroke="#4D4D4D" stroke-width="0.22">50</text><line x1="325.97" y1="517.30" x2="325.97" y2="518.90" stroke="#333" stroke-width="0.5"/><text x="325.97" y="525.20" font-size="7.0" text-anchor="middle" fill="#4D4D4D" stroke="#4D4D4D" stroke-width="0.22">75</text><line x1="408.90" y1="517.30" x2="408.90" y2="518.90" stroke="#333" stroke-width="0.5"/><text x="408.90" y="525.20" font-size="7.0" text-anchor="middle" fill="#4D4D4D" stroke="#4D4D4D" stroke-width="0.22">100</text><text x="241.50" y="534.60" font-size="7.2" text-anchor="middle" fill="#000" stroke="#000" stroke-width="0.22">Proportion</text><text x="474.50" y="393.50" font-size="14" text-anchor="start" fill="#000">f</text><line x1="522.60" y1="395.00" x2="522.60" y2="514.70" stroke="#000" stroke-width="0.7"/><line x1="522.60" y1="514.70" x2="640.90" y2="514.70" stroke="#000" stroke-width="0.7"/><line x1="520.80" y1="509.30" x2="522.60" y2="509.30" stroke="#000" stroke-width="0.6"/><text x="519.00" y="511.50" font-size="7.0" text-anchor="end" fill="#222" stroke="#222" stroke-width="0.22">0</text><line x1="520.80" y1="483.90" x2="522.60" y2="483.90" stroke="#000" stroke-width="0.6"/><text x="519.00" y="486.10" font-size="7.0" text-anchor="end" fill="#222" stroke="#222" stroke-width="0.22">5</text><line x1="520.80" y1="458.50" x2="522.60" y2="458.50" stroke="#000" stroke-width="0.6"/><text x="519.00" y="460.70" font-size="7.0" text-anchor="end" fill="#222" stroke="#222" stroke-width="0.22">10</text><line x1="520.80" y1="433.10" x2="522.60" y2="433.10" stroke="#000" stroke-width="0.6"/><text x="519.00" y="435.30" font-size="7.0" text-anchor="end" fill="#222" stroke="#222" stroke-width="0.22">15</text><line x1="520.80" y1="407.70" x2="522.60" y2="407.70" stroke="#000" stroke-width="0.6"/><text x="519.00" y="409.90" font-size="7.0" text-anchor="end" fill="#222" stroke="#222" stroke-width="0.22">20</text><line x1="554.70" y1="514.70" x2="554.70" y2="516.40" stroke="#000" stroke-width="0.6"/><text x="554.70" y="524.60" font-size="7.0" text-anchor="middle" fill="#222" stroke="#222" stroke-width="0.22">Low</text><line x1="608.40" y1="514.70" x2="608.40" y2="516.40" stroke="#000" stroke-width="0.6"/><text x="608.40" y="524.60" font-size="7.0" text-anchor="middle" fill="#222" stroke="#222" stroke-width="0.22">High</text><text x="575.90" y="534.50" font-size="7.2" text-anchor="middle" fill="#000" stroke="#000" stroke-width="0.22">TIL level</text><text x="504.80" y="457.40" font-size="7.2" text-anchor="middle" fill="#000" stroke="#000" stroke-width="0.22" transform="rotate(-90 504.8 457.4)">SPP1+macro</text><text x="533.80" y="400.90" font-size="7.0" text-anchor="start" fill="#000" stroke="#000" stroke-width="0.22">Wilcoxon, p = 0.0043</text><line x1="554.70" y1="483.80" x2="554.70" y2="487.40" stroke="#3B4A9C" stroke-width="0.7"/><line x1="554.70" y1="503.10" x2="554.70" y2="509.30" stroke="#3B4A9C" stroke-width="0.7"/><rect x="535.8" y="487.4" width="37.9" height="15.7" fill="none" stroke="#3B4A9C" stroke-width="0.7"/><line x1="535.80" y1="492.80" x2="573.70" y2="492.80" stroke="#3B4A9C" stroke-width="1.4"/><circle cx="554" cy="483.1" r="1.5" fill="#3B4A9C"/><circle cx="545.3" cy="487.4" r="1.5" fill="#3B4A9C"/><circle cx="561.3" cy="488.2" r="1.5" fill="#3B4A9C"/><circle cx="564.7" cy="498" r="1.5" fill="#3B4A9C"/><circle cx="564.2" cy="504.4" r="1.5" fill="#3B4A9C"/><circle cx="553" cy="509.3" r="1.5" fill="#3B4A9C"/><line x1="608.70" y1="401.00" x2="608.70" y2="417.30" stroke="#E0402E" stroke-width="0.7"/><line x1="608.70" y1="455.70" x2="608.70" y2="474.70" stroke="#E0402E" stroke-width="0.7"/><rect x="589.4" y="417.3" width="38.3" height="38.4" fill="none" stroke="#E0402E" stroke-width="0.7"/><line x1="589.40" y1="424.00" x2="627.70" y2="424.00" stroke="#E0402E" stroke-width="1.4"/><circle cx="617" cy="400.7" r="1.5" fill="#E0402E"/><circle cx="617" cy="417.4" r="1.5" fill="#E0402E"/><circle cx="609.7" cy="424" r="1.5" fill="#E0402E"/><circle cx="604" cy="456" r="1.5" fill="#E0402E"/><circle cx="609.1" cy="474.4" r="1.5" fill="#E0402E"/><text x="4.50" y="583.50" font-size="14" text-anchor="start" fill="#000">g</text><line x1="65.40" y1="590.40" x2="65.40" y2="759.00" stroke="#222" stroke-width="1.0"/><line x1="63.40" y1="595.50" x2="65.40" y2="595.50" stroke="#222" stroke-width="0.8"/><text x="59.00" y="598.60" font-size="6.5" text-anchor="end" fill="#1a1a1a" stroke="#1a1a1a" stroke-width="0.22">6</text><line x1="63.40" y1="634.88" x2="65.40" y2="634.88" stroke="#222" stroke-width="0.8"/><text x="59.00" y="637.98" font-size="6.5" text-anchor="end" fill="#1a1a1a" stroke="#1a1a1a" stroke-width="0.22">3</text><line x1="63.40" y1="674.25" x2="65.40" y2="674.25" stroke="#222" stroke-width="0.8"/><text x="59.00" y="677.35" font-size="6.5" text-anchor="end" fill="#1a1a1a" stroke="#1a1a1a" stroke-width="0.22">0</text><line x1="63.40" y1="713.62" x2="65.40" y2="713.62" stroke="#222" stroke-width="0.8"/><text x="59.00" y="716.73" font-size="6.5" text-anchor="end" fill="#1a1a1a" stroke="#1a1a1a" stroke-width="0.22">−3</text><line x1="63.40" y1="753.00" x2="65.40" y2="753.00" stroke="#222" stroke-width="0.8"/><text x="59.00" y="756.10" font-size="6.5" text-anchor="end" fill="#1a1a1a" stroke="#1a1a1a" stroke-width="0.22">−6</text><line x1="65.40" y1="759.00" x2="220.10" y2="759.00" stroke="#222" stroke-width="1.0"/><line x1="77.65" y1="759.00" x2="77.65" y2="761.20" stroke="#222" stroke-width="0.8"/><text x="77.65" y="771.00" font-size="6.5" text-anchor="middle" fill="#1a1a1a" stroke="#1a1a1a" stroke-width="0.22">−5</text><line x1="124.20" y1="759.00" x2="124.20" y2="761.20" stroke="#222" stroke-width="0.8"/><text x="124.20" y="771.00" font-size="6.5" text-anchor="middle" fill="#1a1a1a" stroke="#1a1a1a" stroke-width="0.22">0</text><line x1="170.75" y1="759.00" x2="170.75" y2="761.20" stroke="#222" stroke-width="0.8"/><text x="170.75" y="771.00" font-size="6.5" text-anchor="middle" fill="#1a1a1a" stroke="#1a1a1a" stroke-width="0.22">5</text><line x1="217.30" y1="759.00" x2="217.30" y2="761.20" stroke="#222" stroke-width="0.8"/><text x="217.30" y="771.00" font-size="6.5" text-anchor="middle" fill="#1a1a1a" stroke="#1a1a1a" stroke-width="0.22">10</text><line x1="225.30" y1="759.00" x2="380.00" y2="759.00" stroke="#222" stroke-width="1.0"/><line x1="237.65" y1="759.00" x2="237.65" y2="761.20" stroke="#222" stroke-width="0.8"/><text x="237.65" y="771.00" font-size="6.5" text-anchor="middle" fill="#1a1a1a" stroke="#1a1a1a" stroke-width="0.22">−5</text><line x1="284.20" y1="759.00" x2="284.20" y2="761.20" stroke="#222" stroke-width="0.8"/><text x="284.20" y="771.00" font-size="6.5" text-anchor="middle" fill="#1a1a1a" stroke="#1a1a1a" stroke-width="0.22">0</text><line x1="330.75" y1="759.00" x2="330.75" y2="761.20" stroke="#222" stroke-width="0.8"/><text x="330.75" y="771.00" font-size="6.5" text-anchor="middle" fill="#1a1a1a" stroke="#1a1a1a" stroke-width="0.22">5</text><line x1="377.30" y1="759.00" x2="377.30" y2="761.20" stroke="#222" stroke-width="0.8"/><text x="377.30" y="771.00" font-size="6.5" text-anchor="middle" fill="#1a1a1a" stroke="#1a1a1a" stroke-width="0.22">10</text><text x="142.00" y="587.00" font-size="9.2" text-anchor="middle" font-weight="bold" fill="#000" stroke="#000" stroke-width="0.22">High</text><text x="302.00" y="587.00" font-size="9.2" text-anchor="middle" font-weight="bold" fill="#000" stroke="#000" stroke-width="0.22">Low</text><text x="221.60" y="784.00" font-size="7.1" text-anchor="middle" fill="#000" stroke="#000" stroke-width="0.22">UMAP_1</text><text x="43.90" y="683.20" font-size="7.0" text-anchor="middle" fill="#000" stroke="#000" stroke-width="0.22" transform="rotate(-90 43.9 683.2)">UMAP_2</text><g><path d="M110.8 616.2h1.4v1.4h-1.4zM90.1 651.4h1.4v1.4h-1.4zM82.9 649.0h1.4v1.4h-1.4zM113.7 639.9h1.4v1.4h-1.4zM107.6 630.7h1.4v1.4h-1.4zM102.3 614.6h1.4v1.4h-1.4zM96.1 639.6h1.4v1.4h-1.4zM118.2 633.2h1.4v1.4h-1.4zM104.6 608.2h1.4v1.4h-1.4zM99.5 609.7h1.4v1.4h-1.4zM92.5 611.2h1.4v1.4h-1.4zM98.1 608.0h1.4v1.4h-1.4zM118.0 634.8h1.4v1.4h-1.4zM88.0 650.8h1.4v1.4h-1.4zM95.2 623.5h1.4v1.4h-1.4zM107.6 625.9h1.4v1.4h-1.4zM104.9 605.8h1.4v1.4h-1.4zM94.9 651.0h1.4v1.4h-1.4zM101.2 644.9h1.4v1.4h-1.4zM86.3 628.6h1.4v1.4h-1.4zM106.2 637.8h1.4v1.4h-1.4zM115.5 626.3h1.4v1.4h-1.4zM101.6 632.6h1.4v1.4h-1.4zM90.4 631.8h1.4v1.4h-1.4zM98.9 640.2h1.4v1.4h-1.4zM97.8 632.2h1.4v1.4h-1.4zM114.5 644.2h1.4v1.4h-1.4zM93.8 648.3h1.4v1.4h-1.4zM100.7 643.1h1.4v1.4h-1.4zM99.9 601.8h1.4v1.4h-1.4zM104.6 634.3h1.4v1.4h-1.4zM103.1 631.7h1.4v1.4h-1.4zM99.4 643.1h1.4v1.4h-1.4zM86.3 641.4h1.4v1.4h-1.4zM104.3 636.6h1.4v1.4h-1.4zM92.3 648.7h1.4v1.4h-1.4zM102.0 616.2h1.4v1.4h-1.4zM112.8 613.8h1.4v1.4h-1.4zM108.4 607.9h1.4v1.4h-1.4zM115.0 635.2h1.4v1.4h-1.4zM85.2 646.9h1.4v1.4h-1.4zM86.7 646.9h1.4v1.4h-1.4zM85.6 642.0h1.4v1.4h-1.4zM98.5 615.2h1.4v1.4h-1.4zM102.5 609.6h1.4v1.4h-1.4zM91.2 643.4h1.4v1.4h-1.4zM112.2 639.8h1.4v1.4h-1.4zM87.6 647.3h1.4v1.4h-1.4zM95.3 650.6h1.4v1.4h-1.4zM108.4 644.6h1.4v1.4h-1.4zM98.5 607.0h1.4v1.4h-1.4zM94.7 625.7h1.4v1.4h-1.4zM121.1 613.9h1.4v1.4h-1.4zM104.3 643.3h1.4v1.4h-1.4zM106.4 621.1h1.4v1.4h-1.4zM99.3 623.1h1.4v1.4h-1.4zM82.6 626.1h1.4v1.4h-1.4zM118.3 613.7h1.4v1.4h-1.4zM103.4 633.3h1.4v1.4h-1.4zM92.3 611.6h1.4v1.4h-1.4zM91.7 627.0h1.4v1.4h-1.4zM97.6 606.6h1.4v1.4h-1.4zM116.3 604.5h1.4v1.4h-1.4zM95.6 634.5h1.4v1.4h-1.4zM118.4 615.1h1.4v1.4h-1.4zM116.0 609.3h1.4v1.4h-1.4zM110.5 619.9h1.4v1.4h-1.4zM112.4 641.5h1.4v1.4h-1.4zM116.7 623.1h1.4v1.4h-1.4zM93.9 641.8h1.4v1.4h-1.4zM111.5 620.0h1.4v1.4h-1.4zM90.3 644.2h1.4v1.4h-1.4zM112.2 638.5h1.4v1.4h-1.4zM103.7 614.2h1.4v1.4h-1.4zM91.0 643.0h1.4v1.4h-1.4zM117.3 623.2h1.4v1.4h-1.4zM103.9 601.2h1.4v1.4h-1.4zM110.3 614.4h1.4v1.4h-1.4zM95.8 621.4h1.4v1.4h-1.4zM90.8 607.9h1.4v1.4h-1.4zM85.0 625.3h1.4v1.4h-1.4zM90.6 649.5h1.4v1.4h-1.4zM107.4 617.9h1.4v1.4h-1.4zM112.6 639.1h1.4v1.4h-1.4zM98.2 623.0h1.4v1.4h-1.4zM93.5 633.2h1.4v1.4h-1.4zM110.2 640.2h1.4v1.4h-1.4zM95.6 650.0h1.4v1.4h-1.4zM85.0 640.2h1.4v1.4h-1.4zM106.0 639.2h1.4v1.4h-1.4zM86.2 615.1h1.4v1.4h-1.4zM103.1 627.1h1.4v1.4h-1.4zM96.5 608.3h1.4v1.4h-1.4zM84.9 643.4h1.4v1.4h-1.4zM92.0 610.6h1.4v1.4h-1.4zM107.6 621.1h1.4v1.4h-1.4zM94.8 623.9h1.4v1.4h-1.4zM103.0 615.4h1.4v1.4h-1.4zM99.4 601.1h1.4v1.4h-1.4zM122.3 614.7h1.4v1.4h-1.4zM94.8 648.8h1.4v1.4h-1.4zM102.1 625.2h1.4v1.4h-1.4zM104.3 630.9h1.4v1.4h-1.4zM98.8 648.8h1.4v1.4h-1.4zM103.7 629.4h1.4v1.4h-1.4zM111.0 647.4h1.4v1.4h-1.4zM107.2 638.9h1.4v1.4h-1.4zM103.0 608.0h1.4v1.4h-1.4zM94.9 637.9h1.4v1.4h-1.4zM113.0 623.4h1.4v1.4h-1.4zM101.0 649.1h1.4v1.4h-1.4zM90.1 608.2h1.4v1.4h-1.4zM119.4 614.9h1.4v1.4h-1.4zM103.2 613.3h1.4v1.4h-1.4zM87.6 650.5h1.4v1.4h-1.4zM89.2 617.5h1.4v1.4h-1.4zM101.9 608.6h1.4v1.4h-1.4zM88.9 605.4h1.4v1.4h-1.4zM77.5 651.7h1.4v1.4h-1.4zM109.2 607.7h1.4v1.4h-1.4zM91.1 647.9h1.4v1.4h-1.4zM91.5 620.4h1.4v1.4h-1.4zM86.4 646.8h1.4v1.4h-1.4zM108.8 626.4h1.4v1.4h-1.4zM92.0 638.3h1.4v1.4h-1.4zM109.1 609.3h1.4v1.4h-1.4zM89.8 616.8h1.4v1.4h-1.4zM116.5 607.4h1.4v1.4h-1.4zM88.8 638.6h1.4v1.4h-1.4zM81.9 644.4h1.4v1.4h-1.4zM98.2 652.4h1.4v1.4h-1.4zM89.3 646.3h1.4v1.4h-1.4zM87.4 619.4h1.4v1.4h-1.4zM102.5 632.9h1.4v1.4h-1.4zM95.5 608.0h1.4v1.4h-1.4zM86.4 618.3h1.4v1.4h-1.4zM119.4 615.7h1.4v1.4h-1.4zM98.6 605.1h1.4v1.4h-1.4zM83.2 635.2h1.4v1.4h-1.4zM106.8 602.5h1.4v1.4h-1.4zM87.2 623.7h1.4v1.4h-1.4zM115.1 642.6h1.4v1.4h-1.4zM113.4 605.8h1.4v1.4h-1.4zM110.8 626.9h1.4v1.4h-1.4zM85.4 619.4h1.4v1.4h-1.4zM94.9 619.1h1.4v1.4h-1.4zM115.8 620.6h1.4v1.4h-1.4zM120.7 615.4h1.4v1.4h-1.4zM90.6 637.3h1.4v1.4h-1.4zM89.4 607.8h1.4v1.4h-1.4zM96.2 637.4h1.4v1.4h-1.4zM97.6 613.3h1.4v1.4h-1.4zM87.1 639.8h1.4v1.4h-1.4zM89.5 645.3h1.4v1.4h-1.4zM117.4 613.1h1.4v1.4h-1.4zM86.7 651.5h1.4v1.4h-1.4zM98.6 617.6h1.4v1.4h-1.4zM113.8 644.0h1.4v1.4h-1.4zM114.2 620.2h1.4v1.4h-1.4zM95.2 635.1h1.4v1.4h-1.4zM88.7 628.6h1.4v1.4h-1.4zM91.0 636.7h1.4v1.4h-1.4zM89.0 622.9h1.4v1.4h-1.4zM95.1 629.3h1.4v1.4h-1.4zM83.4 646.0h1.4v1.4h-1.4zM90.0 634.0h1.4v1.4h-1.4zM114.3 616.0h1.4v1.4h-1.4zM107.1 613.6h1.4v1.4h-1.4zM102.6 615.8h1.4v1.4h-1.4zM86.4 626.4h1.4v1.4h-1.4zM82.2 651.7h1.4v1.4h-1.4zM119.4 620.1h1.4v1.4h-1.4zM110.8 637.1h1.4v1.4h-1.4zM120.3 615.3h1.4v1.4h-1.4zM107.7 630.3h1.4v1.4h-1.4zM115.1 619.0h1.4v1.4h-1.4zM93.8 607.5h1.4v1.4h-1.4zM101.1 626.0h1.4v1.4h-1.4zM117.1 608.3h1.4v1.4h-1.4zM112.3 621.6h1.4v1.4h-1.4zM99.4 622.5h1.4v1.4h-1.4zM86.1 607.9h1.4v1.4h-1.4zM113.8 634.3h1.4v1.4h-1.4zM86.6 643.6h1.4v1.4h-1.4zM91.1 647.8h1.4v1.4h-1.4zM107.6 618.1h1.4v1.4h-1.4zM85.1 650.4h1.4v1.4h-1.4zM97.8 635.8h1.4v1.4h-1.4zM110.4 621.0h1.4v1.4h-1.4zM112.6 637.5h1.4v1.4h-1.4zM105.4 630.8h1.4v1.4h-1.4zM100.6 621.3h1.4v1.4h-1.4zM117.5 618.0h1.4v1.4h-1.4zM85.0 641.2h1.4v1.4h-1.4zM104.0 620.6h1.4v1.4h-1.4zM100.4 607.3h1.4v1.4h-1.4zM106.1 604.2h1.4v1.4h-1.4zM95.2 608.1h1.4v1.4h-1.4zM101.3 613.9h1.4v1.4h-1.4zM115.0 644.6h1.4v1.4h-1.4zM99.7 630.3h1.4v1.4h-1.4zM88.1 639.9h1.4v1.4h-1.4zM85.8 641.2h1.4v1.4h-1.4zM118.6 616.1h1.4v1.4h-1.4zM113.0 627.1h1.4v1.4h-1.4zM87.2 627.8h1.4v1.4h-1.4zM118.4 625.3h1.4v1.4h-1.4zM112.9 612.5h1.4v1.4h-1.4zM112.1 623.5h1.4v1.4h-1.4zM107.1 630.5h1.4v1.4h-1.4zM112.7 633.2h1.4v1.4h-1.4zM98.4 639.0h1.4v1.4h-1.4zM91.0 627.3h1.4v1.4h-1.4zM89.0 636.4h1.4v1.4h-1.4zM102.7 650.9h1.4v1.4h-1.4zM83.4 649.0h1.4v1.4h-1.4zM88.2 635.5h1.4v1.4h-1.4zM83.5 622.7h1.4v1.4h-1.4zM86.1 640.8h1.4v1.4h-1.4zM92.5 648.1h1.4v1.4h-1.4zM83.0 645.5h1.4v1.4h-1.4zM88.9 650.2h1.4v1.4h-1.4zM107.7 641.6h1.4v1.4h-1.4zM108.2 636.5h1.4v1.4h-1.4zM96.3 648.4h1.4v1.4h-1.4zM90.0 607.8h1.4v1.4h-1.4zM90.9 653.4h1.4v1.4h-1.4zM104.7 626.1h1.4v1.4h-1.4zM112.3 612.5h1.4v1.4h-1.4zM109.5 630.5h1.4v1.4h-1.4zM107.3 639.1h1.4v1.4h-1.4zM108.0 627.0h1.4v1.4h-1.4zM118.6 619.3h1.4v1.4h-1.4zM97.1 641.4h1.4v1.4h-1.4zM112.5 645.1h1.4v1.4h-1.4zM81.5 635.2h1.4v1.4h-1.4zM104.0 609.4h1.4v1.4h-1.4zM95.1 652.1h1.4v1.4h-1.4zM86.6 627.2h1.4v1.4h-1.4zM91.4 633.6h1.4v1.4h-1.4zM84.3 639.5h1.4v1.4h-1.4zM89.8 624.8h1.4v1.4h-1.4zM111.3 635.8h1.4v1.4h-1.4zM106.0 640.4h1.4v1.4h-1.4zM102.0 603.6h1.4v1.4h-1.4zM86.0 647.7h1.4v1.4h-1.4zM89.9 623.4h1.4v1.4h-1.4zM89.1 650.2h1.4v1.4h-1.4zM87.1 651.6h1.4v1.4h-1.4zM102.9 642.2h1.4v1.4h-1.4zM112.4 627.4h1.4v1.4h-1.4zM118.4 628.1h1.4v1.4h-1.4zM118.0 628.7h1.4v1.4h-1.4zM100.8 649.1h1.4v1.4h-1.4zM88.3 626.4h1.4v1.4h-1.4zM94.1 644.4h1.4v1.4h-1.4zM118.7 619.2h1.4v1.4h-1.4zM100.7 634.9h1.4v1.4h-1.4zM95.3 637.3h1.4v1.4h-1.4zM94.9 638.8h1.4v1.4h-1.4zM90.3 607.9h1.4v1.4h-1.4zM110.4 633.4h1.4v1.4h-1.4zM120.2 621.0h1.4v1.4h-1.4zM92.8 632.7h1.4v1.4h-1.4zM91.6 604.8h1.4v1.4h-1.4zM84.8 616.1h1.4v1.4h-1.4zM84.6 627.8h1.4v1.4h-1.4zM112.4 643.8h1.4v1.4h-1.4zM97.3 633.3h1.4v1.4h-1.4zM94.8 607.5h1.4v1.4h-1.4zM97.5 638.4h1.4v1.4h-1.4zM95.4 619.6h1.4v1.4h-1.4zM120.7 613.5h1.4v1.4h-1.4zM110.5 614.5h1.4v1.4h-1.4zM117.3 611.7h1.4v1.4h-1.4zM118.5 618.0h1.4v1.4h-1.4zM101.9 608.6h1.4v1.4h-1.4zM96.1 607.1h1.4v1.4h-1.4zM93.1 652.8h1.4v1.4h-1.4zM88.1 609.7h1.4v1.4h-1.4zM95.0 610.3h1.4v1.4h-1.4zM89.9 617.4h1.4v1.4h-1.4zM90.2 606.6h1.4v1.4h-1.4zM112.9 622.4h1.4v1.4h-1.4zM84.4 624.3h1.4v1.4h-1.4zM120.2 616.5h1.4v1.4h-1.4zM103.7 623.4h1.4v1.4h-1.4zM114.0 638.3h1.4v1.4h-1.4zM85.3 610.5h1.4v1.4h-1.4zM91.0 621.4h1.4v1.4h-1.4zM105.4 645.8h1.4v1.4h-1.4zM103.8 629.4h1.4v1.4h-1.4zM89.9 622.5h1.4v1.4h-1.4zM86.7 619.7h1.4v1.4h-1.4zM112.9 632.3h1.4v1.4h-1.4zM107.6 642.8h1.4v1.4h-1.4zM112.5 635.3h1.4v1.4h-1.4zM108.1 610.3h1.4v1.4h-1.4zM119.5 623.6h1.4v1.4h-1.4zM122.2 626.9h1.4v1.4h-1.4zM91.2 652.4h1.4v1.4h-1.4zM99.6 630.4h1.4v1.4h-1.4zM98.2 605.4h1.4v1.4h-1.4zM96.8 654.4h1.4v1.4h-1.4zM87.4 626.7h1.4v1.4h-1.4zM104.8 618.7h1.4v1.4h-1.4zM108.6 630.3h1.4v1.4h-1.4zM111.0 615.2h1.4v1.4h-1.4zM83.3 651.5h1.4v1.4h-1.4zM103.9 605.8h1.4v1.4h-1.4zM93.4 616.2h1.4v1.4h-1.4zM104.6 628.7h1.4v1.4h-1.4zM98.9 639.6h1.4v1.4h-1.4zM101.7 619.7h1.4v1.4h-1.4zM96.4 605.8h1.4v1.4h-1.4zM88.5 623.1h1.4v1.4h-1.4zM101.9 611.9h1.4v1.4h-1.4zM96.9 618.7h1.4v1.4h-1.4zM97.3 653.0h1.4v1.4h-1.4zM93.2 626.2h1.4v1.4h-1.4zM96.2 651.8h1.4v1.4h-1.4zM85.0 634.2h1.4v1.4h-1.4zM93.6 634.5h1.4v1.4h-1.4zM96.4 640.8h1.4v1.4h-1.4zM94.6 647.7h1.4v1.4h-1.4zM88.9 616.7h1.4v1.4h-1.4zM112.1 613.9h1.4v1.4h-1.4zM83.7 629.0h1.4v1.4h-1.4zM84.8 644.1h1.4v1.4h-1.4zM95.9 631.0h1.4v1.4h-1.4zM91.8 616.8h1.4v1.4h-1.4zM102.4 630.9h1.4v1.4h-1.4zM102.7 623.2h1.4v1.4h-1.4zM81.5 647.0h1.4v1.4h-1.4zM112.8 610.0h1.4v1.4h-1.4zM117.5 624.2h1.4v1.4h-1.4zM111.3 636.9h1.4v1.4h-1.4zM111.4 636.5h1.4v1.4h-1.4zM103.5 630.3h1.4v1.4h-1.4zM87.0 618.5h1.4v1.4h-1.4zM107.2 619.6h1.4v1.4h-1.4zM100.9 611.1h1.4v1.4h-1.4zM84.6 645.2h1.4v1.4h-1.4zM102.9 646.5h1.4v1.4h-1.4zM112.0 628.0h1.4v1.4h-1.4zM82.4 647.0h1.4v1.4h-1.4zM122.6 624.8h1.4v1.4h-1.4zM119.1 618.0h1.4v1.4h-1.4zM100.6 606.0h1.4v1.4h-1.4zM112.6 638.2h1.4v1.4h-1.4zM111.8 629.2h1.4v1.4h-1.4zM111.4 626.9h1.4v1.4h-1.4zM103.8 605.1h1.4v1.4h-1.4zM104.8 641.5h1.4v1.4h-1.4zM93.2 638.2h1.4v1.4h-1.4zM86.2 640.3h1.4v1.4h-1.4zM88.3 639.4h1.4v1.4h-1.4zM116.1 634.6h1.4v1.4h-1.4zM113.7 642.2h1.4v1.4h-1.4zM111.1 625.0h1.4v1.4h-1.4zM114.9 646.0h1.4v1.4h-1.4zM100.1 600.2h1.4v1.4h-1.4zM96.7 619.6h1.4v1.4h-1.4zM84.2 610.0h1.4v1.4h-1.4zM93.2 648.0h1.4v1.4h-1.4zM99.7 607.9h1.4v1.4h-1.4zM116.8 628.2h1.4v1.4h-1.4zM96.4 626.0h1.4v1.4h-1.4zM121.4 616.6h1.4v1.4h-1.4zM110.7 627.1h1.4v1.4h-1.4zM103.2 620.7h1.4v1.4h-1.4zM103.9 602.6h1.4v1.4h-1.4zM110.1 604.0h1.4v1.4h-1.4zM105.3 625.0h1.4v1.4h-1.4zM83.1 622.3h1.4v1.4h-1.4zM109.0 616.3h1.4v1.4h-1.4zM112.4 627.5h1.4v1.4h-1.4zM120.1 625.2h1.4v1.4h-1.4zM112.6 617.7h1.4v1.4h-1.4zM83.1 630.8h1.4v1.4h-1.4zM113.5 643.9h1.4v1.4h-1.4zM95.4 618.5h1.4v1.4h-1.4zM108.2 605.1h1.4v1.4h-1.4zM113.8 616.6h1.4v1.4h-1.4zM89.6 630.6h1.4v1.4h-1.4zM108.9 613.2h1.4v1.4h-1.4zM84.0 652.8h1.4v1.4h-1.4zM123.4 620.3h1.4v1.4h-1.4zM108.0 630.5h1.4v1.4h-1.4zM89.8 619.4h1.4v1.4h-1.4zM100.4 620.6h1.4v1.4h-1.4zM111.0 628.7h1.4v1.4h-1.4zM105.2 638.5h1.4v1.4h-1.4zM102.0 628.0h1.4v1.4h-1.4zM102.2 640.8h1.4v1.4h-1.4zM109.5 617.4h1.4v1.4h-1.4zM92.9 604.7h1.4v1.4h-1.4zM114.2 609.2h1.4v1.4h-1.4zM115.2 618.1h1.4v1.4h-1.4zM87.2 617.8h1.4v1.4h-1.4zM98.8 623.7h1.4v1.4h-1.4zM85.5 623.9h1.4v1.4h-1.4zM112.4 634.2h1.4v1.4h-1.4zM115.2 628.8h1.4v1.4h-1.4zM115.2 615.6h1.4v1.4h-1.4zM86.6 651.8h1.4v1.4h-1.4zM87.7 634.5h1.4v1.4h-1.4zM93.1 626.1h1.4v1.4h-1.4zM85.1 630.3h1.4v1.4h-1.4zM96.7 625.4h1.4v1.4h-1.4zM87.1 647.4h1.4v1.4h-1.4zM88.1 636.2h1.4v1.4h-1.4zM115.6 630.7h1.4v1.4h-1.4zM81.5 630.5h1.4v1.4h-1.4zM114.1 645.7h1.4v1.4h-1.4zM88.5 619.8h1.4v1.4h-1.4zM115.9 635.0h1.4v1.4h-1.4zM81.7 649.8h1.4v1.4h-1.4zM112.4 629.2h1.4v1.4h-1.4zM89.1 649.6h1.4v1.4h-1.4zM113.1 641.9h1.4v1.4h-1.4zM113.7 625.0h1.4v1.4h-1.4zM92.6 630.6h1.4v1.4h-1.4zM101.4 631.3h1.4v1.4h-1.4zM118.2 626.6h1.4v1.4h-1.4zM97.3 605.2h1.4v1.4h-1.4zM112.5 621.6h1.4v1.4h-1.4zM103.8 619.8h1.4v1.4h-1.4zM94.1 608.2h1.4v1.4h-1.4zM107.4 646.0h1.4v1.4h-1.4zM86.3 644.4h1.4v1.4h-1.4zM103.6 630.7h1.4v1.4h-1.4zM109.9 638.3h1.4v1.4h-1.4zM89.0 654.4h1.4v1.4h-1.4zM98.1 620.8h1.4v1.4h-1.4zM120.0 622.9h1.4v1.4h-1.4zM108.3 600.2h1.4v1.4h-1.4zM106.2 608.4h1.4v1.4h-1.4zM97.8 608.3h1.4v1.4h-1.4zM100.7 648.4h1.4v1.4h-1.4zM96.2 616.0h1.4v1.4h-1.4zM84.9 629.9h1.4v1.4h-1.4zM105.2 602.6h1.4v1.4h-1.4zM122.5 610.2h1.4v1.4h-1.4zM86.8 616.6h1.4v1.4h-1.4zM91.1 640.5h1.4v1.4h-1.4zM86.6 648.0h1.4v1.4h-1.4zM101.0 645.9h1.4v1.4h-1.4zM88.8 639.4h1.4v1.4h-1.4zM102.7 641.2h1.4v1.4h-1.4zM83.4 632.9h1.4v1.4h-1.4zM85.5 648.9h1.4v1.4h-1.4zM93.2 633.9h1.4v1.4h-1.4zM95.3 638.7h1.4v1.4h-1.4zM102.7 648.8h1.4v1.4h-1.4zM103.5 611.9h1.4v1.4h-1.4zM91.8 629.5h1.4v1.4h-1.4zM107.2 612.0h1.4v1.4h-1.4zM103.7 606.1h1.4v1.4h-1.4zM110.5 609.1h1.4v1.4h-1.4zM104.1 617.9h1.4v1.4h-1.4zM119.2 625.9h1.4v1.4h-1.4zM81.6 650.2h1.4v1.4h-1.4zM103.0 600.8h1.4v1.4h-1.4zM83.0 643.6h1.4v1.4h-1.4zM106.3 615.8h1.4v1.4h-1.4zM96.1 641.8h1.4v1.4h-1.4zM99.2 625.5h1.4v1.4h-1.4zM87.1 624.6h1.4v1.4h-1.4zM86.4 615.5h1.4v1.4h-1.4zM120.0 620.9h1.4v1.4h-1.4zM108.4 627.8h1.4v1.4h-1.4zM103.7 625.8h1.4v1.4h-1.4zM110.9 642.7h1.4v1.4h-1.4zM108.3 630.5h1.4v1.4h-1.4zM97.8 629.3h1.4v1.4h-1.4zM105.7 623.9h1.4v1.4h-1.4zM112.1 604.6h1.4v1.4h-1.4zM95.5 628.6h1.4v1.4h-1.4zM112.6 641.1h1.4v1.4h-1.4zM104.8 648.2h1.4v1.4h-1.4zM113.6 621.2h1.4v1.4h-1.4zM101.9 600.6h1.4v1.4h-1.4zM92.8 619.7h1.4v1.4h-1.4zM80.8 645.6h1.4v1.4h-1.4zM95.0 647.6h1.4v1.4h-1.4zM96.7 622.6h1.4v1.4h-1.4zM104.0 620.3h1.4v1.4h-1.4zM101.5 643.5h1.4v1.4h-1.4zM112.4 616.6h1.4v1.4h-1.4zM107.0 620.5h1.4v1.4h-1.4zM103.5 610.9h1.4v1.4h-1.4zM114.9 629.0h1.4v1.4h-1.4zM117.2 639.2h1.4v1.4h-1.4zM106.2 621.6h1.4v1.4h-1.4zM109.7 630.8h1.4v1.4h-1.4zM113.0 620.4h1.4v1.4h-1.4zM85.5 614.5h1.4v1.4h-1.4zM103.8 609.4h1.4v1.4h-1.4zM87.8 622.5h1.4v1.4h-1.4zM113.0 639.1h1.4v1.4h-1.4zM83.0 648.0h1.4v1.4h-1.4zM95.6 614.7h1.4v1.4h-1.4zM109.3 619.6h1.4v1.4h-1.4zM120.7 617.8h1.4v1.4h-1.4zM92.9 652.8h1.4v1.4h-1.4zM121.0 618.7h1.4v1.4h-1.4zM113.0 609.1h1.4v1.4h-1.4zM115.0 616.7h1.4v1.4h-1.4zM107.4 632.1h1.4v1.4h-1.4zM117.4 616.2h1.4v1.4h-1.4zM90.9 635.5h1.4v1.4h-1.4zM117.8 623.5h1.4v1.4h-1.4zM104.3 606.2h1.4v1.4h-1.4zM114.5 627.2h1.4v1.4h-1.4zM100.0 619.8h1.4v1.4h-1.4zM105.9 617.0h1.4v1.4h-1.4zM94.9 622.6h1.4v1.4h-1.4zM85.1 633.7h1.4v1.4h-1.4zM104.0 615.4h1.4v1.4h-1.4zM95.5 610.5h1.4v1.4h-1.4zM96.8 608.6h1.4v1.4h-1.4zM111.4 604.3h1.4v1.4h-1.4zM117.2 626.4h1.4v1.4h-1.4zM116.5 607.3h1.4v1.4h-1.4zM106.4 632.7h1.4v1.4h-1.4zM84.0 639.9h1.4v1.4h-1.4zM105.4 635.4h1.4v1.4h-1.4zM84.1 649.4h1.4v1.4h-1.4zM117.3 617.4h1.4v1.4h-1.4zM105.6 605.8h1.4v1.4h-1.4zM110.4 616.9h1.4v1.4h-1.4zM111.6 639.8h1.4v1.4h-1.4zM88.8 625.6h1.4v1.4h-1.4zM109.5 632.5h1.4v1.4h-1.4zM118.1 626.8h1.4v1.4h-1.4zM111.1 610.4h1.4v1.4h-1.4zM97.8 630.9h1.4v1.4h-1.4zM90.2 651.8h1.4v1.4h-1.4zM87.0 631.9h1.4v1.4h-1.4zM109.5 622.8h1.4v1.4h-1.4zM92.7 621.5h1.4v1.4h-1.4zM101.3 629.7h1.4v1.4h-1.4zM111.8 614.1h1.4v1.4h-1.4zM89.4 643.1h1.4v1.4h-1.4zM81.0 636.6h1.4v1.4h-1.4zM89.4 626.7h1.4v1.4h-1.4zM98.3 647.6h1.4v1.4h-1.4zM99.1 644.5h1.4v1.4h-1.4zM98.5 607.1h1.4v1.4h-1.4zM109.1 631.3h1.4v1.4h-1.4zM82.5 648.1h1.4v1.4h-1.4zM103.5 605.2h1.4v1.4h-1.4zM106.6 609.1h1.4v1.4h-1.4zM108.2 614.7h1.4v1.4h-1.4zM122.8 617.3h1.4v1.4h-1.4zM101.3 602.1h1.4v1.4h-1.4zM81.9 651.9h1.4v1.4h-1.4zM98.2 616.5h1.4v1.4h-1.4zM79.7 644.3h1.4v1.4h-1.4zM102.9 617.7h1.4v1.4h-1.4zM113.7 623.1h1.4v1.4h-1.4zM115.9 631.7h1.4v1.4h-1.4zM110.3 610.9h1.4v1.4h-1.4zM99.5 623.1h1.4v1.4h-1.4zM102.9 626.3h1.4v1.4h-1.4zM106.0 601.4h1.4v1.4h-1.4zM85.3 647.8h1.4v1.4h-1.4zM108.7 612.1h1.4v1.4h-1.4zM92.4 614.5h1.4v1.4h-1.4zM93.2 628.5h1.4v1.4h-1.4zM100.6 621.2h1.4v1.4h-1.4zM86.5 616.5h1.4v1.4h-1.4zM115.2 617.9h1.4v1.4h-1.4zM103.5 639.9h1.4v1.4h-1.4zM91.1 636.2h1.4v1.4h-1.4zM108.8 626.6h1.4v1.4h-1.4zM101.4 627.5h1.4v1.4h-1.4zM84.2 646.2h1.4v1.4h-1.4zM84.1 615.9h1.4v1.4h-1.4zM97.9 616.3h1.4v1.4h-1.4zM107.3 647.6h1.4v1.4h-1.4zM96.8 618.0h1.4v1.4h-1.4zM107.6 624.0h1.4v1.4h-1.4zM79.6 649.0h1.4v1.4h-1.4zM109.7 630.1h1.4v1.4h-1.4zM95.2 605.0h1.4v1.4h-1.4zM104.9 643.8h1.4v1.4h-1.4zM109.2 628.6h1.4v1.4h-1.4zM92.6 602.9h1.4v1.4h-1.4zM98.3 626.7h1.4v1.4h-1.4zM100.0 632.7h1.4v1.4h-1.4zM90.3 615.4h1.4v1.4h-1.4zM98.5 642.0h1.4v1.4h-1.4zM114.6 615.4h1.4v1.4h-1.4zM96.8 615.9h1.4v1.4h-1.4zM111.9 628.9h1.4v1.4h-1.4zM106.7 610.6h1.4v1.4h-1.4zM94.3 621.5h1.4v1.4h-1.4zM114.0 609.4h1.4v1.4h-1.4zM84.5 644.7h1.4v1.4h-1.4zM98.4 642.1h1.4v1.4h-1.4zM108.8 606.8h1.4v1.4h-1.4zM91.1 605.7h1.4v1.4h-1.4zM82.8 622.0h1.4v1.4h-1.4zM110.0 614.2h1.4v1.4h-1.4zM106.3 631.3h1.4v1.4h-1.4zM100.4 627.0h1.4v1.4h-1.4zM102.3 616.1h1.4v1.4h-1.4zM112.5 610.1h1.4v1.4h-1.4zM86.5 639.8h1.4v1.4h-1.4zM262.9 649.7h1.4v1.4h-1.4zM249.8 644.5h1.4v1.4h-1.4zM244.1 651.9h1.4v1.4h-1.4zM251.6 638.3h1.4v1.4h-1.4zM251.4 629.3h1.4v1.4h-1.4zM277.8 617.1h1.4v1.4h-1.4zM254.2 649.2h1.4v1.4h-1.4zM250.0 637.2h1.4v1.4h-1.4zM263.1 621.3h1.4v1.4h-1.4zM242.5 642.2h1.4v1.4h-1.4zM249.5 631.1h1.4v1.4h-1.4zM260.2 638.4h1.4v1.4h-1.4zM245.7 641.8h1.4v1.4h-1.4zM281.1 610.8h1.4v1.4h-1.4zM272.8 614.2h1.4v1.4h-1.4zM276.4 621.4h1.4v1.4h-1.4zM270.7 641.5h1.4v1.4h-1.4zM254.4 609.6h1.4v1.4h-1.4zM260.3 631.2h1.4v1.4h-1.4zM253.2 645.6h1.4v1.4h-1.4zM250.3 633.9h1.4v1.4h-1.4zM267.6 601.5h1.4v1.4h-1.4zM260.8 626.2h1.4v1.4h-1.4zM275.7 631.3h1.4v1.4h-1.4zM256.6 629.1h1.4v1.4h-1.4zM270.4 615.7h1.4v1.4h-1.4zM260.7 613.7h1.4v1.4h-1.4zM251.8 635.8h1.4v1.4h-1.4zM247.6 643.4h1.4v1.4h-1.4zM258.3 649.3h1.4v1.4h-1.4zM257.1 616.5h1.4v1.4h-1.4zM263.1 634.6h1.4v1.4h-1.4zM258.8 623.2h1.4v1.4h-1.4zM268.4 629.7h1.4v1.4h-1.4zM252.6 630.4h1.4v1.4h-1.4zM264.9 611.4h1.4v1.4h-1.4zM254.2 644.2h1.4v1.4h-1.4zM276.3 615.6h1.4v1.4h-1.4zM263.6 604.8h1.4v1.4h-1.4zM259.6 600.0h1.4v1.4h-1.4zM261.5 603.3h1.4v1.4h-1.4zM275.1 607.1h1.4v1.4h-1.4zM251.0 650.0h1.4v1.4h-1.4zM257.9 621.4h1.4v1.4h-1.4zM268.0 612.3h1.4v1.4h-1.4zM267.2 639.7h1.4v1.4h-1.4zM268.5 627.9h1.4v1.4h-1.4zM268.7 623.1h1.4v1.4h-1.4zM255.7 632.1h1.4v1.4h-1.4zM280.0 626.2h1.4v1.4h-1.4zM254.6 620.6h1.4v1.4h-1.4zM270.2 640.3h1.4v1.4h-1.4zM273.2 634.7h1.4v1.4h-1.4zM245.4 648.7h1.4v1.4h-1.4zM252.5 627.5h1.4v1.4h-1.4zM270.4 625.7h1.4v1.4h-1.4zM244.9 650.8h1.4v1.4h-1.4zM271.6 620.3h1.4v1.4h-1.4zM254.7 610.5h1.4v1.4h-1.4zM247.4 634.9h1.4v1.4h-1.4zM254.6 611.5h1.4v1.4h-1.4zM262.9 629.0h1.4v1.4h-1.4zM254.4 625.5h1.4v1.4h-1.4zM265.4 647.2h1.4v1.4h-1.4zM250.9 612.8h1.4v1.4h-1.4zM279.9 609.7h1.4v1.4h-1.4zM246.9 640.0h1.4v1.4h-1.4zM251.3 617.1h1.4v1.4h-1.4zM269.9 639.6h1.4v1.4h-1.4zM258.6 609.4h1.4v1.4h-1.4zM275.3 634.5h1.4v1.4h-1.4zM259.6 614.3h1.4v1.4h-1.4zM246.1 647.1h1.4v1.4h-1.4zM247.2 636.9h1.4v1.4h-1.4zM260.3 605.7h1.4v1.4h-1.4zM270.7 604.2h1.4v1.4h-1.4zM254.9 647.9h1.4v1.4h-1.4zM258.2 623.0h1.4v1.4h-1.4zM246.9 630.1h1.4v1.4h-1.4zM252.7 638.0h1.4v1.4h-1.4zM263.2 618.5h1.4v1.4h-1.4zM264.3 619.0h1.4v1.4h-1.4zM268.1 608.4h1.4v1.4h-1.4zM265.6 618.0h1.4v1.4h-1.4zM256.8 630.2h1.4v1.4h-1.4zM257.3 630.8h1.4v1.4h-1.4zM248.8 652.7h1.4v1.4h-1.4zM256.2 604.0h1.4v1.4h-1.4zM264.3 637.6h1.4v1.4h-1.4zM251.1 613.6h1.4v1.4h-1.4zM259.6 637.5h1.4v1.4h-1.4zM261.9 632.5h1.4v1.4h-1.4zM273.3 614.7h1.4v1.4h-1.4zM270.0 620.7h1.4v1.4h-1.4zM250.5 655.3h1.4v1.4h-1.4zM266.0 645.4h1.4v1.4h-1.4zM244.8 636.2h1.4v1.4h-1.4zM266.9 632.1h1.4v1.4h-1.4zM260.3 639.8h1.4v1.4h-1.4zM255.7 636.8h1.4v1.4h-1.4zM252.9 643.8h1.4v1.4h-1.4zM250.7 620.9h1.4v1.4h-1.4zM251.9 630.2h1.4v1.4h-1.4zM272.7 610.0h1.4v1.4h-1.4zM270.0 623.6h1.4v1.4h-1.4zM245.5 635.7h1.4v1.4h-1.4zM275.4 628.3h1.4v1.4h-1.4zM272.5 620.5h1.4v1.4h-1.4zM259.5 622.5h1.4v1.4h-1.4zM255.7 630.9h1.4v1.4h-1.4zM254.5 651.1h1.4v1.4h-1.4zM262.1 643.1h1.4v1.4h-1.4zM259.3 602.5h1.4v1.4h-1.4zM260.0 609.3h1.4v1.4h-1.4zM268.2 608.9h1.4v1.4h-1.4zM250.0 654.3h1.4v1.4h-1.4zM262.7 652.5h1.4v1.4h-1.4zM269.8 636.7h1.4v1.4h-1.4zM255.7 632.3h1.4v1.4h-1.4zM245.3 645.0h1.4v1.4h-1.4zM258.1 618.2h1.4v1.4h-1.4zM276.7 618.5h1.4v1.4h-1.4zM274.5 611.3h1.4v1.4h-1.4zM244.1 652.4h1.4v1.4h-1.4zM254.0 654.8h1.4v1.4h-1.4zM261.5 646.5h1.4v1.4h-1.4zM256.6 641.2h1.4v1.4h-1.4zM272.5 619.9h1.4v1.4h-1.4zM260.4 622.1h1.4v1.4h-1.4zM252.4 616.3h1.4v1.4h-1.4zM244.2 641.9h1.4v1.4h-1.4zM265.5 608.6h1.4v1.4h-1.4zM260.1 649.0h1.4v1.4h-1.4zM247.2 650.5h1.4v1.4h-1.4zM245.6 625.2h1.4v1.4h-1.4zM254.9 630.8h1.4v1.4h-1.4zM262.1 616.8h1.4v1.4h-1.4zM248.1 645.2h1.4v1.4h-1.4zM245.5 645.9h1.4v1.4h-1.4zM250.6 622.5h1.4v1.4h-1.4zM252.9 651.2h1.4v1.4h-1.4zM254.2 612.7h1.4v1.4h-1.4zM279.1 611.0h1.4v1.4h-1.4zM275.7 620.9h1.4v1.4h-1.4zM275.7 619.8h1.4v1.4h-1.4zM266.8 643.1h1.4v1.4h-1.4zM261.3 609.2h1.4v1.4h-1.4zM261.4 628.4h1.4v1.4h-1.4zM272.7 609.8h1.4v1.4h-1.4zM271.2 602.5h1.4v1.4h-1.4zM266.5 624.1h1.4v1.4h-1.4zM261.4 637.0h1.4v1.4h-1.4zM259.5 635.2h1.4v1.4h-1.4zM265.2 628.4h1.4v1.4h-1.4zM267.5 626.0h1.4v1.4h-1.4zM248.8 650.9h1.4v1.4h-1.4zM253.2 652.2h1.4v1.4h-1.4zM248.2 619.7h1.4v1.4h-1.4zM274.7 627.9h1.4v1.4h-1.4zM249.3 620.1h1.4v1.4h-1.4zM256.5 611.1h1.4v1.4h-1.4zM256.1 609.5h1.4v1.4h-1.4zM261.1 622.3h1.4v1.4h-1.4zM251.6 636.8h1.4v1.4h-1.4zM269.5 632.1h1.4v1.4h-1.4zM254.7 603.8h1.4v1.4h-1.4zM270.7 621.2h1.4v1.4h-1.4zM257.9 640.0h1.4v1.4h-1.4zM270.5 628.2h1.4v1.4h-1.4zM257.7 627.0h1.4v1.4h-1.4zM275.0 636.4h1.4v1.4h-1.4zM265.3 622.9h1.4v1.4h-1.4zM256.3 637.2h1.4v1.4h-1.4zM255.9 634.4h1.4v1.4h-1.4zM253.7 617.5h1.4v1.4h-1.4zM275.3 607.2h1.4v1.4h-1.4zM273.1 630.6h1.4v1.4h-1.4zM270.9 619.4h1.4v1.4h-1.4zM270.5 614.9h1.4v1.4h-1.4zM271.2 603.5h1.4v1.4h-1.4zM269.1 629.4h1.4v1.4h-1.4zM267.0 608.7h1.4v1.4h-1.4zM267.5 638.6h1.4v1.4h-1.4zM249.6 613.5h1.4v1.4h-1.4zM261.4 646.7h1.4v1.4h-1.4zM266.5 606.4h1.4v1.4h-1.4zM265.4 617.6h1.4v1.4h-1.4zM269.4 641.1h1.4v1.4h-1.4zM269.9 628.1h1.4v1.4h-1.4zM267.8 640.5h1.4v1.4h-1.4zM244.8 637.6h1.4v1.4h-1.4zM270.3 627.7h1.4v1.4h-1.4zM272.2 607.9h1.4v1.4h-1.4zM258.5 620.2h1.4v1.4h-1.4zM273.3 603.1h1.4v1.4h-1.4zM250.5 615.7h1.4v1.4h-1.4zM257.7 638.8h1.4v1.4h-1.4zM251.2 652.4h1.4v1.4h-1.4zM278.1 611.9h1.4v1.4h-1.4zM265.7 628.3h1.4v1.4h-1.4zM252.4 619.5h1.4v1.4h-1.4zM263.2 636.5h1.4v1.4h-1.4zM271.1 600.6h1.4v1.4h-1.4zM247.8 636.4h1.4v1.4h-1.4zM251.5 638.4h1.4v1.4h-1.4zM256.8 639.1h1.4v1.4h-1.4zM269.3 629.3h1.4v1.4h-1.4zM244.5 654.0h1.4v1.4h-1.4zM264.4 609.7h1.4v1.4h-1.4zM265.3 649.9h1.4v1.4h-1.4zM273.5 617.5h1.4v1.4h-1.4zM251.8 624.1h1.4v1.4h-1.4zM257.1 649.7h1.4v1.4h-1.4zM250.7 618.6h1.4v1.4h-1.4zM244.6 630.4h1.4v1.4h-1.4zM260.9 615.9h1.4v1.4h-1.4zM274.4 628.8h1.4v1.4h-1.4zM267.1 620.0h1.4v1.4h-1.4zM263.4 612.5h1.4v1.4h-1.4zM267.6 606.7h1.4v1.4h-1.4zM268.0 635.3h1.4v1.4h-1.4zM256.5 638.7h1.4v1.4h-1.4zM243.3 638.6h1.4v1.4h-1.4zM258.5 613.2h1.4v1.4h-1.4zM253.9 628.8h1.4v1.4h-1.4zM263.6 633.9h1.4v1.4h-1.4zM257.1 624.6h1.4v1.4h-1.4zM265.3 642.3h1.4v1.4h-1.4zM253.8 648.0h1.4v1.4h-1.4zM259.7 650.5h1.4v1.4h-1.4zM249.0 614.1h1.4v1.4h-1.4zM265.4 624.7h1.4v1.4h-1.4zM273.9 632.8h1.4v1.4h-1.4zM256.8 630.5h1.4v1.4h-1.4zM259.9 607.0h1.4v1.4h-1.4zM250.8 645.2h1.4v1.4h-1.4zM254.3 651.5h1.4v1.4h-1.4zM258.4 647.7h1.4v1.4h-1.4zM281.3 612.6h1.4v1.4h-1.4zM258.0 645.9h1.4v1.4h-1.4zM264.5 619.7h1.4v1.4h-1.4zM264.8 624.7h1.4v1.4h-1.4zM280.8 619.6h1.4v1.4h-1.4zM258.6 642.0h1.4v1.4h-1.4zM248.2 640.9h1.4v1.4h-1.4zM262.3 601.5h1.4v1.4h-1.4zM274.2 628.8h1.4v1.4h-1.4zM273.7 615.6h1.4v1.4h-1.4zM270.1 612.1h1.4v1.4h-1.4zM273.1 602.5h1.4v1.4h-1.4zM253.7 625.2h1.4v1.4h-1.4zM251.8 633.0h1.4v1.4h-1.4zM253.7 652.3h1.4v1.4h-1.4zM263.9 633.4h1.4v1.4h-1.4zM268.5 641.8h1.4v1.4h-1.4zM266.3 632.3h1.4v1.4h-1.4zM260.9 599.7h1.4v1.4h-1.4zM257.1 620.6h1.4v1.4h-1.4zM260.3 617.0h1.4v1.4h-1.4zM258.5 644.0h1.4v1.4h-1.4zM260.9 622.3h1.4v1.4h-1.4zM248.4 651.1h1.4v1.4h-1.4zM278.7 623.2h1.4v1.4h-1.4zM261.6 640.4h1.4v1.4h-1.4zM259.5 635.2h1.4v1.4h-1.4zM258.6 607.6h1.4v1.4h-1.4zM247.8 616.0h1.4v1.4h-1.4zM252.4 639.1h1.4v1.4h-1.4z" fill="#EEF5B0"/><path d="M86.3 644.6h1.4v1.4h-1.4zM112.4 608.6h1.4v1.4h-1.4zM93.4 603.6h1.4v1.4h-1.4zM92.8 621.4h1.4v1.4h-1.4zM94.4 608.7h1.4v1.4h-1.4zM85.2 623.5h1.4v1.4h-1.4zM105.5 616.1h1.4v1.4h-1.4zM84.0 629.8h1.4v1.4h-1.4zM121.0 617.2h1.4v1.4h-1.4zM97.8 624.3h1.4v1.4h-1.4zM88.5 640.1h1.4v1.4h-1.4zM83.4 637.6h1.4v1.4h-1.4zM80.1 648.4h1.4v1.4h-1.4zM107.6 629.8h1.4v1.4h-1.4zM93.6 640.4h1.4v1.4h-1.4zM106.5 607.2h1.4v1.4h-1.4zM86.7 656.5h1.4v1.4h-1.4zM89.8 683.4h1.4v1.4h-1.4zM96.4 667.1h1.4v1.4h-1.4zM86.9 651.8h1.4v1.4h-1.4zM75.2 675.2h1.4v1.4h-1.4zM90.2 651.8h1.4v1.4h-1.4zM99.9 684.2h1.4v1.4h-1.4zM77.4 679.5h1.4v1.4h-1.4zM102.0 657.0h1.4v1.4h-1.4zM88.7 701.9h1.4v1.4h-1.4zM87.3 683.0h1.4v1.4h-1.4zM85.0 682.3h1.4v1.4h-1.4zM88.7 689.1h1.4v1.4h-1.4zM94.9 662.3h1.4v1.4h-1.4zM89.4 667.3h1.4v1.4h-1.4zM91.4 681.1h1.4v1.4h-1.4zM89.4 708.2h1.4v1.4h-1.4zM91.0 707.7h1.4v1.4h-1.4zM95.8 659.2h1.4v1.4h-1.4zM79.3 689.3h1.4v1.4h-1.4zM93.5 660.0h1.4v1.4h-1.4zM84.6 683.9h1.4v1.4h-1.4zM97.1 678.0h1.4v1.4h-1.4zM97.9 698.8h1.4v1.4h-1.4zM96.0 671.3h1.4v1.4h-1.4zM74.0 664.3h1.4v1.4h-1.4zM93.7 710.2h1.4v1.4h-1.4zM98.8 665.7h1.4v1.4h-1.4zM101.3 673.6h1.4v1.4h-1.4zM92.7 671.8h1.4v1.4h-1.4zM81.5 672.3h1.4v1.4h-1.4zM74.4 687.8h1.4v1.4h-1.4zM102.4 651.8h1.4v1.4h-1.4zM98.3 681.9h1.4v1.4h-1.4zM77.7 685.2h1.4v1.4h-1.4zM99.9 699.9h1.4v1.4h-1.4zM88.8 679.7h1.4v1.4h-1.4zM97.8 666.0h1.4v1.4h-1.4zM85.7 669.6h1.4v1.4h-1.4zM89.9 680.9h1.4v1.4h-1.4zM96.5 698.2h1.4v1.4h-1.4zM96.9 684.6h1.4v1.4h-1.4zM86.5 701.1h1.4v1.4h-1.4zM76.6 658.9h1.4v1.4h-1.4zM94.0 655.0h1.4v1.4h-1.4zM82.0 665.5h1.4v1.4h-1.4zM79.2 657.7h1.4v1.4h-1.4zM79.2 675.9h1.4v1.4h-1.4zM84.6 683.6h1.4v1.4h-1.4zM76.8 684.6h1.4v1.4h-1.4zM86.4 703.5h1.4v1.4h-1.4zM85.3 674.8h1.4v1.4h-1.4zM83.2 684.3h1.4v1.4h-1.4zM86.9 661.5h1.4v1.4h-1.4zM99.7 684.8h1.4v1.4h-1.4zM92.6 702.0h1.4v1.4h-1.4zM88.6 664.6h1.4v1.4h-1.4zM88.1 660.7h1.4v1.4h-1.4zM79.0 661.8h1.4v1.4h-1.4zM84.5 679.8h1.4v1.4h-1.4zM97.9 660.9h1.4v1.4h-1.4zM77.7 662.1h1.4v1.4h-1.4zM94.9 667.4h1.4v1.4h-1.4zM84.4 677.3h1.4v1.4h-1.4zM96.9 687.6h1.4v1.4h-1.4zM85.5 681.5h1.4v1.4h-1.4zM75.2 688.9h1.4v1.4h-1.4zM89.8 653.0h1.4v1.4h-1.4zM80.2 663.0h1.4v1.4h-1.4zM91.0 667.1h1.4v1.4h-1.4zM84.2 697.8h1.4v1.4h-1.4zM82.7 659.4h1.4v1.4h-1.4zM98.1 682.0h1.4v1.4h-1.4zM82.3 682.4h1.4v1.4h-1.4zM84.1 656.5h1.4v1.4h-1.4zM91.3 681.8h1.4v1.4h-1.4zM78.4 663.6h1.4v1.4h-1.4zM93.5 664.2h1.4v1.4h-1.4zM88.2 680.1h1.4v1.4h-1.4zM76.8 664.1h1.4v1.4h-1.4zM89.1 650.0h1.4v1.4h-1.4zM83.4 691.2h1.4v1.4h-1.4zM96.5 664.1h1.4v1.4h-1.4zM76.1 664.7h1.4v1.4h-1.4zM86.6 711.3h1.4v1.4h-1.4zM74.0 671.4h1.4v1.4h-1.4zM89.3 653.3h1.4v1.4h-1.4zM92.2 670.8h1.4v1.4h-1.4zM82.3 676.8h1.4v1.4h-1.4zM92.8 685.1h1.4v1.4h-1.4zM94.2 679.5h1.4v1.4h-1.4zM88.6 656.7h1.4v1.4h-1.4zM90.3 682.7h1.4v1.4h-1.4zM98.3 651.4h1.4v1.4h-1.4zM97.2 687.5h1.4v1.4h-1.4zM82.3 687.4h1.4v1.4h-1.4zM81.2 663.6h1.4v1.4h-1.4zM74.2 675.0h1.4v1.4h-1.4zM85.5 679.6h1.4v1.4h-1.4zM84.2 699.2h1.4v1.4h-1.4zM89.1 669.6h1.4v1.4h-1.4zM97.6 690.8h1.4v1.4h-1.4zM88.0 669.5h1.4v1.4h-1.4zM73.7 672.3h1.4v1.4h-1.4zM85.0 706.2h1.4v1.4h-1.4zM98.8 688.5h1.4v1.4h-1.4zM100.9 671.0h1.4v1.4h-1.4zM92.0 670.9h1.4v1.4h-1.4zM89.2 682.7h1.4v1.4h-1.4zM98.4 657.6h1.4v1.4h-1.4zM99.0 685.5h1.4v1.4h-1.4zM95.6 678.7h1.4v1.4h-1.4zM92.9 698.7h1.4v1.4h-1.4zM85.4 708.0h1.4v1.4h-1.4zM99.2 653.4h1.4v1.4h-1.4zM92.8 699.3h1.4v1.4h-1.4zM82.9 685.4h1.4v1.4h-1.4zM82.2 663.8h1.4v1.4h-1.4zM100.4 679.0h1.4v1.4h-1.4zM90.6 662.2h1.4v1.4h-1.4zM80.8 662.2h1.4v1.4h-1.4zM78.3 682.3h1.4v1.4h-1.4zM82.2 701.4h1.4v1.4h-1.4zM73.9 691.6h1.4v1.4h-1.4zM94.0 669.1h1.4v1.4h-1.4zM95.6 670.0h1.4v1.4h-1.4zM83.3 696.4h1.4v1.4h-1.4zM82.4 679.1h1.4v1.4h-1.4zM96.3 653.8h1.4v1.4h-1.4zM86.2 705.0h1.4v1.4h-1.4zM81.1 660.8h1.4v1.4h-1.4zM80.0 687.1h1.4v1.4h-1.4zM97.6 685.9h1.4v1.4h-1.4zM99.9 683.1h1.4v1.4h-1.4zM75.7 692.0h1.4v1.4h-1.4zM93.6 693.2h1.4v1.4h-1.4zM90.9 703.9h1.4v1.4h-1.4zM86.9 659.6h1.4v1.4h-1.4zM82.9 699.2h1.4v1.4h-1.4zM93.4 679.4h1.4v1.4h-1.4zM77.3 691.2h1.4v1.4h-1.4zM99.7 689.7h1.4v1.4h-1.4zM99.3 696.8h1.4v1.4h-1.4zM96.8 679.9h1.4v1.4h-1.4zM88.6 653.9h1.4v1.4h-1.4zM92.6 674.8h1.4v1.4h-1.4zM92.1 679.6h1.4v1.4h-1.4zM95.6 665.2h1.4v1.4h-1.4zM94.2 660.7h1.4v1.4h-1.4zM74.4 671.6h1.4v1.4h-1.4zM98.3 681.4h1.4v1.4h-1.4zM86.5 689.2h1.4v1.4h-1.4zM91.0 707.4h1.4v1.4h-1.4zM93.3 707.7h1.4v1.4h-1.4zM85.7 699.6h1.4v1.4h-1.4zM98.4 669.2h1.4v1.4h-1.4zM90.8 698.5h1.4v1.4h-1.4zM97.1 696.8h1.4v1.4h-1.4zM94.9 698.4h1.4v1.4h-1.4zM98.1 687.8h1.4v1.4h-1.4zM79.2 683.8h1.4v1.4h-1.4zM87.0 671.1h1.4v1.4h-1.4zM80.5 672.9h1.4v1.4h-1.4zM84.5 684.8h1.4v1.4h-1.4zM91.1 692.2h1.4v1.4h-1.4zM75.4 679.5h1.4v1.4h-1.4zM83.8 686.4h1.4v1.4h-1.4zM81.3 661.8h1.4v1.4h-1.4zM82.3 688.3h1.4v1.4h-1.4zM84.6 673.7h1.4v1.4h-1.4zM95.3 693.0h1.4v1.4h-1.4zM94.7 710.8h1.4v1.4h-1.4zM80.2 675.4h1.4v1.4h-1.4zM87.3 656.5h1.4v1.4h-1.4zM92.4 678.2h1.4v1.4h-1.4zM88.8 708.2h1.4v1.4h-1.4zM96.7 678.5h1.4v1.4h-1.4zM86.5 672.8h1.4v1.4h-1.4zM77.5 684.5h1.4v1.4h-1.4zM91.1 714.6h1.4v1.4h-1.4zM82.4 673.5h1.4v1.4h-1.4zM77.2 690.8h1.4v1.4h-1.4zM95.9 707.3h1.4v1.4h-1.4zM72.1 691.9h1.4v1.4h-1.4zM81.9 682.6h1.4v1.4h-1.4zM76.2 660.3h1.4v1.4h-1.4zM86.1 657.4h1.4v1.4h-1.4zM72.9 688.6h1.4v1.4h-1.4zM78.0 668.7h1.4v1.4h-1.4zM84.9 660.7h1.4v1.4h-1.4zM76.7 667.2h1.4v1.4h-1.4zM74.8 664.3h1.4v1.4h-1.4zM101.9 670.5h1.4v1.4h-1.4zM79.1 660.9h1.4v1.4h-1.4zM93.2 667.1h1.4v1.4h-1.4zM76.8 666.1h1.4v1.4h-1.4zM75.8 691.3h1.4v1.4h-1.4zM102.9 655.6h1.4v1.4h-1.4zM103.2 655.2h1.4v1.4h-1.4zM100.6 697.6h1.4v1.4h-1.4zM79.8 682.1h1.4v1.4h-1.4zM103.4 668.5h1.4v1.4h-1.4zM83.9 697.2h1.4v1.4h-1.4zM95.9 679.4h1.4v1.4h-1.4zM94.0 672.1h1.4v1.4h-1.4zM75.0 676.4h1.4v1.4h-1.4zM100.5 687.7h1.4v1.4h-1.4zM76.0 663.3h1.4v1.4h-1.4zM73.0 687.6h1.4v1.4h-1.4zM89.5 691.4h1.4v1.4h-1.4zM94.8 676.5h1.4v1.4h-1.4zM86.2 708.6h1.4v1.4h-1.4zM86.0 675.1h1.4v1.4h-1.4zM89.5 713.6h1.4v1.4h-1.4zM97.6 660.9h1.4v1.4h-1.4zM96.8 697.6h1.4v1.4h-1.4zM80.6 670.3h1.4v1.4h-1.4zM101.4 684.4h1.4v1.4h-1.4zM79.4 677.7h1.4v1.4h-1.4zM78.0 685.3h1.4v1.4h-1.4zM78.4 694.1h1.4v1.4h-1.4zM78.6 668.4h1.4v1.4h-1.4zM89.0 686.3h1.4v1.4h-1.4zM94.0 655.8h1.4v1.4h-1.4zM83.4 686.6h1.4v1.4h-1.4zM84.7 686.5h1.4v1.4h-1.4zM74.9 673.2h1.4v1.4h-1.4zM95.9 664.1h1.4v1.4h-1.4zM84.7 658.1h1.4v1.4h-1.4zM77.6 672.1h1.4v1.4h-1.4zM92.5 671.2h1.4v1.4h-1.4zM91.5 660.5h1.4v1.4h-1.4zM98.8 691.8h1.4v1.4h-1.4zM78.8 665.2h1.4v1.4h-1.4zM79.1 677.3h1.4v1.4h-1.4zM90.0 697.0h1.4v1.4h-1.4zM100.3 657.5h1.4v1.4h-1.4zM86.5 660.7h1.4v1.4h-1.4zM99.1 674.2h1.4v1.4h-1.4zM94.2 692.5h1.4v1.4h-1.4zM79.8 661.3h1.4v1.4h-1.4zM96.4 656.0h1.4v1.4h-1.4zM76.4 664.4h1.4v1.4h-1.4zM91.0 685.7h1.4v1.4h-1.4zM85.7 654.1h1.4v1.4h-1.4zM85.6 703.7h1.4v1.4h-1.4zM76.7 672.9h1.4v1.4h-1.4zM98.9 685.7h1.4v1.4h-1.4zM102.4 687.4h1.4v1.4h-1.4zM100.9 657.3h1.4v1.4h-1.4zM90.4 708.1h1.4v1.4h-1.4zM85.7 701.2h1.4v1.4h-1.4zM84.5 684.0h1.4v1.4h-1.4zM74.7 682.2h1.4v1.4h-1.4zM84.5 701.1h1.4v1.4h-1.4zM100.3 687.6h1.4v1.4h-1.4zM77.2 677.6h1.4v1.4h-1.4zM95.3 669.4h1.4v1.4h-1.4zM84.2 656.0h1.4v1.4h-1.4zM89.7 681.8h1.4v1.4h-1.4zM86.4 673.9h1.4v1.4h-1.4zM95.1 699.2h1.4v1.4h-1.4zM100.6 664.2h1.4v1.4h-1.4zM81.5 672.8h1.4v1.4h-1.4zM96.3 695.4h1.4v1.4h-1.4zM81.7 678.7h1.4v1.4h-1.4zM84.9 659.6h1.4v1.4h-1.4zM94.9 650.3h1.4v1.4h-1.4zM77.1 666.6h1.4v1.4h-1.4zM77.4 675.5h1.4v1.4h-1.4zM72.6 673.1h1.4v1.4h-1.4zM86.0 665.0h1.4v1.4h-1.4zM71.2 688.9h1.4v1.4h-1.4zM94.1 682.1h1.4v1.4h-1.4zM80.1 698.3h1.4v1.4h-1.4zM84.2 658.2h1.4v1.4h-1.4zM95.4 670.5h1.4v1.4h-1.4zM93.8 689.9h1.4v1.4h-1.4zM97.9 678.6h1.4v1.4h-1.4zM93.5 712.8h1.4v1.4h-1.4zM84.2 690.7h1.4v1.4h-1.4zM102.6 677.0h1.4v1.4h-1.4zM98.2 666.4h1.4v1.4h-1.4zM80.5 668.5h1.4v1.4h-1.4zM76.1 668.8h1.4v1.4h-1.4zM93.2 652.3h1.4v1.4h-1.4zM87.2 688.5h1.4v1.4h-1.4zM78.4 690.3h1.4v1.4h-1.4zM77.1 697.0h1.4v1.4h-1.4zM96.0 667.5h1.4v1.4h-1.4zM79.1 658.5h1.4v1.4h-1.4zM75.8 671.8h1.4v1.4h-1.4zM87.4 653.8h1.4v1.4h-1.4zM99.2 678.8h1.4v1.4h-1.4zM100.6 685.1h1.4v1.4h-1.4zM99.0 676.1h1.4v1.4h-1.4zM83.8 701.7h1.4v1.4h-1.4zM78.9 662.6h1.4v1.4h-1.4zM76.5 700.3h1.4v1.4h-1.4zM87.8 654.6h1.4v1.4h-1.4zM99.9 676.0h1.4v1.4h-1.4zM84.1 666.5h1.4v1.4h-1.4zM84.5 699.0h1.4v1.4h-1.4zM93.8 688.9h1.4v1.4h-1.4zM92.3 698.5h1.4v1.4h-1.4zM76.8 691.2h1.4v1.4h-1.4zM84.2 670.5h1.4v1.4h-1.4zM77.8 680.4h1.4v1.4h-1.4zM91.9 666.6h1.4v1.4h-1.4zM103.0 681.7h1.4v1.4h-1.4zM96.1 692.4h1.4v1.4h-1.4zM102.2 657.6h1.4v1.4h-1.4zM100.5 686.1h1.4v1.4h-1.4zM91.7 692.0h1.4v1.4h-1.4zM99.2 662.0h1.4v1.4h-1.4zM86.5 668.1h1.4v1.4h-1.4zM87.9 703.8h1.4v1.4h-1.4zM90.2 683.7h1.4v1.4h-1.4zM79.5 668.7h1.4v1.4h-1.4zM85.4 655.4h1.4v1.4h-1.4zM90.2 662.1h1.4v1.4h-1.4zM86.2 663.0h1.4v1.4h-1.4zM95.1 686.8h1.4v1.4h-1.4zM97.9 668.8h1.4v1.4h-1.4zM92.4 702.2h1.4v1.4h-1.4zM94.3 653.8h1.4v1.4h-1.4zM72.0 666.3h1.4v1.4h-1.4zM91.9 674.0h1.4v1.4h-1.4zM93.6 711.4h1.4v1.4h-1.4zM87.2 669.8h1.4v1.4h-1.4zM91.6 665.3h1.4v1.4h-1.4zM96.2 696.4h1.4v1.4h-1.4zM88.8 662.8h1.4v1.4h-1.4zM93.4 680.2h1.4v1.4h-1.4zM91.4 671.3h1.4v1.4h-1.4zM87.0 652.9h1.4v1.4h-1.4zM74.1 684.0h1.4v1.4h-1.4zM80.5 663.3h1.4v1.4h-1.4zM75.5 683.7h1.4v1.4h-1.4zM72.5 683.1h1.4v1.4h-1.4zM81.9 680.0h1.4v1.4h-1.4zM76.3 700.3h1.4v1.4h-1.4zM89.0 692.8h1.4v1.4h-1.4zM95.9 684.0h1.4v1.4h-1.4zM89.5 659.2h1.4v1.4h-1.4zM86.0 685.0h1.4v1.4h-1.4zM101.7 660.2h1.4v1.4h-1.4zM90.3 678.6h1.4v1.4h-1.4zM87.5 675.1h1.4v1.4h-1.4zM100.5 674.2h1.4v1.4h-1.4zM94.5 696.9h1.4v1.4h-1.4zM79.6 657.5h1.4v1.4h-1.4zM84.9 676.3h1.4v1.4h-1.4zM80.1 681.5h1.4v1.4h-1.4zM81.3 700.1h1.4v1.4h-1.4zM76.2 687.4h1.4v1.4h-1.4zM100.6 684.8h1.4v1.4h-1.4zM97.4 679.9h1.4v1.4h-1.4zM80.8 657.2h1.4v1.4h-1.4zM95.6 659.0h1.4v1.4h-1.4zM82.4 670.0h1.4v1.4h-1.4zM85.7 697.3h1.4v1.4h-1.4zM100.6 681.3h1.4v1.4h-1.4zM85.6 654.5h1.4v1.4h-1.4zM78.3 698.7h1.4v1.4h-1.4zM82.4 657.9h1.4v1.4h-1.4zM96.7 655.2h1.4v1.4h-1.4zM78.8 689.4h1.4v1.4h-1.4zM77.9 686.3h1.4v1.4h-1.4zM88.1 674.1h1.4v1.4h-1.4zM81.0 686.1h1.4v1.4h-1.4zM92.9 672.9h1.4v1.4h-1.4zM96.4 684.1h1.4v1.4h-1.4zM91.0 655.3h1.4v1.4h-1.4zM93.3 655.0h1.4v1.4h-1.4zM94.8 666.2h1.4v1.4h-1.4zM83.7 654.2h1.4v1.4h-1.4zM82.5 679.7h1.4v1.4h-1.4zM85.8 659.0h1.4v1.4h-1.4zM72.5 690.8h1.4v1.4h-1.4zM82.0 699.3h1.4v1.4h-1.4zM100.7 681.2h1.4v1.4h-1.4zM83.7 675.4h1.4v1.4h-1.4zM93.7 709.7h1.4v1.4h-1.4zM96.0 655.7h1.4v1.4h-1.4zM94.5 677.2h1.4v1.4h-1.4zM102.3 674.4h1.4v1.4h-1.4zM81.6 668.3h1.4v1.4h-1.4zM83.2 663.4h1.4v1.4h-1.4zM88.1 693.9h1.4v1.4h-1.4zM86.5 664.3h1.4v1.4h-1.4zM99.0 693.5h1.4v1.4h-1.4zM84.6 702.0h1.4v1.4h-1.4zM72.6 665.3h1.4v1.4h-1.4zM77.1 693.1h1.4v1.4h-1.4zM79.9 675.8h1.4v1.4h-1.4zM80.5 691.0h1.4v1.4h-1.4zM94.4 712.1h1.4v1.4h-1.4zM85.9 661.3h1.4v1.4h-1.4zM90.5 675.9h1.4v1.4h-1.4zM85.6 662.4h1.4v1.4h-1.4zM81.2 700.9h1.4v1.4h-1.4zM80.6 680.9h1.4v1.4h-1.4zM85.0 679.4h1.4v1.4h-1.4zM85.3 689.3h1.4v1.4h-1.4zM75.9 685.6h1.4v1.4h-1.4zM78.4 691.5h1.4v1.4h-1.4zM84.2 678.2h1.4v1.4h-1.4zM95.1 662.2h1.4v1.4h-1.4zM98.9 675.6h1.4v1.4h-1.4zM75.6 661.7h1.4v1.4h-1.4zM88.2 686.4h1.4v1.4h-1.4zM98.7 683.3h1.4v1.4h-1.4zM99.7 678.4h1.4v1.4h-1.4zM86.7 675.2h1.4v1.4h-1.4zM86.1 693.5h1.4v1.4h-1.4zM79.3 692.3h1.4v1.4h-1.4zM88.0 709.2h1.4v1.4h-1.4zM90.9 706.5h1.4v1.4h-1.4zM77.2 686.8h1.4v1.4h-1.4zM88.2 692.6h1.4v1.4h-1.4zM91.7 684.5h1.4v1.4h-1.4zM98.4 674.2h1.4v1.4h-1.4zM78.0 696.9h1.4v1.4h-1.4zM86.1 704.4h1.4v1.4h-1.4zM92.2 660.2h1.4v1.4h-1.4zM92.8 693.1h1.4v1.4h-1.4zM83.5 686.3h1.4v1.4h-1.4zM92.8 690.7h1.4v1.4h-1.4zM81.3 661.6h1.4v1.4h-1.4zM92.4 651.4h1.4v1.4h-1.4zM93.5 682.3h1.4v1.4h-1.4zM76.8 693.2h1.4v1.4h-1.4zM84.9 696.4h1.4v1.4h-1.4zM86.0 692.5h1.4v1.4h-1.4zM101.7 688.1h1.4v1.4h-1.4zM79.9 699.6h1.4v1.4h-1.4zM73.9 684.5h1.4v1.4h-1.4zM101.7 686.5h1.4v1.4h-1.4zM84.7 654.2h1.4v1.4h-1.4zM80.3 665.8h1.4v1.4h-1.4zM90.9 670.5h1.4v1.4h-1.4zM95.7 693.3h1.4v1.4h-1.4zM88.3 668.8h1.4v1.4h-1.4zM79.6 692.6h1.4v1.4h-1.4zM90.8 672.0h1.4v1.4h-1.4zM81.2 689.7h1.4v1.4h-1.4zM90.5 679.9h1.4v1.4h-1.4zM93.1 706.5h1.4v1.4h-1.4zM79.7 662.1h1.4v1.4h-1.4zM84.2 695.8h1.4v1.4h-1.4zM88.3 674.7h1.4v1.4h-1.4zM93.9 660.1h1.4v1.4h-1.4zM80.5 679.1h1.4v1.4h-1.4zM101.9 687.1h1.4v1.4h-1.4zM82.7 667.9h1.4v1.4h-1.4zM85.8 682.4h1.4v1.4h-1.4zM96.2 680.7h1.4v1.4h-1.4zM89.3 656.6h1.4v1.4h-1.4zM75.5 678.3h1.4v1.4h-1.4zM85.2 692.9h1.4v1.4h-1.4zM83.9 687.1h1.4v1.4h-1.4zM92.2 700.0h1.4v1.4h-1.4zM82.8 668.2h1.4v1.4h-1.4zM92.5 652.3h1.4v1.4h-1.4zM83.5 701.6h1.4v1.4h-1.4zM80.8 673.5h1.4v1.4h-1.4zM97.0 671.1h1.4v1.4h-1.4zM84.7 664.4h1.4v1.4h-1.4zM93.5 695.3h1.4v1.4h-1.4zM95.1 704.7h1.4v1.4h-1.4zM79.1 657.7h1.4v1.4h-1.4zM93.4 674.0h1.4v1.4h-1.4zM79.0 704.4h1.4v1.4h-1.4zM90.9 697.1h1.4v1.4h-1.4zM98.6 667.5h1.4v1.4h-1.4zM73.6 677.8h1.4v1.4h-1.4zM93.6 675.2h1.4v1.4h-1.4zM73.5 674.1h1.4v1.4h-1.4zM90.6 707.8h1.4v1.4h-1.4zM81.3 678.0h1.4v1.4h-1.4zM96.7 673.0h1.4v1.4h-1.4zM78.4 674.7h1.4v1.4h-1.4zM84.3 660.9h1.4v1.4h-1.4zM87.6 680.7h1.4v1.4h-1.4zM83.3 664.1h1.4v1.4h-1.4zM98.2 683.2h1.4v1.4h-1.4zM85.3 688.3h1.4v1.4h-1.4zM86.3 668.1h1.4v1.4h-1.4zM95.0 698.0h1.4v1.4h-1.4zM78.7 659.8h1.4v1.4h-1.4zM94.8 709.2h1.4v1.4h-1.4zM103.3 663.9h1.4v1.4h-1.4zM88.8 670.3h1.4v1.4h-1.4zM91.4 707.3h1.4v1.4h-1.4zM102.4 684.7h1.4v1.4h-1.4zM102.1 662.7h1.4v1.4h-1.4zM84.5 668.4h1.4v1.4h-1.4zM86.6 656.3h1.4v1.4h-1.4zM84.9 688.6h1.4v1.4h-1.4zM98.7 696.7h1.4v1.4h-1.4zM95.9 678.1h1.4v1.4h-1.4zM85.9 681.1h1.4v1.4h-1.4zM113.1 663.1h1.4v1.4h-1.4zM114.6 674.4h1.4v1.4h-1.4zM113.6 681.0h1.4v1.4h-1.4zM114.4 676.1h1.4v1.4h-1.4zM109.3 679.0h1.4v1.4h-1.4zM110.8 697.5h1.4v1.4h-1.4zM111.6 678.7h1.4v1.4h-1.4zM110.1 671.0h1.4v1.4h-1.4zM117.1 678.9h1.4v1.4h-1.4zM119.8 695.1h1.4v1.4h-1.4zM120.6 641.1h1.4v1.4h-1.4zM125.1 647.0h1.4v1.4h-1.4zM134.4 653.1h1.4v1.4h-1.4zM123.4 655.0h1.4v1.4h-1.4zM117.1 642.6h1.4v1.4h-1.4zM128.6 667.4h1.4v1.4h-1.4zM119.4 671.7h1.4v1.4h-1.4zM122.2 631.6h1.4v1.4h-1.4zM123.1 652.2h1.4v1.4h-1.4zM131.4 644.5h1.4v1.4h-1.4zM116.0 663.2h1.4v1.4h-1.4zM120.3 647.0h1.4v1.4h-1.4zM123.9 671.7h1.4v1.4h-1.4zM123.5 660.0h1.4v1.4h-1.4zM130.9 667.0h1.4v1.4h-1.4zM130.2 659.0h1.4v1.4h-1.4zM123.9 672.4h1.4v1.4h-1.4zM141.3 669.7h1.4v1.4h-1.4zM125.4 645.0h1.4v1.4h-1.4zM122.1 660.1h1.4v1.4h-1.4zM127.4 656.0h1.4v1.4h-1.4zM134.6 662.4h1.4v1.4h-1.4zM134.2 685.3h1.4v1.4h-1.4zM128.5 629.5h1.4v1.4h-1.4zM247.1 618.0h1.4v1.4h-1.4zM260.4 632.1h1.4v1.4h-1.4zM251.7 631.0h1.4v1.4h-1.4zM242.1 650.5h1.4v1.4h-1.4zM251.0 680.6h1.4v1.4h-1.4zM246.4 658.7h1.4v1.4h-1.4zM250.9 694.4h1.4v1.4h-1.4zM235.1 681.2h1.4v1.4h-1.4zM246.3 646.1h1.4v1.4h-1.4zM260.0 658.9h1.4v1.4h-1.4zM247.4 697.4h1.4v1.4h-1.4zM250.0 694.3h1.4v1.4h-1.4zM242.3 684.6h1.4v1.4h-1.4zM250.7 670.8h1.4v1.4h-1.4zM259.3 686.0h1.4v1.4h-1.4zM234.2 688.2h1.4v1.4h-1.4zM259.3 674.2h1.4v1.4h-1.4zM260.9 690.0h1.4v1.4h-1.4zM255.2 707.2h1.4v1.4h-1.4zM244.2 650.3h1.4v1.4h-1.4zM254.7 708.6h1.4v1.4h-1.4zM237.8 680.4h1.4v1.4h-1.4zM255.3 688.5h1.4v1.4h-1.4zM248.2 681.0h1.4v1.4h-1.4zM250.4 650.5h1.4v1.4h-1.4zM262.6 664.5h1.4v1.4h-1.4zM236.0 674.8h1.4v1.4h-1.4zM260.6 679.2h1.4v1.4h-1.4zM255.8 691.9h1.4v1.4h-1.4zM244.4 678.8h1.4v1.4h-1.4zM240.1 689.7h1.4v1.4h-1.4zM253.1 696.4h1.4v1.4h-1.4zM245.1 682.5h1.4v1.4h-1.4zM249.2 703.5h1.4v1.4h-1.4zM252.1 663.2h1.4v1.4h-1.4zM255.6 653.0h1.4v1.4h-1.4zM239.5 665.8h1.4v1.4h-1.4zM237.4 690.5h1.4v1.4h-1.4zM240.2 702.6h1.4v1.4h-1.4zM257.8 703.6h1.4v1.4h-1.4zM246.1 646.7h1.4v1.4h-1.4zM255.9 694.0h1.4v1.4h-1.4zM242.5 675.9h1.4v1.4h-1.4zM243.7 691.7h1.4v1.4h-1.4zM252.7 657.7h1.4v1.4h-1.4zM254.4 648.5h1.4v1.4h-1.4zM233.9 686.7h1.4v1.4h-1.4zM247.8 651.9h1.4v1.4h-1.4zM253.7 670.4h1.4v1.4h-1.4zM253.2 698.6h1.4v1.4h-1.4zM245.5 704.5h1.4v1.4h-1.4zM258.2 698.4h1.4v1.4h-1.4zM259.5 662.8h1.4v1.4h-1.4zM243.7 691.1h1.4v1.4h-1.4zM254.7 676.7h1.4v1.4h-1.4zM240.6 678.2h1.4v1.4h-1.4zM249.0 691.9h1.4v1.4h-1.4zM253.6 648.2h1.4v1.4h-1.4zM237.6 678.7h1.4v1.4h-1.4zM256.4 683.3h1.4v1.4h-1.4zM236.7 665.8h1.4v1.4h-1.4zM244.1 659.2h1.4v1.4h-1.4zM238.7 684.6h1.4v1.4h-1.4zM256.6 704.5h1.4v1.4h-1.4zM257.0 708.9h1.4v1.4h-1.4zM254.3 661.5h1.4v1.4h-1.4zM246.0 688.0h1.4v1.4h-1.4zM245.5 651.4h1.4v1.4h-1.4zM256.2 695.5h1.4v1.4h-1.4zM246.9 650.7h1.4v1.4h-1.4zM249.5 681.2h1.4v1.4h-1.4zM243.4 679.0h1.4v1.4h-1.4zM260.0 681.2h1.4v1.4h-1.4zM243.6 685.0h1.4v1.4h-1.4zM257.1 700.9h1.4v1.4h-1.4zM256.0 671.1h1.4v1.4h-1.4zM261.5 663.7h1.4v1.4h-1.4zM238.1 658.6h1.4v1.4h-1.4zM247.1 671.6h1.4v1.4h-1.4zM262.0 664.4h1.4v1.4h-1.4zM256.9 693.4h1.4v1.4h-1.4zM260.5 667.2h1.4v1.4h-1.4zM238.5 686.9h1.4v1.4h-1.4zM244.4 693.2h1.4v1.4h-1.4zM245.0 676.9h1.4v1.4h-1.4zM241.3 694.4h1.4v1.4h-1.4zM242.0 654.7h1.4v1.4h-1.4zM237.3 688.1h1.4v1.4h-1.4zM257.0 661.9h1.4v1.4h-1.4zM238.3 675.8h1.4v1.4h-1.4zM257.1 686.3h1.4v1.4h-1.4zM256.5 654.7h1.4v1.4h-1.4zM255.2 699.9h1.4v1.4h-1.4zM239.5 678.2h1.4v1.4h-1.4zM264.0 671.4h1.4v1.4h-1.4zM254.3 693.7h1.4v1.4h-1.4zM236.9 672.4h1.4v1.4h-1.4zM235.7 671.4h1.4v1.4h-1.4zM238.9 692.5h1.4v1.4h-1.4zM255.5 687.4h1.4v1.4h-1.4zM234.0 684.8h1.4v1.4h-1.4zM239.0 674.9h1.4v1.4h-1.4zM234.7 682.2h1.4v1.4h-1.4zM253.0 665.3h1.4v1.4h-1.4zM247.7 672.4h1.4v1.4h-1.4zM235.0 667.8h1.4v1.4h-1.4zM244.0 658.8h1.4v1.4h-1.4zM240.5 674.6h1.4v1.4h-1.4zM242.2 660.8h1.4v1.4h-1.4zM254.1 657.1h1.4v1.4h-1.4zM240.6 666.5h1.4v1.4h-1.4zM252.0 704.0h1.4v1.4h-1.4zM249.1 691.6h1.4v1.4h-1.4zM249.4 688.7h1.4v1.4h-1.4zM240.1 689.7h1.4v1.4h-1.4zM240.9 658.6h1.4v1.4h-1.4zM251.5 680.2h1.4v1.4h-1.4zM236.7 693.8h1.4v1.4h-1.4zM233.8 695.7h1.4v1.4h-1.4zM239.2 654.8h1.4v1.4h-1.4zM240.8 660.2h1.4v1.4h-1.4zM250.2 710.6h1.4v1.4h-1.4zM238.1 675.3h1.4v1.4h-1.4zM241.3 655.0h1.4v1.4h-1.4zM243.7 666.6h1.4v1.4h-1.4zM255.6 684.4h1.4v1.4h-1.4zM251.3 685.9h1.4v1.4h-1.4zM250.9 668.3h1.4v1.4h-1.4zM252.8 670.7h1.4v1.4h-1.4zM244.8 677.1h1.4v1.4h-1.4zM253.4 676.3h1.4v1.4h-1.4zM242.3 670.1h1.4v1.4h-1.4zM238.5 669.2h1.4v1.4h-1.4zM250.5 707.5h1.4v1.4h-1.4zM239.0 693.8h1.4v1.4h-1.4zM256.6 700.7h1.4v1.4h-1.4zM236.7 663.8h1.4v1.4h-1.4zM244.6 706.9h1.4v1.4h-1.4zM258.2 663.6h1.4v1.4h-1.4zM251.7 651.5h1.4v1.4h-1.4zM255.9 689.1h1.4v1.4h-1.4zM251.8 704.8h1.4v1.4h-1.4zM239.9 666.1h1.4v1.4h-1.4zM247.6 708.9h1.4v1.4h-1.4zM245.6 687.6h1.4v1.4h-1.4zM258.9 687.8h1.4v1.4h-1.4zM241.5 675.4h1.4v1.4h-1.4zM242.7 668.6h1.4v1.4h-1.4zM256.9 665.3h1.4v1.4h-1.4zM264.9 665.2h1.4v1.4h-1.4zM251.7 654.5h1.4v1.4h-1.4zM248.9 681.7h1.4v1.4h-1.4zM246.0 706.2h1.4v1.4h-1.4zM255.7 697.0h1.4v1.4h-1.4zM254.0 652.7h1.4v1.4h-1.4zM245.5 698.8h1.4v1.4h-1.4zM242.6 666.6h1.4v1.4h-1.4zM256.1 694.2h1.4v1.4h-1.4zM245.9 684.2h1.4v1.4h-1.4zM254.1 672.1h1.4v1.4h-1.4zM261.7 656.2h1.4v1.4h-1.4zM257.2 666.2h1.4v1.4h-1.4zM262.6 659.9h1.4v1.4h-1.4zM246.4 683.9h1.4v1.4h-1.4zM250.9 661.0h1.4v1.4h-1.4zM259.1 667.7h1.4v1.4h-1.4zM247.3 702.6h1.4v1.4h-1.4zM263.6 671.3h1.4v1.4h-1.4zM266.7 659.2h1.4v1.4h-1.4zM248.9 702.4h1.4v1.4h-1.4zM252.3 689.3h1.4v1.4h-1.4zM245.6 672.7h1.4v1.4h-1.4zM255.8 658.0h1.4v1.4h-1.4zM245.9 706.8h1.4v1.4h-1.4zM238.3 661.0h1.4v1.4h-1.4zM241.2 686.8h1.4v1.4h-1.4zM241.7 653.2h1.4v1.4h-1.4zM246.8 707.6h1.4v1.4h-1.4zM252.7 659.2h1.4v1.4h-1.4zM253.4 686.5h1.4v1.4h-1.4zM241.6 683.1h1.4v1.4h-1.4zM237.7 687.2h1.4v1.4h-1.4zM253.7 660.8h1.4v1.4h-1.4zM261.2 655.6h1.4v1.4h-1.4zM249.4 648.6h1.4v1.4h-1.4zM257.0 688.6h1.4v1.4h-1.4zM247.9 661.1h1.4v1.4h-1.4zM250.6 651.7h1.4v1.4h-1.4zM263.0 660.0h1.4v1.4h-1.4zM243.6 677.2h1.4v1.4h-1.4zM257.7 699.9h1.4v1.4h-1.4zM248.2 706.3h1.4v1.4h-1.4zM250.8 662.6h1.4v1.4h-1.4zM251.3 666.6h1.4v1.4h-1.4zM250.0 684.8h1.4v1.4h-1.4zM253.7 684.4h1.4v1.4h-1.4zM244.7 674.6h1.4v1.4h-1.4zM251.4 683.8h1.4v1.4h-1.4zM237.8 694.0h1.4v1.4h-1.4zM258.1 670.6h1.4v1.4h-1.4zM254.9 686.6h1.4v1.4h-1.4zM248.9 657.3h1.4v1.4h-1.4zM253.4 656.7h1.4v1.4h-1.4zM236.7 663.0h1.4v1.4h-1.4zM256.7 658.9h1.4v1.4h-1.4zM248.1 704.6h1.4v1.4h-1.4zM249.3 688.1h1.4v1.4h-1.4zM252.0 672.6h1.4v1.4h-1.4zM248.4 686.0h1.4v1.4h-1.4zM237.4 694.9h1.4v1.4h-1.4zM256.5 695.4h1.4v1.4h-1.4zM255.4 651.3h1.4v1.4h-1.4zM234.7 687.5h1.4v1.4h-1.4zM234.2 692.3h1.4v1.4h-1.4zM246.5 696.0h1.4v1.4h-1.4zM236.8 681.5h1.4v1.4h-1.4zM249.4 674.7h1.4v1.4h-1.4zM240.8 700.9h1.4v1.4h-1.4zM252.1 655.7h1.4v1.4h-1.4zM248.8 693.7h1.4v1.4h-1.4zM244.4 690.2h1.4v1.4h-1.4zM240.5 656.3h1.4v1.4h-1.4zM250.8 702.0h1.4v1.4h-1.4zM239.7 665.5h1.4v1.4h-1.4zM256.8 663.0h1.4v1.4h-1.4zM252.2 658.0h1.4v1.4h-1.4zM246.9 697.4h1.4v1.4h-1.4zM256.3 684.8h1.4v1.4h-1.4zM253.8 665.7h1.4v1.4h-1.4zM260.1 671.2h1.4v1.4h-1.4zM250.5 658.3h1.4v1.4h-1.4zM241.7 673.8h1.4v1.4h-1.4zM248.4 652.0h1.4v1.4h-1.4zM252.4 669.3h1.4v1.4h-1.4zM239.6 661.1h1.4v1.4h-1.4zM250.9 655.0h1.4v1.4h-1.4zM238.7 661.8h1.4v1.4h-1.4zM250.4 681.5h1.4v1.4h-1.4zM248.7 701.6h1.4v1.4h-1.4zM247.5 647.2h1.4v1.4h-1.4zM242.3 682.0h1.4v1.4h-1.4zM259.0 695.8h1.4v1.4h-1.4zM244.6 695.1h1.4v1.4h-1.4zM261.7 668.6h1.4v1.4h-1.4zM242.3 689.4h1.4v1.4h-1.4zM244.4 687.7h1.4v1.4h-1.4zM249.6 678.9h1.4v1.4h-1.4zM243.3 679.6h1.4v1.4h-1.4zM249.1 656.6h1.4v1.4h-1.4zM255.9 669.8h1.4v1.4h-1.4zM251.4 711.3h1.4v1.4h-1.4zM241.8 692.8h1.4v1.4h-1.4zM252.5 689.0h1.4v1.4h-1.4zM249.4 688.0h1.4v1.4h-1.4zM245.8 678.4h1.4v1.4h-1.4zM251.0 663.1h1.4v1.4h-1.4zM241.4 658.2h1.4v1.4h-1.4zM238.6 654.1h1.4v1.4h-1.4zM243.5 682.4h1.4v1.4h-1.4zM242.9 655.1h1.4v1.4h-1.4zM245.9 672.4h1.4v1.4h-1.4zM236.8 666.8h1.4v1.4h-1.4zM249.4 668.9h1.4v1.4h-1.4zM236.9 667.0h1.4v1.4h-1.4zM246.1 647.1h1.4v1.4h-1.4zM240.2 687.2h1.4v1.4h-1.4zM243.0 697.5h1.4v1.4h-1.4zM251.4 659.9h1.4v1.4h-1.4zM245.8 665.1h1.4v1.4h-1.4zM251.3 707.6h1.4v1.4h-1.4zM236.4 683.9h1.4v1.4h-1.4zM261.2 681.6h1.4v1.4h-1.4zM245.8 656.9h1.4v1.4h-1.4zM253.9 694.9h1.4v1.4h-1.4zM249.6 666.7h1.4v1.4h-1.4zM239.4 695.2h1.4v1.4h-1.4zM247.0 696.8h1.4v1.4h-1.4zM255.8 655.8h1.4v1.4h-1.4zM243.0 677.5h1.4v1.4h-1.4zM257.0 678.2h1.4v1.4h-1.4zM240.9 701.9h1.4v1.4h-1.4zM253.4 680.3h1.4v1.4h-1.4zM243.2 671.4h1.4v1.4h-1.4zM258.5 675.2h1.4v1.4h-1.4zM244.3 677.6h1.4v1.4h-1.4zM255.1 683.4h1.4v1.4h-1.4zM252.2 648.5h1.4v1.4h-1.4zM236.1 661.9h1.4v1.4h-1.4zM248.5 646.9h1.4v1.4h-1.4zM246.7 666.2h1.4v1.4h-1.4zM252.5 671.8h1.4v1.4h-1.4zM235.4 686.2h1.4v1.4h-1.4zM254.6 690.6h1.4v1.4h-1.4zM250.7 706.1h1.4v1.4h-1.4zM249.3 650.8h1.4v1.4h-1.4zM235.7 686.2h1.4v1.4h-1.4zM246.6 690.8h1.4v1.4h-1.4zM239.9 681.7h1.4v1.4h-1.4zM236.2 689.4h1.4v1.4h-1.4zM250.2 666.9h1.4v1.4h-1.4zM235.1 693.3h1.4v1.4h-1.4zM258.0 669.5h1.4v1.4h-1.4zM234.4 679.7h1.4v1.4h-1.4zM258.1 652.9h1.4v1.4h-1.4zM249.5 673.8h1.4v1.4h-1.4zM253.2 682.8h1.4v1.4h-1.4zM255.0 691.4h1.4v1.4h-1.4zM242.5 658.0h1.4v1.4h-1.4zM249.7 674.8h1.4v1.4h-1.4zM254.4 658.3h1.4v1.4h-1.4zM252.5 670.0h1.4v1.4h-1.4zM241.5 681.4h1.4v1.4h-1.4zM244.7 650.5h1.4v1.4h-1.4zM249.8 691.3h1.4v1.4h-1.4zM242.5 677.7h1.4v1.4h-1.4zM241.7 674.7h1.4v1.4h-1.4zM236.1 693.8h1.4v1.4h-1.4zM248.3 705.5h1.4v1.4h-1.4zM245.9 686.5h1.4v1.4h-1.4zM258.1 680.1h1.4v1.4h-1.4zM263.2 655.4h1.4v1.4h-1.4zM247.2 645.5h1.4v1.4h-1.4zM247.0 696.8h1.4v1.4h-1.4zM248.4 708.9h1.4v1.4h-1.4zM251.2 646.6h1.4v1.4h-1.4zM239.1 666.2h1.4v1.4h-1.4z" fill="#C5C0EA"/><path d="M121.7 619.0h1.4v1.4h-1.4zM112.9 608.2h1.4v1.4h-1.4zM93.1 629.9h1.4v1.4h-1.4zM95.4 628.1h1.4v1.4h-1.4zM87.6 651.4h1.4v1.4h-1.4zM139.0 672.0h1.4v1.4h-1.4zM133.7 672.7h1.4v1.4h-1.4zM119.7 636.6h1.4v1.4h-1.4zM128.4 651.1h1.4v1.4h-1.4zM130.6 646.6h1.4v1.4h-1.4zM125.7 643.6h1.4v1.4h-1.4zM132.0 689.3h1.4v1.4h-1.4zM123.8 660.5h1.4v1.4h-1.4zM135.2 688.5h1.4v1.4h-1.4zM139.3 656.2h1.4v1.4h-1.4zM132.4 641.5h1.4v1.4h-1.4zM133.1 643.9h1.4v1.4h-1.4zM126.6 638.4h1.4v1.4h-1.4zM131.6 687.7h1.4v1.4h-1.4zM132.8 644.1h1.4v1.4h-1.4zM132.2 682.3h1.4v1.4h-1.4zM131.8 649.0h1.4v1.4h-1.4zM117.6 637.5h1.4v1.4h-1.4zM119.0 666.3h1.4v1.4h-1.4zM128.1 680.7h1.4v1.4h-1.4zM133.8 676.2h1.4v1.4h-1.4zM152.9 694.2h1.4v1.4h-1.4zM142.2 707.4h1.4v1.4h-1.4zM135.6 743.4h1.4v1.4h-1.4zM133.7 725.1h1.4v1.4h-1.4zM154.1 677.6h1.4v1.4h-1.4zM138.3 729.2h1.4v1.4h-1.4zM154.1 700.4h1.4v1.4h-1.4zM127.6 720.0h1.4v1.4h-1.4zM129.8 710.7h1.4v1.4h-1.4zM137.8 724.5h1.4v1.4h-1.4zM110.3 733.0h1.4v1.4h-1.4zM120.7 722.2h1.4v1.4h-1.4zM142.8 700.9h1.4v1.4h-1.4zM145.7 695.7h1.4v1.4h-1.4zM119.3 744.8h1.4v1.4h-1.4zM144.1 709.0h1.4v1.4h-1.4zM136.1 721.1h1.4v1.4h-1.4zM141.9 728.0h1.4v1.4h-1.4zM131.5 693.2h1.4v1.4h-1.4zM107.4 721.5h1.4v1.4h-1.4zM145.2 704.5h1.4v1.4h-1.4zM137.7 739.8h1.4v1.4h-1.4zM127.8 695.9h1.4v1.4h-1.4zM119.8 719.7h1.4v1.4h-1.4zM147.7 688.2h1.4v1.4h-1.4zM118.4 732.2h1.4v1.4h-1.4zM111.3 722.9h1.4v1.4h-1.4zM107.1 712.5h1.4v1.4h-1.4zM149.4 679.7h1.4v1.4h-1.4zM134.4 704.3h1.4v1.4h-1.4zM135.0 706.2h1.4v1.4h-1.4zM111.3 715.9h1.4v1.4h-1.4zM106.2 714.8h1.4v1.4h-1.4zM154.5 701.9h1.4v1.4h-1.4zM149.3 703.6h1.4v1.4h-1.4zM118.4 724.4h1.4v1.4h-1.4zM136.0 709.2h1.4v1.4h-1.4zM128.9 706.7h1.4v1.4h-1.4zM134.5 742.0h1.4v1.4h-1.4zM134.1 740.2h1.4v1.4h-1.4zM118.0 737.3h1.4v1.4h-1.4zM129.5 695.1h1.4v1.4h-1.4zM152.3 699.7h1.4v1.4h-1.4zM138.6 743.5h1.4v1.4h-1.4zM144.2 698.9h1.4v1.4h-1.4zM109.4 714.0h1.4v1.4h-1.4zM145.6 690.0h1.4v1.4h-1.4zM107.2 729.7h1.4v1.4h-1.4zM128.1 745.2h1.4v1.4h-1.4zM132.9 698.5h1.4v1.4h-1.4zM128.2 744.5h1.4v1.4h-1.4zM134.9 719.8h1.4v1.4h-1.4zM123.7 703.2h1.4v1.4h-1.4zM114.6 736.5h1.4v1.4h-1.4zM128.0 735.0h1.4v1.4h-1.4zM108.7 698.3h1.4v1.4h-1.4zM119.3 722.0h1.4v1.4h-1.4zM128.8 700.2h1.4v1.4h-1.4zM127.3 706.9h1.4v1.4h-1.4zM109.8 725.2h1.4v1.4h-1.4zM123.8 703.5h1.4v1.4h-1.4zM129.7 744.2h1.4v1.4h-1.4zM112.5 719.6h1.4v1.4h-1.4zM122.2 732.7h1.4v1.4h-1.4zM124.3 730.7h1.4v1.4h-1.4zM123.1 706.1h1.4v1.4h-1.4zM136.3 689.6h1.4v1.4h-1.4zM134.9 705.4h1.4v1.4h-1.4zM123.9 712.6h1.4v1.4h-1.4zM133.7 730.3h1.4v1.4h-1.4zM107.4 728.6h1.4v1.4h-1.4zM120.7 723.3h1.4v1.4h-1.4zM156.7 688.0h1.4v1.4h-1.4zM144.3 714.9h1.4v1.4h-1.4zM142.1 707.7h1.4v1.4h-1.4zM117.6 699.0h1.4v1.4h-1.4zM113.5 726.4h1.4v1.4h-1.4zM129.3 691.8h1.4v1.4h-1.4zM130.1 703.0h1.4v1.4h-1.4zM130.6 733.5h1.4v1.4h-1.4zM130.8 745.2h1.4v1.4h-1.4zM130.8 701.1h1.4v1.4h-1.4zM133.9 737.5h1.4v1.4h-1.4zM109.7 730.9h1.4v1.4h-1.4zM115.7 704.4h1.4v1.4h-1.4zM136.1 703.7h1.4v1.4h-1.4zM125.3 721.4h1.4v1.4h-1.4zM112.4 724.1h1.4v1.4h-1.4zM137.1 700.3h1.4v1.4h-1.4zM156.5 687.8h1.4v1.4h-1.4zM99.8 707.7h1.4v1.4h-1.4zM137.3 701.5h1.4v1.4h-1.4zM136.9 704.0h1.4v1.4h-1.4zM108.0 733.8h1.4v1.4h-1.4zM101.0 705.6h1.4v1.4h-1.4zM110.9 708.2h1.4v1.4h-1.4zM112.1 711.7h1.4v1.4h-1.4zM148.8 689.9h1.4v1.4h-1.4zM136.1 720.3h1.4v1.4h-1.4zM121.3 741.1h1.4v1.4h-1.4zM124.8 745.8h1.4v1.4h-1.4zM145.6 688.1h1.4v1.4h-1.4zM148.1 692.6h1.4v1.4h-1.4zM131.6 705.0h1.4v1.4h-1.4zM103.6 705.3h1.4v1.4h-1.4zM114.0 726.3h1.4v1.4h-1.4zM145.1 716.7h1.4v1.4h-1.4zM125.2 729.7h1.4v1.4h-1.4zM108.6 713.2h1.4v1.4h-1.4zM101.0 703.2h1.4v1.4h-1.4zM139.0 708.8h1.4v1.4h-1.4zM140.7 739.8h1.4v1.4h-1.4zM141.1 709.1h1.4v1.4h-1.4zM129.6 713.0h1.4v1.4h-1.4zM138.9 727.5h1.4v1.4h-1.4zM148.8 687.9h1.4v1.4h-1.4zM113.8 703.1h1.4v1.4h-1.4zM118.4 709.2h1.4v1.4h-1.4zM124.3 741.7h1.4v1.4h-1.4zM122.2 710.8h1.4v1.4h-1.4zM111.6 700.8h1.4v1.4h-1.4zM129.1 695.6h1.4v1.4h-1.4zM129.5 743.5h1.4v1.4h-1.4zM154.7 697.7h1.4v1.4h-1.4zM137.3 733.1h1.4v1.4h-1.4zM145.6 697.4h1.4v1.4h-1.4zM119.0 704.8h1.4v1.4h-1.4zM136.0 745.5h1.4v1.4h-1.4zM142.5 708.1h1.4v1.4h-1.4zM130.9 714.2h1.4v1.4h-1.4zM135.9 711.4h1.4v1.4h-1.4zM111.3 704.3h1.4v1.4h-1.4zM136.7 737.1h1.4v1.4h-1.4zM115.8 713.1h1.4v1.4h-1.4zM129.9 696.5h1.4v1.4h-1.4zM103.4 703.3h1.4v1.4h-1.4zM106.7 710.9h1.4v1.4h-1.4zM143.5 705.6h1.4v1.4h-1.4zM152.2 682.5h1.4v1.4h-1.4zM135.7 718.1h1.4v1.4h-1.4zM129.9 696.7h1.4v1.4h-1.4zM111.9 721.4h1.4v1.4h-1.4zM114.3 723.3h1.4v1.4h-1.4zM105.2 719.8h1.4v1.4h-1.4zM117.6 714.5h1.4v1.4h-1.4zM115.8 739.8h1.4v1.4h-1.4zM130.7 739.9h1.4v1.4h-1.4zM147.7 700.7h1.4v1.4h-1.4zM128.4 735.2h1.4v1.4h-1.4zM126.8 744.6h1.4v1.4h-1.4zM126.0 694.3h1.4v1.4h-1.4zM135.8 720.6h1.4v1.4h-1.4zM124.5 705.9h1.4v1.4h-1.4zM127.9 728.8h1.4v1.4h-1.4zM103.6 712.9h1.4v1.4h-1.4zM154.4 691.6h1.4v1.4h-1.4zM132.7 705.4h1.4v1.4h-1.4zM139.9 730.4h1.4v1.4h-1.4zM136.2 701.0h1.4v1.4h-1.4zM128.2 698.5h1.4v1.4h-1.4zM110.9 734.3h1.4v1.4h-1.4zM131.4 742.5h1.4v1.4h-1.4zM130.4 707.0h1.4v1.4h-1.4zM139.6 707.3h1.4v1.4h-1.4zM141.4 735.8h1.4v1.4h-1.4zM115.4 732.0h1.4v1.4h-1.4zM124.3 709.3h1.4v1.4h-1.4zM110.9 727.8h1.4v1.4h-1.4zM136.4 698.9h1.4v1.4h-1.4zM127.3 741.5h1.4v1.4h-1.4zM136.8 743.9h1.4v1.4h-1.4zM131.9 708.8h1.4v1.4h-1.4zM134.5 725.5h1.4v1.4h-1.4zM119.4 724.7h1.4v1.4h-1.4zM137.8 706.8h1.4v1.4h-1.4zM133.8 722.8h1.4v1.4h-1.4zM149.0 685.3h1.4v1.4h-1.4zM158.9 701.6h1.4v1.4h-1.4zM131.1 746.2h1.4v1.4h-1.4zM133.5 695.5h1.4v1.4h-1.4zM109.4 708.5h1.4v1.4h-1.4zM124.5 709.4h1.4v1.4h-1.4zM126.0 715.9h1.4v1.4h-1.4zM155.0 693.3h1.4v1.4h-1.4zM122.2 712.1h1.4v1.4h-1.4zM130.0 707.1h1.4v1.4h-1.4zM147.6 687.5h1.4v1.4h-1.4zM121.3 707.2h1.4v1.4h-1.4zM150.5 693.3h1.4v1.4h-1.4zM125.4 732.7h1.4v1.4h-1.4zM135.3 722.9h1.4v1.4h-1.4zM141.7 715.1h1.4v1.4h-1.4zM111.3 704.2h1.4v1.4h-1.4zM140.0 694.2h1.4v1.4h-1.4zM110.2 732.7h1.4v1.4h-1.4zM114.7 737.5h1.4v1.4h-1.4zM119.1 735.4h1.4v1.4h-1.4zM157.5 682.1h1.4v1.4h-1.4zM125.7 720.5h1.4v1.4h-1.4zM122.6 702.8h1.4v1.4h-1.4zM142.7 702.7h1.4v1.4h-1.4zM113.9 732.6h1.4v1.4h-1.4zM132.5 698.7h1.4v1.4h-1.4zM150.2 677.6h1.4v1.4h-1.4zM128.3 716.1h1.4v1.4h-1.4zM123.9 733.6h1.4v1.4h-1.4zM105.6 718.7h1.4v1.4h-1.4zM118.3 735.6h1.4v1.4h-1.4zM112.7 713.6h1.4v1.4h-1.4zM136.4 730.5h1.4v1.4h-1.4zM138.0 685.3h1.4v1.4h-1.4zM141.2 692.2h1.4v1.4h-1.4zM149.5 679.9h1.4v1.4h-1.4zM156.6 677.1h1.4v1.4h-1.4zM156.1 677.4h1.4v1.4h-1.4zM121.1 708.6h1.4v1.4h-1.4zM102.5 709.8h1.4v1.4h-1.4zM119.9 732.0h1.4v1.4h-1.4zM141.0 698.5h1.4v1.4h-1.4zM124.2 740.1h1.4v1.4h-1.4zM135.0 704.1h1.4v1.4h-1.4zM116.9 733.9h1.4v1.4h-1.4zM140.7 690.0h1.4v1.4h-1.4zM116.6 704.4h1.4v1.4h-1.4zM153.7 678.9h1.4v1.4h-1.4zM129.9 717.3h1.4v1.4h-1.4zM157.3 682.3h1.4v1.4h-1.4zM151.8 685.9h1.4v1.4h-1.4zM119.9 729.3h1.4v1.4h-1.4zM151.0 701.5h1.4v1.4h-1.4zM137.0 733.0h1.4v1.4h-1.4zM130.9 728.5h1.4v1.4h-1.4zM144.9 691.8h1.4v1.4h-1.4zM127.9 734.2h1.4v1.4h-1.4zM116.9 715.7h1.4v1.4h-1.4zM129.3 726.9h1.4v1.4h-1.4zM134.2 703.7h1.4v1.4h-1.4zM135.3 726.0h1.4v1.4h-1.4zM119.4 733.5h1.4v1.4h-1.4zM127.9 731.6h1.4v1.4h-1.4zM142.3 698.6h1.4v1.4h-1.4zM122.1 714.0h1.4v1.4h-1.4zM116.3 726.1h1.4v1.4h-1.4zM118.2 713.3h1.4v1.4h-1.4zM140.5 701.9h1.4v1.4h-1.4zM156.1 701.1h1.4v1.4h-1.4zM139.3 710.8h1.4v1.4h-1.4zM150.3 702.9h1.4v1.4h-1.4zM127.0 744.4h1.4v1.4h-1.4zM141.8 692.8h1.4v1.4h-1.4zM113.3 701.0h1.4v1.4h-1.4zM122.4 729.0h1.4v1.4h-1.4zM138.9 716.4h1.4v1.4h-1.4zM117.2 704.0h1.4v1.4h-1.4zM140.7 713.3h1.4v1.4h-1.4zM144.4 701.0h1.4v1.4h-1.4zM139.1 712.8h1.4v1.4h-1.4zM140.2 692.5h1.4v1.4h-1.4zM158.6 697.3h1.4v1.4h-1.4zM151.1 690.8h1.4v1.4h-1.4zM116.7 700.5h1.4v1.4h-1.4zM132.0 740.9h1.4v1.4h-1.4zM128.4 699.6h1.4v1.4h-1.4zM157.3 690.4h1.4v1.4h-1.4zM148.8 695.2h1.4v1.4h-1.4zM143.3 700.4h1.4v1.4h-1.4zM155.3 693.7h1.4v1.4h-1.4zM127.6 725.1h1.4v1.4h-1.4zM110.2 722.8h1.4v1.4h-1.4zM109.7 722.9h1.4v1.4h-1.4zM128.7 727.1h1.4v1.4h-1.4zM154.5 686.4h1.4v1.4h-1.4zM136.3 698.7h1.4v1.4h-1.4zM128.8 747.0h1.4v1.4h-1.4zM142.6 708.0h1.4v1.4h-1.4zM119.7 729.0h1.4v1.4h-1.4zM118.7 740.3h1.4v1.4h-1.4zM127.6 699.5h1.4v1.4h-1.4zM151.8 697.8h1.4v1.4h-1.4zM146.3 699.5h1.4v1.4h-1.4zM143.7 697.1h1.4v1.4h-1.4zM114.2 729.7h1.4v1.4h-1.4zM115.0 720.2h1.4v1.4h-1.4zM117.0 701.2h1.4v1.4h-1.4zM105.1 720.0h1.4v1.4h-1.4zM102.6 704.5h1.4v1.4h-1.4zM120.6 699.9h1.4v1.4h-1.4zM123.1 736.3h1.4v1.4h-1.4zM131.4 711.3h1.4v1.4h-1.4zM146.7 689.7h1.4v1.4h-1.4zM118.3 734.6h1.4v1.4h-1.4zM130.2 727.8h1.4v1.4h-1.4zM116.4 712.9h1.4v1.4h-1.4zM112.6 736.2h1.4v1.4h-1.4zM119.9 701.6h1.4v1.4h-1.4zM112.4 728.4h1.4v1.4h-1.4zM103.9 714.3h1.4v1.4h-1.4zM128.0 696.5h1.4v1.4h-1.4zM152.3 692.1h1.4v1.4h-1.4zM128.6 725.1h1.4v1.4h-1.4zM106.8 708.7h1.4v1.4h-1.4zM135.1 710.4h1.4v1.4h-1.4zM143.4 708.7h1.4v1.4h-1.4zM125.4 719.0h1.4v1.4h-1.4zM127.6 740.1h1.4v1.4h-1.4zM125.0 740.6h1.4v1.4h-1.4zM159.4 677.6h1.4v1.4h-1.4zM118.6 715.5h1.4v1.4h-1.4zM127.0 714.9h1.4v1.4h-1.4zM124.6 725.7h1.4v1.4h-1.4zM131.9 716.3h1.4v1.4h-1.4zM128.8 697.2h1.4v1.4h-1.4zM121.3 727.2h1.4v1.4h-1.4zM155.8 696.6h1.4v1.4h-1.4zM118.0 705.9h1.4v1.4h-1.4zM121.1 733.5h1.4v1.4h-1.4zM117.0 744.2h1.4v1.4h-1.4zM148.2 682.4h1.4v1.4h-1.4zM135.9 728.7h1.4v1.4h-1.4zM125.5 714.9h1.4v1.4h-1.4zM132.5 714.8h1.4v1.4h-1.4zM114.1 718.4h1.4v1.4h-1.4zM109.3 728.6h1.4v1.4h-1.4zM127.8 705.0h1.4v1.4h-1.4zM135.0 698.9h1.4v1.4h-1.4zM117.6 723.9h1.4v1.4h-1.4zM111.2 716.3h1.4v1.4h-1.4zM143.7 706.6h1.4v1.4h-1.4zM135.3 692.0h1.4v1.4h-1.4zM140.8 693.5h1.4v1.4h-1.4zM156.3 696.5h1.4v1.4h-1.4zM133.1 722.2h1.4v1.4h-1.4zM138.3 716.6h1.4v1.4h-1.4zM141.9 691.2h1.4v1.4h-1.4zM137.7 725.6h1.4v1.4h-1.4zM151.5 701.7h1.4v1.4h-1.4zM155.1 702.3h1.4v1.4h-1.4zM132.5 718.4h1.4v1.4h-1.4zM147.0 706.3h1.4v1.4h-1.4zM120.8 710.6h1.4v1.4h-1.4zM140.0 710.3h1.4v1.4h-1.4zM126.5 702.3h1.4v1.4h-1.4zM146.4 689.6h1.4v1.4h-1.4zM101.8 717.1h1.4v1.4h-1.4zM150.2 691.9h1.4v1.4h-1.4zM141.3 730.2h1.4v1.4h-1.4zM124.3 700.0h1.4v1.4h-1.4zM123.1 719.6h1.4v1.4h-1.4zM133.9 713.0h1.4v1.4h-1.4zM126.6 704.2h1.4v1.4h-1.4zM128.5 699.5h1.4v1.4h-1.4zM109.4 717.7h1.4v1.4h-1.4zM142.4 709.8h1.4v1.4h-1.4zM132.6 722.7h1.4v1.4h-1.4zM118.1 728.0h1.4v1.4h-1.4zM159.3 684.9h1.4v1.4h-1.4zM138.0 748.1h1.4v1.4h-1.4zM127.5 727.6h1.4v1.4h-1.4zM156.3 686.5h1.4v1.4h-1.4zM120.4 729.1h1.4v1.4h-1.4zM117.3 735.8h1.4v1.4h-1.4zM125.8 701.3h1.4v1.4h-1.4zM121.1 726.0h1.4v1.4h-1.4zM112.0 717.8h1.4v1.4h-1.4zM141.4 718.6h1.4v1.4h-1.4zM128.4 699.8h1.4v1.4h-1.4zM126.2 735.9h1.4v1.4h-1.4zM115.6 729.0h1.4v1.4h-1.4zM126.1 714.7h1.4v1.4h-1.4zM132.9 710.5h1.4v1.4h-1.4zM118.1 726.8h1.4v1.4h-1.4zM112.2 711.9h1.4v1.4h-1.4zM139.9 721.8h1.4v1.4h-1.4zM105.2 710.5h1.4v1.4h-1.4zM123.8 732.0h1.4v1.4h-1.4zM120.8 704.1h1.4v1.4h-1.4zM129.8 709.2h1.4v1.4h-1.4zM123.0 724.0h1.4v1.4h-1.4zM139.1 720.5h1.4v1.4h-1.4zM138.3 739.8h1.4v1.4h-1.4zM119.6 742.2h1.4v1.4h-1.4zM112.0 711.4h1.4v1.4h-1.4zM132.4 717.0h1.4v1.4h-1.4zM125.4 707.8h1.4v1.4h-1.4zM130.6 716.2h1.4v1.4h-1.4zM114.7 732.5h1.4v1.4h-1.4zM133.3 744.3h1.4v1.4h-1.4zM118.1 730.7h1.4v1.4h-1.4zM135.4 730.7h1.4v1.4h-1.4zM131.7 709.5h1.4v1.4h-1.4zM123.7 704.1h1.4v1.4h-1.4zM130.8 707.9h1.4v1.4h-1.4zM125.2 729.9h1.4v1.4h-1.4zM118.8 740.4h1.4v1.4h-1.4zM127.1 708.5h1.4v1.4h-1.4zM132.7 740.9h1.4v1.4h-1.4zM122.6 705.7h1.4v1.4h-1.4zM129.4 702.9h1.4v1.4h-1.4zM124.1 731.5h1.4v1.4h-1.4zM136.0 712.2h1.4v1.4h-1.4zM118.3 731.1h1.4v1.4h-1.4zM108.0 707.4h1.4v1.4h-1.4zM106.3 721.7h1.4v1.4h-1.4zM101.4 714.5h1.4v1.4h-1.4zM126.8 710.3h1.4v1.4h-1.4zM119.9 740.4h1.4v1.4h-1.4zM125.8 741.1h1.4v1.4h-1.4zM123.7 716.8h1.4v1.4h-1.4zM104.6 726.0h1.4v1.4h-1.4zM117.8 738.0h1.4v1.4h-1.4zM125.0 702.4h1.4v1.4h-1.4zM119.7 746.0h1.4v1.4h-1.4zM103.8 716.1h1.4v1.4h-1.4zM120.1 713.0h1.4v1.4h-1.4zM121.6 709.1h1.4v1.4h-1.4zM123.8 709.6h1.4v1.4h-1.4zM122.5 699.4h1.4v1.4h-1.4zM127.7 709.3h1.4v1.4h-1.4zM131.7 723.7h1.4v1.4h-1.4zM135.6 709.6h1.4v1.4h-1.4zM120.3 741.0h1.4v1.4h-1.4zM142.7 730.6h1.4v1.4h-1.4zM117.3 732.4h1.4v1.4h-1.4zM119.5 738.0h1.4v1.4h-1.4zM119.8 733.4h1.4v1.4h-1.4zM128.1 723.2h1.4v1.4h-1.4zM131.6 729.2h1.4v1.4h-1.4zM136.2 702.5h1.4v1.4h-1.4zM125.7 709.0h1.4v1.4h-1.4zM115.8 711.3h1.4v1.4h-1.4zM138.7 737.0h1.4v1.4h-1.4zM124.2 746.1h1.4v1.4h-1.4zM133.7 739.0h1.4v1.4h-1.4zM116.1 704.4h1.4v1.4h-1.4zM124.0 713.3h1.4v1.4h-1.4zM122.5 718.5h1.4v1.4h-1.4zM125.0 739.6h1.4v1.4h-1.4zM113.0 734.8h1.4v1.4h-1.4zM128.6 736.6h1.4v1.4h-1.4zM139.2 726.8h1.4v1.4h-1.4zM113.7 736.0h1.4v1.4h-1.4zM130.6 713.2h1.4v1.4h-1.4zM137.2 727.7h1.4v1.4h-1.4zM106.5 722.0h1.4v1.4h-1.4zM105.2 721.2h1.4v1.4h-1.4zM130.8 717.5h1.4v1.4h-1.4zM130.8 717.2h1.4v1.4h-1.4zM130.0 718.7h1.4v1.4h-1.4zM108.7 727.0h1.4v1.4h-1.4zM137.2 702.2h1.4v1.4h-1.4zM110.9 724.1h1.4v1.4h-1.4zM135.1 716.1h1.4v1.4h-1.4zM135.5 736.7h1.4v1.4h-1.4zM121.0 738.0h1.4v1.4h-1.4zM128.6 718.2h1.4v1.4h-1.4zM114.5 739.1h1.4v1.4h-1.4zM117.3 711.1h1.4v1.4h-1.4zM107.7 721.8h1.4v1.4h-1.4zM111.5 706.9h1.4v1.4h-1.4zM123.1 736.3h1.4v1.4h-1.4zM122.0 747.7h1.4v1.4h-1.4zM127.4 730.4h1.4v1.4h-1.4zM137.4 723.4h1.4v1.4h-1.4zM122.6 715.0h1.4v1.4h-1.4zM135.2 705.6h1.4v1.4h-1.4zM114.2 729.3h1.4v1.4h-1.4zM134.1 700.3h1.4v1.4h-1.4zM120.1 732.3h1.4v1.4h-1.4zM130.0 710.4h1.4v1.4h-1.4zM106.1 732.6h1.4v1.4h-1.4zM131.9 702.9h1.4v1.4h-1.4zM129.5 707.6h1.4v1.4h-1.4zM104.2 718.1h1.4v1.4h-1.4zM120.9 733.7h1.4v1.4h-1.4zM105.6 720.3h1.4v1.4h-1.4zM120.8 731.5h1.4v1.4h-1.4zM127.3 709.0h1.4v1.4h-1.4zM132.6 729.4h1.4v1.4h-1.4zM129.1 712.0h1.4v1.4h-1.4zM132.9 745.2h1.4v1.4h-1.4zM139.6 739.3h1.4v1.4h-1.4zM116.4 726.7h1.4v1.4h-1.4zM135.7 713.5h1.4v1.4h-1.4zM136.0 702.5h1.4v1.4h-1.4zM138.0 707.5h1.4v1.4h-1.4zM112.6 723.4h1.4v1.4h-1.4zM127.2 719.2h1.4v1.4h-1.4zM104.2 716.9h1.4v1.4h-1.4zM124.1 704.0h1.4v1.4h-1.4zM106.4 711.1h1.4v1.4h-1.4zM140.1 740.2h1.4v1.4h-1.4zM136.0 728.9h1.4v1.4h-1.4zM127.4 739.7h1.4v1.4h-1.4zM141.4 729.7h1.4v1.4h-1.4zM121.8 721.7h1.4v1.4h-1.4zM137.9 734.2h1.4v1.4h-1.4zM125.7 716.6h1.4v1.4h-1.4zM137.0 740.2h1.4v1.4h-1.4zM122.2 725.5h1.4v1.4h-1.4zM134.3 737.9h1.4v1.4h-1.4zM121.3 729.5h1.4v1.4h-1.4zM122.3 746.0h1.4v1.4h-1.4zM134.5 711.7h1.4v1.4h-1.4zM120.4 747.0h1.4v1.4h-1.4zM135.1 715.3h1.4v1.4h-1.4zM112.4 736.3h1.4v1.4h-1.4zM121.2 707.3h1.4v1.4h-1.4zM121.2 727.4h1.4v1.4h-1.4zM123.3 742.8h1.4v1.4h-1.4zM137.0 715.6h1.4v1.4h-1.4zM114.3 729.4h1.4v1.4h-1.4zM135.5 701.9h1.4v1.4h-1.4zM133.7 732.1h1.4v1.4h-1.4zM103.2 718.9h1.4v1.4h-1.4zM130.3 708.1h1.4v1.4h-1.4zM137.5 723.6h1.4v1.4h-1.4zM118.8 718.6h1.4v1.4h-1.4zM126.0 734.1h1.4v1.4h-1.4zM106.4 723.1h1.4v1.4h-1.4zM131.4 721.6h1.4v1.4h-1.4zM121.1 704.6h1.4v1.4h-1.4zM139.4 711.1h1.4v1.4h-1.4zM134.9 727.1h1.4v1.4h-1.4zM133.4 731.0h1.4v1.4h-1.4zM135.9 712.3h1.4v1.4h-1.4zM130.3 699.9h1.4v1.4h-1.4zM135.9 719.3h1.4v1.4h-1.4zM137.5 702.7h1.4v1.4h-1.4zM112.5 738.3h1.4v1.4h-1.4zM126.0 705.9h1.4v1.4h-1.4zM108.8 716.4h1.4v1.4h-1.4zM124.6 728.3h1.4v1.4h-1.4zM122.4 712.4h1.4v1.4h-1.4zM128.8 729.9h1.4v1.4h-1.4zM119.9 712.2h1.4v1.4h-1.4zM113.5 730.5h1.4v1.4h-1.4zM120.4 701.0h1.4v1.4h-1.4zM111.7 714.1h1.4v1.4h-1.4zM117.9 741.2h1.4v1.4h-1.4zM129.6 742.6h1.4v1.4h-1.4zM106.8 722.5h1.4v1.4h-1.4zM111.0 729.2h1.4v1.4h-1.4zM127.9 717.1h1.4v1.4h-1.4zM117.7 734.2h1.4v1.4h-1.4zM132.3 714.9h1.4v1.4h-1.4zM132.2 737.4h1.4v1.4h-1.4zM115.1 701.3h1.4v1.4h-1.4zM132.0 744.4h1.4v1.4h-1.4zM119.7 707.7h1.4v1.4h-1.4zM139.1 732.2h1.4v1.4h-1.4zM108.7 705.4h1.4v1.4h-1.4zM119.4 729.2h1.4v1.4h-1.4zM133.2 734.3h1.4v1.4h-1.4zM133.7 704.7h1.4v1.4h-1.4zM131.0 744.5h1.4v1.4h-1.4zM119.3 731.6h1.4v1.4h-1.4zM124.2 741.6h1.4v1.4h-1.4zM136.6 739.7h1.4v1.4h-1.4zM107.5 716.3h1.4v1.4h-1.4zM136.9 738.1h1.4v1.4h-1.4zM123.0 706.4h1.4v1.4h-1.4zM116.5 709.9h1.4v1.4h-1.4zM116.5 712.4h1.4v1.4h-1.4zM130.6 715.8h1.4v1.4h-1.4zM122.2 744.5h1.4v1.4h-1.4zM135.1 739.9h1.4v1.4h-1.4zM129.2 711.9h1.4v1.4h-1.4zM120.4 706.9h1.4v1.4h-1.4zM121.8 732.3h1.4v1.4h-1.4zM117.4 714.1h1.4v1.4h-1.4zM128.5 704.4h1.4v1.4h-1.4zM126.9 712.2h1.4v1.4h-1.4zM129.7 733.7h1.4v1.4h-1.4zM111.4 720.4h1.4v1.4h-1.4zM112.2 723.9h1.4v1.4h-1.4zM131.8 714.7h1.4v1.4h-1.4zM130.4 712.1h1.4v1.4h-1.4zM109.5 710.0h1.4v1.4h-1.4zM136.5 739.2h1.4v1.4h-1.4zM110.2 707.9h1.4v1.4h-1.4zM117.5 727.5h1.4v1.4h-1.4zM106.9 712.8h1.4v1.4h-1.4zM118.7 728.1h1.4v1.4h-1.4zM132.4 709.1h1.4v1.4h-1.4zM112.8 726.4h1.4v1.4h-1.4zM127.4 730.4h1.4v1.4h-1.4zM121.8 705.4h1.4v1.4h-1.4zM119.1 711.8h1.4v1.4h-1.4zM109.1 727.3h1.4v1.4h-1.4zM105.3 720.7h1.4v1.4h-1.4zM135.5 708.3h1.4v1.4h-1.4zM120.6 731.9h1.4v1.4h-1.4zM113.0 738.2h1.4v1.4h-1.4zM121.8 700.1h1.4v1.4h-1.4zM129.5 733.5h1.4v1.4h-1.4zM116.1 722.7h1.4v1.4h-1.4zM118.3 717.9h1.4v1.4h-1.4zM127.9 729.8h1.4v1.4h-1.4zM122.4 732.5h1.4v1.4h-1.4zM114.8 724.5h1.4v1.4h-1.4zM114.0 717.4h1.4v1.4h-1.4zM124.6 727.2h1.4v1.4h-1.4zM141.1 720.7h1.4v1.4h-1.4zM140.1 718.4h1.4v1.4h-1.4zM108.5 724.2h1.4v1.4h-1.4zM104.7 707.3h1.4v1.4h-1.4zM130.0 727.8h1.4v1.4h-1.4zM130.2 728.8h1.4v1.4h-1.4zM134.0 731.0h1.4v1.4h-1.4zM116.0 737.1h1.4v1.4h-1.4zM123.8 709.1h1.4v1.4h-1.4zM136.3 710.4h1.4v1.4h-1.4zM133.5 728.7h1.4v1.4h-1.4zM113.4 706.5h1.4v1.4h-1.4zM136.1 703.2h1.4v1.4h-1.4zM110.9 711.9h1.4v1.4h-1.4zM112.4 729.5h1.4v1.4h-1.4zM115.4 707.5h1.4v1.4h-1.4zM124.0 744.9h1.4v1.4h-1.4zM114.3 718.9h1.4v1.4h-1.4zM108.6 717.7h1.4v1.4h-1.4zM127.5 734.5h1.4v1.4h-1.4zM110.7 726.1h1.4v1.4h-1.4zM131.8 736.8h1.4v1.4h-1.4zM122.7 744.7h1.4v1.4h-1.4zM139.9 731.7h1.4v1.4h-1.4zM124.5 734.8h1.4v1.4h-1.4zM112.5 738.0h1.4v1.4h-1.4zM118.9 739.1h1.4v1.4h-1.4zM121.0 713.6h1.4v1.4h-1.4zM111.4 708.8h1.4v1.4h-1.4zM129.2 733.9h1.4v1.4h-1.4zM130.1 736.2h1.4v1.4h-1.4zM117.6 702.6h1.4v1.4h-1.4zM138.6 738.8h1.4v1.4h-1.4zM109.2 718.6h1.4v1.4h-1.4zM124.2 705.1h1.4v1.4h-1.4zM123.0 738.8h1.4v1.4h-1.4zM119.8 707.9h1.4v1.4h-1.4zM126.8 722.4h1.4v1.4h-1.4zM101.1 707.3h1.4v1.4h-1.4zM136.0 727.0h1.4v1.4h-1.4zM133.2 732.1h1.4v1.4h-1.4zM130.2 701.2h1.4v1.4h-1.4zM115.8 735.5h1.4v1.4h-1.4zM108.4 710.7h1.4v1.4h-1.4zM116.6 722.4h1.4v1.4h-1.4zM124.6 744.0h1.4v1.4h-1.4zM132.8 737.9h1.4v1.4h-1.4zM137.3 705.1h1.4v1.4h-1.4zM115.6 739.4h1.4v1.4h-1.4zM109.0 712.1h1.4v1.4h-1.4zM128.7 740.0h1.4v1.4h-1.4zM107.9 724.8h1.4v1.4h-1.4zM132.1 738.3h1.4v1.4h-1.4zM119.0 727.8h1.4v1.4h-1.4zM123.7 729.8h1.4v1.4h-1.4zM128.9 705.7h1.4v1.4h-1.4zM135.7 736.6h1.4v1.4h-1.4zM132.8 737.9h1.4v1.4h-1.4zM138.8 724.7h1.4v1.4h-1.4zM125.5 726.9h1.4v1.4h-1.4zM123.4 721.6h1.4v1.4h-1.4zM123.0 701.8h1.4v1.4h-1.4zM105.4 726.3h1.4v1.4h-1.4zM121.0 736.2h1.4v1.4h-1.4zM123.8 742.8h1.4v1.4h-1.4zM118.7 737.2h1.4v1.4h-1.4zM125.6 740.0h1.4v1.4h-1.4zM134.5 717.8h1.4v1.4h-1.4zM106.3 717.4h1.4v1.4h-1.4zM135.9 718.3h1.4v1.4h-1.4zM122.2 739.5h1.4v1.4h-1.4zM133.3 720.0h1.4v1.4h-1.4zM118.7 711.8h1.4v1.4h-1.4zM133.3 724.4h1.4v1.4h-1.4zM117.1 708.1h1.4v1.4h-1.4zM114.9 720.5h1.4v1.4h-1.4zM124.8 745.8h1.4v1.4h-1.4zM117.2 722.8h1.4v1.4h-1.4zM110.1 734.1h1.4v1.4h-1.4zM114.6 704.6h1.4v1.4h-1.4zM123.9 745.4h1.4v1.4h-1.4zM118.3 712.5h1.4v1.4h-1.4zM126.5 723.1h1.4v1.4h-1.4zM134.3 704.3h1.4v1.4h-1.4zM127.1 718.5h1.4v1.4h-1.4zM128.2 717.3h1.4v1.4h-1.4zM120.8 742.2h1.4v1.4h-1.4zM108.6 720.0h1.4v1.4h-1.4zM105.0 708.0h1.4v1.4h-1.4zM116.1 738.2h1.4v1.4h-1.4zM108.3 712.4h1.4v1.4h-1.4zM119.0 738.4h1.4v1.4h-1.4zM138.8 735.5h1.4v1.4h-1.4zM139.3 729.8h1.4v1.4h-1.4zM120.0 710.6h1.4v1.4h-1.4zM134.0 702.2h1.4v1.4h-1.4zM129.8 738.8h1.4v1.4h-1.4zM129.6 735.8h1.4v1.4h-1.4zM117.9 723.6h1.4v1.4h-1.4zM125.9 738.3h1.4v1.4h-1.4zM127.9 702.5h1.4v1.4h-1.4zM119.4 717.7h1.4v1.4h-1.4zM128.6 715.0h1.4v1.4h-1.4zM122.6 739.1h1.4v1.4h-1.4zM123.5 740.1h1.4v1.4h-1.4zM114.3 712.2h1.4v1.4h-1.4zM135.4 714.5h1.4v1.4h-1.4zM122.3 745.4h1.4v1.4h-1.4zM122.4 730.1h1.4v1.4h-1.4zM125.6 734.8h1.4v1.4h-1.4zM127.4 727.1h1.4v1.4h-1.4zM124.2 741.6h1.4v1.4h-1.4zM117.7 740.6h1.4v1.4h-1.4zM121.2 743.0h1.4v1.4h-1.4zM128.5 717.4h1.4v1.4h-1.4zM125.7 727.1h1.4v1.4h-1.4zM128.1 735.5h1.4v1.4h-1.4zM129.1 701.8h1.4v1.4h-1.4zM285.0 736.2h1.4v1.4h-1.4zM288.2 708.2h1.4v1.4h-1.4zM287.9 746.8h1.4v1.4h-1.4zM294.4 706.5h1.4v1.4h-1.4zM293.5 741.2h1.4v1.4h-1.4zM287.8 746.3h1.4v1.4h-1.4zM294.3 738.6h1.4v1.4h-1.4zM291.3 738.9h1.4v1.4h-1.4zM269.4 731.6h1.4v1.4h-1.4zM283.6 718.8h1.4v1.4h-1.4zM285.5 726.5h1.4v1.4h-1.4zM275.0 711.3h1.4v1.4h-1.4zM283.1 732.2h1.4v1.4h-1.4zM297.4 721.2h1.4v1.4h-1.4zM287.4 739.9h1.4v1.4h-1.4zM287.1 704.6h1.4v1.4h-1.4zM265.3 719.7h1.4v1.4h-1.4zM291.7 707.2h1.4v1.4h-1.4zM273.7 737.2h1.4v1.4h-1.4zM265.2 709.8h1.4v1.4h-1.4zM286.5 739.8h1.4v1.4h-1.4zM294.8 719.6h1.4v1.4h-1.4zM261.8 713.6h1.4v1.4h-1.4zM282.0 716.9h1.4v1.4h-1.4zM276.3 733.5h1.4v1.4h-1.4zM264.6 724.0h1.4v1.4h-1.4zM268.6 710.3h1.4v1.4h-1.4zM289.3 739.1h1.4v1.4h-1.4zM277.8 719.3h1.4v1.4h-1.4zM272.7 712.3h1.4v1.4h-1.4zM279.1 722.0h1.4v1.4h-1.4zM298.0 730.5h1.4v1.4h-1.4zM283.2 718.5h1.4v1.4h-1.4zM274.5 717.6h1.4v1.4h-1.4zM265.1 717.6h1.4v1.4h-1.4zM275.1 732.6h1.4v1.4h-1.4zM281.1 714.6h1.4v1.4h-1.4zM276.8 732.6h1.4v1.4h-1.4zM278.7 709.7h1.4v1.4h-1.4zM279.1 739.4h1.4v1.4h-1.4zM275.2 718.5h1.4v1.4h-1.4zM296.0 723.2h1.4v1.4h-1.4zM287.6 747.2h1.4v1.4h-1.4zM291.5 708.8h1.4v1.4h-1.4zM282.2 733.3h1.4v1.4h-1.4zM282.7 719.1h1.4v1.4h-1.4zM292.5 714.2h1.4v1.4h-1.4zM280.6 741.0h1.4v1.4h-1.4zM282.8 743.5h1.4v1.4h-1.4zM286.3 744.7h1.4v1.4h-1.4zM269.1 716.8h1.4v1.4h-1.4zM269.4 721.0h1.4v1.4h-1.4zM278.7 716.6h1.4v1.4h-1.4zM285.8 742.8h1.4v1.4h-1.4zM269.2 723.6h1.4v1.4h-1.4zM275.6 703.1h1.4v1.4h-1.4zM295.2 713.7h1.4v1.4h-1.4zM280.4 713.0h1.4v1.4h-1.4zM297.0 738.4h1.4v1.4h-1.4zM267.4 705.7h1.4v1.4h-1.4zM295.9 706.6h1.4v1.4h-1.4zM284.7 720.0h1.4v1.4h-1.4zM289.6 741.5h1.4v1.4h-1.4zM290.9 724.2h1.4v1.4h-1.4zM291.8 718.6h1.4v1.4h-1.4zM297.5 733.5h1.4v1.4h-1.4zM266.1 724.5h1.4v1.4h-1.4zM289.0 742.3h1.4v1.4h-1.4zM281.0 736.7h1.4v1.4h-1.4zM289.4 743.9h1.4v1.4h-1.4zM272.8 725.2h1.4v1.4h-1.4zM292.7 741.8h1.4v1.4h-1.4zM293.9 731.0h1.4v1.4h-1.4zM293.1 726.2h1.4v1.4h-1.4zM295.3 727.8h1.4v1.4h-1.4zM286.6 746.7h1.4v1.4h-1.4zM288.8 719.1h1.4v1.4h-1.4zM275.2 706.5h1.4v1.4h-1.4zM281.3 707.2h1.4v1.4h-1.4zM263.8 723.4h1.4v1.4h-1.4zM273.3 710.8h1.4v1.4h-1.4zM273.3 703.7h1.4v1.4h-1.4zM296.9 721.0h1.4v1.4h-1.4zM272.2 726.4h1.4v1.4h-1.4zM273.1 715.5h1.4v1.4h-1.4zM297.6 721.5h1.4v1.4h-1.4zM266.2 718.6h1.4v1.4h-1.4zM262.4 711.7h1.4v1.4h-1.4zM291.9 737.0h1.4v1.4h-1.4zM280.5 743.1h1.4v1.4h-1.4zM277.7 720.0h1.4v1.4h-1.4zM277.4 704.5h1.4v1.4h-1.4zM283.3 729.9h1.4v1.4h-1.4zM271.3 720.1h1.4v1.4h-1.4zM292.5 716.2h1.4v1.4h-1.4zM278.6 731.3h1.4v1.4h-1.4zM268.4 721.6h1.4v1.4h-1.4zM281.6 735.7h1.4v1.4h-1.4zM276.9 737.0h1.4v1.4h-1.4zM294.5 718.3h1.4v1.4h-1.4zM286.8 708.8h1.4v1.4h-1.4zM294.0 718.9h1.4v1.4h-1.4zM264.9 716.3h1.4v1.4h-1.4zM273.7 718.7h1.4v1.4h-1.4zM287.9 708.5h1.4v1.4h-1.4zM264.4 717.1h1.4v1.4h-1.4zM276.0 728.8h1.4v1.4h-1.4zM277.5 710.3h1.4v1.4h-1.4zM278.5 729.1h1.4v1.4h-1.4zM281.3 723.3h1.4v1.4h-1.4zM283.8 706.6h1.4v1.4h-1.4zM281.4 723.5h1.4v1.4h-1.4zM275.1 713.6h1.4v1.4h-1.4zM293.0 717.4h1.4v1.4h-1.4zM279.4 727.8h1.4v1.4h-1.4zM295.6 723.5h1.4v1.4h-1.4zM281.5 704.3h1.4v1.4h-1.4zM269.3 735.5h1.4v1.4h-1.4zM287.0 711.6h1.4v1.4h-1.4zM299.1 723.0h1.4v1.4h-1.4zM279.9 716.2h1.4v1.4h-1.4zM285.6 719.3h1.4v1.4h-1.4zM284.6 728.3h1.4v1.4h-1.4zM283.7 733.6h1.4v1.4h-1.4zM282.4 738.7h1.4v1.4h-1.4zM268.3 718.9h1.4v1.4h-1.4zM284.1 705.8h1.4v1.4h-1.4zM300.5 733.3h1.4v1.4h-1.4zM279.9 711.8h1.4v1.4h-1.4zM291.7 709.4h1.4v1.4h-1.4zM273.2 730.2h1.4v1.4h-1.4zM259.5 718.6h1.4v1.4h-1.4zM286.5 733.2h1.4v1.4h-1.4zM285.8 742.8h1.4v1.4h-1.4zM286.0 731.0h1.4v1.4h-1.4zM286.9 717.6h1.4v1.4h-1.4zM285.6 742.4h1.4v1.4h-1.4zM268.9 724.7h1.4v1.4h-1.4zM292.5 704.8h1.4v1.4h-1.4zM274.4 716.1h1.4v1.4h-1.4zM298.3 724.2h1.4v1.4h-1.4zM287.5 742.9h1.4v1.4h-1.4zM276.6 737.3h1.4v1.4h-1.4zM306.5 688.7h1.4v1.4h-1.4zM301.6 700.2h1.4v1.4h-1.4zM303.8 710.5h1.4v1.4h-1.4zM305.5 687.6h1.4v1.4h-1.4zM309.3 684.6h1.4v1.4h-1.4zM306.0 687.7h1.4v1.4h-1.4zM309.5 691.8h1.4v1.4h-1.4zM301.0 708.6h1.4v1.4h-1.4zM311.3 701.2h1.4v1.4h-1.4zM311.3 692.5h1.4v1.4h-1.4zM304.4 684.6h1.4v1.4h-1.4zM310.0 688.4h1.4v1.4h-1.4zM311.6 703.8h1.4v1.4h-1.4zM306.3 683.7h1.4v1.4h-1.4zM304.5 684.8h1.4v1.4h-1.4zM308.1 694.3h1.4v1.4h-1.4zM309.5 699.0h1.4v1.4h-1.4zM308.0 684.8h1.4v1.4h-1.4zM308.8 693.6h1.4v1.4h-1.4zM306.2 696.9h1.4v1.4h-1.4zM314.0 699.1h1.4v1.4h-1.4zM306.5 684.1h1.4v1.4h-1.4zM305.8 693.4h1.4v1.4h-1.4zM307.7 709.6h1.4v1.4h-1.4zM302.2 692.9h1.4v1.4h-1.4zM305.0 684.3h1.4v1.4h-1.4zM311.3 706.4h1.4v1.4h-1.4zM311.0 690.5h1.4v1.4h-1.4zM312.2 701.7h1.4v1.4h-1.4zM316.1 691.0h1.4v1.4h-1.4zM300.6 688.0h1.4v1.4h-1.4zM306.4 686.5h1.4v1.4h-1.4zM307.4 683.5h1.4v1.4h-1.4zM310.2 698.3h1.4v1.4h-1.4zM308.1 703.3h1.4v1.4h-1.4zM310.0 695.4h1.4v1.4h-1.4zM311.4 710.5h1.4v1.4h-1.4zM307.9 702.6h1.4v1.4h-1.4zM311.8 697.6h1.4v1.4h-1.4zM304.0 701.7h1.4v1.4h-1.4zM308.0 708.4h1.4v1.4h-1.4zM310.6 694.1h1.4v1.4h-1.4zM305.7 706.8h1.4v1.4h-1.4zM307.9 705.1h1.4v1.4h-1.4zM302.2 702.8h1.4v1.4h-1.4zM303.9 694.5h1.4v1.4h-1.4zM307.6 691.9h1.4v1.4h-1.4zM310.6 698.5h1.4v1.4h-1.4zM312.1 691.8h1.4v1.4h-1.4zM305.9 702.0h1.4v1.4h-1.4zM303.3 699.6h1.4v1.4h-1.4zM304.3 709.1h1.4v1.4h-1.4zM310.3 692.9h1.4v1.4h-1.4zM313.6 703.2h1.4v1.4h-1.4zM305.4 687.3h1.4v1.4h-1.4zM307.9 701.9h1.4v1.4h-1.4zM313.2 707.3h1.4v1.4h-1.4zM307.9 707.3h1.4v1.4h-1.4zM310.4 696.5h1.4v1.4h-1.4zM304.1 699.3h1.4v1.4h-1.4zM302.1 685.6h1.4v1.4h-1.4zM309.3 695.0h1.4v1.4h-1.4zM310.6 700.0h1.4v1.4h-1.4zM310.3 688.2h1.4v1.4h-1.4zM306.9 696.0h1.4v1.4h-1.4zM313.6 694.1h1.4v1.4h-1.4zM309.4 702.0h1.4v1.4h-1.4zM306.4 689.2h1.4v1.4h-1.4zM305.1 689.4h1.4v1.4h-1.4zM308.2 697.8h1.4v1.4h-1.4zM307.7 708.3h1.4v1.4h-1.4zM305.0 683.2h1.4v1.4h-1.4zM300.3 692.8h1.4v1.4h-1.4zM311.8 705.9h1.4v1.4h-1.4zM304.6 693.7h1.4v1.4h-1.4zM305.8 692.0h1.4v1.4h-1.4zM304.4 699.4h1.4v1.4h-1.4zM306.4 692.3h1.4v1.4h-1.4zM311.6 697.6h1.4v1.4h-1.4zM302.2 688.2h1.4v1.4h-1.4zM302.1 708.2h1.4v1.4h-1.4zM308.5 699.4h1.4v1.4h-1.4zM309.7 702.7h1.4v1.4h-1.4zM313.6 699.8h1.4v1.4h-1.4zM306.7 685.8h1.4v1.4h-1.4zM303.1 694.8h1.4v1.4h-1.4zM305.3 704.5h1.4v1.4h-1.4zM311.7 688.8h1.4v1.4h-1.4zM305.8 686.1h1.4v1.4h-1.4zM314.9 699.3h1.4v1.4h-1.4zM305.1 695.7h1.4v1.4h-1.4zM302.6 686.5h1.4v1.4h-1.4z" fill="#AFF1DE"/><path d="M90.3 669.5h1.4v1.4h-1.4zM91.5 685.8h1.4v1.4h-1.4zM77.0 666.0h1.4v1.4h-1.4zM95.0 656.4h1.4v1.4h-1.4zM110.2 696.7h1.4v1.4h-1.4zM115.5 678.5h1.4v1.4h-1.4zM107.1 685.2h1.4v1.4h-1.4zM107.7 675.3h1.4v1.4h-1.4zM107.4 677.8h1.4v1.4h-1.4zM112.2 678.3h1.4v1.4h-1.4zM107.2 671.2h1.4v1.4h-1.4zM112.4 687.2h1.4v1.4h-1.4zM118.1 695.2h1.4v1.4h-1.4zM117.8 670.9h1.4v1.4h-1.4zM114.3 669.3h1.4v1.4h-1.4zM112.2 696.6h1.4v1.4h-1.4zM101.5 666.4h1.4v1.4h-1.4zM104.4 659.6h1.4v1.4h-1.4zM119.0 677.8h1.4v1.4h-1.4zM109.1 686.9h1.4v1.4h-1.4zM112.4 678.9h1.4v1.4h-1.4zM109.3 658.9h1.4v1.4h-1.4zM112.4 672.0h1.4v1.4h-1.4zM106.2 672.7h1.4v1.4h-1.4zM113.7 670.6h1.4v1.4h-1.4zM117.0 669.3h1.4v1.4h-1.4zM104.7 687.4h1.4v1.4h-1.4zM117.2 688.4h1.4v1.4h-1.4zM111.9 683.1h1.4v1.4h-1.4zM104.2 683.1h1.4v1.4h-1.4zM112.7 660.3h1.4v1.4h-1.4zM102.5 676.2h1.4v1.4h-1.4zM118.4 702.5h1.4v1.4h-1.4zM109.3 680.1h1.4v1.4h-1.4zM110.4 656.4h1.4v1.4h-1.4zM112.7 665.2h1.4v1.4h-1.4zM113.5 685.8h1.4v1.4h-1.4zM113.6 701.5h1.4v1.4h-1.4zM104.1 669.9h1.4v1.4h-1.4zM103.8 668.0h1.4v1.4h-1.4zM104.1 677.2h1.4v1.4h-1.4zM103.7 693.1h1.4v1.4h-1.4zM107.3 678.0h1.4v1.4h-1.4zM106.5 694.2h1.4v1.4h-1.4zM109.6 686.9h1.4v1.4h-1.4zM115.5 682.0h1.4v1.4h-1.4zM104.7 689.8h1.4v1.4h-1.4zM109.7 691.3h1.4v1.4h-1.4zM114.3 689.0h1.4v1.4h-1.4zM115.3 688.0h1.4v1.4h-1.4zM110.0 668.4h1.4v1.4h-1.4zM114.6 693.6h1.4v1.4h-1.4zM116.7 671.5h1.4v1.4h-1.4zM114.2 695.4h1.4v1.4h-1.4zM120.2 697.9h1.4v1.4h-1.4zM108.0 659.6h1.4v1.4h-1.4zM115.2 667.4h1.4v1.4h-1.4zM104.9 660.6h1.4v1.4h-1.4zM105.1 695.3h1.4v1.4h-1.4zM104.9 678.4h1.4v1.4h-1.4zM102.8 664.6h1.4v1.4h-1.4zM104.5 689.3h1.4v1.4h-1.4zM100.7 691.6h1.4v1.4h-1.4zM118.2 681.3h1.4v1.4h-1.4zM108.8 655.8h1.4v1.4h-1.4zM103.7 676.0h1.4v1.4h-1.4zM102.2 682.9h1.4v1.4h-1.4zM112.8 686.1h1.4v1.4h-1.4zM103.9 669.0h1.4v1.4h-1.4zM107.7 664.3h1.4v1.4h-1.4zM104.7 666.6h1.4v1.4h-1.4zM109.8 659.0h1.4v1.4h-1.4zM104.1 678.1h1.4v1.4h-1.4zM118.0 679.1h1.4v1.4h-1.4zM105.2 658.4h1.4v1.4h-1.4zM101.2 671.7h1.4v1.4h-1.4zM109.2 691.7h1.4v1.4h-1.4zM108.2 675.5h1.4v1.4h-1.4zM106.6 688.8h1.4v1.4h-1.4zM110.4 656.6h1.4v1.4h-1.4zM115.0 687.8h1.4v1.4h-1.4zM106.1 657.5h1.4v1.4h-1.4zM113.7 677.5h1.4v1.4h-1.4zM104.7 665.2h1.4v1.4h-1.4zM117.9 687.9h1.4v1.4h-1.4zM120.0 700.5h1.4v1.4h-1.4zM111.7 671.3h1.4v1.4h-1.4zM103.1 690.8h1.4v1.4h-1.4zM112.0 665.3h1.4v1.4h-1.4zM108.3 664.8h1.4v1.4h-1.4zM111.2 689.2h1.4v1.4h-1.4zM99.4 678.9h1.4v1.4h-1.4zM110.2 682.3h1.4v1.4h-1.4zM111.7 696.2h1.4v1.4h-1.4zM103.7 688.0h1.4v1.4h-1.4zM119.0 701.8h1.4v1.4h-1.4zM104.5 684.1h1.4v1.4h-1.4zM109.7 663.3h1.4v1.4h-1.4zM110.5 666.1h1.4v1.4h-1.4zM104.9 693.0h1.4v1.4h-1.4zM111.8 660.3h1.4v1.4h-1.4zM116.8 693.4h1.4v1.4h-1.4zM106.5 690.7h1.4v1.4h-1.4zM105.0 691.9h1.4v1.4h-1.4zM120.5 696.7h1.4v1.4h-1.4zM106.3 694.4h1.4v1.4h-1.4zM119.9 693.3h1.4v1.4h-1.4zM111.1 694.8h1.4v1.4h-1.4zM119.2 693.8h1.4v1.4h-1.4zM102.8 675.7h1.4v1.4h-1.4zM104.4 659.8h1.4v1.4h-1.4zM111.0 671.6h1.4v1.4h-1.4zM114.9 675.1h1.4v1.4h-1.4zM108.3 687.3h1.4v1.4h-1.4zM107.8 676.3h1.4v1.4h-1.4zM117.7 671.6h1.4v1.4h-1.4zM109.5 677.7h1.4v1.4h-1.4zM116.1 687.4h1.4v1.4h-1.4zM105.2 662.6h1.4v1.4h-1.4zM117.5 686.6h1.4v1.4h-1.4zM109.1 675.2h1.4v1.4h-1.4zM116.1 696.5h1.4v1.4h-1.4zM105.7 663.7h1.4v1.4h-1.4zM112.8 678.8h1.4v1.4h-1.4zM105.9 661.1h1.4v1.4h-1.4zM121.7 696.7h1.4v1.4h-1.4zM114.4 673.0h1.4v1.4h-1.4zM121.0 694.5h1.4v1.4h-1.4zM104.0 660.8h1.4v1.4h-1.4zM110.7 692.6h1.4v1.4h-1.4zM112.9 676.3h1.4v1.4h-1.4zM109.5 692.2h1.4v1.4h-1.4zM102.8 654.2h1.4v1.4h-1.4zM115.6 670.6h1.4v1.4h-1.4zM119.7 694.8h1.4v1.4h-1.4zM108.5 691.9h1.4v1.4h-1.4zM113.7 685.7h1.4v1.4h-1.4zM118.1 696.5h1.4v1.4h-1.4zM99.9 675.3h1.4v1.4h-1.4zM120.7 696.1h1.4v1.4h-1.4zM102.0 663.4h1.4v1.4h-1.4zM113.2 674.9h1.4v1.4h-1.4zM103.4 689.6h1.4v1.4h-1.4zM109.6 656.4h1.4v1.4h-1.4zM111.6 670.1h1.4v1.4h-1.4zM109.6 674.7h1.4v1.4h-1.4zM110.1 700.4h1.4v1.4h-1.4zM123.3 697.0h1.4v1.4h-1.4zM116.3 656.1h1.4v1.4h-1.4zM98.2 672.2h1.4v1.4h-1.4zM113.3 675.0h1.4v1.4h-1.4zM112.1 678.7h1.4v1.4h-1.4zM104.0 653.4h1.4v1.4h-1.4zM102.3 671.1h1.4v1.4h-1.4zM114.8 697.5h1.4v1.4h-1.4zM112.5 694.1h1.4v1.4h-1.4zM106.1 686.5h1.4v1.4h-1.4zM99.6 672.8h1.4v1.4h-1.4zM118.0 688.9h1.4v1.4h-1.4zM103.2 657.5h1.4v1.4h-1.4zM110.2 659.2h1.4v1.4h-1.4zM108.2 654.3h1.4v1.4h-1.4zM103.2 688.5h1.4v1.4h-1.4zM118.9 687.8h1.4v1.4h-1.4zM112.2 659.7h1.4v1.4h-1.4zM111.6 658.9h1.4v1.4h-1.4zM115.1 663.5h1.4v1.4h-1.4zM112.6 688.6h1.4v1.4h-1.4zM116.7 690.6h1.4v1.4h-1.4zM121.9 690.0h1.4v1.4h-1.4zM109.5 696.6h1.4v1.4h-1.4zM119.0 699.8h1.4v1.4h-1.4zM108.0 688.8h1.4v1.4h-1.4zM108.3 663.5h1.4v1.4h-1.4zM118.2 675.0h1.4v1.4h-1.4zM113.6 688.3h1.4v1.4h-1.4zM110.0 686.8h1.4v1.4h-1.4zM115.7 674.7h1.4v1.4h-1.4zM117.8 691.0h1.4v1.4h-1.4zM117.4 693.4h1.4v1.4h-1.4zM114.1 698.3h1.4v1.4h-1.4zM118.4 696.9h1.4v1.4h-1.4zM106.3 656.8h1.4v1.4h-1.4zM116.0 677.4h1.4v1.4h-1.4zM108.9 694.0h1.4v1.4h-1.4zM106.7 653.2h1.4v1.4h-1.4zM103.5 689.5h1.4v1.4h-1.4zM103.1 681.9h1.4v1.4h-1.4zM103.8 657.9h1.4v1.4h-1.4zM120.3 694.4h1.4v1.4h-1.4zM105.0 683.1h1.4v1.4h-1.4zM116.3 683.0h1.4v1.4h-1.4zM106.4 676.2h1.4v1.4h-1.4zM119.2 684.7h1.4v1.4h-1.4zM112.1 661.3h1.4v1.4h-1.4zM112.8 667.8h1.4v1.4h-1.4zM118.2 683.4h1.4v1.4h-1.4zM104.1 670.4h1.4v1.4h-1.4zM104.8 667.5h1.4v1.4h-1.4zM111.7 674.8h1.4v1.4h-1.4zM106.7 655.9h1.4v1.4h-1.4zM117.1 674.3h1.4v1.4h-1.4zM104.7 661.2h1.4v1.4h-1.4zM113.3 666.6h1.4v1.4h-1.4zM112.7 658.8h1.4v1.4h-1.4zM114.6 680.8h1.4v1.4h-1.4zM102.7 677.5h1.4v1.4h-1.4zM116.6 669.5h1.4v1.4h-1.4zM104.6 670.9h1.4v1.4h-1.4zM109.5 679.7h1.4v1.4h-1.4zM106.5 683.0h1.4v1.4h-1.4zM103.4 662.1h1.4v1.4h-1.4zM111.0 663.8h1.4v1.4h-1.4zM105.6 694.7h1.4v1.4h-1.4zM102.2 690.0h1.4v1.4h-1.4zM105.1 692.9h1.4v1.4h-1.4zM107.0 694.4h1.4v1.4h-1.4zM109.3 662.3h1.4v1.4h-1.4zM104.8 658.0h1.4v1.4h-1.4zM110.3 683.4h1.4v1.4h-1.4zM111.9 672.6h1.4v1.4h-1.4zM100.6 693.7h1.4v1.4h-1.4zM106.0 679.3h1.4v1.4h-1.4zM109.6 696.5h1.4v1.4h-1.4zM100.2 685.0h1.4v1.4h-1.4zM103.4 685.2h1.4v1.4h-1.4zM105.1 690.3h1.4v1.4h-1.4zM103.3 668.4h1.4v1.4h-1.4zM104.7 657.1h1.4v1.4h-1.4zM110.0 670.9h1.4v1.4h-1.4zM110.7 682.5h1.4v1.4h-1.4zM111.1 686.8h1.4v1.4h-1.4zM110.5 665.4h1.4v1.4h-1.4zM112.2 680.1h1.4v1.4h-1.4zM118.8 695.5h1.4v1.4h-1.4zM116.1 692.9h1.4v1.4h-1.4zM105.0 680.2h1.4v1.4h-1.4zM114.6 682.8h1.4v1.4h-1.4zM113.1 668.6h1.4v1.4h-1.4zM119.0 692.6h1.4v1.4h-1.4zM110.8 671.8h1.4v1.4h-1.4zM104.2 669.7h1.4v1.4h-1.4zM101.8 657.9h1.4v1.4h-1.4zM107.7 681.2h1.4v1.4h-1.4zM112.9 699.3h1.4v1.4h-1.4zM112.6 676.3h1.4v1.4h-1.4zM113.6 683.7h1.4v1.4h-1.4zM105.3 681.5h1.4v1.4h-1.4zM116.7 668.6h1.4v1.4h-1.4zM114.6 693.4h1.4v1.4h-1.4zM116.0 673.5h1.4v1.4h-1.4zM110.2 694.4h1.4v1.4h-1.4zM113.6 692.1h1.4v1.4h-1.4zM113.4 691.6h1.4v1.4h-1.4zM104.3 655.9h1.4v1.4h-1.4zM106.0 692.6h1.4v1.4h-1.4zM116.6 690.1h1.4v1.4h-1.4zM103.4 685.5h1.4v1.4h-1.4zM112.7 668.2h1.4v1.4h-1.4zM102.8 680.0h1.4v1.4h-1.4zM104.2 668.3h1.4v1.4h-1.4zM188.3 676.4h1.4v1.4h-1.4zM207.8 682.8h1.4v1.4h-1.4zM198.9 662.7h1.4v1.4h-1.4zM197.0 660.5h1.4v1.4h-1.4zM208.3 669.7h1.4v1.4h-1.4zM263.6 682.4h1.4v1.4h-1.4zM273.9 694.7h1.4v1.4h-1.4zM271.3 692.9h1.4v1.4h-1.4zM262.3 678.9h1.4v1.4h-1.4zM277.2 669.1h1.4v1.4h-1.4zM266.4 677.4h1.4v1.4h-1.4zM277.6 695.3h1.4v1.4h-1.4zM269.9 690.7h1.4v1.4h-1.4zM269.7 663.8h1.4v1.4h-1.4zM274.4 669.6h1.4v1.4h-1.4zM269.3 674.5h1.4v1.4h-1.4zM277.4 682.4h1.4v1.4h-1.4zM265.6 665.9h1.4v1.4h-1.4zM261.4 696.6h1.4v1.4h-1.4zM277.7 700.9h1.4v1.4h-1.4zM268.7 656.0h1.4v1.4h-1.4zM270.5 686.3h1.4v1.4h-1.4zM277.1 677.0h1.4v1.4h-1.4zM262.0 672.4h1.4v1.4h-1.4zM260.2 691.2h1.4v1.4h-1.4zM262.6 699.9h1.4v1.4h-1.4zM272.2 688.0h1.4v1.4h-1.4zM269.2 675.8h1.4v1.4h-1.4zM271.6 681.1h1.4v1.4h-1.4zM262.0 681.9h1.4v1.4h-1.4zM259.7 688.0h1.4v1.4h-1.4zM267.8 683.9h1.4v1.4h-1.4zM265.5 693.5h1.4v1.4h-1.4zM267.5 663.1h1.4v1.4h-1.4zM273.4 695.4h1.4v1.4h-1.4zM275.2 680.0h1.4v1.4h-1.4zM263.0 699.0h1.4v1.4h-1.4zM272.5 659.2h1.4v1.4h-1.4zM275.3 670.5h1.4v1.4h-1.4zM267.2 669.9h1.4v1.4h-1.4zM278.1 679.1h1.4v1.4h-1.4zM273.2 662.0h1.4v1.4h-1.4zM268.9 666.7h1.4v1.4h-1.4zM281.6 686.3h1.4v1.4h-1.4zM274.5 701.3h1.4v1.4h-1.4zM276.8 694.0h1.4v1.4h-1.4zM278.9 694.9h1.4v1.4h-1.4zM280.3 683.9h1.4v1.4h-1.4zM266.3 684.7h1.4v1.4h-1.4zM263.7 669.3h1.4v1.4h-1.4zM273.6 667.0h1.4v1.4h-1.4zM271.2 687.9h1.4v1.4h-1.4zM261.0 678.5h1.4v1.4h-1.4zM270.9 692.9h1.4v1.4h-1.4zM269.7 673.1h1.4v1.4h-1.4zM261.5 695.7h1.4v1.4h-1.4zM273.5 665.9h1.4v1.4h-1.4zM270.5 669.8h1.4v1.4h-1.4zM271.6 694.9h1.4v1.4h-1.4zM263.6 695.2h1.4v1.4h-1.4zM267.8 679.3h1.4v1.4h-1.4zM270.8 677.9h1.4v1.4h-1.4zM268.2 686.3h1.4v1.4h-1.4zM280.6 686.5h1.4v1.4h-1.4zM262.7 687.3h1.4v1.4h-1.4zM264.2 693.3h1.4v1.4h-1.4zM268.6 684.2h1.4v1.4h-1.4zM282.9 677.6h1.4v1.4h-1.4zM267.5 679.9h1.4v1.4h-1.4zM267.6 698.0h1.4v1.4h-1.4zM272.5 667.8h1.4v1.4h-1.4zM263.0 670.8h1.4v1.4h-1.4zM264.9 667.5h1.4v1.4h-1.4zM260.9 672.4h1.4v1.4h-1.4zM266.2 700.3h1.4v1.4h-1.4zM267.0 685.6h1.4v1.4h-1.4zM275.0 663.8h1.4v1.4h-1.4zM272.1 667.6h1.4v1.4h-1.4zM280.7 685.5h1.4v1.4h-1.4zM274.2 694.5h1.4v1.4h-1.4zM270.2 667.0h1.4v1.4h-1.4zM275.7 692.3h1.4v1.4h-1.4zM275.0 684.4h1.4v1.4h-1.4zM270.3 675.2h1.4v1.4h-1.4zM272.8 662.3h1.4v1.4h-1.4zM267.0 668.8h1.4v1.4h-1.4zM267.9 685.1h1.4v1.4h-1.4zM267.5 701.3h1.4v1.4h-1.4zM271.6 677.4h1.4v1.4h-1.4zM268.8 699.8h1.4v1.4h-1.4zM269.1 693.3h1.4v1.4h-1.4zM273.4 681.2h1.4v1.4h-1.4zM280.4 698.9h1.4v1.4h-1.4zM263.8 688.1h1.4v1.4h-1.4zM267.1 665.2h1.4v1.4h-1.4zM267.4 668.3h1.4v1.4h-1.4zM269.1 665.5h1.4v1.4h-1.4zM278.1 686.3h1.4v1.4h-1.4zM266.2 689.3h1.4v1.4h-1.4zM264.2 700.1h1.4v1.4h-1.4zM271.5 686.8h1.4v1.4h-1.4zM273.6 701.4h1.4v1.4h-1.4zM268.9 695.2h1.4v1.4h-1.4zM276.6 670.8h1.4v1.4h-1.4zM272.0 682.9h1.4v1.4h-1.4zM278.3 692.8h1.4v1.4h-1.4zM270.7 681.0h1.4v1.4h-1.4zM268.9 699.6h1.4v1.4h-1.4zM263.2 679.8h1.4v1.4h-1.4zM279.6 683.2h1.4v1.4h-1.4zM265.3 665.3h1.4v1.4h-1.4zM266.1 689.3h1.4v1.4h-1.4zM275.9 698.1h1.4v1.4h-1.4zM263.2 698.2h1.4v1.4h-1.4zM265.7 676.6h1.4v1.4h-1.4zM273.1 681.4h1.4v1.4h-1.4zM278.3 680.8h1.4v1.4h-1.4zM271.1 666.3h1.4v1.4h-1.4zM271.4 692.8h1.4v1.4h-1.4zM269.4 690.8h1.4v1.4h-1.4zM268.8 683.5h1.4v1.4h-1.4zM268.8 697.8h1.4v1.4h-1.4zM265.0 664.1h1.4v1.4h-1.4zM276.3 674.8h1.4v1.4h-1.4zM271.5 687.7h1.4v1.4h-1.4zM276.2 680.1h1.4v1.4h-1.4zM271.7 674.4h1.4v1.4h-1.4zM270.7 656.6h1.4v1.4h-1.4zM275.6 679.9h1.4v1.4h-1.4zM272.9 690.9h1.4v1.4h-1.4zM271.0 661.0h1.4v1.4h-1.4zM266.6 660.0h1.4v1.4h-1.4zM271.3 668.3h1.4v1.4h-1.4zM277.4 677.9h1.4v1.4h-1.4zM264.6 699.7h1.4v1.4h-1.4zM268.7 664.3h1.4v1.4h-1.4zM271.4 692.4h1.4v1.4h-1.4zM275.3 670.4h1.4v1.4h-1.4zM265.0 667.7h1.4v1.4h-1.4zM263.2 680.6h1.4v1.4h-1.4zM263.7 670.2h1.4v1.4h-1.4zM263.6 690.7h1.4v1.4h-1.4zM270.1 667.4h1.4v1.4h-1.4zM274.2 694.7h1.4v1.4h-1.4zM272.9 666.2h1.4v1.4h-1.4zM277.4 685.0h1.4v1.4h-1.4zM261.0 681.1h1.4v1.4h-1.4zM269.1 693.0h1.4v1.4h-1.4zM272.3 668.7h1.4v1.4h-1.4zM272.5 700.3h1.4v1.4h-1.4zM277.6 696.0h1.4v1.4h-1.4zM271.0 671.7h1.4v1.4h-1.4zM273.8 679.3h1.4v1.4h-1.4zM280.0 689.6h1.4v1.4h-1.4zM273.8 669.9h1.4v1.4h-1.4zM260.6 686.1h1.4v1.4h-1.4zM275.5 690.2h1.4v1.4h-1.4zM268.3 670.3h1.4v1.4h-1.4zM268.7 695.2h1.4v1.4h-1.4zM266.1 686.2h1.4v1.4h-1.4zM273.0 659.7h1.4v1.4h-1.4zM268.9 702.7h1.4v1.4h-1.4zM278.3 682.1h1.4v1.4h-1.4zM273.3 692.9h1.4v1.4h-1.4zM270.2 661.9h1.4v1.4h-1.4zM268.0 689.9h1.4v1.4h-1.4zM265.3 678.4h1.4v1.4h-1.4zM278.8 692.3h1.4v1.4h-1.4zM264.7 697.8h1.4v1.4h-1.4z" fill="#EBA868"/><path d="M113.7 651.9h1.4v1.4h-1.4zM118.2 646.2h1.4v1.4h-1.4zM131.3 688.5h1.4v1.4h-1.4zM131.9 685.0h1.4v1.4h-1.4zM127.0 666.7h1.4v1.4h-1.4zM125.5 659.2h1.4v1.4h-1.4zM123.3 635.6h1.4v1.4h-1.4zM143.6 659.4h1.4v1.4h-1.4zM123.7 673.5h1.4v1.4h-1.4zM122.6 653.4h1.4v1.4h-1.4zM121.4 677.0h1.4v1.4h-1.4zM127.8 674.0h1.4v1.4h-1.4zM129.9 681.0h1.4v1.4h-1.4zM121.1 642.9h1.4v1.4h-1.4zM133.8 654.4h1.4v1.4h-1.4zM119.7 675.6h1.4v1.4h-1.4zM129.0 669.1h1.4v1.4h-1.4zM126.7 669.3h1.4v1.4h-1.4zM126.2 638.0h1.4v1.4h-1.4zM140.9 667.1h1.4v1.4h-1.4zM121.4 644.3h1.4v1.4h-1.4zM130.3 638.4h1.4v1.4h-1.4zM135.7 665.9h1.4v1.4h-1.4zM120.8 642.2h1.4v1.4h-1.4zM138.4 674.5h1.4v1.4h-1.4zM119.1 639.4h1.4v1.4h-1.4zM127.9 674.3h1.4v1.4h-1.4zM126.6 669.4h1.4v1.4h-1.4zM142.2 668.6h1.4v1.4h-1.4zM133.0 674.1h1.4v1.4h-1.4zM129.8 662.3h1.4v1.4h-1.4zM120.5 668.1h1.4v1.4h-1.4zM128.6 633.7h1.4v1.4h-1.4zM132.4 649.3h1.4v1.4h-1.4zM123.9 668.1h1.4v1.4h-1.4zM134.3 662.8h1.4v1.4h-1.4zM118.6 655.9h1.4v1.4h-1.4zM128.6 678.6h1.4v1.4h-1.4zM125.2 646.9h1.4v1.4h-1.4zM125.7 650.6h1.4v1.4h-1.4zM124.0 662.3h1.4v1.4h-1.4zM126.2 643.7h1.4v1.4h-1.4zM124.4 666.2h1.4v1.4h-1.4zM124.7 662.4h1.4v1.4h-1.4zM127.6 682.1h1.4v1.4h-1.4zM143.1 669.6h1.4v1.4h-1.4zM132.5 638.6h1.4v1.4h-1.4zM123.1 683.9h1.4v1.4h-1.4zM122.1 663.7h1.4v1.4h-1.4zM119.2 672.3h1.4v1.4h-1.4zM122.0 670.6h1.4v1.4h-1.4zM117.0 647.5h1.4v1.4h-1.4zM121.5 639.6h1.4v1.4h-1.4zM118.8 654.3h1.4v1.4h-1.4zM131.3 679.9h1.4v1.4h-1.4zM118.0 659.9h1.4v1.4h-1.4zM121.3 644.6h1.4v1.4h-1.4zM134.8 653.7h1.4v1.4h-1.4zM131.5 692.2h1.4v1.4h-1.4zM129.5 651.9h1.4v1.4h-1.4zM129.6 654.1h1.4v1.4h-1.4zM120.7 678.9h1.4v1.4h-1.4zM119.7 634.4h1.4v1.4h-1.4zM142.2 668.7h1.4v1.4h-1.4zM132.8 652.9h1.4v1.4h-1.4zM117.9 658.8h1.4v1.4h-1.4zM134.5 681.3h1.4v1.4h-1.4zM127.3 634.7h1.4v1.4h-1.4zM123.4 677.2h1.4v1.4h-1.4zM123.0 634.7h1.4v1.4h-1.4zM124.8 657.7h1.4v1.4h-1.4zM137.3 673.3h1.4v1.4h-1.4zM118.9 659.0h1.4v1.4h-1.4zM122.8 658.3h1.4v1.4h-1.4zM118.1 659.7h1.4v1.4h-1.4zM138.8 663.8h1.4v1.4h-1.4zM133.3 642.6h1.4v1.4h-1.4zM129.9 680.8h1.4v1.4h-1.4zM129.3 651.4h1.4v1.4h-1.4zM133.0 674.6h1.4v1.4h-1.4zM130.2 662.7h1.4v1.4h-1.4zM128.5 627.2h1.4v1.4h-1.4zM130.3 630.6h1.4v1.4h-1.4zM127.8 661.3h1.4v1.4h-1.4zM123.7 654.4h1.4v1.4h-1.4zM123.3 629.9h1.4v1.4h-1.4zM127.9 675.2h1.4v1.4h-1.4zM136.4 681.8h1.4v1.4h-1.4zM126.4 629.0h1.4v1.4h-1.4zM127.2 684.3h1.4v1.4h-1.4zM121.7 687.9h1.4v1.4h-1.4zM129.6 648.0h1.4v1.4h-1.4zM134.3 672.2h1.4v1.4h-1.4zM142.9 661.5h1.4v1.4h-1.4zM124.3 630.8h1.4v1.4h-1.4zM127.9 628.4h1.4v1.4h-1.4zM121.6 671.7h1.4v1.4h-1.4zM122.8 648.0h1.4v1.4h-1.4zM140.6 654.8h1.4v1.4h-1.4zM137.4 654.0h1.4v1.4h-1.4zM129.1 646.7h1.4v1.4h-1.4zM130.4 691.5h1.4v1.4h-1.4zM116.5 656.6h1.4v1.4h-1.4zM118.2 646.2h1.4v1.4h-1.4zM129.6 690.3h1.4v1.4h-1.4zM116.9 657.3h1.4v1.4h-1.4zM125.1 631.0h1.4v1.4h-1.4zM126.3 676.6h1.4v1.4h-1.4zM130.4 660.4h1.4v1.4h-1.4zM129.0 663.0h1.4v1.4h-1.4zM131.4 654.7h1.4v1.4h-1.4zM129.0 665.7h1.4v1.4h-1.4zM130.4 660.7h1.4v1.4h-1.4zM131.2 662.4h1.4v1.4h-1.4zM118.8 639.6h1.4v1.4h-1.4zM127.8 650.2h1.4v1.4h-1.4zM119.7 657.1h1.4v1.4h-1.4zM131.3 646.4h1.4v1.4h-1.4zM134.1 687.1h1.4v1.4h-1.4zM125.5 641.9h1.4v1.4h-1.4zM133.7 643.8h1.4v1.4h-1.4zM131.6 684.0h1.4v1.4h-1.4zM136.2 665.1h1.4v1.4h-1.4zM117.7 661.9h1.4v1.4h-1.4zM121.2 650.6h1.4v1.4h-1.4zM116.5 651.7h1.4v1.4h-1.4zM127.6 634.5h1.4v1.4h-1.4zM117.0 664.1h1.4v1.4h-1.4zM130.0 639.3h1.4v1.4h-1.4zM128.6 690.3h1.4v1.4h-1.4zM137.8 671.5h1.4v1.4h-1.4zM127.3 687.8h1.4v1.4h-1.4zM135.2 640.4h1.4v1.4h-1.4zM132.4 654.6h1.4v1.4h-1.4zM121.3 651.4h1.4v1.4h-1.4zM125.4 660.4h1.4v1.4h-1.4zM129.0 676.5h1.4v1.4h-1.4zM125.9 667.7h1.4v1.4h-1.4zM122.5 677.6h1.4v1.4h-1.4zM119.3 637.1h1.4v1.4h-1.4zM129.4 654.6h1.4v1.4h-1.4zM139.7 678.5h1.4v1.4h-1.4zM127.1 670.4h1.4v1.4h-1.4zM132.3 662.9h1.4v1.4h-1.4zM123.7 663.4h1.4v1.4h-1.4zM130.4 639.4h1.4v1.4h-1.4zM133.6 662.1h1.4v1.4h-1.4zM136.6 686.7h1.4v1.4h-1.4zM125.4 630.0h1.4v1.4h-1.4zM120.4 674.0h1.4v1.4h-1.4zM121.6 671.2h1.4v1.4h-1.4zM131.7 682.8h1.4v1.4h-1.4zM130.3 644.3h1.4v1.4h-1.4zM118.4 662.9h1.4v1.4h-1.4zM138.0 658.5h1.4v1.4h-1.4zM135.5 681.4h1.4v1.4h-1.4zM136.9 664.8h1.4v1.4h-1.4zM125.4 637.5h1.4v1.4h-1.4zM136.0 674.5h1.4v1.4h-1.4zM119.9 634.2h1.4v1.4h-1.4zM118.6 641.9h1.4v1.4h-1.4zM130.7 640.5h1.4v1.4h-1.4zM126.8 632.0h1.4v1.4h-1.4zM138.5 670.5h1.4v1.4h-1.4zM124.7 651.0h1.4v1.4h-1.4zM125.8 654.5h1.4v1.4h-1.4zM130.8 639.7h1.4v1.4h-1.4zM135.3 668.4h1.4v1.4h-1.4zM125.4 689.9h1.4v1.4h-1.4zM145.5 671.6h1.4v1.4h-1.4zM127.3 673.9h1.4v1.4h-1.4zM133.4 657.1h1.4v1.4h-1.4zM123.2 647.2h1.4v1.4h-1.4zM136.9 657.1h1.4v1.4h-1.4zM126.5 639.0h1.4v1.4h-1.4zM124.0 659.4h1.4v1.4h-1.4zM124.3 631.3h1.4v1.4h-1.4zM128.4 638.3h1.4v1.4h-1.4zM122.1 637.4h1.4v1.4h-1.4zM136.1 657.4h1.4v1.4h-1.4zM130.0 674.2h1.4v1.4h-1.4zM122.5 635.9h1.4v1.4h-1.4zM131.6 636.9h1.4v1.4h-1.4zM126.3 686.0h1.4v1.4h-1.4zM139.7 683.9h1.4v1.4h-1.4zM121.1 660.3h1.4v1.4h-1.4zM123.3 641.2h1.4v1.4h-1.4zM136.1 641.8h1.4v1.4h-1.4zM127.9 646.3h1.4v1.4h-1.4zM136.3 643.9h1.4v1.4h-1.4zM121.6 652.9h1.4v1.4h-1.4zM134.6 652.4h1.4v1.4h-1.4zM127.1 636.4h1.4v1.4h-1.4zM128.8 686.9h1.4v1.4h-1.4zM140.0 655.5h1.4v1.4h-1.4zM124.5 631.8h1.4v1.4h-1.4zM118.6 657.7h1.4v1.4h-1.4zM137.9 654.2h1.4v1.4h-1.4zM131.5 667.8h1.4v1.4h-1.4zM132.8 678.9h1.4v1.4h-1.4zM132.4 668.7h1.4v1.4h-1.4zM129.9 673.0h1.4v1.4h-1.4zM139.8 650.2h1.4v1.4h-1.4zM118.4 664.7h1.4v1.4h-1.4zM132.8 652.2h1.4v1.4h-1.4zM119.3 636.4h1.4v1.4h-1.4zM127.8 650.0h1.4v1.4h-1.4zM122.1 683.9h1.4v1.4h-1.4zM124.1 653.4h1.4v1.4h-1.4zM118.4 631.3h1.4v1.4h-1.4zM124.8 657.8h1.4v1.4h-1.4zM136.5 644.8h1.4v1.4h-1.4zM128.9 648.8h1.4v1.4h-1.4zM136.5 665.5h1.4v1.4h-1.4zM132.2 655.9h1.4v1.4h-1.4zM131.3 647.1h1.4v1.4h-1.4zM119.7 658.6h1.4v1.4h-1.4zM129.6 663.4h1.4v1.4h-1.4zM126.6 630.0h1.4v1.4h-1.4zM141.2 657.0h1.4v1.4h-1.4zM121.0 664.4h1.4v1.4h-1.4zM129.3 642.5h1.4v1.4h-1.4zM136.9 652.0h1.4v1.4h-1.4zM121.3 631.7h1.4v1.4h-1.4zM126.5 676.5h1.4v1.4h-1.4zM115.4 652.3h1.4v1.4h-1.4zM125.8 670.1h1.4v1.4h-1.4zM136.4 673.8h1.4v1.4h-1.4zM119.7 672.9h1.4v1.4h-1.4zM140.3 661.8h1.4v1.4h-1.4zM121.9 645.9h1.4v1.4h-1.4zM124.6 678.5h1.4v1.4h-1.4zM125.8 687.1h1.4v1.4h-1.4zM126.1 667.4h1.4v1.4h-1.4zM140.3 660.8h1.4v1.4h-1.4zM134.5 681.4h1.4v1.4h-1.4zM138.4 670.9h1.4v1.4h-1.4zM119.9 638.4h1.4v1.4h-1.4zM126.5 654.0h1.4v1.4h-1.4zM143.9 666.7h1.4v1.4h-1.4zM131.7 648.4h1.4v1.4h-1.4zM128.4 651.5h1.4v1.4h-1.4zM131.2 672.8h1.4v1.4h-1.4zM128.5 668.9h1.4v1.4h-1.4zM131.9 638.7h1.4v1.4h-1.4zM126.0 688.6h1.4v1.4h-1.4zM127.9 680.9h1.4v1.4h-1.4zM135.9 664.7h1.4v1.4h-1.4zM138.0 683.3h1.4v1.4h-1.4zM131.3 675.7h1.4v1.4h-1.4zM141.3 650.0h1.4v1.4h-1.4zM129.3 653.6h1.4v1.4h-1.4zM131.3 672.7h1.4v1.4h-1.4zM142.1 675.8h1.4v1.4h-1.4zM131.2 671.1h1.4v1.4h-1.4zM134.4 670.2h1.4v1.4h-1.4zM122.7 672.6h1.4v1.4h-1.4zM128.9 657.4h1.4v1.4h-1.4zM130.4 661.2h1.4v1.4h-1.4zM128.6 639.5h1.4v1.4h-1.4zM141.7 671.1h1.4v1.4h-1.4zM127.6 637.4h1.4v1.4h-1.4zM133.8 668.3h1.4v1.4h-1.4zM132.9 665.3h1.4v1.4h-1.4zM120.6 665.5h1.4v1.4h-1.4zM132.9 644.2h1.4v1.4h-1.4zM122.8 668.0h1.4v1.4h-1.4zM134.8 681.5h1.4v1.4h-1.4zM120.8 643.9h1.4v1.4h-1.4zM119.2 649.9h1.4v1.4h-1.4zM131.3 667.1h1.4v1.4h-1.4zM126.2 664.9h1.4v1.4h-1.4zM122.2 655.7h1.4v1.4h-1.4zM139.7 667.2h1.4v1.4h-1.4zM119.0 657.9h1.4v1.4h-1.4zM138.5 657.4h1.4v1.4h-1.4zM136.7 663.6h1.4v1.4h-1.4zM120.0 653.4h1.4v1.4h-1.4zM138.8 672.5h1.4v1.4h-1.4zM120.4 681.1h1.4v1.4h-1.4zM118.8 668.9h1.4v1.4h-1.4zM138.3 669.8h1.4v1.4h-1.4zM127.5 663.8h1.4v1.4h-1.4zM142.1 676.7h1.4v1.4h-1.4zM121.5 665.0h1.4v1.4h-1.4zM125.6 673.7h1.4v1.4h-1.4zM138.1 646.7h1.4v1.4h-1.4zM127.9 635.2h1.4v1.4h-1.4zM116.5 659.7h1.4v1.4h-1.4zM134.4 668.0h1.4v1.4h-1.4zM122.6 651.3h1.4v1.4h-1.4zM129.7 634.5h1.4v1.4h-1.4zM129.1 669.4h1.4v1.4h-1.4zM120.7 635.1h1.4v1.4h-1.4zM138.1 671.1h1.4v1.4h-1.4zM127.2 637.4h1.4v1.4h-1.4zM129.1 634.8h1.4v1.4h-1.4zM129.7 630.4h1.4v1.4h-1.4zM142.6 672.6h1.4v1.4h-1.4zM123.3 681.9h1.4v1.4h-1.4zM120.6 644.6h1.4v1.4h-1.4zM120.3 668.2h1.4v1.4h-1.4zM131.0 660.0h1.4v1.4h-1.4zM137.8 665.2h1.4v1.4h-1.4zM137.4 661.8h1.4v1.4h-1.4zM136.1 657.0h1.4v1.4h-1.4zM126.8 653.1h1.4v1.4h-1.4zM120.6 641.3h1.4v1.4h-1.4zM133.0 666.9h1.4v1.4h-1.4zM118.5 637.3h1.4v1.4h-1.4zM125.4 634.0h1.4v1.4h-1.4zM118.7 656.9h1.4v1.4h-1.4zM144.4 671.2h1.4v1.4h-1.4zM132.6 671.4h1.4v1.4h-1.4zM135.0 651.7h1.4v1.4h-1.4zM123.5 678.7h1.4v1.4h-1.4zM134.7 666.3h1.4v1.4h-1.4zM126.6 632.4h1.4v1.4h-1.4zM137.0 650.7h1.4v1.4h-1.4zM126.7 651.5h1.4v1.4h-1.4zM125.8 658.8h1.4v1.4h-1.4zM139.8 660.3h1.4v1.4h-1.4zM135.6 681.3h1.4v1.4h-1.4zM140.9 653.6h1.4v1.4h-1.4zM136.7 664.0h1.4v1.4h-1.4zM128.8 675.7h1.4v1.4h-1.4zM127.1 637.0h1.4v1.4h-1.4zM134.9 665.6h1.4v1.4h-1.4zM123.2 673.9h1.4v1.4h-1.4zM120.2 656.2h1.4v1.4h-1.4zM122.1 685.0h1.4v1.4h-1.4zM128.6 674.5h1.4v1.4h-1.4zM133.3 660.5h1.4v1.4h-1.4zM140.6 658.1h1.4v1.4h-1.4zM120.7 660.0h1.4v1.4h-1.4zM119.9 675.9h1.4v1.4h-1.4zM121.1 650.4h1.4v1.4h-1.4zM129.5 632.4h1.4v1.4h-1.4zM129.7 641.7h1.4v1.4h-1.4zM126.9 685.3h1.4v1.4h-1.4zM141.0 675.2h1.4v1.4h-1.4zM124.5 632.9h1.4v1.4h-1.4zM138.2 667.0h1.4v1.4h-1.4zM142.0 661.9h1.4v1.4h-1.4zM140.1 665.4h1.4v1.4h-1.4zM133.3 672.8h1.4v1.4h-1.4zM122.5 669.8h1.4v1.4h-1.4zM126.6 631.0h1.4v1.4h-1.4zM129.6 693.0h1.4v1.4h-1.4zM123.6 658.3h1.4v1.4h-1.4zM137.4 652.7h1.4v1.4h-1.4zM120.2 633.3h1.4v1.4h-1.4zM145.0 660.9h1.4v1.4h-1.4zM126.9 671.9h1.4v1.4h-1.4zM138.4 676.7h1.4v1.4h-1.4zM133.9 680.1h1.4v1.4h-1.4zM123.5 675.6h1.4v1.4h-1.4zM139.6 656.8h1.4v1.4h-1.4zM132.7 667.6h1.4v1.4h-1.4zM128.8 657.8h1.4v1.4h-1.4zM130.7 652.8h1.4v1.4h-1.4zM127.3 657.4h1.4v1.4h-1.4zM130.6 657.6h1.4v1.4h-1.4zM122.6 678.3h1.4v1.4h-1.4zM128.8 649.3h1.4v1.4h-1.4zM132.0 666.7h1.4v1.4h-1.4zM127.2 664.9h1.4v1.4h-1.4zM130.1 678.8h1.4v1.4h-1.4zM133.6 685.1h1.4v1.4h-1.4zM129.3 693.1h1.4v1.4h-1.4zM131.7 655.3h1.4v1.4h-1.4zM137.3 661.8h1.4v1.4h-1.4zM138.9 686.2h1.4v1.4h-1.4zM132.7 674.8h1.4v1.4h-1.4zM121.4 664.8h1.4v1.4h-1.4zM117.2 640.5h1.4v1.4h-1.4zM127.3 652.1h1.4v1.4h-1.4zM136.0 686.9h1.4v1.4h-1.4zM126.5 642.6h1.4v1.4h-1.4zM130.2 663.3h1.4v1.4h-1.4zM140.1 652.8h1.4v1.4h-1.4zM140.1 652.1h1.4v1.4h-1.4zM125.8 637.5h1.4v1.4h-1.4zM119.0 658.6h1.4v1.4h-1.4zM119.5 682.2h1.4v1.4h-1.4zM123.7 684.0h1.4v1.4h-1.4zM129.3 676.7h1.4v1.4h-1.4zM134.4 667.7h1.4v1.4h-1.4zM126.1 675.8h1.4v1.4h-1.4zM129.4 681.3h1.4v1.4h-1.4zM132.7 686.8h1.4v1.4h-1.4zM139.1 656.3h1.4v1.4h-1.4zM121.8 672.0h1.4v1.4h-1.4zM126.0 674.6h1.4v1.4h-1.4zM132.1 671.7h1.4v1.4h-1.4zM118.9 657.8h1.4v1.4h-1.4zM132.3 659.9h1.4v1.4h-1.4zM116.7 653.1h1.4v1.4h-1.4zM123.5 634.0h1.4v1.4h-1.4zM133.6 666.7h1.4v1.4h-1.4zM145.5 676.3h1.4v1.4h-1.4zM135.3 664.5h1.4v1.4h-1.4zM134.7 675.1h1.4v1.4h-1.4zM127.9 680.5h1.4v1.4h-1.4zM121.0 677.0h1.4v1.4h-1.4zM132.4 671.2h1.4v1.4h-1.4zM118.8 655.6h1.4v1.4h-1.4zM116.4 650.5h1.4v1.4h-1.4zM123.2 677.1h1.4v1.4h-1.4zM138.5 658.2h1.4v1.4h-1.4zM123.0 677.9h1.4v1.4h-1.4zM126.0 672.2h1.4v1.4h-1.4zM131.7 663.7h1.4v1.4h-1.4zM139.4 658.0h1.4v1.4h-1.4zM124.7 650.3h1.4v1.4h-1.4zM124.6 666.9h1.4v1.4h-1.4zM131.3 686.5h1.4v1.4h-1.4zM127.8 664.5h1.4v1.4h-1.4zM125.7 667.1h1.4v1.4h-1.4zM133.1 665.0h1.4v1.4h-1.4zM132.0 632.6h1.4v1.4h-1.4zM139.8 673.3h1.4v1.4h-1.4zM121.1 638.6h1.4v1.4h-1.4zM134.8 642.0h1.4v1.4h-1.4zM129.7 674.4h1.4v1.4h-1.4zM135.3 657.9h1.4v1.4h-1.4zM127.6 687.2h1.4v1.4h-1.4zM131.3 685.9h1.4v1.4h-1.4zM129.7 650.5h1.4v1.4h-1.4zM138.7 652.5h1.4v1.4h-1.4zM124.0 644.4h1.4v1.4h-1.4zM124.7 634.5h1.4v1.4h-1.4zM127.5 668.9h1.4v1.4h-1.4zM120.8 664.0h1.4v1.4h-1.4zM118.8 664.7h1.4v1.4h-1.4zM119.5 640.8h1.4v1.4h-1.4zM134.9 644.8h1.4v1.4h-1.4zM137.8 687.5h1.4v1.4h-1.4zM126.9 632.6h1.4v1.4h-1.4zM122.2 640.5h1.4v1.4h-1.4zM139.7 664.4h1.4v1.4h-1.4zM124.0 650.1h1.4v1.4h-1.4zM135.3 643.0h1.4v1.4h-1.4zM118.7 649.6h1.4v1.4h-1.4zM121.7 654.8h1.4v1.4h-1.4zM123.6 648.5h1.4v1.4h-1.4zM127.2 633.9h1.4v1.4h-1.4zM136.5 663.3h1.4v1.4h-1.4zM119.7 672.5h1.4v1.4h-1.4zM139.4 652.5h1.4v1.4h-1.4zM125.5 650.5h1.4v1.4h-1.4zM130.6 642.3h1.4v1.4h-1.4zM119.8 662.7h1.4v1.4h-1.4zM131.2 653.7h1.4v1.4h-1.4zM144.2 661.2h1.4v1.4h-1.4zM132.1 652.3h1.4v1.4h-1.4zM132.4 671.2h1.4v1.4h-1.4zM123.7 643.1h1.4v1.4h-1.4zM129.5 676.6h1.4v1.4h-1.4zM127.0 629.1h1.4v1.4h-1.4zM137.4 654.0h1.4v1.4h-1.4zM130.4 633.0h1.4v1.4h-1.4zM127.8 648.2h1.4v1.4h-1.4zM130.4 690.4h1.4v1.4h-1.4zM132.3 673.5h1.4v1.4h-1.4zM124.5 640.2h1.4v1.4h-1.4zM118.0 636.1h1.4v1.4h-1.4zM127.1 673.4h1.4v1.4h-1.4zM133.8 690.3h1.4v1.4h-1.4zM136.9 676.3h1.4v1.4h-1.4zM125.6 664.0h1.4v1.4h-1.4zM127.8 674.4h1.4v1.4h-1.4zM118.6 643.3h1.4v1.4h-1.4zM139.1 657.1h1.4v1.4h-1.4zM140.0 665.9h1.4v1.4h-1.4zM131.7 660.5h1.4v1.4h-1.4zM125.1 683.7h1.4v1.4h-1.4zM118.9 656.6h1.4v1.4h-1.4zM122.7 685.0h1.4v1.4h-1.4zM130.0 661.4h1.4v1.4h-1.4zM128.0 667.2h1.4v1.4h-1.4zM136.4 666.5h1.4v1.4h-1.4zM121.6 650.8h1.4v1.4h-1.4zM127.3 637.0h1.4v1.4h-1.4zM133.5 656.0h1.4v1.4h-1.4zM123.2 671.8h1.4v1.4h-1.4zM136.3 676.6h1.4v1.4h-1.4zM132.7 648.2h1.4v1.4h-1.4zM137.8 646.9h1.4v1.4h-1.4zM132.3 677.7h1.4v1.4h-1.4zM127.9 669.2h1.4v1.4h-1.4zM135.8 660.0h1.4v1.4h-1.4zM120.0 683.9h1.4v1.4h-1.4zM119.6 671.0h1.4v1.4h-1.4zM129.8 686.3h1.4v1.4h-1.4zM140.7 661.8h1.4v1.4h-1.4zM139.9 681.9h1.4v1.4h-1.4zM120.4 650.8h1.4v1.4h-1.4zM120.4 647.6h1.4v1.4h-1.4zM123.2 629.9h1.4v1.4h-1.4zM130.7 638.4h1.4v1.4h-1.4zM120.5 681.1h1.4v1.4h-1.4zM120.7 661.7h1.4v1.4h-1.4zM141.7 665.4h1.4v1.4h-1.4zM141.8 674.2h1.4v1.4h-1.4zM137.5 665.6h1.4v1.4h-1.4zM116.3 675.4h1.4v1.4h-1.4zM129.3 678.9h1.4v1.4h-1.4zM135.4 640.4h1.4v1.4h-1.4zM138.0 649.2h1.4v1.4h-1.4zM129.0 646.9h1.4v1.4h-1.4zM129.1 632.6h1.4v1.4h-1.4zM126.9 678.6h1.4v1.4h-1.4zM140.9 670.4h1.4v1.4h-1.4zM134.2 654.1h1.4v1.4h-1.4zM129.0 660.7h1.4v1.4h-1.4zM135.9 650.5h1.4v1.4h-1.4zM127.6 660.0h1.4v1.4h-1.4zM123.9 649.0h1.4v1.4h-1.4zM129.7 654.2h1.4v1.4h-1.4zM124.4 663.5h1.4v1.4h-1.4zM119.0 657.5h1.4v1.4h-1.4zM127.4 668.4h1.4v1.4h-1.4zM126.6 625.6h1.4v1.4h-1.4zM128.9 631.5h1.4v1.4h-1.4zM131.8 639.3h1.4v1.4h-1.4zM123.0 639.9h1.4v1.4h-1.4zM125.3 663.6h1.4v1.4h-1.4zM132.5 673.5h1.4v1.4h-1.4zM127.4 689.3h1.4v1.4h-1.4zM138.3 662.0h1.4v1.4h-1.4zM132.4 662.7h1.4v1.4h-1.4zM128.0 690.1h1.4v1.4h-1.4zM122.5 661.3h1.4v1.4h-1.4zM128.3 674.9h1.4v1.4h-1.4zM123.2 656.3h1.4v1.4h-1.4zM129.8 671.9h1.4v1.4h-1.4zM126.1 680.3h1.4v1.4h-1.4zM120.7 645.4h1.4v1.4h-1.4zM128.1 689.1h1.4v1.4h-1.4zM126.5 683.4h1.4v1.4h-1.4zM126.3 649.6h1.4v1.4h-1.4zM133.0 648.8h1.4v1.4h-1.4zM126.1 684.0h1.4v1.4h-1.4zM124.0 639.1h1.4v1.4h-1.4zM140.7 671.6h1.4v1.4h-1.4zM127.3 685.2h1.4v1.4h-1.4zM121.5 682.4h1.4v1.4h-1.4zM133.1 688.4h1.4v1.4h-1.4zM136.4 653.6h1.4v1.4h-1.4zM139.1 676.3h1.4v1.4h-1.4zM138.6 657.0h1.4v1.4h-1.4zM129.7 659.8h1.4v1.4h-1.4zM130.1 657.1h1.4v1.4h-1.4zM131.7 642.0h1.4v1.4h-1.4zM140.6 679.0h1.4v1.4h-1.4zM125.9 647.7h1.4v1.4h-1.4zM119.5 648.0h1.4v1.4h-1.4zM133.2 679.0h1.4v1.4h-1.4zM116.9 677.1h1.4v1.4h-1.4zM120.3 655.0h1.4v1.4h-1.4zM134.3 671.0h1.4v1.4h-1.4zM140.4 656.4h1.4v1.4h-1.4zM133.3 666.9h1.4v1.4h-1.4zM137.0 648.3h1.4v1.4h-1.4zM126.7 633.1h1.4v1.4h-1.4zM125.8 635.1h1.4v1.4h-1.4zM123.0 635.1h1.4v1.4h-1.4zM127.0 652.9h1.4v1.4h-1.4zM140.2 669.2h1.4v1.4h-1.4zM125.7 645.7h1.4v1.4h-1.4zM137.6 676.9h1.4v1.4h-1.4zM127.9 642.1h1.4v1.4h-1.4zM125.2 652.2h1.4v1.4h-1.4zM122.3 637.2h1.4v1.4h-1.4zM121.3 638.6h1.4v1.4h-1.4zM123.1 665.6h1.4v1.4h-1.4zM135.0 658.8h1.4v1.4h-1.4zM117.9 657.0h1.4v1.4h-1.4zM128.4 655.9h1.4v1.4h-1.4zM128.0 632.4h1.4v1.4h-1.4zM126.6 638.0h1.4v1.4h-1.4zM132.3 665.5h1.4v1.4h-1.4zM126.9 684.9h1.4v1.4h-1.4zM120.1 643.4h1.4v1.4h-1.4zM120.2 685.3h1.4v1.4h-1.4zM125.7 666.9h1.4v1.4h-1.4zM121.4 634.0h1.4v1.4h-1.4zM124.9 683.5h1.4v1.4h-1.4zM123.1 650.9h1.4v1.4h-1.4zM137.2 676.2h1.4v1.4h-1.4zM133.9 644.1h1.4v1.4h-1.4zM117.8 661.5h1.4v1.4h-1.4zM137.8 671.5h1.4v1.4h-1.4zM142.7 674.4h1.4v1.4h-1.4zM127.5 654.6h1.4v1.4h-1.4zM123.1 676.8h1.4v1.4h-1.4zM137.3 652.4h1.4v1.4h-1.4zM138.7 666.3h1.4v1.4h-1.4zM129.7 659.8h1.4v1.4h-1.4zM131.5 673.6h1.4v1.4h-1.4zM120.1 668.2h1.4v1.4h-1.4zM125.3 675.4h1.4v1.4h-1.4zM128.6 664.0h1.4v1.4h-1.4zM142.2 674.4h1.4v1.4h-1.4zM132.3 675.2h1.4v1.4h-1.4zM122.2 649.7h1.4v1.4h-1.4zM127.8 636.6h1.4v1.4h-1.4zM123.3 684.0h1.4v1.4h-1.4zM127.8 677.9h1.4v1.4h-1.4zM132.8 669.4h1.4v1.4h-1.4zM122.1 633.7h1.4v1.4h-1.4zM116.0 657.9h1.4v1.4h-1.4zM139.8 662.6h1.4v1.4h-1.4zM132.0 645.3h1.4v1.4h-1.4zM130.2 680.0h1.4v1.4h-1.4zM126.7 651.7h1.4v1.4h-1.4zM137.2 677.7h1.4v1.4h-1.4zM140.6 671.1h1.4v1.4h-1.4zM138.0 681.5h1.4v1.4h-1.4zM117.8 643.7h1.4v1.4h-1.4zM120.6 657.1h1.4v1.4h-1.4zM124.8 681.9h1.4v1.4h-1.4zM128.9 679.9h1.4v1.4h-1.4zM130.7 640.6h1.4v1.4h-1.4zM121.2 639.0h1.4v1.4h-1.4zM124.5 634.8h1.4v1.4h-1.4zM126.3 676.5h1.4v1.4h-1.4zM134.2 675.8h1.4v1.4h-1.4zM130.6 667.7h1.4v1.4h-1.4zM125.5 675.0h1.4v1.4h-1.4zM134.7 660.8h1.4v1.4h-1.4zM125.1 629.5h1.4v1.4h-1.4zM122.6 679.0h1.4v1.4h-1.4zM119.6 637.6h1.4v1.4h-1.4zM119.4 649.7h1.4v1.4h-1.4zM125.8 655.2h1.4v1.4h-1.4zM135.3 658.7h1.4v1.4h-1.4zM130.1 667.6h1.4v1.4h-1.4zM118.2 668.9h1.4v1.4h-1.4zM129.6 645.7h1.4v1.4h-1.4zM118.9 672.8h1.4v1.4h-1.4zM121.2 663.8h1.4v1.4h-1.4zM132.8 684.1h1.4v1.4h-1.4zM121.5 632.5h1.4v1.4h-1.4zM131.5 662.8h1.4v1.4h-1.4zM125.6 671.8h1.4v1.4h-1.4zM131.8 681.5h1.4v1.4h-1.4zM125.2 636.2h1.4v1.4h-1.4zM129.5 638.5h1.4v1.4h-1.4zM132.2 633.2h1.4v1.4h-1.4zM132.7 651.5h1.4v1.4h-1.4zM131.4 636.1h1.4v1.4h-1.4zM130.4 648.8h1.4v1.4h-1.4zM123.3 661.8h1.4v1.4h-1.4zM128.3 654.6h1.4v1.4h-1.4zM135.7 685.0h1.4v1.4h-1.4zM137.3 684.7h1.4v1.4h-1.4zM131.9 646.9h1.4v1.4h-1.4zM123.3 638.4h1.4v1.4h-1.4zM123.3 671.9h1.4v1.4h-1.4zM129.7 648.3h1.4v1.4h-1.4zM128.9 636.2h1.4v1.4h-1.4zM135.7 659.3h1.4v1.4h-1.4zM136.7 661.5h1.4v1.4h-1.4zM119.2 652.3h1.4v1.4h-1.4zM126.8 647.7h1.4v1.4h-1.4zM134.5 661.8h1.4v1.4h-1.4zM135.7 650.3h1.4v1.4h-1.4zM117.1 663.6h1.4v1.4h-1.4zM129.5 643.5h1.4v1.4h-1.4zM120.5 632.1h1.4v1.4h-1.4zM120.9 642.1h1.4v1.4h-1.4zM119.6 671.8h1.4v1.4h-1.4zM124.1 656.8h1.4v1.4h-1.4zM122.9 653.4h1.4v1.4h-1.4zM133.5 688.3h1.4v1.4h-1.4zM138.6 660.8h1.4v1.4h-1.4zM120.0 669.6h1.4v1.4h-1.4zM124.3 668.8h1.4v1.4h-1.4zM140.8 672.6h1.4v1.4h-1.4zM127.0 631.7h1.4v1.4h-1.4zM128.4 654.1h1.4v1.4h-1.4zM126.7 681.8h1.4v1.4h-1.4zM126.4 674.9h1.4v1.4h-1.4zM129.1 651.1h1.4v1.4h-1.4zM126.3 689.0h1.4v1.4h-1.4zM130.9 688.8h1.4v1.4h-1.4zM126.8 657.9h1.4v1.4h-1.4zM132.5 688.9h1.4v1.4h-1.4zM120.9 664.0h1.4v1.4h-1.4zM136.2 675.9h1.4v1.4h-1.4zM129.3 657.5h1.4v1.4h-1.4zM129.7 650.0h1.4v1.4h-1.4zM131.7 640.9h1.4v1.4h-1.4zM123.4 661.5h1.4v1.4h-1.4zM122.5 643.3h1.4v1.4h-1.4zM119.1 678.7h1.4v1.4h-1.4zM134.1 648.8h1.4v1.4h-1.4zM135.4 684.6h1.4v1.4h-1.4zM125.8 688.2h1.4v1.4h-1.4zM124.9 652.5h1.4v1.4h-1.4zM118.6 632.4h1.4v1.4h-1.4zM130.4 637.2h1.4v1.4h-1.4zM121.5 631.4h1.4v1.4h-1.4zM122.4 635.4h1.4v1.4h-1.4zM122.7 656.3h1.4v1.4h-1.4zM138.1 669.4h1.4v1.4h-1.4zM136.8 652.6h1.4v1.4h-1.4zM129.2 656.4h1.4v1.4h-1.4zM120.0 658.3h1.4v1.4h-1.4zM132.9 641.3h1.4v1.4h-1.4zM121.9 675.9h1.4v1.4h-1.4zM141.0 667.8h1.4v1.4h-1.4zM119.6 668.5h1.4v1.4h-1.4zM126.2 654.8h1.4v1.4h-1.4zM127.2 652.5h1.4v1.4h-1.4zM120.6 648.0h1.4v1.4h-1.4zM126.2 669.6h1.4v1.4h-1.4zM122.8 642.3h1.4v1.4h-1.4zM116.3 656.5h1.4v1.4h-1.4zM141.3 669.7h1.4v1.4h-1.4zM120.2 645.1h1.4v1.4h-1.4zM134.0 644.8h1.4v1.4h-1.4zM138.3 679.7h1.4v1.4h-1.4zM138.1 682.9h1.4v1.4h-1.4zM134.9 684.2h1.4v1.4h-1.4zM117.0 651.3h1.4v1.4h-1.4zM129.4 643.2h1.4v1.4h-1.4zM128.2 672.3h1.4v1.4h-1.4zM135.5 648.1h1.4v1.4h-1.4zM122.0 647.4h1.4v1.4h-1.4zM132.1 673.6h1.4v1.4h-1.4zM135.2 670.0h1.4v1.4h-1.4zM133.5 684.5h1.4v1.4h-1.4zM131.0 665.3h1.4v1.4h-1.4zM119.3 630.6h1.4v1.4h-1.4zM131.6 678.4h1.4v1.4h-1.4zM132.4 677.6h1.4v1.4h-1.4zM131.1 646.2h1.4v1.4h-1.4zM124.0 643.6h1.4v1.4h-1.4zM127.8 643.4h1.4v1.4h-1.4zM127.8 640.1h1.4v1.4h-1.4zM131.4 671.6h1.4v1.4h-1.4zM130.1 665.5h1.4v1.4h-1.4zM125.9 664.1h1.4v1.4h-1.4zM133.3 642.7h1.4v1.4h-1.4zM130.2 659.6h1.4v1.4h-1.4zM132.6 668.6h1.4v1.4h-1.4zM125.0 685.9h1.4v1.4h-1.4zM130.5 666.1h1.4v1.4h-1.4zM133.7 686.5h1.4v1.4h-1.4zM133.6 660.3h1.4v1.4h-1.4zM137.4 651.5h1.4v1.4h-1.4zM130.9 648.6h1.4v1.4h-1.4zM128.4 677.6h1.4v1.4h-1.4zM133.7 646.1h1.4v1.4h-1.4zM125.6 690.3h1.4v1.4h-1.4zM121.4 658.9h1.4v1.4h-1.4zM129.0 662.7h1.4v1.4h-1.4zM131.1 677.8h1.4v1.4h-1.4zM129.5 636.8h1.4v1.4h-1.4zM125.8 655.8h1.4v1.4h-1.4zM122.6 667.1h1.4v1.4h-1.4zM131.3 672.7h1.4v1.4h-1.4zM120.8 665.3h1.4v1.4h-1.4zM126.6 654.2h1.4v1.4h-1.4zM126.4 652.8h1.4v1.4h-1.4zM124.1 665.7h1.4v1.4h-1.4zM133.0 659.1h1.4v1.4h-1.4zM131.8 663.8h1.4v1.4h-1.4zM133.8 651.7h1.4v1.4h-1.4zM136.5 676.8h1.4v1.4h-1.4zM135.6 663.7h1.4v1.4h-1.4zM122.6 682.6h1.4v1.4h-1.4zM115.5 654.8h1.4v1.4h-1.4zM135.8 689.0h1.4v1.4h-1.4zM133.3 646.4h1.4v1.4h-1.4zM138.7 661.0h1.4v1.4h-1.4zM144.8 665.7h1.4v1.4h-1.4zM114.5 668.4h1.4v1.4h-1.4zM136.3 680.7h1.4v1.4h-1.4zM136.4 664.1h1.4v1.4h-1.4zM141.9 654.3h1.4v1.4h-1.4zM117.0 641.1h1.4v1.4h-1.4zM130.6 690.8h1.4v1.4h-1.4zM141.5 672.8h1.4v1.4h-1.4zM140.1 648.7h1.4v1.4h-1.4zM124.7 653.3h1.4v1.4h-1.4zM123.6 661.9h1.4v1.4h-1.4zM130.3 652.4h1.4v1.4h-1.4zM128.3 658.6h1.4v1.4h-1.4zM140.4 679.5h1.4v1.4h-1.4zM130.8 633.3h1.4v1.4h-1.4zM140.0 666.1h1.4v1.4h-1.4zM136.3 663.6h1.4v1.4h-1.4zM135.1 661.1h1.4v1.4h-1.4zM139.1 657.3h1.4v1.4h-1.4zM136.6 668.4h1.4v1.4h-1.4zM128.0 654.6h1.4v1.4h-1.4zM124.1 658.5h1.4v1.4h-1.4zM132.0 657.7h1.4v1.4h-1.4zM133.4 638.6h1.4v1.4h-1.4zM124.5 679.6h1.4v1.4h-1.4zM139.5 654.8h1.4v1.4h-1.4zM132.5 660.8h1.4v1.4h-1.4zM130.0 637.1h1.4v1.4h-1.4zM122.4 634.3h1.4v1.4h-1.4zM130.5 662.9h1.4v1.4h-1.4zM129.8 688.4h1.4v1.4h-1.4zM139.9 678.3h1.4v1.4h-1.4zM119.3 652.3h1.4v1.4h-1.4zM133.7 673.0h1.4v1.4h-1.4zM131.0 672.7h1.4v1.4h-1.4zM127.9 654.4h1.4v1.4h-1.4zM133.8 671.5h1.4v1.4h-1.4zM129.7 657.3h1.4v1.4h-1.4zM123.8 681.6h1.4v1.4h-1.4zM124.0 638.8h1.4v1.4h-1.4zM127.3 629.2h1.4v1.4h-1.4zM136.1 678.5h1.4v1.4h-1.4zM133.4 687.6h1.4v1.4h-1.4zM130.2 639.9h1.4v1.4h-1.4zM137.6 665.0h1.4v1.4h-1.4zM136.0 652.7h1.4v1.4h-1.4zM116.8 651.3h1.4v1.4h-1.4zM121.1 655.7h1.4v1.4h-1.4zM120.0 672.1h1.4v1.4h-1.4zM124.1 669.4h1.4v1.4h-1.4zM119.6 676.1h1.4v1.4h-1.4zM125.8 673.6h1.4v1.4h-1.4zM119.6 676.2h1.4v1.4h-1.4zM128.1 643.3h1.4v1.4h-1.4zM131.2 648.9h1.4v1.4h-1.4zM137.5 661.2h1.4v1.4h-1.4zM141.5 676.5h1.4v1.4h-1.4zM132.9 663.0h1.4v1.4h-1.4zM133.3 659.1h1.4v1.4h-1.4zM124.2 681.4h1.4v1.4h-1.4zM128.9 668.6h1.4v1.4h-1.4zM127.8 641.9h1.4v1.4h-1.4zM138.1 678.3h1.4v1.4h-1.4zM126.6 676.8h1.4v1.4h-1.4zM121.9 675.2h1.4v1.4h-1.4zM122.2 681.2h1.4v1.4h-1.4zM120.9 682.5h1.4v1.4h-1.4zM125.8 678.4h1.4v1.4h-1.4zM130.8 667.3h1.4v1.4h-1.4zM142.2 661.1h1.4v1.4h-1.4zM122.3 628.5h1.4v1.4h-1.4zM125.8 641.6h1.4v1.4h-1.4zM126.8 628.6h1.4v1.4h-1.4zM125.7 658.0h1.4v1.4h-1.4zM123.5 660.7h1.4v1.4h-1.4zM132.7 675.5h1.4v1.4h-1.4zM126.5 633.8h1.4v1.4h-1.4zM121.0 628.9h1.4v1.4h-1.4zM133.6 688.0h1.4v1.4h-1.4zM121.9 669.4h1.4v1.4h-1.4zM124.4 639.4h1.4v1.4h-1.4zM120.9 655.1h1.4v1.4h-1.4zM132.4 674.7h1.4v1.4h-1.4zM126.0 677.4h1.4v1.4h-1.4zM129.2 677.9h1.4v1.4h-1.4zM135.6 659.9h1.4v1.4h-1.4zM131.2 656.2h1.4v1.4h-1.4zM121.4 662.9h1.4v1.4h-1.4zM136.4 648.3h1.4v1.4h-1.4zM119.9 663.2h1.4v1.4h-1.4zM136.4 687.4h1.4v1.4h-1.4zM118.9 675.7h1.4v1.4h-1.4zM127.2 627.8h1.4v1.4h-1.4zM138.7 662.4h1.4v1.4h-1.4zM123.6 636.3h1.4v1.4h-1.4zM125.6 656.2h1.4v1.4h-1.4zM136.6 670.5h1.4v1.4h-1.4zM116.1 667.3h1.4v1.4h-1.4zM139.6 652.3h1.4v1.4h-1.4zM130.5 641.7h1.4v1.4h-1.4zM119.5 673.7h1.4v1.4h-1.4zM121.1 653.9h1.4v1.4h-1.4zM124.2 646.3h1.4v1.4h-1.4zM126.0 685.8h1.4v1.4h-1.4zM128.0 651.8h1.4v1.4h-1.4zM141.0 648.7h1.4v1.4h-1.4zM132.2 659.3h1.4v1.4h-1.4zM122.7 677.3h1.4v1.4h-1.4zM132.5 684.6h1.4v1.4h-1.4zM129.6 641.4h1.4v1.4h-1.4zM118.0 661.6h1.4v1.4h-1.4zM122.4 687.6h1.4v1.4h-1.4zM127.0 689.7h1.4v1.4h-1.4zM130.2 668.1h1.4v1.4h-1.4zM121.7 641.7h1.4v1.4h-1.4zM139.3 655.8h1.4v1.4h-1.4zM138.7 666.7h1.4v1.4h-1.4zM123.4 650.4h1.4v1.4h-1.4zM126.1 631.0h1.4v1.4h-1.4zM124.7 685.6h1.4v1.4h-1.4zM137.0 682.8h1.4v1.4h-1.4zM133.4 658.2h1.4v1.4h-1.4zM129.5 652.5h1.4v1.4h-1.4zM131.5 674.5h1.4v1.4h-1.4zM133.1 663.0h1.4v1.4h-1.4zM134.0 671.8h1.4v1.4h-1.4zM126.6 628.9h1.4v1.4h-1.4zM118.7 632.1h1.4v1.4h-1.4zM132.4 690.0h1.4v1.4h-1.4zM143.9 673.3h1.4v1.4h-1.4zM127.3 636.0h1.4v1.4h-1.4zM141.4 666.4h1.4v1.4h-1.4zM132.9 662.4h1.4v1.4h-1.4zM131.5 647.3h1.4v1.4h-1.4zM133.7 638.9h1.4v1.4h-1.4zM131.6 678.5h1.4v1.4h-1.4zM132.0 689.9h1.4v1.4h-1.4zM125.1 651.8h1.4v1.4h-1.4zM122.6 668.5h1.4v1.4h-1.4zM123.5 672.5h1.4v1.4h-1.4zM130.8 645.0h1.4v1.4h-1.4zM135.5 642.1h1.4v1.4h-1.4zM129.3 677.5h1.4v1.4h-1.4zM131.6 669.6h1.4v1.4h-1.4zM122.6 683.1h1.4v1.4h-1.4zM123.0 639.0h1.4v1.4h-1.4zM122.1 650.5h1.4v1.4h-1.4zM118.7 649.0h1.4v1.4h-1.4zM141.9 655.7h1.4v1.4h-1.4zM123.2 742.1h1.4v1.4h-1.4zM135.2 712.1h1.4v1.4h-1.4zM128.4 710.2h1.4v1.4h-1.4zM139.7 703.5h1.4v1.4h-1.4zM154.3 662.4h1.4v1.4h-1.4zM164.2 660.6h1.4v1.4h-1.4zM159.5 667.9h1.4v1.4h-1.4zM295.2 658.0h1.5v1.5h-1.5zM301.7 673.2h1.5v1.5h-1.5zM291.7 668.5h1.5v1.5h-1.5zM291.9 634.1h1.5v1.5h-1.5zM286.8 673.7h1.5v1.5h-1.5zM298.8 644.8h1.5v1.5h-1.5zM286.7 662.3h1.5v1.5h-1.5zM283.1 665.9h1.5v1.5h-1.5zM280.7 664.9h1.5v1.5h-1.5zM302.8 652.1h1.5v1.5h-1.5zM284.1 633.2h1.5v1.5h-1.5zM293.0 659.9h1.5v1.5h-1.5zM297.9 674.3h1.5v1.5h-1.5zM291.1 657.6h1.5v1.5h-1.5zM295.8 634.9h1.5v1.5h-1.5zM284.2 634.2h1.5v1.5h-1.5zM286.6 665.0h1.5v1.5h-1.5zM286.2 634.3h1.5v1.5h-1.5zM281.6 662.6h1.5v1.5h-1.5zM296.4 643.1h1.5v1.5h-1.5zM279.4 647.1h1.5v1.5h-1.5zM283.1 643.3h1.5v1.5h-1.5zM280.9 638.1h1.5v1.5h-1.5zM287.9 633.5h1.5v1.5h-1.5zM286.6 668.4h1.5v1.5h-1.5zM293.6 667.5h1.5v1.5h-1.5zM281.6 661.1h1.5v1.5h-1.5zM292.0 658.6h1.5v1.5h-1.5zM286.1 642.1h1.5v1.5h-1.5zM280.3 659.0h1.5v1.5h-1.5zM297.1 646.0h1.5v1.5h-1.5zM292.5 648.7h1.5v1.5h-1.5zM299.7 645.9h1.5v1.5h-1.5zM295.8 659.2h1.5v1.5h-1.5zM284.2 670.6h1.5v1.5h-1.5zM297.8 658.8h1.5v1.5h-1.5zM287.5 670.9h1.5v1.5h-1.5zM288.4 661.7h1.5v1.5h-1.5zM286.1 660.8h1.5v1.5h-1.5zM288.6 663.9h1.5v1.5h-1.5zM283.2 663.5h1.5v1.5h-1.5zM295.6 668.4h1.5v1.5h-1.5zM280.6 649.6h1.5v1.5h-1.5zM285.9 632.3h1.5v1.5h-1.5zM293.4 637.2h1.5v1.5h-1.5zM289.0 636.9h1.5v1.5h-1.5zM276.8 647.3h1.5v1.5h-1.5zM284.5 644.7h1.5v1.5h-1.5zM297.5 660.6h1.5v1.5h-1.5zM301.9 673.8h1.5v1.5h-1.5zM294.6 674.0h1.5v1.5h-1.5zM276.8 640.6h1.5v1.5h-1.5zM301.7 665.0h1.5v1.5h-1.5zM300.3 639.0h1.5v1.5h-1.5zM285.6 646.5h1.5v1.5h-1.5zM296.5 645.2h1.5v1.5h-1.5zM281.0 663.5h1.5v1.5h-1.5zM299.5 661.1h1.5v1.5h-1.5zM297.8 656.3h1.5v1.5h-1.5zM293.4 668.3h1.5v1.5h-1.5zM289.4 675.4h1.5v1.5h-1.5zM295.1 637.6h1.5v1.5h-1.5zM292.7 656.6h1.5v1.5h-1.5zM279.2 634.5h1.5v1.5h-1.5zM276.7 669.1h1.5v1.5h-1.5zM290.1 675.8h1.5v1.5h-1.5zM292.8 665.0h1.5v1.5h-1.5zM280.9 670.6h1.5v1.5h-1.5zM289.5 673.3h1.5v1.5h-1.5zM284.4 640.1h1.5v1.5h-1.5zM278.9 644.8h1.5v1.5h-1.5zM298.1 673.7h1.5v1.5h-1.5zM292.8 637.9h1.5v1.5h-1.5zM295.7 662.6h1.5v1.5h-1.5zM299.9 657.2h1.5v1.5h-1.5zM283.2 670.4h1.5v1.5h-1.5zM299.9 641.3h1.5v1.5h-1.5zM288.9 640.8h1.5v1.5h-1.5zM282.1 650.7h1.5v1.5h-1.5zM295.7 645.4h1.5v1.5h-1.5zM285.2 643.3h1.5v1.5h-1.5zM299.5 665.1h1.5v1.5h-1.5zM290.2 662.0h1.5v1.5h-1.5zM296.4 662.1h1.5v1.5h-1.5z" fill="#F07A78"/><path d="M160.4 658.9h1.4v1.4h-1.4zM170.6 649.4h1.4v1.4h-1.4zM159.0 649.2h1.4v1.4h-1.4zM159.5 649.6h1.4v1.4h-1.4zM166.2 662.8h1.4v1.4h-1.4zM174.7 645.2h1.4v1.4h-1.4zM159.2 660.0h1.4v1.4h-1.4zM152.5 655.1h1.4v1.4h-1.4zM156.4 658.4h1.4v1.4h-1.4zM175.1 654.8h1.4v1.4h-1.4zM164.2 662.7h1.4v1.4h-1.4zM154.0 653.2h1.4v1.4h-1.4zM161.6 666.5h1.4v1.4h-1.4zM176.5 651.8h1.4v1.4h-1.4zM168.3 652.3h1.4v1.4h-1.4zM171.6 653.9h1.4v1.4h-1.4zM158.7 658.8h1.4v1.4h-1.4zM173.3 650.0h1.4v1.4h-1.4zM164.6 659.2h1.4v1.4h-1.4zM163.9 658.2h1.4v1.4h-1.4zM158.0 661.1h1.4v1.4h-1.4zM157.5 662.8h1.4v1.4h-1.4zM158.8 651.7h1.4v1.4h-1.4zM162.0 651.7h1.4v1.4h-1.4zM166.7 647.8h1.4v1.4h-1.4zM178.3 655.4h1.4v1.4h-1.4zM177.1 654.1h1.4v1.4h-1.4zM172.5 645.8h1.4v1.4h-1.4zM155.9 666.9h1.4v1.4h-1.4zM167.3 661.9h1.4v1.4h-1.4zM155.3 657.0h1.4v1.4h-1.4zM172.2 643.2h1.4v1.4h-1.4zM176.8 651.2h1.4v1.4h-1.4zM155.4 660.2h1.4v1.4h-1.4zM172.7 651.6h1.4v1.4h-1.4zM157.0 661.3h1.4v1.4h-1.4zM172.9 644.7h1.4v1.4h-1.4zM166.2 662.9h1.4v1.4h-1.4zM160.0 661.5h1.4v1.4h-1.4zM171.3 647.7h1.4v1.4h-1.4zM154.7 666.1h1.4v1.4h-1.4zM176.4 652.3h1.4v1.4h-1.4zM171.7 650.8h1.4v1.4h-1.4zM166.3 657.3h1.4v1.4h-1.4zM163.4 661.4h1.4v1.4h-1.4zM168.0 651.8h1.4v1.4h-1.4zM170.1 646.2h1.4v1.4h-1.4zM165.8 649.2h1.4v1.4h-1.4zM169.9 651.0h1.4v1.4h-1.4zM168.6 653.8h1.4v1.4h-1.4zM174.1 654.8h1.4v1.4h-1.4zM171.3 645.1h1.4v1.4h-1.4zM161.8 663.6h1.4v1.4h-1.4zM171.7 656.4h1.4v1.4h-1.4zM173.1 642.7h1.4v1.4h-1.4zM167.4 653.3h1.4v1.4h-1.4zM163.2 651.0h1.4v1.4h-1.4zM171.7 645.4h1.4v1.4h-1.4zM160.4 652.4h1.4v1.4h-1.4zM164.3 656.3h1.4v1.4h-1.4zM168.3 656.9h1.4v1.4h-1.4zM158.5 665.5h1.4v1.4h-1.4zM166.0 643.9h1.4v1.4h-1.4zM164.8 660.1h1.4v1.4h-1.4zM165.9 649.9h1.4v1.4h-1.4zM155.4 663.9h1.4v1.4h-1.4zM160.1 652.8h1.4v1.4h-1.4zM174.8 647.8h1.4v1.4h-1.4zM156.8 667.5h1.4v1.4h-1.4zM161.7 660.5h1.4v1.4h-1.4zM170.2 655.4h1.4v1.4h-1.4zM176.8 642.5h1.4v1.4h-1.4zM174.5 651.3h1.4v1.4h-1.4zM177.4 644.8h1.4v1.4h-1.4zM169.2 650.4h1.4v1.4h-1.4zM170.6 652.7h1.4v1.4h-1.4zM158.0 656.8h1.4v1.4h-1.4zM160.1 656.7h1.4v1.4h-1.4zM161.3 663.0h1.4v1.4h-1.4zM155.7 670.7h1.4v1.4h-1.4zM161.4 655.7h1.4v1.4h-1.4zM160.7 652.8h1.4v1.4h-1.4zM167.6 650.7h1.4v1.4h-1.4zM166.9 652.2h1.4v1.4h-1.4zM177.0 643.8h1.4v1.4h-1.4zM158.1 653.9h1.4v1.4h-1.4zM158.7 669.0h1.4v1.4h-1.4zM153.7 652.8h1.4v1.4h-1.4zM171.8 656.1h1.4v1.4h-1.4zM158.6 661.0h1.4v1.4h-1.4zM156.7 662.7h1.4v1.4h-1.4zM173.5 641.6h1.4v1.4h-1.4zM162.9 664.6h1.4v1.4h-1.4zM159.0 652.7h1.4v1.4h-1.4zM174.8 647.5h1.4v1.4h-1.4zM171.7 650.5h1.4v1.4h-1.4zM161.7 656.9h1.4v1.4h-1.4zM157.3 654.5h1.4v1.4h-1.4zM154.3 659.2h1.4v1.4h-1.4zM176.0 642.9h1.4v1.4h-1.4zM157.0 668.9h1.4v1.4h-1.4zM169.3 657.2h1.4v1.4h-1.4zM162.8 668.0h1.4v1.4h-1.4zM167.2 658.5h1.4v1.4h-1.4zM161.9 660.1h1.4v1.4h-1.4zM166.9 657.9h1.4v1.4h-1.4zM172.1 658.5h1.4v1.4h-1.4zM167.6 647.9h1.4v1.4h-1.4zM167.0 648.0h1.4v1.4h-1.4zM158.4 663.5h1.4v1.4h-1.4zM159.4 666.6h1.4v1.4h-1.4zM158.5 660.8h1.4v1.4h-1.4zM170.8 645.9h1.4v1.4h-1.4zM162.7 664.9h1.4v1.4h-1.4zM163.2 655.5h1.4v1.4h-1.4zM170.8 646.7h1.4v1.4h-1.4zM171.1 650.1h1.4v1.4h-1.4zM159.7 667.9h1.4v1.4h-1.4zM156.9 650.7h1.4v1.4h-1.4zM163.9 655.2h1.4v1.4h-1.4zM154.7 665.8h1.4v1.4h-1.4zM157.4 656.1h1.4v1.4h-1.4zM158.4 653.1h1.4v1.4h-1.4zM169.2 655.5h1.4v1.4h-1.4zM158.9 662.9h1.4v1.4h-1.4zM170.7 643.5h1.4v1.4h-1.4zM154.8 654.0h1.4v1.4h-1.4zM158.3 666.1h1.4v1.4h-1.4zM156.4 660.7h1.4v1.4h-1.4zM166.7 655.0h1.4v1.4h-1.4zM172.6 645.1h1.4v1.4h-1.4zM160.5 653.7h1.4v1.4h-1.4zM180.4 648.1h1.4v1.4h-1.4zM174.0 650.6h1.4v1.4h-1.4zM163.3 650.4h1.4v1.4h-1.4zM163.0 665.5h1.4v1.4h-1.4zM161.1 655.3h1.4v1.4h-1.4zM171.3 653.1h1.4v1.4h-1.4zM168.5 645.7h1.4v1.4h-1.4zM168.1 650.1h1.4v1.4h-1.4zM168.3 657.1h1.4v1.4h-1.4zM176.8 644.4h1.4v1.4h-1.4zM169.4 645.6h1.4v1.4h-1.4zM160.9 658.2h1.4v1.4h-1.4zM179.8 651.1h1.4v1.4h-1.4zM164.4 650.3h1.4v1.4h-1.4zM169.5 643.2h1.4v1.4h-1.4zM155.8 661.5h1.4v1.4h-1.4zM161.8 665.0h1.4v1.4h-1.4zM167.0 658.9h1.4v1.4h-1.4zM160.2 648.7h1.4v1.4h-1.4zM165.0 649.8h1.4v1.4h-1.4zM153.3 665.1h1.4v1.4h-1.4zM157.3 652.7h1.4v1.4h-1.4zM161.2 657.8h1.4v1.4h-1.4zM174.4 645.3h1.4v1.4h-1.4zM161.0 663.1h1.4v1.4h-1.4zM172.0 648.0h1.4v1.4h-1.4zM167.9 655.0h1.4v1.4h-1.4zM160.9 653.0h1.4v1.4h-1.4zM171.0 656.7h1.4v1.4h-1.4zM156.0 668.3h1.4v1.4h-1.4zM170.6 642.9h1.4v1.4h-1.4zM159.2 663.9h1.4v1.4h-1.4zM160.1 664.2h1.4v1.4h-1.4zM173.6 641.7h1.4v1.4h-1.4zM153.6 654.9h1.4v1.4h-1.4zM157.2 666.8h1.4v1.4h-1.4zM162.3 661.2h1.4v1.4h-1.4zM168.2 650.7h1.4v1.4h-1.4zM162.6 661.3h1.4v1.4h-1.4zM170.1 650.3h1.4v1.4h-1.4zM155.9 658.9h1.4v1.4h-1.4zM177.7 652.9h1.4v1.4h-1.4zM153.3 662.8h1.4v1.4h-1.4zM171.0 657.3h1.4v1.4h-1.4zM165.6 657.8h1.4v1.4h-1.4zM164.9 654.2h1.4v1.4h-1.4zM158.7 650.8h1.4v1.4h-1.4zM158.9 657.7h1.4v1.4h-1.4zM154.8 652.8h1.4v1.4h-1.4zM175.6 652.6h1.4v1.4h-1.4zM156.5 651.4h1.4v1.4h-1.4zM166.7 643.8h1.4v1.4h-1.4zM170.7 645.9h1.4v1.4h-1.4zM173.8 645.7h1.4v1.4h-1.4zM154.9 650.9h1.4v1.4h-1.4zM165.1 661.1h1.4v1.4h-1.4zM170.5 645.5h1.4v1.4h-1.4zM170.8 650.0h1.4v1.4h-1.4zM163.1 663.1h1.4v1.4h-1.4zM159.5 666.5h1.4v1.4h-1.4zM162.5 661.9h1.4v1.4h-1.4zM155.3 653.0h1.4v1.4h-1.4zM155.2 653.7h1.4v1.4h-1.4zM163.9 658.5h1.4v1.4h-1.4zM318.5 662.4h1.4v1.4h-1.4zM316.3 655.2h1.4v1.4h-1.4zM325.4 661.5h1.4v1.4h-1.4zM322.3 664.9h1.4v1.4h-1.4zM322.8 656.7h1.4v1.4h-1.4zM322.4 664.7h1.4v1.4h-1.4zM323.3 667.7h1.4v1.4h-1.4zM321.9 659.5h1.4v1.4h-1.4zM326.1 659.5h1.4v1.4h-1.4zM320.1 654.4h1.4v1.4h-1.4zM324.2 665.2h1.4v1.4h-1.4zM323.1 668.8h1.4v1.4h-1.4zM308.6 658.1h1.4v1.4h-1.4zM322.1 656.2h1.4v1.4h-1.4zM318.2 649.6h1.4v1.4h-1.4zM324.1 667.0h1.4v1.4h-1.4zM322.6 654.1h1.4v1.4h-1.4zM324.4 657.0h1.4v1.4h-1.4zM318.3 651.1h1.4v1.4h-1.4zM316.0 657.7h1.4v1.4h-1.4zM323.1 657.8h1.4v1.4h-1.4zM320.5 652.7h1.4v1.4h-1.4zM317.0 662.2h1.4v1.4h-1.4zM317.9 665.8h1.4v1.4h-1.4zM323.3 653.2h1.4v1.4h-1.4zM318.0 668.2h1.4v1.4h-1.4zM319.5 658.6h1.4v1.4h-1.4zM315.3 652.7h1.4v1.4h-1.4zM327.0 660.4h1.4v1.4h-1.4zM320.2 666.7h1.4v1.4h-1.4zM318.6 667.7h1.4v1.4h-1.4zM320.7 668.6h1.4v1.4h-1.4zM325.1 658.9h1.4v1.4h-1.4zM320.2 664.6h1.4v1.4h-1.4zM318.6 664.9h1.4v1.4h-1.4zM326.5 662.0h1.4v1.4h-1.4zM318.1 653.2h1.4v1.4h-1.4zM315.8 656.1h1.4v1.4h-1.4zM326.3 658.4h1.4v1.4h-1.4zM315.7 657.2h1.4v1.4h-1.4zM322.6 655.8h1.4v1.4h-1.4zM313.2 654.8h1.4v1.4h-1.4zM316.6 665.3h1.4v1.4h-1.4zM316.5 668.0h1.4v1.4h-1.4zM319.4 664.7h1.4v1.4h-1.4zM326.3 655.6h1.4v1.4h-1.4zM326.0 665.0h1.4v1.4h-1.4zM321.9 663.2h1.4v1.4h-1.4zM316.3 659.9h1.4v1.4h-1.4zM327.2 663.1h1.4v1.4h-1.4zM316.3 660.0h1.4v1.4h-1.4zM331.1 653.0h1.4v1.4h-1.4zM325.6 658.4h1.4v1.4h-1.4zM334.9 662.7h1.4v1.4h-1.4zM330.2 643.4h1.4v1.4h-1.4zM332.8 644.5h1.4v1.4h-1.4zM332.1 646.3h1.4v1.4h-1.4zM332.6 652.8h1.4v1.4h-1.4zM338.9 650.3h1.4v1.4h-1.4zM334.5 651.6h1.4v1.4h-1.4zM330.7 652.7h1.4v1.4h-1.4zM336.0 656.9h1.4v1.4h-1.4zM330.3 641.9h1.4v1.4h-1.4zM336.2 647.4h1.4v1.4h-1.4zM328.3 645.9h1.4v1.4h-1.4zM337.4 660.9h1.4v1.4h-1.4zM335.2 661.9h1.4v1.4h-1.4zM337.3 655.8h1.4v1.4h-1.4zM335.6 659.8h1.4v1.4h-1.4zM331.2 658.6h1.4v1.4h-1.4zM328.3 657.5h1.4v1.4h-1.4zM329.6 658.4h1.4v1.4h-1.4zM331.7 648.7h1.4v1.4h-1.4zM341.9 650.3h1.4v1.4h-1.4zM334.1 645.6h1.4v1.4h-1.4zM332.7 662.2h1.4v1.4h-1.4zM336.1 646.5h1.4v1.4h-1.4zM337.5 651.5h1.4v1.4h-1.4zM331.4 651.6h1.4v1.4h-1.4zM332.3 662.4h1.4v1.4h-1.4zM334.4 652.6h1.4v1.4h-1.4zM337.0 663.4h1.4v1.4h-1.4zM338.3 649.5h1.4v1.4h-1.4zM331.1 656.8h1.4v1.4h-1.4zM335.4 647.0h1.4v1.4h-1.4zM325.1 645.1h1.4v1.4h-1.4zM331.0 642.3h1.4v1.4h-1.4zM337.7 651.3h1.4v1.4h-1.4zM338.8 657.1h1.4v1.4h-1.4zM327.2 642.6h1.4v1.4h-1.4zM335.6 657.2h1.4v1.4h-1.4zM331.4 657.6h1.4v1.4h-1.4zM335.3 659.4h1.4v1.4h-1.4zM336.5 666.0h1.4v1.4h-1.4zM333.6 659.4h1.4v1.4h-1.4zM338.3 649.9h1.4v1.4h-1.4zM338.2 652.0h1.4v1.4h-1.4zM335.6 654.3h1.4v1.4h-1.4z" fill="#C0F07A"/><path d="M199.4 699.3h1.4v1.4h-1.4zM195.8 679.0h1.4v1.4h-1.4zM208.1 663.6h1.4v1.4h-1.4zM202.5 666.2h1.4v1.4h-1.4zM188.3 673.5h1.4v1.4h-1.4zM198.7 681.3h1.4v1.4h-1.4zM208.5 666.3h1.4v1.4h-1.4zM207.7 682.9h1.4v1.4h-1.4zM203.6 662.6h1.4v1.4h-1.4zM207.7 681.0h1.4v1.4h-1.4zM199.9 663.5h1.4v1.4h-1.4zM201.1 695.6h1.4v1.4h-1.4zM190.0 672.7h1.4v1.4h-1.4zM205.9 697.4h1.4v1.4h-1.4zM203.4 680.3h1.4v1.4h-1.4zM206.4 661.2h1.4v1.4h-1.4zM210.9 683.4h1.4v1.4h-1.4zM211.6 707.1h1.4v1.4h-1.4zM206.2 672.6h1.4v1.4h-1.4zM207.0 704.5h1.4v1.4h-1.4zM207.1 701.0h1.4v1.4h-1.4zM199.6 701.3h1.4v1.4h-1.4zM200.7 676.6h1.4v1.4h-1.4zM209.2 683.0h1.4v1.4h-1.4zM201.0 691.1h1.4v1.4h-1.4zM200.1 685.9h1.4v1.4h-1.4zM206.9 674.0h1.4v1.4h-1.4zM210.0 676.5h1.4v1.4h-1.4zM202.1 697.5h1.4v1.4h-1.4zM202.6 699.4h1.4v1.4h-1.4zM207.6 665.3h1.4v1.4h-1.4zM198.2 675.6h1.4v1.4h-1.4zM193.5 690.3h1.4v1.4h-1.4zM195.1 680.6h1.4v1.4h-1.4zM198.9 667.5h1.4v1.4h-1.4zM203.8 679.7h1.4v1.4h-1.4zM207.2 676.0h1.4v1.4h-1.4zM188.7 682.4h1.4v1.4h-1.4zM198.0 669.1h1.4v1.4h-1.4zM196.4 679.1h1.4v1.4h-1.4zM210.5 700.8h1.4v1.4h-1.4zM193.0 680.9h1.4v1.4h-1.4zM188.6 682.2h1.4v1.4h-1.4zM195.3 686.1h1.4v1.4h-1.4zM207.6 687.1h1.4v1.4h-1.4zM204.0 673.7h1.4v1.4h-1.4zM194.0 681.1h1.4v1.4h-1.4zM198.4 677.0h1.4v1.4h-1.4zM198.3 698.7h1.4v1.4h-1.4zM190.8 665.1h1.4v1.4h-1.4zM209.8 680.5h1.4v1.4h-1.4zM208.8 666.2h1.4v1.4h-1.4zM186.5 671.5h1.4v1.4h-1.4zM196.6 690.9h1.4v1.4h-1.4zM196.3 679.7h1.4v1.4h-1.4zM199.0 661.2h1.4v1.4h-1.4zM199.9 688.4h1.4v1.4h-1.4zM187.7 671.4h1.4v1.4h-1.4zM210.4 705.4h1.4v1.4h-1.4zM199.9 690.1h1.4v1.4h-1.4zM185.5 681.5h1.4v1.4h-1.4zM210.3 668.6h1.4v1.4h-1.4zM194.7 689.3h1.4v1.4h-1.4zM195.2 674.5h1.4v1.4h-1.4zM203.8 698.6h1.4v1.4h-1.4zM188.4 674.3h1.4v1.4h-1.4zM195.3 688.4h1.4v1.4h-1.4zM208.2 694.1h1.4v1.4h-1.4zM197.4 693.6h1.4v1.4h-1.4zM201.6 688.7h1.4v1.4h-1.4zM203.8 677.3h1.4v1.4h-1.4zM199.7 666.2h1.4v1.4h-1.4zM204.0 686.0h1.4v1.4h-1.4zM192.8 666.5h1.4v1.4h-1.4zM203.9 677.1h1.4v1.4h-1.4zM192.9 662.8h1.4v1.4h-1.4zM188.9 676.3h1.4v1.4h-1.4zM202.2 683.0h1.4v1.4h-1.4zM201.1 679.1h1.4v1.4h-1.4zM209.5 698.3h1.4v1.4h-1.4zM202.1 688.6h1.4v1.4h-1.4zM191.3 675.5h1.4v1.4h-1.4zM198.4 696.5h1.4v1.4h-1.4zM206.9 673.4h1.4v1.4h-1.4zM190.6 676.4h1.4v1.4h-1.4zM207.8 680.8h1.4v1.4h-1.4zM186.9 672.4h1.4v1.4h-1.4zM204.3 674.3h1.4v1.4h-1.4zM194.8 678.3h1.4v1.4h-1.4zM184.2 672.0h1.4v1.4h-1.4zM209.9 707.4h1.4v1.4h-1.4zM194.3 676.5h1.4v1.4h-1.4zM200.6 688.7h1.4v1.4h-1.4zM209.5 670.0h1.4v1.4h-1.4zM206.3 667.6h1.4v1.4h-1.4zM212.6 672.0h1.4v1.4h-1.4zM189.6 673.9h1.4v1.4h-1.4zM189.9 671.2h1.4v1.4h-1.4zM207.0 686.9h1.4v1.4h-1.4zM200.0 700.4h1.4v1.4h-1.4zM207.0 667.0h1.4v1.4h-1.4zM209.0 674.6h1.4v1.4h-1.4zM205.4 672.6h1.4v1.4h-1.4zM199.9 669.2h1.4v1.4h-1.4zM203.2 707.0h1.4v1.4h-1.4zM204.9 665.0h1.4v1.4h-1.4zM191.7 665.3h1.4v1.4h-1.4zM205.3 681.6h1.4v1.4h-1.4zM201.2 699.3h1.4v1.4h-1.4zM199.6 677.5h1.4v1.4h-1.4zM192.3 675.7h1.4v1.4h-1.4zM204.1 674.1h1.4v1.4h-1.4zM205.9 674.4h1.4v1.4h-1.4zM203.3 685.6h1.4v1.4h-1.4zM187.2 675.5h1.4v1.4h-1.4zM200.4 687.9h1.4v1.4h-1.4zM202.8 685.5h1.4v1.4h-1.4zM203.8 667.1h1.4v1.4h-1.4zM206.8 677.2h1.4v1.4h-1.4zM204.3 685.6h1.4v1.4h-1.4zM199.3 680.7h1.4v1.4h-1.4zM191.2 671.5h1.4v1.4h-1.4zM183.0 666.2h1.4v1.4h-1.4zM205.4 705.2h1.4v1.4h-1.4zM208.3 683.1h1.4v1.4h-1.4zM202.2 661.0h1.4v1.4h-1.4zM185.5 676.7h1.4v1.4h-1.4zM202.3 686.4h1.4v1.4h-1.4zM199.1 676.4h1.4v1.4h-1.4zM202.4 695.8h1.4v1.4h-1.4zM204.7 663.2h1.4v1.4h-1.4zM203.9 700.6h1.4v1.4h-1.4zM187.7 681.0h1.4v1.4h-1.4zM208.5 701.0h1.4v1.4h-1.4zM195.1 686.7h1.4v1.4h-1.4zM196.1 668.6h1.4v1.4h-1.4zM196.7 670.8h1.4v1.4h-1.4zM200.1 683.7h1.4v1.4h-1.4zM206.0 676.6h1.4v1.4h-1.4zM203.9 675.6h1.4v1.4h-1.4zM194.5 661.4h1.4v1.4h-1.4zM200.9 698.9h1.4v1.4h-1.4zM207.5 706.8h1.4v1.4h-1.4zM199.7 668.6h1.4v1.4h-1.4zM204.7 698.5h1.4v1.4h-1.4zM203.1 660.5h1.4v1.4h-1.4zM193.0 660.4h1.4v1.4h-1.4zM198.0 686.7h1.4v1.4h-1.4zM198.2 661.9h1.4v1.4h-1.4zM192.6 675.5h1.4v1.4h-1.4zM191.8 672.2h1.4v1.4h-1.4zM206.3 664.6h1.4v1.4h-1.4zM209.6 682.0h1.4v1.4h-1.4zM183.9 662.7h1.4v1.4h-1.4zM207.7 689.5h1.4v1.4h-1.4zM194.9 686.4h1.4v1.4h-1.4zM199.1 674.2h1.4v1.4h-1.4zM206.0 688.9h1.4v1.4h-1.4zM189.0 666.7h1.4v1.4h-1.4zM205.9 689.3h1.4v1.4h-1.4zM188.5 686.7h1.4v1.4h-1.4zM186.3 672.6h1.4v1.4h-1.4zM200.6 695.6h1.4v1.4h-1.4zM202.7 707.4h1.4v1.4h-1.4zM198.1 687.2h1.4v1.4h-1.4zM209.3 681.6h1.4v1.4h-1.4zM194.8 687.6h1.4v1.4h-1.4zM188.0 672.7h1.4v1.4h-1.4zM195.7 692.5h1.4v1.4h-1.4zM206.0 669.8h1.4v1.4h-1.4zM207.0 670.3h1.4v1.4h-1.4zM194.5 666.2h1.4v1.4h-1.4zM190.9 667.9h1.4v1.4h-1.4zM205.5 675.8h1.4v1.4h-1.4zM198.9 660.2h1.4v1.4h-1.4zM188.5 668.1h1.4v1.4h-1.4zM187.1 664.1h1.4v1.4h-1.4zM208.6 698.7h1.4v1.4h-1.4zM197.2 662.5h1.4v1.4h-1.4zM205.1 704.6h1.4v1.4h-1.4zM201.3 699.0h1.4v1.4h-1.4zM202.7 664.1h1.4v1.4h-1.4zM200.9 690.0h1.4v1.4h-1.4zM210.9 682.5h1.4v1.4h-1.4zM192.4 660.0h1.4v1.4h-1.4zM198.2 691.7h1.4v1.4h-1.4zM206.0 687.0h1.4v1.4h-1.4zM201.0 691.2h1.4v1.4h-1.4zM197.3 691.5h1.4v1.4h-1.4zM189.4 665.9h1.4v1.4h-1.4zM199.7 660.0h1.4v1.4h-1.4zM200.3 661.2h1.4v1.4h-1.4zM199.7 660.4h1.4v1.4h-1.4zM205.5 663.8h1.4v1.4h-1.4zM205.8 668.7h1.4v1.4h-1.4zM204.9 679.6h1.4v1.4h-1.4zM194.1 658.5h1.4v1.4h-1.4zM206.0 670.2h1.4v1.4h-1.4zM190.1 683.1h1.4v1.4h-1.4zM196.1 692.3h1.4v1.4h-1.4zM192.4 671.2h1.4v1.4h-1.4zM210.9 671.1h1.4v1.4h-1.4zM212.2 674.7h1.4v1.4h-1.4zM204.2 671.4h1.4v1.4h-1.4zM207.9 701.2h1.4v1.4h-1.4zM190.0 665.7h1.4v1.4h-1.4zM201.1 704.3h1.4v1.4h-1.4zM193.8 669.2h1.4v1.4h-1.4zM199.5 663.7h1.4v1.4h-1.4zM190.3 670.8h1.4v1.4h-1.4zM204.4 677.8h1.4v1.4h-1.4zM202.9 695.3h1.4v1.4h-1.4zM188.0 667.7h1.4v1.4h-1.4zM205.1 678.6h1.4v1.4h-1.4zM199.2 701.2h1.4v1.4h-1.4zM187.4 681.0h1.4v1.4h-1.4zM189.3 688.8h1.4v1.4h-1.4zM203.3 695.1h1.4v1.4h-1.4zM206.9 707.6h1.4v1.4h-1.4zM198.3 678.3h1.4v1.4h-1.4zM194.5 664.5h1.4v1.4h-1.4zM184.8 663.4h1.4v1.4h-1.4zM199.2 687.6h1.4v1.4h-1.4zM202.6 687.4h1.4v1.4h-1.4zM204.7 680.8h1.4v1.4h-1.4zM196.4 670.1h1.4v1.4h-1.4zM187.6 672.0h1.4v1.4h-1.4zM200.9 672.7h1.4v1.4h-1.4zM184.7 666.8h1.4v1.4h-1.4zM196.8 690.8h1.4v1.4h-1.4zM202.2 667.2h1.4v1.4h-1.4zM210.3 675.1h1.4v1.4h-1.4zM196.8 670.6h1.4v1.4h-1.4zM191.1 689.8h1.4v1.4h-1.4zM198.3 694.3h1.4v1.4h-1.4zM200.5 670.6h1.4v1.4h-1.4zM197.9 665.6h1.4v1.4h-1.4zM202.5 671.4h1.4v1.4h-1.4zM206.8 671.8h1.4v1.4h-1.4zM203.3 694.7h1.4v1.4h-1.4zM209.1 687.0h1.4v1.4h-1.4zM195.5 687.0h1.4v1.4h-1.4zM207.0 693.8h1.4v1.4h-1.4zM203.1 707.1h1.4v1.4h-1.4zM194.9 670.0h1.4v1.4h-1.4zM205.9 696.6h1.4v1.4h-1.4zM201.1 667.7h1.4v1.4h-1.4zM194.7 677.8h1.4v1.4h-1.4zM204.3 684.1h1.4v1.4h-1.4zM206.3 667.2h1.4v1.4h-1.4zM187.7 676.6h1.4v1.4h-1.4zM203.8 684.6h1.4v1.4h-1.4zM198.2 678.5h1.4v1.4h-1.4zM207.7 681.1h1.4v1.4h-1.4zM195.2 694.6h1.4v1.4h-1.4zM186.6 680.9h1.4v1.4h-1.4zM206.8 686.2h1.4v1.4h-1.4zM204.1 691.9h1.4v1.4h-1.4zM196.5 672.4h1.4v1.4h-1.4zM208.4 683.9h1.4v1.4h-1.4zM191.4 678.9h1.4v1.4h-1.4zM208.6 669.5h1.4v1.4h-1.4zM205.2 665.7h1.4v1.4h-1.4zM203.2 700.0h1.4v1.4h-1.4zM206.1 706.7h1.4v1.4h-1.4zM199.4 702.8h1.4v1.4h-1.4zM199.4 696.5h1.4v1.4h-1.4zM203.1 709.0h1.4v1.4h-1.4zM203.9 666.8h1.4v1.4h-1.4zM204.0 675.5h1.4v1.4h-1.4zM193.5 677.1h1.4v1.4h-1.4zM204.7 701.5h1.4v1.4h-1.4zM185.8 663.9h1.4v1.4h-1.4zM199.2 679.1h1.4v1.4h-1.4zM196.4 675.6h1.4v1.4h-1.4zM198.8 694.8h1.4v1.4h-1.4zM203.6 667.9h1.4v1.4h-1.4zM202.1 659.3h1.4v1.4h-1.4zM198.8 692.9h1.4v1.4h-1.4zM198.4 690.4h1.4v1.4h-1.4zM183.5 667.3h1.4v1.4h-1.4zM193.3 690.4h1.4v1.4h-1.4zM208.5 685.5h1.4v1.4h-1.4zM199.9 668.1h1.4v1.4h-1.4zM200.8 696.2h1.4v1.4h-1.4zM191.1 685.7h1.4v1.4h-1.4zM202.1 687.7h1.4v1.4h-1.4zM203.4 682.8h1.4v1.4h-1.4zM200.3 678.1h1.4v1.4h-1.4zM209.6 706.4h1.4v1.4h-1.4zM205.1 700.0h1.4v1.4h-1.4zM208.4 678.6h1.4v1.4h-1.4zM200.1 664.4h1.4v1.4h-1.4zM189.3 672.2h1.4v1.4h-1.4zM186.0 662.6h1.4v1.4h-1.4zM195.7 665.8h1.4v1.4h-1.4zM194.0 661.9h1.4v1.4h-1.4zM195.1 678.5h1.4v1.4h-1.4zM198.4 670.4h1.4v1.4h-1.4zM208.7 706.9h1.4v1.4h-1.4zM195.2 669.7h1.4v1.4h-1.4zM205.5 670.9h1.4v1.4h-1.4zM197.1 689.0h1.4v1.4h-1.4zM203.0 688.4h1.4v1.4h-1.4zM190.3 686.1h1.4v1.4h-1.4zM209.8 666.2h1.4v1.4h-1.4zM209.8 668.1h1.4v1.4h-1.4zM196.2 692.3h1.4v1.4h-1.4zM186.8 683.0h1.4v1.4h-1.4zM201.2 663.5h1.4v1.4h-1.4zM198.4 661.9h1.4v1.4h-1.4zM191.3 666.5h1.4v1.4h-1.4zM197.6 678.2h1.4v1.4h-1.4zM207.7 668.9h1.4v1.4h-1.4zM189.0 665.6h1.4v1.4h-1.4zM195.7 698.0h1.4v1.4h-1.4zM188.0 677.5h1.4v1.4h-1.4zM188.2 671.9h1.4v1.4h-1.4zM205.6 661.9h1.4v1.4h-1.4zM191.5 666.3h1.4v1.4h-1.4zM204.1 690.3h1.4v1.4h-1.4zM189.1 680.5h1.4v1.4h-1.4zM206.7 707.1h1.4v1.4h-1.4zM203.0 682.7h1.4v1.4h-1.4zM200.5 666.6h1.4v1.4h-1.4zM202.1 696.7h1.4v1.4h-1.4zM205.1 688.0h1.4v1.4h-1.4zM204.3 670.9h1.4v1.4h-1.4zM196.0 686.9h1.4v1.4h-1.4zM195.2 681.1h1.4v1.4h-1.4zM205.9 683.3h1.4v1.4h-1.4zM209.2 701.8h1.4v1.4h-1.4zM189.0 674.2h1.4v1.4h-1.4zM206.0 683.2h1.4v1.4h-1.4zM200.5 673.8h1.4v1.4h-1.4zM203.0 706.9h1.4v1.4h-1.4zM198.8 670.7h1.4v1.4h-1.4zM198.6 661.3h1.4v1.4h-1.4zM201.2 701.8h1.4v1.4h-1.4zM208.0 684.0h1.4v1.4h-1.4zM201.4 706.8h1.4v1.4h-1.4zM193.5 669.5h1.4v1.4h-1.4zM205.1 691.8h1.4v1.4h-1.4zM189.4 663.9h1.4v1.4h-1.4zM192.3 691.1h1.4v1.4h-1.4zM210.9 705.6h1.4v1.4h-1.4zM194.8 682.0h1.4v1.4h-1.4zM194.6 682.9h1.4v1.4h-1.4zM200.2 670.0h1.4v1.4h-1.4zM206.5 666.0h1.4v1.4h-1.4zM186.4 678.2h1.4v1.4h-1.4zM204.9 679.3h1.4v1.4h-1.4zM187.3 673.4h1.4v1.4h-1.4zM196.3 693.3h1.4v1.4h-1.4zM192.2 681.6h1.4v1.4h-1.4zM201.2 662.9h1.4v1.4h-1.4zM206.1 665.1h1.4v1.4h-1.4zM191.6 662.7h1.4v1.4h-1.4zM207.4 694.1h1.4v1.4h-1.4zM202.0 667.3h1.4v1.4h-1.4zM210.7 703.9h1.4v1.4h-1.4zM199.5 694.1h1.4v1.4h-1.4zM200.6 699.1h1.4v1.4h-1.4zM197.0 674.2h1.4v1.4h-1.4zM200.4 695.6h1.4v1.4h-1.4zM211.2 705.9h1.4v1.4h-1.4zM201.9 686.7h1.4v1.4h-1.4zM203.5 705.7h1.4v1.4h-1.4zM208.0 683.5h1.4v1.4h-1.4zM197.5 679.9h1.4v1.4h-1.4zM208.9 666.9h1.4v1.4h-1.4zM207.2 681.1h1.4v1.4h-1.4zM202.6 687.4h1.4v1.4h-1.4zM208.8 696.5h1.4v1.4h-1.4zM194.1 683.7h1.4v1.4h-1.4zM192.6 687.6h1.4v1.4h-1.4zM194.7 682.0h1.4v1.4h-1.4zM206.7 689.1h1.4v1.4h-1.4zM201.2 673.7h1.4v1.4h-1.4zM196.5 675.6h1.4v1.4h-1.4zM185.7 664.3h1.4v1.4h-1.4zM188.9 666.3h1.4v1.4h-1.4zM205.8 667.7h1.4v1.4h-1.4zM198.9 673.7h1.4v1.4h-1.4zM202.3 699.8h1.4v1.4h-1.4zM210.8 668.1h1.4v1.4h-1.4zM193.9 683.2h1.4v1.4h-1.4zM199.1 669.4h1.4v1.4h-1.4zM201.0 667.0h1.4v1.4h-1.4zM193.1 681.4h1.4v1.4h-1.4zM209.7 705.9h1.4v1.4h-1.4zM199.6 665.0h1.4v1.4h-1.4zM197.5 694.2h1.4v1.4h-1.4zM196.1 689.6h1.4v1.4h-1.4zM200.4 672.9h1.4v1.4h-1.4zM205.9 683.0h1.4v1.4h-1.4zM188.6 670.1h1.4v1.4h-1.4zM200.5 705.0h1.4v1.4h-1.4zM190.6 675.9h1.4v1.4h-1.4zM188.8 672.4h1.4v1.4h-1.4zM207.7 670.1h1.4v1.4h-1.4zM209.1 670.3h1.4v1.4h-1.4zM193.0 671.5h1.4v1.4h-1.4zM192.7 664.4h1.4v1.4h-1.4zM205.9 689.4h1.4v1.4h-1.4zM208.8 704.6h1.4v1.4h-1.4zM208.9 692.9h1.4v1.4h-1.4zM204.2 673.0h1.4v1.4h-1.4zM193.5 666.0h1.4v1.4h-1.4zM206.1 686.2h1.4v1.4h-1.4zM196.9 679.1h1.4v1.4h-1.4zM188.6 674.4h1.4v1.4h-1.4zM207.4 684.2h1.4v1.4h-1.4zM186.5 677.0h1.4v1.4h-1.4zM200.3 690.5h1.4v1.4h-1.4zM191.9 677.5h1.4v1.4h-1.4zM191.8 680.5h1.4v1.4h-1.4zM198.2 678.2h1.4v1.4h-1.4zM200.3 661.6h1.4v1.4h-1.4zM192.3 690.3h1.4v1.4h-1.4zM187.0 683.0h1.4v1.4h-1.4zM199.1 663.0h1.4v1.4h-1.4zM208.9 700.1h1.4v1.4h-1.4zM193.4 686.5h1.4v1.4h-1.4zM208.6 677.1h1.4v1.4h-1.4zM209.9 704.2h1.4v1.4h-1.4zM201.5 695.4h1.4v1.4h-1.4zM189.1 669.3h1.4v1.4h-1.4zM200.1 687.6h1.4v1.4h-1.4zM193.0 669.8h1.4v1.4h-1.4zM203.9 683.8h1.4v1.4h-1.4zM189.6 680.6h1.4v1.4h-1.4zM182.1 664.3h1.4v1.4h-1.4zM204.5 679.0h1.4v1.4h-1.4zM203.3 697.1h1.4v1.4h-1.4zM205.0 665.6h1.4v1.4h-1.4zM198.5 675.0h1.4v1.4h-1.4zM210.7 700.3h1.4v1.4h-1.4zM206.5 702.8h1.4v1.4h-1.4zM193.8 663.8h1.4v1.4h-1.4zM201.5 680.8h1.4v1.4h-1.4zM189.4 665.5h1.4v1.4h-1.4zM201.3 700.7h1.4v1.4h-1.4zM205.8 705.5h1.4v1.4h-1.4zM198.2 667.4h1.4v1.4h-1.4zM195.1 683.1h1.4v1.4h-1.4zM196.0 683.8h1.4v1.4h-1.4zM202.1 687.1h1.4v1.4h-1.4zM197.9 682.7h1.4v1.4h-1.4zM190.4 684.8h1.4v1.4h-1.4zM194.4 673.7h1.4v1.4h-1.4zM201.4 660.7h1.4v1.4h-1.4zM207.2 677.5h1.4v1.4h-1.4zM211.8 672.2h1.4v1.4h-1.4zM208.1 672.5h1.4v1.4h-1.4zM191.8 680.4h1.4v1.4h-1.4zM209.1 669.5h1.4v1.4h-1.4zM200.7 685.6h1.4v1.4h-1.4zM200.3 656.5h1.4v1.4h-1.4zM190.9 676.3h1.4v1.4h-1.4zM190.9 674.2h1.4v1.4h-1.4zM183.7 682.6h1.4v1.4h-1.4zM184.0 663.0h1.4v1.4h-1.4zM187.0 666.9h1.4v1.4h-1.4zM185.5 673.7h1.4v1.4h-1.4zM190.3 677.9h1.4v1.4h-1.4zM188.8 679.9h1.4v1.4h-1.4zM187.1 665.3h1.4v1.4h-1.4zM184.0 675.7h1.4v1.4h-1.4zM189.4 670.4h1.4v1.4h-1.4zM190.0 684.3h1.4v1.4h-1.4zM189.8 670.7h1.4v1.4h-1.4zM185.9 672.9h1.4v1.4h-1.4zM186.1 675.5h1.4v1.4h-1.4zM190.5 665.1h1.4v1.4h-1.4zM187.6 672.1h1.4v1.4h-1.4zM185.3 662.7h1.4v1.4h-1.4zM185.4 663.4h1.4v1.4h-1.4zM183.3 677.5h1.4v1.4h-1.4zM187.7 667.3h1.4v1.4h-1.4zM190.0 682.7h1.4v1.4h-1.4zM183.6 669.8h1.4v1.4h-1.4zM183.5 672.9h1.4v1.4h-1.4zM188.4 671.8h1.4v1.4h-1.4zM190.8 684.6h1.4v1.4h-1.4zM185.9 672.1h1.4v1.4h-1.4zM182.6 678.7h1.4v1.4h-1.4zM181.4 666.0h1.4v1.4h-1.4zM189.0 667.8h1.4v1.4h-1.4zM183.1 676.1h1.4v1.4h-1.4zM182.1 676.9h1.4v1.4h-1.4zM184.7 683.0h1.4v1.4h-1.4zM354.8 668.4h1.4v1.4h-1.4zM372.1 671.2h1.4v1.4h-1.4zM369.7 667.4h1.4v1.4h-1.4zM360.3 689.8h1.4v1.4h-1.4zM354.5 684.5h1.4v1.4h-1.4zM362.8 666.4h1.4v1.4h-1.4zM364.7 660.4h1.4v1.4h-1.4zM359.4 673.8h1.4v1.4h-1.4zM360.9 665.5h1.4v1.4h-1.4zM353.6 674.8h1.4v1.4h-1.4zM363.4 672.8h1.4v1.4h-1.4zM366.9 681.7h1.4v1.4h-1.4zM362.9 683.6h1.4v1.4h-1.4zM368.6 670.4h1.4v1.4h-1.4zM358.7 685.3h1.4v1.4h-1.4zM361.2 692.9h1.4v1.4h-1.4zM360.6 692.1h1.4v1.4h-1.4zM372.0 680.5h1.4v1.4h-1.4zM358.9 671.0h1.4v1.4h-1.4zM356.5 671.2h1.4v1.4h-1.4zM360.3 669.9h1.4v1.4h-1.4zM365.5 707.3h1.4v1.4h-1.4zM366.8 681.2h1.4v1.4h-1.4zM357.9 676.7h1.4v1.4h-1.4zM362.8 680.9h1.4v1.4h-1.4zM367.8 704.4h1.4v1.4h-1.4zM361.1 679.5h1.4v1.4h-1.4zM367.3 660.4h1.4v1.4h-1.4zM365.6 668.1h1.4v1.4h-1.4zM356.2 688.2h1.4v1.4h-1.4zM356.0 682.5h1.4v1.4h-1.4zM355.8 675.3h1.4v1.4h-1.4zM364.0 686.0h1.4v1.4h-1.4zM359.6 690.9h1.4v1.4h-1.4zM368.4 662.9h1.4v1.4h-1.4zM369.0 692.4h1.4v1.4h-1.4zM357.9 693.2h1.4v1.4h-1.4zM372.8 691.5h1.4v1.4h-1.4zM371.6 689.5h1.4v1.4h-1.4zM357.0 668.5h1.4v1.4h-1.4zM362.1 687.2h1.4v1.4h-1.4zM364.2 675.0h1.4v1.4h-1.4zM366.9 668.9h1.4v1.4h-1.4zM367.6 700.6h1.4v1.4h-1.4zM367.8 697.7h1.4v1.4h-1.4zM354.4 677.2h1.4v1.4h-1.4zM371.2 689.4h1.4v1.4h-1.4zM353.6 691.0h1.4v1.4h-1.4zM364.5 669.6h1.4v1.4h-1.4zM357.8 667.5h1.4v1.4h-1.4zM363.8 685.8h1.4v1.4h-1.4zM362.3 680.0h1.4v1.4h-1.4zM363.6 698.2h1.4v1.4h-1.4zM356.7 688.0h1.4v1.4h-1.4zM364.3 668.7h1.4v1.4h-1.4zM357.2 670.2h1.4v1.4h-1.4zM362.5 687.9h1.4v1.4h-1.4zM365.2 691.2h1.4v1.4h-1.4zM364.2 666.3h1.4v1.4h-1.4zM361.5 674.8h1.4v1.4h-1.4zM359.8 684.6h1.4v1.4h-1.4zM360.5 669.3h1.4v1.4h-1.4zM368.6 664.5h1.4v1.4h-1.4zM354.5 675.5h1.4v1.4h-1.4zM361.9 662.0h1.4v1.4h-1.4zM365.5 700.4h1.4v1.4h-1.4zM367.9 682.5h1.4v1.4h-1.4zM371.9 687.1h1.4v1.4h-1.4zM372.0 698.2h1.4v1.4h-1.4zM363.7 697.9h1.4v1.4h-1.4zM363.7 682.3h1.4v1.4h-1.4zM363.7 705.7h1.4v1.4h-1.4zM361.6 677.9h1.4v1.4h-1.4zM369.2 677.4h1.4v1.4h-1.4zM358.9 671.1h1.4v1.4h-1.4zM364.6 692.8h1.4v1.4h-1.4zM368.3 703.5h1.4v1.4h-1.4zM366.9 664.9h1.4v1.4h-1.4zM358.1 662.1h1.4v1.4h-1.4zM371.6 684.4h1.4v1.4h-1.4zM365.4 700.5h1.4v1.4h-1.4zM365.4 688.5h1.4v1.4h-1.4zM370.5 672.8h1.4v1.4h-1.4zM366.4 665.9h1.4v1.4h-1.4zM359.4 688.3h1.4v1.4h-1.4zM370.1 665.4h1.4v1.4h-1.4zM355.9 668.2h1.4v1.4h-1.4zM366.1 682.0h1.4v1.4h-1.4zM361.0 691.2h1.4v1.4h-1.4zM357.5 684.2h1.4v1.4h-1.4zM374.5 678.7h1.4v1.4h-1.4zM366.0 701.4h1.4v1.4h-1.4zM360.7 682.4h1.4v1.4h-1.4zM367.9 677.3h1.4v1.4h-1.4zM354.1 673.0h1.4v1.4h-1.4zM367.6 674.5h1.4v1.4h-1.4zM367.7 704.1h1.4v1.4h-1.4zM364.5 658.9h1.4v1.4h-1.4zM358.9 675.0h1.4v1.4h-1.4zM356.8 690.0h1.4v1.4h-1.4zM363.9 669.2h1.4v1.4h-1.4zM360.2 674.5h1.4v1.4h-1.4zM359.8 694.0h1.4v1.4h-1.4zM356.1 666.1h1.4v1.4h-1.4zM366.7 694.4h1.4v1.4h-1.4zM370.5 675.3h1.4v1.4h-1.4zM367.0 688.8h1.4v1.4h-1.4zM360.1 690.7h1.4v1.4h-1.4zM355.6 685.5h1.4v1.4h-1.4zM355.6 686.2h1.4v1.4h-1.4zM364.7 702.3h1.4v1.4h-1.4zM366.3 674.4h1.4v1.4h-1.4zM369.4 695.6h1.4v1.4h-1.4zM353.1 685.6h1.4v1.4h-1.4zM365.2 672.5h1.4v1.4h-1.4zM364.7 692.5h1.4v1.4h-1.4zM363.7 697.6h1.4v1.4h-1.4zM364.1 676.8h1.4v1.4h-1.4zM367.5 693.7h1.4v1.4h-1.4zM366.1 677.9h1.4v1.4h-1.4zM362.8 690.8h1.4v1.4h-1.4zM356.6 673.7h1.4v1.4h-1.4zM370.7 708.1h1.4v1.4h-1.4zM361.6 687.5h1.4v1.4h-1.4zM354.3 674.5h1.4v1.4h-1.4zM367.9 703.2h1.4v1.4h-1.4zM363.2 685.3h1.4v1.4h-1.4zM369.0 679.5h1.4v1.4h-1.4zM367.5 675.7h1.4v1.4h-1.4zM356.5 675.6h1.4v1.4h-1.4zM366.9 682.7h1.4v1.4h-1.4zM360.8 668.9h1.4v1.4h-1.4zM354.5 674.5h1.4v1.4h-1.4zM365.8 671.9h1.4v1.4h-1.4zM359.3 665.3h1.4v1.4h-1.4zM359.6 703.0h1.4v1.4h-1.4zM358.1 682.6h1.4v1.4h-1.4zM369.0 667.2h1.4v1.4h-1.4zM365.1 701.7h1.4v1.4h-1.4zM371.9 687.9h1.4v1.4h-1.4zM368.0 668.2h1.4v1.4h-1.4zM359.8 678.8h1.4v1.4h-1.4zM367.6 706.3h1.4v1.4h-1.4zM359.7 676.6h1.4v1.4h-1.4zM366.7 680.6h1.4v1.4h-1.4zM368.9 688.3h1.4v1.4h-1.4zM365.2 699.1h1.4v1.4h-1.4zM359.6 688.9h1.4v1.4h-1.4zM359.8 678.8h1.4v1.4h-1.4zM367.2 689.2h1.4v1.4h-1.4zM367.9 671.9h1.4v1.4h-1.4zM365.3 687.7h1.4v1.4h-1.4zM362.4 660.5h1.4v1.4h-1.4zM371.1 703.5h1.4v1.4h-1.4zM364.5 679.9h1.4v1.4h-1.4zM365.0 662.4h1.4v1.4h-1.4zM361.4 690.1h1.4v1.4h-1.4zM365.6 676.6h1.4v1.4h-1.4zM362.5 680.0h1.4v1.4h-1.4zM355.2 671.4h1.4v1.4h-1.4zM357.1 686.6h1.4v1.4h-1.4zM357.4 689.3h1.4v1.4h-1.4zM364.2 701.9h1.4v1.4h-1.4zM366.9 674.3h1.4v1.4h-1.4zM360.9 693.5h1.4v1.4h-1.4zM357.0 670.6h1.4v1.4h-1.4zM353.1 687.9h1.4v1.4h-1.4zM369.5 704.2h1.4v1.4h-1.4zM368.3 698.8h1.4v1.4h-1.4zM363.4 671.0h1.4v1.4h-1.4zM374.6 701.5h1.4v1.4h-1.4zM364.6 675.1h1.4v1.4h-1.4zM354.5 678.7h1.4v1.4h-1.4zM367.1 686.4h1.4v1.4h-1.4zM363.5 706.2h1.4v1.4h-1.4zM366.6 689.1h1.4v1.4h-1.4zM355.9 675.9h1.4v1.4h-1.4zM371.2 703.8h1.4v1.4h-1.4zM357.9 682.1h1.4v1.4h-1.4zM361.4 666.7h1.4v1.4h-1.4zM356.6 690.6h1.4v1.4h-1.4zM356.3 664.6h1.4v1.4h-1.4zM362.7 681.7h1.4v1.4h-1.4zM354.5 670.6h1.4v1.4h-1.4zM357.6 681.2h1.4v1.4h-1.4zM370.2 687.8h1.4v1.4h-1.4zM361.3 681.1h1.4v1.4h-1.4zM354.8 684.7h1.4v1.4h-1.4zM368.3 683.4h1.4v1.4h-1.4zM359.8 686.8h1.4v1.4h-1.4zM364.2 701.7h1.4v1.4h-1.4zM355.6 679.4h1.4v1.4h-1.4zM364.5 660.7h1.4v1.4h-1.4zM361.9 678.1h1.4v1.4h-1.4zM372.9 695.6h1.4v1.4h-1.4zM370.7 669.9h1.4v1.4h-1.4zM354.6 676.6h1.4v1.4h-1.4zM370.6 667.2h1.4v1.4h-1.4zM355.5 676.1h1.4v1.4h-1.4zM365.7 698.5h1.4v1.4h-1.4zM366.2 680.6h1.4v1.4h-1.4zM356.2 691.9h1.4v1.4h-1.4zM364.9 705.6h1.4v1.4h-1.4zM359.9 670.2h1.4v1.4h-1.4zM357.7 668.0h1.4v1.4h-1.4zM370.1 697.3h1.4v1.4h-1.4zM358.3 690.8h1.4v1.4h-1.4zM361.6 690.6h1.4v1.4h-1.4zM363.5 675.6h1.4v1.4h-1.4zM360.4 684.1h1.4v1.4h-1.4zM366.7 677.9h1.4v1.4h-1.4zM362.6 687.2h1.4v1.4h-1.4zM367.2 684.2h1.4v1.4h-1.4zM372.0 693.0h1.4v1.4h-1.4zM367.1 700.7h1.4v1.4h-1.4zM365.2 701.9h1.4v1.4h-1.4zM360.9 684.0h1.4v1.4h-1.4zM357.7 683.8h1.4v1.4h-1.4zM354.8 677.0h1.4v1.4h-1.4zM371.3 674.8h1.4v1.4h-1.4zM357.1 697.7h1.4v1.4h-1.4zM369.5 686.6h1.4v1.4h-1.4zM372.2 696.6h1.4v1.4h-1.4zM373.4 699.4h1.4v1.4h-1.4zM360.0 671.9h1.4v1.4h-1.4zM370.8 707.1h1.4v1.4h-1.4zM369.1 690.8h1.4v1.4h-1.4zM364.8 676.2h1.4v1.4h-1.4zM360.9 678.5h1.4v1.4h-1.4zM363.3 665.8h1.4v1.4h-1.4zM355.6 673.2h1.4v1.4h-1.4zM358.6 681.0h1.4v1.4h-1.4zM370.6 706.0h1.4v1.4h-1.4zM360.9 683.0h1.4v1.4h-1.4zM367.0 683.4h1.4v1.4h-1.4zM372.9 675.0h1.4v1.4h-1.4zM366.9 661.3h1.4v1.4h-1.4zM360.0 684.2h1.4v1.4h-1.4zM355.6 678.8h1.4v1.4h-1.4zM363.4 696.3h1.4v1.4h-1.4zM358.2 663.8h1.4v1.4h-1.4zM363.4 702.4h1.4v1.4h-1.4zM366.5 681.3h1.4v1.4h-1.4zM363.3 688.8h1.4v1.4h-1.4zM365.6 698.4h1.4v1.4h-1.4zM363.3 707.8h1.4v1.4h-1.4zM357.6 663.9h1.4v1.4h-1.4zM361.3 665.2h1.4v1.4h-1.4zM362.2 692.7h1.4v1.4h-1.4zM367.1 680.0h1.4v1.4h-1.4zM367.7 679.0h1.4v1.4h-1.4zM362.0 681.2h1.4v1.4h-1.4zM371.7 674.2h1.4v1.4h-1.4zM364.0 689.0h1.4v1.4h-1.4zM362.8 665.8h1.4v1.4h-1.4zM368.7 694.3h1.4v1.4h-1.4zM357.7 666.4h1.4v1.4h-1.4zM364.0 678.8h1.4v1.4h-1.4zM363.1 684.3h1.4v1.4h-1.4zM366.3 705.5h1.4v1.4h-1.4zM368.2 690.8h1.4v1.4h-1.4zM360.4 682.1h1.4v1.4h-1.4zM359.8 664.7h1.4v1.4h-1.4zM369.4 670.0h1.4v1.4h-1.4zM357.1 697.3h1.4v1.4h-1.4zM360.8 701.5h1.4v1.4h-1.4zM362.0 673.8h1.4v1.4h-1.4zM370.7 704.1h1.4v1.4h-1.4zM361.0 695.3h1.4v1.4h-1.4zM366.7 679.6h1.4v1.4h-1.4zM363.1 708.6h1.4v1.4h-1.4zM369.4 685.6h1.4v1.4h-1.4zM357.5 693.8h1.4v1.4h-1.4zM360.0 694.8h1.4v1.4h-1.4zM353.9 679.3h1.4v1.4h-1.4zM365.7 668.5h1.4v1.4h-1.4zM363.8 700.4h1.4v1.4h-1.4zM365.1 685.3h1.4v1.4h-1.4zM355.1 680.6h1.4v1.4h-1.4zM364.8 663.4h1.4v1.4h-1.4zM366.6 687.0h1.4v1.4h-1.4zM370.5 702.0h1.4v1.4h-1.4zM361.1 665.8h1.4v1.4h-1.4zM358.2 696.6h1.4v1.4h-1.4zM367.7 698.8h1.4v1.4h-1.4zM369.1 684.0h1.4v1.4h-1.4zM366.0 688.7h1.4v1.4h-1.4zM359.3 672.6h1.4v1.4h-1.4zM356.4 660.6h1.4v1.4h-1.4zM355.2 669.7h1.4v1.4h-1.4zM370.0 670.4h1.4v1.4h-1.4zM366.9 672.8h1.4v1.4h-1.4zM366.5 690.3h1.4v1.4h-1.4zM358.6 682.1h1.4v1.4h-1.4zM359.5 692.0h1.4v1.4h-1.4zM363.9 682.8h1.4v1.4h-1.4zM351.8 677.8h1.4v1.4h-1.4zM365.0 663.5h1.4v1.4h-1.4zM370.0 679.2h1.4v1.4h-1.4zM361.9 661.1h1.4v1.4h-1.4zM360.0 689.2h1.4v1.4h-1.4zM369.5 665.0h1.4v1.4h-1.4zM365.5 665.2h1.4v1.4h-1.4zM361.7 675.1h1.4v1.4h-1.4zM362.2 701.7h1.4v1.4h-1.4zM361.5 689.1h1.4v1.4h-1.4zM370.9 675.7h1.4v1.4h-1.4zM355.6 673.3h1.4v1.4h-1.4zM365.6 688.4h1.4v1.4h-1.4zM363.7 661.8h1.4v1.4h-1.4zM358.1 675.8h1.4v1.4h-1.4zM365.3 680.5h1.4v1.4h-1.4zM369.2 694.3h1.4v1.4h-1.4zM369.7 704.2h1.4v1.4h-1.4zM370.9 677.1h1.4v1.4h-1.4zM371.3 705.1h1.4v1.4h-1.4zM374.0 677.3h1.4v1.4h-1.4zM361.7 687.6h1.4v1.4h-1.4zM355.7 690.5h1.4v1.4h-1.4zM357.6 669.9h1.4v1.4h-1.4zM359.7 670.6h1.4v1.4h-1.4zM363.1 691.0h1.4v1.4h-1.4zM371.6 663.6h1.4v1.4h-1.4zM367.1 690.4h1.4v1.4h-1.4zM372.2 687.3h1.4v1.4h-1.4zM368.3 679.5h1.4v1.4h-1.4zM364.0 701.0h1.4v1.4h-1.4zM369.5 672.1h1.4v1.4h-1.4zM353.3 685.4h1.4v1.4h-1.4zM361.9 693.0h1.4v1.4h-1.4zM358.8 693.9h1.4v1.4h-1.4zM373.4 701.3h1.4v1.4h-1.4zM361.3 697.3h1.4v1.4h-1.4zM354.5 674.0h1.4v1.4h-1.4zM365.1 699.5h1.4v1.4h-1.4zM362.8 696.3h1.4v1.4h-1.4zM358.5 671.9h1.4v1.4h-1.4zM357.9 682.6h1.4v1.4h-1.4zM353.2 682.3h1.4v1.4h-1.4zM355.8 664.2h1.4v1.4h-1.4zM365.7 696.9h1.4v1.4h-1.4zM359.1 681.5h1.4v1.4h-1.4zM361.6 676.6h1.4v1.4h-1.4zM368.8 683.2h1.4v1.4h-1.4zM363.5 697.6h1.4v1.4h-1.4zM366.1 675.5h1.4v1.4h-1.4zM355.9 689.8h1.4v1.4h-1.4zM354.8 670.0h1.4v1.4h-1.4zM357.5 696.2h1.4v1.4h-1.4zM369.9 697.2h1.4v1.4h-1.4zM363.4 685.3h1.4v1.4h-1.4zM368.7 674.4h1.4v1.4h-1.4zM358.3 685.3h1.4v1.4h-1.4zM360.1 695.0h1.4v1.4h-1.4zM365.2 685.7h1.4v1.4h-1.4zM359.3 694.4h1.4v1.4h-1.4zM362.0 666.9h1.4v1.4h-1.4zM357.4 673.1h1.4v1.4h-1.4zM365.6 690.6h1.4v1.4h-1.4zM365.5 705.2h1.4v1.4h-1.4zM367.7 671.5h1.4v1.4h-1.4zM356.5 674.6h1.4v1.4h-1.4zM369.4 693.2h1.4v1.4h-1.4zM361.6 675.6h1.4v1.4h-1.4zM365.9 674.1h1.4v1.4h-1.4zM366.2 663.3h1.4v1.4h-1.4zM357.8 692.4h1.4v1.4h-1.4zM360.9 686.8h1.4v1.4h-1.4zM372.3 703.1h1.4v1.4h-1.4zM365.4 688.5h1.4v1.4h-1.4zM360.7 684.5h1.4v1.4h-1.4zM359.6 696.6h1.4v1.4h-1.4zM372.0 700.6h1.4v1.4h-1.4zM366.1 670.7h1.4v1.4h-1.4zM365.4 695.8h1.4v1.4h-1.4zM369.1 670.3h1.4v1.4h-1.4zM364.4 662.7h1.4v1.4h-1.4zM366.5 685.4h1.4v1.4h-1.4zM364.4 686.2h1.4v1.4h-1.4zM369.9 696.7h1.4v1.4h-1.4zM367.1 699.9h1.4v1.4h-1.4zM368.2 693.8h1.4v1.4h-1.4zM364.2 688.7h1.4v1.4h-1.4zM365.9 681.0h1.4v1.4h-1.4zM360.1 691.2h1.4v1.4h-1.4zM361.8 675.7h1.4v1.4h-1.4zM363.7 704.6h1.4v1.4h-1.4zM368.1 708.3h1.4v1.4h-1.4zM366.3 666.6h1.4v1.4h-1.4zM359.2 683.2h1.4v1.4h-1.4zM359.4 661.9h1.4v1.4h-1.4zM369.2 664.9h1.4v1.4h-1.4zM365.2 682.7h1.4v1.4h-1.4zM355.4 688.4h1.4v1.4h-1.4zM366.3 708.1h1.4v1.4h-1.4zM356.6 691.9h1.4v1.4h-1.4zM369.2 685.3h1.4v1.4h-1.4zM370.0 687.8h1.4v1.4h-1.4zM365.9 663.2h1.4v1.4h-1.4zM358.7 677.2h1.4v1.4h-1.4zM363.5 666.7h1.4v1.4h-1.4zM362.3 687.5h1.4v1.4h-1.4zM368.2 677.8h1.4v1.4h-1.4zM357.7 698.7h1.4v1.4h-1.4zM371.3 706.1h1.4v1.4h-1.4zM367.1 686.4h1.4v1.4h-1.4zM363.6 681.6h1.4v1.4h-1.4zM369.2 698.7h1.4v1.4h-1.4zM357.1 673.2h1.4v1.4h-1.4zM351.2 687.2h1.4v1.4h-1.4zM354.5 662.2h1.4v1.4h-1.4zM354.6 675.1h1.4v1.4h-1.4zM351.8 678.9h1.4v1.4h-1.4zM351.7 687.0h1.4v1.4h-1.4zM354.4 693.9h1.4v1.4h-1.4zM353.0 689.5h1.4v1.4h-1.4zM355.3 675.2h1.4v1.4h-1.4zM355.0 680.5h1.4v1.4h-1.4zM350.2 667.0h1.4v1.4h-1.4zM353.0 691.6h1.4v1.4h-1.4zM356.4 663.1h1.4v1.4h-1.4zM352.3 662.9h1.4v1.4h-1.4zM349.5 686.4h1.4v1.4h-1.4zM349.9 668.5h1.4v1.4h-1.4zM354.6 689.5h1.4v1.4h-1.4zM349.8 666.1h1.4v1.4h-1.4zM350.1 681.9h1.4v1.4h-1.4zM351.4 685.0h1.4v1.4h-1.4zM347.7 669.6h1.4v1.4h-1.4zM354.0 666.1h1.4v1.4h-1.4zM353.1 670.0h1.4v1.4h-1.4zM354.9 678.9h1.4v1.4h-1.4zM349.8 666.9h1.4v1.4h-1.4zM352.7 671.0h1.4v1.4h-1.4zM354.5 673.0h1.4v1.4h-1.4zM350.9 689.4h1.4v1.4h-1.4zM348.2 666.4h1.4v1.4h-1.4zM353.4 678.6h1.4v1.4h-1.4zM353.5 679.9h1.4v1.4h-1.4zM355.2 686.0h1.4v1.4h-1.4zM356.7 662.2h1.4v1.4h-1.4zM350.5 662.7h1.4v1.4h-1.4zM355.6 668.7h1.4v1.4h-1.4z" fill="#88B0CC"/><path d="M180.3 689.3h1.4v1.4h-1.4zM177.1 683.6h1.4v1.4h-1.4zM177.7 689.0h1.4v1.4h-1.4zM179.9 683.7h1.4v1.4h-1.4zM181.5 684.5h1.4v1.4h-1.4zM171.7 689.8h1.4v1.4h-1.4zM179.2 683.6h1.4v1.4h-1.4zM175.3 686.1h1.4v1.4h-1.4zM178.4 685.8h1.4v1.4h-1.4zM174.5 683.2h1.4v1.4h-1.4zM177.3 690.8h1.4v1.4h-1.4zM176.3 686.1h1.4v1.4h-1.4zM174.8 688.9h1.4v1.4h-1.4zM171.8 685.1h1.4v1.4h-1.4zM172.1 691.2h1.4v1.4h-1.4zM172.8 688.1h1.4v1.4h-1.4zM173.5 691.1h1.4v1.4h-1.4zM173.7 689.0h1.4v1.4h-1.4zM182.1 685.9h1.4v1.4h-1.4zM172.8 687.7h1.4v1.4h-1.4zM173.8 691.1h1.4v1.4h-1.4zM173.4 686.4h1.4v1.4h-1.4zM175.8 689.0h1.4v1.4h-1.4zM177.0 689.4h1.4v1.4h-1.4zM174.9 686.6h1.4v1.4h-1.4zM179.7 687.9h1.4v1.4h-1.4zM176.6 686.5h1.4v1.4h-1.4zM170.1 689.5h1.4v1.4h-1.4zM182.6 683.5h1.4v1.4h-1.4zM172.3 687.5h1.4v1.4h-1.4zM172.0 689.5h1.4v1.4h-1.4zM179.6 686.4h1.4v1.4h-1.4zM183.0 687.1h1.4v1.4h-1.4zM172.9 686.3h1.4v1.4h-1.4zM178.8 684.7h1.4v1.4h-1.4zM181.2 685.9h1.4v1.4h-1.4zM176.1 686.9h1.4v1.4h-1.4zM180.9 683.4h1.4v1.4h-1.4zM173.0 687.2h1.4v1.4h-1.4zM172.2 688.5h1.4v1.4h-1.4zM183.2 685.9h1.4v1.4h-1.4zM182.7 685.3h1.4v1.4h-1.4zM183.6 687.0h1.4v1.4h-1.4zM183.0 683.0h1.4v1.4h-1.4zM181.8 685.1h1.4v1.4h-1.4zM170.6 685.3h1.4v1.4h-1.4zM182.4 684.9h1.4v1.4h-1.4zM180.2 682.4h1.4v1.4h-1.4zM178.6 688.2h1.4v1.4h-1.4zM174.0 686.9h1.4v1.4h-1.4zM169.4 684.9h1.4v1.4h-1.4zM175.5 690.6h1.4v1.4h-1.4zM176.3 687.0h1.4v1.4h-1.4zM171.0 690.7h1.4v1.4h-1.4zM180.1 682.8h1.4v1.4h-1.4zM176.5 682.8h1.4v1.4h-1.4zM172.1 686.0h1.4v1.4h-1.4zM171.6 684.8h1.4v1.4h-1.4zM181.3 686.9h1.4v1.4h-1.4zM173.1 684.5h1.4v1.4h-1.4zM182.7 686.3h1.4v1.4h-1.4zM173.9 686.3h1.4v1.4h-1.4zM183.4 685.3h1.4v1.4h-1.4zM178.9 685.2h1.4v1.4h-1.4zM177.6 684.8h1.4v1.4h-1.4zM179.5 686.6h1.4v1.4h-1.4zM174.6 684.8h1.4v1.4h-1.4zM171.7 690.2h1.4v1.4h-1.4zM177.5 689.9h1.4v1.4h-1.4zM175.7 685.5h1.4v1.4h-1.4zM171.0 685.3h1.4v1.4h-1.4zM178.6 684.5h1.4v1.4h-1.4zM180.9 684.0h1.4v1.4h-1.4zM174.4 690.4h1.4v1.4h-1.4zM184.0 682.4h1.4v1.4h-1.4zM173.9 689.9h1.4v1.4h-1.4zM178.6 684.7h1.4v1.4h-1.4zM176.3 684.0h1.4v1.4h-1.4zM180.3 684.2h1.4v1.4h-1.4zM180.6 682.7h1.4v1.4h-1.4zM175.8 689.0h1.4v1.4h-1.4zM174.7 688.2h1.4v1.4h-1.4zM171.2 687.8h1.4v1.4h-1.4zM182.5 686.0h1.4v1.4h-1.4zM175.8 687.4h1.4v1.4h-1.4zM174.8 689.6h1.4v1.4h-1.4zM180.8 683.8h1.4v1.4h-1.4zM181.3 687.5h1.4v1.4h-1.4zM182.9 683.5h1.4v1.4h-1.4zM177.5 688.8h1.4v1.4h-1.4zM171.1 686.4h1.4v1.4h-1.4zM178.2 686.4h1.4v1.4h-1.4zM183.2 684.6h1.4v1.4h-1.4zM172.5 685.8h1.4v1.4h-1.4zM177.7 690.0h1.4v1.4h-1.4zM170.5 685.9h1.4v1.4h-1.4zM178.6 690.5h1.4v1.4h-1.4zM170.9 687.5h1.4v1.4h-1.4zM183.0 683.6h1.4v1.4h-1.4zM174.0 687.3h1.4v1.4h-1.4zM180.6 684.7h1.4v1.4h-1.4zM184.5 686.1h1.4v1.4h-1.4zM180.7 689.5h1.4v1.4h-1.4zM335.8 684.1h1.4v1.4h-1.4zM337.1 682.7h1.4v1.4h-1.4zM337.0 686.8h1.4v1.4h-1.4zM338.0 684.4h1.4v1.4h-1.4zM338.8 683.1h1.4v1.4h-1.4zM337.4 685.4h1.4v1.4h-1.4zM329.4 689.5h1.4v1.4h-1.4zM334.3 685.8h1.4v1.4h-1.4zM341.4 683.8h1.4v1.4h-1.4zM327.9 687.6h1.4v1.4h-1.4zM337.6 685.1h1.4v1.4h-1.4zM335.2 687.1h1.4v1.4h-1.4zM328.3 687.8h1.4v1.4h-1.4zM340.0 685.3h1.4v1.4h-1.4zM337.1 683.2h1.4v1.4h-1.4zM337.9 687.5h1.4v1.4h-1.4zM335.6 688.6h1.4v1.4h-1.4zM336.1 690.0h1.4v1.4h-1.4zM338.5 685.5h1.4v1.4h-1.4zM336.8 685.0h1.4v1.4h-1.4zM337.3 688.5h1.4v1.4h-1.4zM343.9 682.8h1.4v1.4h-1.4zM332.0 687.9h1.4v1.4h-1.4zM329.7 688.2h1.4v1.4h-1.4zM332.0 687.5h1.4v1.4h-1.4zM342.2 686.0h1.4v1.4h-1.4zM334.6 685.7h1.4v1.4h-1.4zM337.0 685.4h1.4v1.4h-1.4zM332.2 687.7h1.4v1.4h-1.4zM334.6 688.2h1.4v1.4h-1.4zM334.3 683.7h1.4v1.4h-1.4zM337.5 686.0h1.4v1.4h-1.4z" fill="#C070E8"/><path d="M167.0 706.0h1.4v1.4h-1.4zM166.1 716.6h1.4v1.4h-1.4zM164.2 711.6h1.4v1.4h-1.4zM167.9 712.5h1.4v1.4h-1.4zM165.5 715.9h1.4v1.4h-1.4zM166.7 713.5h1.4v1.4h-1.4zM162.4 714.7h1.4v1.4h-1.4zM164.3 712.0h1.4v1.4h-1.4zM165.8 712.7h1.4v1.4h-1.4zM168.0 714.2h1.4v1.4h-1.4zM167.0 715.2h1.4v1.4h-1.4zM170.7 707.4h1.4v1.4h-1.4zM164.4 709.3h1.4v1.4h-1.4zM164.8 711.6h1.4v1.4h-1.4zM164.4 711.0h1.4v1.4h-1.4zM167.7 708.6h1.4v1.4h-1.4zM169.3 714.8h1.4v1.4h-1.4zM167.1 710.9h1.4v1.4h-1.4zM171.4 709.4h1.4v1.4h-1.4zM162.1 715.4h1.4v1.4h-1.4zM325.3 707.2h1.4v1.4h-1.4zM321.9 711.7h1.4v1.4h-1.4zM325.4 710.8h1.4v1.4h-1.4zM319.7 709.7h1.4v1.4h-1.4zM317.4 712.5h1.4v1.4h-1.4zM327.1 709.0h1.4v1.4h-1.4zM324.1 716.2h1.4v1.4h-1.4zM326.2 715.0h1.4v1.4h-1.4zM325.3 712.4h1.4v1.4h-1.4zM327.5 708.6h1.4v1.4h-1.4zM327.6 712.4h1.4v1.4h-1.4zM322.5 709.4h1.4v1.4h-1.4zM322.3 706.8h1.4v1.4h-1.4zM325.5 710.5h1.4v1.4h-1.4zM318.8 712.2h1.4v1.4h-1.4zM317.4 708.0h1.4v1.4h-1.4zM328.1 710.1h1.4v1.4h-1.4zM318.4 710.1h1.4v1.4h-1.4zM326.8 714.2h1.4v1.4h-1.4zM315.4 711.6h1.4v1.4h-1.4zM323.2 707.2h1.4v1.4h-1.4zM326.5 716.2h1.4v1.4h-1.4zM324.4 714.0h1.4v1.4h-1.4zM327.8 707.1h1.4v1.4h-1.4zM329.3 711.0h1.4v1.4h-1.4zM325.4 709.4h1.4v1.4h-1.4zM322.8 710.7h1.4v1.4h-1.4zM324.0 715.5h1.4v1.4h-1.4zM319.3 710.7h1.4v1.4h-1.4zM324.0 708.2h1.4v1.4h-1.4zM323.6 718.0h1.4v1.4h-1.4zM324.7 712.0h1.4v1.4h-1.4zM326.4 708.4h1.4v1.4h-1.4zM322.2 714.2h1.4v1.4h-1.4zM325.3 712.6h1.4v1.4h-1.4zM327.6 717.0h1.4v1.4h-1.4zM317.1 707.2h1.4v1.4h-1.4zM322.4 714.0h1.4v1.4h-1.4zM327.6 706.6h1.4v1.4h-1.4zM329.9 717.3h1.4v1.4h-1.4zM324.6 711.6h1.4v1.4h-1.4zM332.0 714.9h1.4v1.4h-1.4zM322.1 711.9h1.4v1.4h-1.4zM323.0 713.8h1.4v1.4h-1.4zM330.2 712.2h1.4v1.4h-1.4zM321.0 710.1h1.4v1.4h-1.4zM323.4 707.1h1.4v1.4h-1.4zM327.9 708.6h1.4v1.4h-1.4zM318.4 713.0h1.4v1.4h-1.4zM328.3 714.6h1.4v1.4h-1.4zM321.2 707.6h1.4v1.4h-1.4zM322.3 708.6h1.4v1.4h-1.4zM322.9 707.3h1.4v1.4h-1.4zM322.6 707.0h1.4v1.4h-1.4zM321.0 710.0h1.4v1.4h-1.4zM322.5 710.5h1.4v1.4h-1.4z" fill="#F1C8E6"/><path d="M151.1 604.1h1.5v1.5h-1.5zM146.5 599.9h1.5v1.5h-1.5zM146.1 602.1h1.5v1.5h-1.5zM148.9 602.4h1.5v1.5h-1.5zM147.9 599.4h1.5v1.5h-1.5zM149.9 600.5h1.5v1.5h-1.5zM152.8 604.3h1.5v1.5h-1.5zM147.0 608.7h1.5v1.5h-1.5zM151.6 600.1h1.5v1.5h-1.5zM147.9 598.5h1.5v1.5h-1.5zM147.9 600.2h1.5v1.5h-1.5zM150.2 603.6h1.5v1.5h-1.5zM152.9 595.8h1.5v1.5h-1.5zM153.9 602.2h1.5v1.5h-1.5zM145.2 606.0h1.5v1.5h-1.5zM151.6 605.7h1.5v1.5h-1.5zM152.7 597.2h1.5v1.5h-1.5zM147.9 609.3h1.5v1.5h-1.5zM148.3 607.1h1.5v1.5h-1.5zM154.4 606.3h1.5v1.5h-1.5zM153.4 602.3h1.5v1.5h-1.5zM150.0 600.7h1.5v1.5h-1.5zM146.4 601.6h1.5v1.5h-1.5zM148.4 608.6h1.5v1.5h-1.5zM148.3 602.3h1.5v1.5h-1.5zM146.7 604.9h1.5v1.5h-1.5zM144.5 608.8h1.5v1.5h-1.5zM152.1 604.3h1.5v1.5h-1.5zM151.0 603.6h1.5v1.5h-1.5zM148.8 603.4h1.5v1.5h-1.5zM143.7 605.0h1.5v1.5h-1.5zM149.4 596.8h1.5v1.5h-1.5zM148.4 608.2h1.5v1.5h-1.5zM151.2 604.4h1.5v1.5h-1.5zM147.6 609.3h1.5v1.5h-1.5zM149.2 609.2h1.5v1.5h-1.5zM149.0 597.2h1.5v1.5h-1.5zM148.7 603.3h1.5v1.5h-1.5zM147.6 600.5h1.5v1.5h-1.5zM148.8 608.1h1.5v1.5h-1.5zM150.3 600.2h1.5v1.5h-1.5zM146.0 603.7h1.5v1.5h-1.5zM152.1 603.4h1.5v1.5h-1.5zM150.4 598.2h1.5v1.5h-1.5zM146.4 603.1h1.5v1.5h-1.5zM151.1 607.3h1.5v1.5h-1.5zM151.5 599.9h1.5v1.5h-1.5zM151.8 604.8h1.5v1.5h-1.5zM144.0 604.0h1.5v1.5h-1.5zM147.6 603.0h1.5v1.5h-1.5zM146.5 601.1h1.5v1.5h-1.5zM153.4 606.9h1.5v1.5h-1.5zM148.6 598.8h1.5v1.5h-1.5zM146.9 602.3h1.5v1.5h-1.5zM153.6 596.0h1.5v1.5h-1.5zM154.6 603.2h1.5v1.5h-1.5zM151.7 605.2h1.5v1.5h-1.5zM154.1 602.0h1.5v1.5h-1.5zM150.0 603.0h1.5v1.5h-1.5zM146.5 605.8h1.5v1.5h-1.5zM147.2 609.2h1.5v1.5h-1.5zM152.7 605.9h1.5v1.5h-1.5zM150.4 609.5h1.5v1.5h-1.5zM147.2 607.9h1.5v1.5h-1.5zM147.3 605.3h1.5v1.5h-1.5zM151.5 604.6h1.5v1.5h-1.5zM147.2 610.9h1.5v1.5h-1.5zM151.6 597.6h1.5v1.5h-1.5zM149.1 607.4h1.5v1.5h-1.5zM148.6 601.1h1.5v1.5h-1.5zM145.0 604.4h1.5v1.5h-1.5zM152.0 595.8h1.5v1.5h-1.5zM152.9 599.9h1.5v1.5h-1.5zM150.5 597.4h1.5v1.5h-1.5zM146.6 602.0h1.5v1.5h-1.5zM149.8 603.9h1.5v1.5h-1.5zM149.2 609.2h1.5v1.5h-1.5zM147.3 599.7h1.5v1.5h-1.5zM153.3 603.6h1.5v1.5h-1.5zM150.6 597.4h1.5v1.5h-1.5zM148.6 599.4h1.5v1.5h-1.5zM151.4 596.7h1.5v1.5h-1.5zM149.3 597.9h1.5v1.5h-1.5zM147.6 608.5h1.5v1.5h-1.5zM150.6 596.6h1.5v1.5h-1.5zM149.5 606.5h1.5v1.5h-1.5zM150.7 607.9h1.5v1.5h-1.5zM153.2 599.2h1.5v1.5h-1.5zM148.3 602.5h1.5v1.5h-1.5zM152.6 597.6h1.5v1.5h-1.5zM145.6 602.7h1.5v1.5h-1.5zM149.3 601.8h1.5v1.5h-1.5zM151.8 609.3h1.5v1.5h-1.5zM146.1 609.6h1.5v1.5h-1.5zM146.5 606.4h1.5v1.5h-1.5zM153.9 598.0h1.5v1.5h-1.5zM152.3 596.7h1.5v1.5h-1.5zM150.1 601.2h1.5v1.5h-1.5zM153.3 604.5h1.5v1.5h-1.5zM153.3 600.2h1.5v1.5h-1.5zM144.9 602.9h1.5v1.5h-1.5zM147.7 599.3h1.5v1.5h-1.5zM152.8 605.4h1.5v1.5h-1.5zM145.2 609.0h1.5v1.5h-1.5zM144.5 603.0h1.5v1.5h-1.5zM148.9 602.2h1.5v1.5h-1.5zM155.2 603.1h1.5v1.5h-1.5zM146.0 600.3h1.5v1.5h-1.5zM145.3 608.6h1.5v1.5h-1.5zM148.6 605.1h1.5v1.5h-1.5zM145.8 599.5h1.5v1.5h-1.5zM153.2 602.4h1.5v1.5h-1.5zM151.0 600.5h1.5v1.5h-1.5zM152.6 601.6h1.5v1.5h-1.5zM146.4 603.3h1.5v1.5h-1.5zM150.4 605.4h1.5v1.5h-1.5zM144.5 605.7h1.5v1.5h-1.5zM148.4 601.8h1.5v1.5h-1.5zM153.8 600.7h1.5v1.5h-1.5zM146.2 606.0h1.5v1.5h-1.5zM146.0 610.0h1.5v1.5h-1.5zM146.8 604.5h1.5v1.5h-1.5zM149.5 600.3h1.5v1.5h-1.5zM146.6 605.3h1.5v1.5h-1.5zM152.9 601.4h1.5v1.5h-1.5zM145.9 608.1h1.5v1.5h-1.5zM153.2 596.1h1.5v1.5h-1.5zM145.2 602.7h1.5v1.5h-1.5zM148.1 609.0h1.5v1.5h-1.5zM148.9 607.3h1.5v1.5h-1.5zM148.2 604.1h1.5v1.5h-1.5zM144.6 609.2h1.5v1.5h-1.5zM147.5 603.8h1.5v1.5h-1.5zM152.1 600.8h1.5v1.5h-1.5zM148.4 604.5h1.5v1.5h-1.5zM148.8 602.1h1.5v1.5h-1.5zM149.5 610.4h1.5v1.5h-1.5zM149.4 596.2h1.5v1.5h-1.5zM147.8 598.6h1.5v1.5h-1.5zM145.5 607.3h1.5v1.5h-1.5zM154.6 596.4h1.5v1.5h-1.5zM151.7 597.4h1.5v1.5h-1.5zM146.4 608.1h1.4v1.4h-1.4zM136.2 611.8h1.4v1.4h-1.4zM131.9 615.3h1.4v1.4h-1.4zM142.7 606.6h1.4v1.4h-1.4zM131.5 614.5h1.4v1.4h-1.4zM142.9 610.7h1.4v1.4h-1.4zM137.7 609.9h1.4v1.4h-1.4zM135.1 615.1h1.4v1.4h-1.4zM134.9 611.0h1.4v1.4h-1.4zM131.4 613.5h1.4v1.4h-1.4zM131.6 614.6h1.4v1.4h-1.4zM138.6 610.6h1.4v1.4h-1.4zM138.1 611.4h1.4v1.4h-1.4zM135.8 609.9h1.4v1.4h-1.4zM146.6 608.0h1.4v1.4h-1.4zM138.5 609.1h1.4v1.4h-1.4zM135.2 608.7h1.4v1.4h-1.4zM147.6 604.3h1.4v1.4h-1.4zM141.1 606.3h1.4v1.4h-1.4z" fill="#D8D8D8"/></g><ellipse cx="131.9" cy="659.35" rx="16.7" ry="37.15" fill="none" stroke="#DC3A2C" stroke-width="1.3"/><ellipse cx="290.0" cy="659.55" rx="16.8" ry="37.45" fill="none" stroke="#DC3A2C" stroke-width="1.3"/><path d="M306.5 602 A4 4 0 0 1 310.5 608.5" fill="none" stroke="#D0D0D0" stroke-width="1.0"/><circle cx="396.7" cy="622.30" r="2.9" fill="#AFF1DE"/><text x="408.70" y="626.10" font-size="7.0" text-anchor="start" fill="#000" stroke="#000" stroke-width="0.22">monocyte</text><circle cx="396.7" cy="634.60" r="2.9" fill="#EEF5B0"/><text x="408.70" y="638.32" font-size="7.0" text-anchor="start" fill="#000" stroke="#000" stroke-width="0.22">FTL+macro</text><circle cx="396.7" cy="646.90" r="2.9" fill="#C5C0EA"/><text x="408.70" y="650.54" font-size="7.0" text-anchor="start" fill="#000" stroke="#000" stroke-width="0.22">FOLR2+macro</text><circle cx="396.7" cy="659.20" r="2.9" fill="#F07A78"/><text x="408.70" y="662.76" font-size="7.0" text-anchor="start" fill="#000" stroke="#000" stroke-width="0.22">SPP1+macro</text><circle cx="396.7" cy="671.50" r="2.9" fill="#88B0CC"/><text x="408.70" y="674.98" font-size="7.0" text-anchor="start" fill="#000" stroke="#000" stroke-width="0.22">IL32+macro</text><circle cx="396.7" cy="683.80" r="2.9" fill="#EBA868"/><text x="408.70" y="687.20" font-size="7.0" text-anchor="start" fill="#000" stroke="#000" stroke-width="0.22">CXCL10+macro</text><circle cx="396.7" cy="696.10" r="2.9" fill="#C0F07A"/><text x="408.70" y="699.42" font-size="7.0" text-anchor="start" fill="#000" stroke="#000" stroke-width="0.22">STMN1+macro</text><circle cx="396.7" cy="708.40" r="2.9" fill="#F1C8E6"/><text x="408.70" y="711.64" font-size="7.0" text-anchor="start" fill="#000" stroke="#000" stroke-width="0.22">CCR7+macro</text><circle cx="396.7" cy="720.70" r="2.9" fill="#D8D8D8"/><text x="408.70" y="723.86" font-size="7.0" text-anchor="start" fill="#000" stroke="#000" stroke-width="0.22">CTSK+macro</text><circle cx="396.7" cy="733.00" r="2.9" fill="#C070E8"/><text x="408.70" y="736.08" font-size="7.0" text-anchor="start" fill="#000" stroke="#000" stroke-width="0.22">IG+macro</text>
</svg></body></html>
